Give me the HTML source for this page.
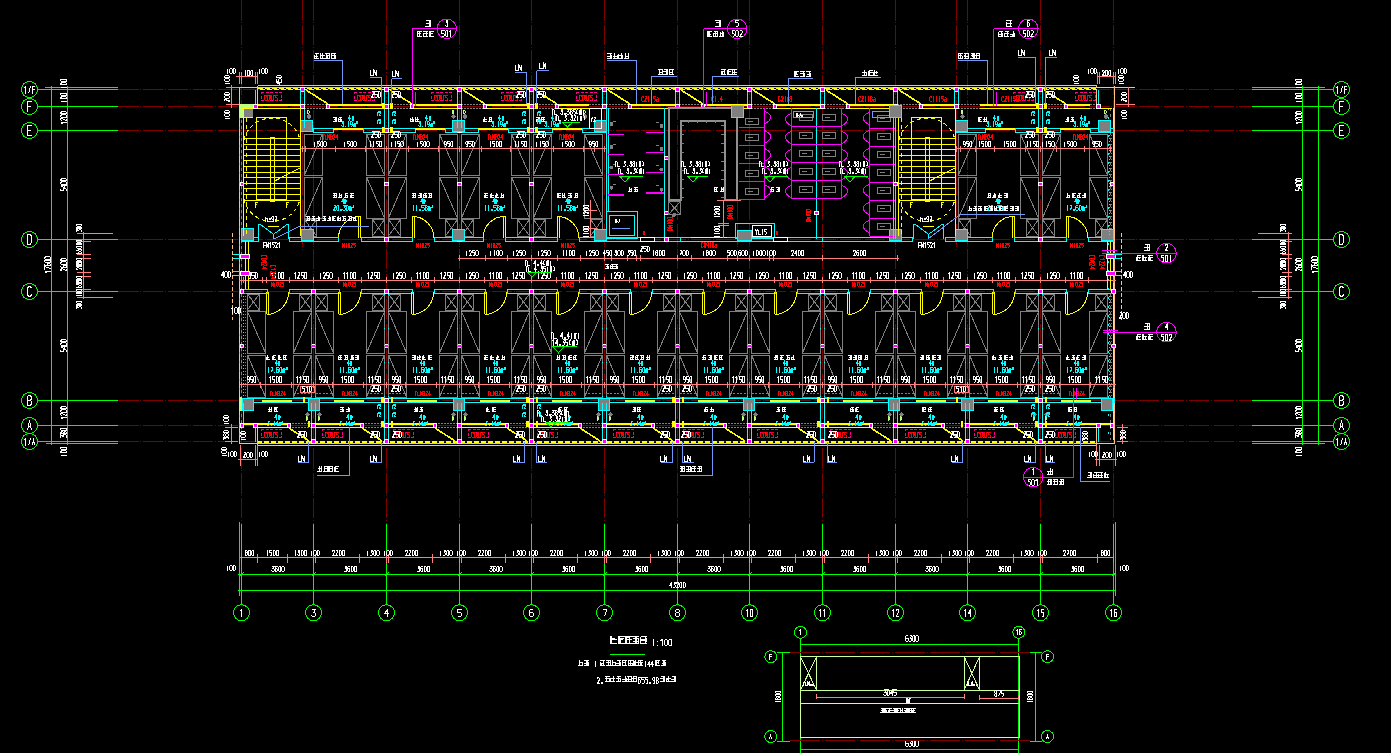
<!DOCTYPE html>
<html><head><meta charset="utf-8"><style>
html,body{margin:0;padding:0;background:#000;width:1391px;height:753px;overflow:hidden}
svg{display:block;font-family:"Liberation Sans",sans-serif}
</style></head><body>
<svg width="1391" height="753" viewBox="0 0 1391 753" shape-rendering="crispEdges" text-rendering="optimizeSpeed">
<rect x="0" y="0" width="1391" height="753" fill="#000"/>
<line x1="241.5" y1="0" x2="241.5" y2="524" stroke="#800000" stroke-dasharray="20.5,1.8,0.8,1.8"/>
<line x1="313.5" y1="0" x2="313.5" y2="524" stroke="#800000" stroke-dasharray="20.5,1.8,0.8,1.8"/>
<line x1="386.5" y1="0" x2="386.5" y2="524" stroke="#800000" stroke-dasharray="20.5,1.8,0.8,1.8"/>
<line x1="459.5" y1="0" x2="459.5" y2="524" stroke="#800000" stroke-dasharray="20.5,1.8,0.8,1.8"/>
<line x1="531.5" y1="0" x2="531.5" y2="524" stroke="#800000" stroke-dasharray="20.5,1.8,0.8,1.8"/>
<line x1="604.5" y1="0" x2="604.5" y2="524" stroke="#800000" stroke-dasharray="20.5,1.8,0.8,1.8"/>
<line x1="677.5" y1="0" x2="677.5" y2="524" stroke="#800000" stroke-dasharray="20.5,1.8,0.8,1.8"/>
<line x1="749.5" y1="0" x2="749.5" y2="524" stroke="#800000" stroke-dasharray="20.5,1.8,0.8,1.8"/>
<line x1="822.5" y1="0" x2="822.5" y2="524" stroke="#800000" stroke-dasharray="20.5,1.8,0.8,1.8"/>
<line x1="895.5" y1="0" x2="895.5" y2="524" stroke="#800000" stroke-dasharray="20.5,1.8,0.8,1.8"/>
<line x1="967.5" y1="0" x2="967.5" y2="524" stroke="#800000" stroke-dasharray="20.5,1.8,0.8,1.8"/>
<line x1="1040.5" y1="0" x2="1040.5" y2="524" stroke="#800000" stroke-dasharray="20.5,1.8,0.8,1.8"/>
<line x1="1113.5" y1="0" x2="1113.5" y2="524" stroke="#800000" stroke-dasharray="20.5,1.8,0.8,1.8"/>
<line x1="302.5" y1="0" x2="302.5" y2="250" stroke="#800000" stroke-dasharray="20.5,1.8,0.8,1.8"/>
<line x1="737.5" y1="0" x2="737.5" y2="250" stroke="#800000" stroke-dasharray="20.5,1.8,0.8,1.8"/>
<line x1="956.5" y1="0" x2="956.5" y2="250" stroke="#800000" stroke-dasharray="20.5,1.8,0.8,1.8"/>
<line x1="118" y1="89.5" x2="1252" y2="89.5" stroke="#800000" stroke-dasharray="20.5,1.8,0.8,1.8"/>
<line x1="118" y1="106.5" x2="1252" y2="106.5" stroke="#800000" stroke-dasharray="20.5,1.8,0.8,1.8"/>
<line x1="118" y1="130.5" x2="1252" y2="130.5" stroke="#800000" stroke-dasharray="20.5,1.8,0.8,1.8"/>
<line x1="118" y1="239.5" x2="1252" y2="239.5" stroke="#800000" stroke-dasharray="20.5,1.8,0.8,1.8"/>
<line x1="118" y1="291.5" x2="1252" y2="291.5" stroke="#800000" stroke-dasharray="20.5,1.8,0.8,1.8"/>
<line x1="118" y1="400.5" x2="1252" y2="400.5" stroke="#800000" stroke-dasharray="20.5,1.8,0.8,1.8"/>
<line x1="118" y1="425.5" x2="1252" y2="425.5" stroke="#800000" stroke-dasharray="20.5,1.8,0.8,1.8"/>
<line x1="118" y1="441.5" x2="1252" y2="441.5" stroke="#800000" stroke-dasharray="20.5,1.8,0.8,1.8"/>
<line x1="38" y1="89.5" x2="118" y2="89.5" stroke="#00ff00"/>
<line x1="1252" y1="89.5" x2="1333" y2="89.5" stroke="#00ff00"/>
<circle cx="29.5" cy="89.5" r="8" stroke="#00ff00" fill="none"/>
<circle cx="1341.5" cy="89.5" r="8" stroke="#00ff00" fill="none"/>
<line x1="38" y1="106.5" x2="118" y2="106.5" stroke="#00ff00"/>
<line x1="1252" y1="106.5" x2="1333" y2="106.5" stroke="#00ff00"/>
<circle cx="29.5" cy="106.5" r="8" stroke="#00ff00" fill="none"/>
<circle cx="1341.5" cy="106.5" r="8" stroke="#00ff00" fill="none"/>
<line x1="38" y1="130.5" x2="118" y2="130.5" stroke="#00ff00"/>
<line x1="1252" y1="130.5" x2="1333" y2="130.5" stroke="#00ff00"/>
<circle cx="29.5" cy="130.5" r="8" stroke="#00ff00" fill="none"/>
<circle cx="1341.5" cy="130.5" r="8" stroke="#00ff00" fill="none"/>
<line x1="38" y1="239.5" x2="118" y2="239.5" stroke="#00ff00"/>
<line x1="1252" y1="239.5" x2="1333" y2="239.5" stroke="#00ff00"/>
<circle cx="29.5" cy="239.5" r="8" stroke="#00ff00" fill="none"/>
<circle cx="1341.5" cy="239.5" r="8" stroke="#00ff00" fill="none"/>
<line x1="38" y1="291.5" x2="118" y2="291.5" stroke="#00ff00"/>
<line x1="1252" y1="291.5" x2="1333" y2="291.5" stroke="#00ff00"/>
<circle cx="29.5" cy="291.5" r="8" stroke="#00ff00" fill="none"/>
<circle cx="1341.5" cy="291.5" r="8" stroke="#00ff00" fill="none"/>
<line x1="38" y1="400.5" x2="118" y2="400.5" stroke="#00ff00"/>
<line x1="1252" y1="400.5" x2="1333" y2="400.5" stroke="#00ff00"/>
<circle cx="29.5" cy="400.5" r="8" stroke="#00ff00" fill="none"/>
<circle cx="1341.5" cy="400.5" r="8" stroke="#00ff00" fill="none"/>
<line x1="38" y1="425.5" x2="118" y2="425.5" stroke="#00ff00"/>
<line x1="1252" y1="425.5" x2="1333" y2="425.5" stroke="#00ff00"/>
<circle cx="29.5" cy="425.5" r="8" stroke="#00ff00" fill="none"/>
<circle cx="1341.5" cy="425.5" r="8" stroke="#00ff00" fill="none"/>
<line x1="38" y1="441.5" x2="118" y2="441.5" stroke="#00ff00"/>
<line x1="1252" y1="441.5" x2="1333" y2="441.5" stroke="#00ff00"/>
<circle cx="29.5" cy="441.5" r="8" stroke="#00ff00" fill="none"/>
<circle cx="1341.5" cy="441.5" r="8" stroke="#00ff00" fill="none"/>
<path d="M24.5 88.5L25.5 86.5L25.5 93.5 M28.5 93.5L30.5 86.5 M34.5 86.5L32.5 86.5L32.5 93.5M32.5 89.5L34.5 89.5 " stroke="#ffffff" fill="none"/>
<path d="M1336.5 88.5L1337.5 86.5L1337.5 93.5 M1340.5 93.5L1342.5 86.5 M1346.5 86.5L1344.5 86.5L1344.5 93.5M1344.5 89.5L1346.5 89.5 " stroke="#ffffff" fill="none"/>
<path d="M31.5 101.5L27.5 101.5L27.5 111.5M27.5 106.5L30.5 106.5 " stroke="#ffffff" fill="none"/>
<path d="M1343.5 101.5L1339.5 101.5L1339.5 111.5M1339.5 106.5L1342.5 106.5 " stroke="#ffffff" fill="none"/>
<path d="M31.5 125.5L27.5 125.5L27.5 135.5L31.5 135.5M27.5 130.5L30.5 130.5 " stroke="#ffffff" fill="none"/>
<path d="M1343.5 125.5L1339.5 125.5L1339.5 135.5L1343.5 135.5M1339.5 130.5L1342.5 130.5 " stroke="#ffffff" fill="none"/>
<path d="M27.5 234.5L30.5 234.5L31.5 236.5L31.5 241.5L30.5 244.5L27.5 244.5Z" stroke="#ffffff" fill="none"/>
<path d="M1339.5 234.5L1342.5 234.5L1343.5 236.5L1343.5 241.5L1342.5 244.5L1339.5 244.5Z" stroke="#ffffff" fill="none"/>
<path d="M31.5 288.5L30.5 286.5L28.5 286.5L27.5 288.5L27.5 294.5L28.5 296.5L30.5 296.5L31.5 294.5 " stroke="#ffffff" fill="none"/>
<path d="M1343.5 288.5L1342.5 286.5L1340.5 286.5L1339.5 288.5L1339.5 294.5L1340.5 296.5L1342.5 296.5L1343.5 294.5 " stroke="#ffffff" fill="none"/>
<path d="M27.5 395.5L30.5 395.5L31.5 397.5L31.5 398.5L30.5 400.5L27.5 400.5M30.5 400.5L31.5 401.5L31.5 403.5L30.5 405.5L27.5 405.5L27.5 395.5 " stroke="#ffffff" fill="none"/>
<path d="M1339.5 395.5L1342.5 395.5L1343.5 397.5L1343.5 398.5L1342.5 400.5L1339.5 400.5M1342.5 400.5L1343.5 401.5L1343.5 403.5L1342.5 405.5L1339.5 405.5L1339.5 395.5 " stroke="#ffffff" fill="none"/>
<path d="M27.5 430.5L29.5 420.5L31.5 430.5M28.5 426.5L30.5 426.5 " stroke="#ffffff" fill="none"/>
<path d="M1339.5 430.5L1341.5 420.5L1343.5 430.5M1340.5 426.5L1342.5 426.5 " stroke="#ffffff" fill="none"/>
<path d="M24.5 440.5L25.5 438.5L25.5 445.5 M28.5 445.5L30.5 438.5 M32.5 445.5L33.5 438.5L34.5 445.5M32.5 442.5L34.5 442.5 " stroke="#ffffff" fill="none"/>
<path d="M1336.5 440.5L1337.5 438.5L1337.5 445.5 M1340.5 445.5L1342.5 438.5 M1344.5 445.5L1345.5 438.5L1346.5 445.5M1344.5 442.5L1346.5 442.5 " stroke="#ffffff" fill="none"/>
<line x1="51.5" y1="86" x2="51.5" y2="445" stroke="#00ff00"/>
<line x1="67.5" y1="86" x2="67.5" y2="445" stroke="#00ff00"/>
<line x1="1302.5" y1="86" x2="1302.5" y2="445" stroke="#00ff00"/>
<line x1="1318.5" y1="86" x2="1318.5" y2="445" stroke="#00ff00"/>
<line x1="45" y1="87.5" x2="118" y2="87.5" stroke="#00ff00"/>
<line x1="1252" y1="87.5" x2="1325" y2="87.5" stroke="#00ff00"/>
<line x1="46" y1="443.5" x2="118" y2="443.5" stroke="#00ff00"/>
<line x1="1252" y1="443.5" x2="1325" y2="443.5" stroke="#00ff00"/>
<path d="M62.5 80.5L62.5 78.5L62.5 84.5 M65.5 78.5L66.5 78.5L67.5 79.5L67.5 83.5L66.5 84.5L65.5 84.5L65.5 83.5L65.5 79.5ZM69.5 78.5L70.5 78.5L70.5 79.5L70.5 83.5L70.5 84.5L69.5 84.5L68.5 83.5L68.5 79.5Z" stroke="#ffffff" fill="none" transform="rotate(-90 66.3 84)"/>
<path d="M62.5 94.5L62.5 92.5L62.5 98.5 M65.5 92.5L66.5 92.5L67.5 93.5L67.5 97.5L66.5 98.5L65.5 98.5L65.5 97.5L65.5 93.5ZM69.5 92.5L70.5 92.5L70.5 93.5L70.5 97.5L70.5 98.5L69.5 98.5L68.5 97.5L68.5 93.5Z" stroke="#ffffff" fill="none" transform="rotate(-90 66.3 98)"/>
<path d="M60.5 114.5L61.5 112.5L61.5 118.5 M63.5 113.5L64.5 112.5L65.5 112.5L65.5 113.5L65.5 114.5L63.5 118.5L65.5 118.5 M67.5 112.5L68.5 112.5L69.5 113.5L69.5 117.5L68.5 118.5L67.5 118.5L66.5 117.5L66.5 113.5ZM70.5 112.5L71.5 112.5L72.5 113.5L72.5 117.5L71.5 118.5L70.5 118.5L70.5 117.5L70.5 113.5Z" stroke="#ffffff" fill="none" transform="rotate(-90 66.3 118)"/>
<path d="M62.5 179.5L60.5 179.5L60.5 182.5L61.5 182.5L62.5 182.5L62.5 184.5L61.5 185.5L60.5 185.5 M65.5 185.5L65.5 179.5L63.5 183.5L65.5 183.5 M67.5 179.5L68.5 179.5L69.5 180.5L69.5 184.5L68.5 185.5L67.5 185.5L66.5 184.5L66.5 180.5ZM70.5 179.5L71.5 179.5L72.5 180.5L72.5 184.5L71.5 185.5L70.5 185.5L70.5 184.5L70.5 180.5Z" stroke="#ffffff" fill="none" transform="rotate(-90 66.3 185)"/>
<path d="M60.5 260.5L60.5 259.5L61.5 259.5L62.5 260.5L62.5 261.5L60.5 265.5L62.5 265.5 M65.5 259.5L64.5 259.5L63.5 260.5L63.5 264.5L64.5 265.5L65.5 265.5L65.5 264.5L65.5 262.5L65.5 262.5L63.5 262.5 M67.5 259.5L68.5 259.5L69.5 260.5L69.5 264.5L68.5 265.5L67.5 265.5L66.5 264.5L66.5 260.5ZM70.5 259.5L71.5 259.5L72.5 260.5L72.5 264.5L71.5 265.5L70.5 265.5L70.5 264.5L70.5 260.5Z" stroke="#ffffff" fill="none" transform="rotate(-90 66.3 265)"/>
<path d="M62.5 340.5L60.5 340.5L60.5 343.5L61.5 343.5L62.5 343.5L62.5 345.5L61.5 346.5L60.5 346.5 M65.5 346.5L65.5 340.5L63.5 344.5L65.5 344.5 M67.5 340.5L68.5 340.5L69.5 341.5L69.5 345.5L68.5 346.5L67.5 346.5L66.5 345.5L66.5 341.5ZM70.5 340.5L71.5 340.5L72.5 341.5L72.5 345.5L71.5 346.5L70.5 346.5L70.5 345.5L70.5 341.5Z" stroke="#ffffff" fill="none" transform="rotate(-90 66.3 346)"/>
<path d="M60.5 409.5L61.5 407.5L61.5 413.5 M63.5 408.5L64.5 407.5L65.5 407.5L65.5 408.5L65.5 409.5L63.5 413.5L65.5 413.5 M67.5 407.5L68.5 407.5L69.5 408.5L69.5 412.5L68.5 413.5L67.5 413.5L66.5 412.5L66.5 408.5ZM70.5 407.5L71.5 407.5L72.5 408.5L72.5 412.5L71.5 413.5L70.5 413.5L70.5 412.5L70.5 408.5Z" stroke="#ffffff" fill="none" transform="rotate(-90 66.3 413)"/>
<path d="M61.5 427.5L64.5 427.5L62.5 430.5L63.5 430.5L64.5 430.5L64.5 432.5L63.5 433.5L62.5 433.5L61.5 432.5 M65.5 427.5L66.5 427.5L67.5 428.5L67.5 429.5L66.5 430.5L65.5 430.5L65.5 429.5L65.5 428.5ZM65.5 430.5L65.5 431.5L65.5 432.5L65.5 433.5L66.5 433.5L67.5 432.5L67.5 431.5L66.5 430.5 M69.5 427.5L70.5 427.5L70.5 428.5L70.5 432.5L70.5 433.5L69.5 433.5L68.5 432.5L68.5 428.5Z" stroke="#ffffff" fill="none" transform="rotate(-90 66.3 433)"/>
<path d="M62.5 448.5L62.5 446.5L62.5 452.5 M65.5 446.5L66.5 446.5L67.5 447.5L67.5 451.5L66.5 452.5L65.5 452.5L65.5 451.5L65.5 447.5ZM69.5 446.5L70.5 446.5L70.5 447.5L70.5 451.5L70.5 452.5L69.5 452.5L68.5 451.5L68.5 447.5Z" stroke="#ffffff" fill="none" transform="rotate(-90 66.3 452)"/>
<path d="M1297.5 80.5L1297.5 78.5L1297.5 84.5 M1300.5 78.5L1301.5 78.5L1302.5 79.5L1302.5 83.5L1301.5 84.5L1300.5 84.5L1300.5 83.5L1300.5 79.5ZM1304.5 78.5L1305.5 78.5L1305.5 79.5L1305.5 83.5L1305.5 84.5L1304.5 84.5L1303.5 83.5L1303.5 79.5Z" stroke="#ffffff" fill="none" transform="rotate(-90 1301.3 84)"/>
<path d="M1297.5 94.5L1297.5 92.5L1297.5 98.5 M1300.5 92.5L1301.5 92.5L1302.5 93.5L1302.5 97.5L1301.5 98.5L1300.5 98.5L1300.5 97.5L1300.5 93.5ZM1304.5 92.5L1305.5 92.5L1305.5 93.5L1305.5 97.5L1305.5 98.5L1304.5 98.5L1303.5 97.5L1303.5 93.5Z" stroke="#ffffff" fill="none" transform="rotate(-90 1301.3 98)"/>
<path d="M1295.5 114.5L1296.5 112.5L1296.5 118.5 M1298.5 113.5L1299.5 112.5L1300.5 112.5L1300.5 113.5L1300.5 114.5L1298.5 118.5L1300.5 118.5 M1302.5 112.5L1303.5 112.5L1304.5 113.5L1304.5 117.5L1303.5 118.5L1302.5 118.5L1301.5 117.5L1301.5 113.5ZM1305.5 112.5L1306.5 112.5L1307.5 113.5L1307.5 117.5L1306.5 118.5L1305.5 118.5L1305.5 117.5L1305.5 113.5Z" stroke="#ffffff" fill="none" transform="rotate(-90 1301.3 118)"/>
<path d="M1297.5 179.5L1295.5 179.5L1295.5 182.5L1296.5 182.5L1297.5 182.5L1297.5 184.5L1296.5 185.5L1295.5 185.5 M1300.5 185.5L1300.5 179.5L1298.5 183.5L1300.5 183.5 M1302.5 179.5L1303.5 179.5L1304.5 180.5L1304.5 184.5L1303.5 185.5L1302.5 185.5L1301.5 184.5L1301.5 180.5ZM1305.5 179.5L1306.5 179.5L1307.5 180.5L1307.5 184.5L1306.5 185.5L1305.5 185.5L1305.5 184.5L1305.5 180.5Z" stroke="#ffffff" fill="none" transform="rotate(-90 1301.3 185)"/>
<path d="M1295.5 260.5L1295.5 259.5L1296.5 259.5L1297.5 260.5L1297.5 261.5L1295.5 265.5L1297.5 265.5 M1300.5 259.5L1299.5 259.5L1298.5 260.5L1298.5 264.5L1299.5 265.5L1300.5 265.5L1300.5 264.5L1300.5 262.5L1300.5 262.5L1298.5 262.5 M1302.5 259.5L1303.5 259.5L1304.5 260.5L1304.5 264.5L1303.5 265.5L1302.5 265.5L1301.5 264.5L1301.5 260.5ZM1305.5 259.5L1306.5 259.5L1307.5 260.5L1307.5 264.5L1306.5 265.5L1305.5 265.5L1305.5 264.5L1305.5 260.5Z" stroke="#ffffff" fill="none" transform="rotate(-90 1301.3 265)"/>
<path d="M1297.5 340.5L1295.5 340.5L1295.5 343.5L1296.5 343.5L1297.5 343.5L1297.5 345.5L1296.5 346.5L1295.5 346.5 M1300.5 346.5L1300.5 340.5L1298.5 344.5L1300.5 344.5 M1302.5 340.5L1303.5 340.5L1304.5 341.5L1304.5 345.5L1303.5 346.5L1302.5 346.5L1301.5 345.5L1301.5 341.5ZM1305.5 340.5L1306.5 340.5L1307.5 341.5L1307.5 345.5L1306.5 346.5L1305.5 346.5L1305.5 345.5L1305.5 341.5Z" stroke="#ffffff" fill="none" transform="rotate(-90 1301.3 346)"/>
<path d="M1295.5 409.5L1296.5 407.5L1296.5 413.5 M1298.5 408.5L1299.5 407.5L1300.5 407.5L1300.5 408.5L1300.5 409.5L1298.5 413.5L1300.5 413.5 M1302.5 407.5L1303.5 407.5L1304.5 408.5L1304.5 412.5L1303.5 413.5L1302.5 413.5L1301.5 412.5L1301.5 408.5ZM1305.5 407.5L1306.5 407.5L1307.5 408.5L1307.5 412.5L1306.5 413.5L1305.5 413.5L1305.5 412.5L1305.5 408.5Z" stroke="#ffffff" fill="none" transform="rotate(-90 1301.3 413)"/>
<path d="M1296.5 427.5L1299.5 427.5L1297.5 430.5L1298.5 430.5L1299.5 430.5L1299.5 432.5L1298.5 433.5L1297.5 433.5L1296.5 432.5 M1300.5 427.5L1301.5 427.5L1302.5 428.5L1302.5 429.5L1301.5 430.5L1300.5 430.5L1300.5 429.5L1300.5 428.5ZM1300.5 430.5L1300.5 431.5L1300.5 432.5L1300.5 433.5L1301.5 433.5L1302.5 432.5L1302.5 431.5L1301.5 430.5 M1304.5 427.5L1305.5 427.5L1305.5 428.5L1305.5 432.5L1305.5 433.5L1304.5 433.5L1303.5 432.5L1303.5 428.5Z" stroke="#ffffff" fill="none" transform="rotate(-90 1301.3 433)"/>
<path d="M1297.5 448.5L1297.5 446.5L1297.5 452.5 M1300.5 446.5L1301.5 446.5L1302.5 447.5L1302.5 451.5L1301.5 452.5L1300.5 452.5L1300.5 451.5L1300.5 447.5ZM1304.5 446.5L1305.5 446.5L1305.5 447.5L1305.5 451.5L1305.5 452.5L1304.5 452.5L1303.5 451.5L1303.5 447.5Z" stroke="#ffffff" fill="none" transform="rotate(-90 1301.3 452)"/>
<path d="M42.5 261.5L43.5 259.5L43.5 265.5 M45.5 259.5L48.5 259.5L48.5 260.5L46.5 265.5 M51.5 259.5L49.5 259.5L49.5 260.5L49.5 264.5L49.5 265.5L50.5 265.5L51.5 264.5L51.5 262.5L50.5 262.5L49.5 262.5 M53.5 259.5L54.5 259.5L54.5 260.5L54.5 264.5L54.5 265.5L53.5 265.5L52.5 264.5L52.5 260.5ZM56.5 259.5L57.5 259.5L58.5 260.5L58.5 264.5L57.5 265.5L56.5 265.5L55.5 264.5L55.5 260.5Z" stroke="#ffffff" fill="none" transform="rotate(-90 50.3 265)"/>
<path d="M1309.5 261.5L1310.5 259.5L1310.5 265.5 M1312.5 259.5L1315.5 259.5L1315.5 260.5L1313.5 265.5 M1318.5 259.5L1316.5 259.5L1316.5 260.5L1316.5 264.5L1316.5 265.5L1317.5 265.5L1318.5 264.5L1318.5 262.5L1317.5 262.5L1316.5 262.5 M1320.5 259.5L1321.5 259.5L1321.5 260.5L1321.5 264.5L1321.5 265.5L1320.5 265.5L1319.5 264.5L1319.5 260.5ZM1323.5 259.5L1324.5 259.5L1325.5 260.5L1325.5 264.5L1324.5 265.5L1323.5 265.5L1322.5 264.5L1322.5 260.5Z" stroke="#ffffff" fill="none" transform="rotate(-90 1317.3 265)"/>
<line x1="83.5" y1="232" x2="83.5" y2="299" stroke="#ff7f7f"/>
<line x1="77" y1="233.5" x2="113" y2="233.5" stroke="#ff7f7f"/>
<line x1="77" y1="241.5" x2="90.5" y2="241.5" stroke="#ff7f7f"/>
<line x1="77" y1="254.5" x2="90.5" y2="254.5" stroke="#ff7f7f"/>
<line x1="77" y1="258.5" x2="90.5" y2="258.5" stroke="#ff7f7f"/>
<line x1="77" y1="272.5" x2="90.5" y2="272.5" stroke="#ff7f7f"/>
<line x1="77" y1="276.5" x2="90.5" y2="276.5" stroke="#ff7f7f"/>
<line x1="77" y1="289.5" x2="90.5" y2="289.5" stroke="#ff7f7f"/>
<line x1="77" y1="297.5" x2="113" y2="297.5" stroke="#ff7f7f"/>
<line x1="1288.5" y1="232" x2="1288.5" y2="299" stroke="#ff7f7f"/>
<line x1="1292" y1="233.5" x2="1258" y2="233.5" stroke="#ff7f7f"/>
<line x1="1292" y1="241.5" x2="1281.5" y2="241.5" stroke="#ff7f7f"/>
<line x1="1292" y1="254.5" x2="1281.5" y2="254.5" stroke="#ff7f7f"/>
<line x1="1292" y1="258.5" x2="1281.5" y2="258.5" stroke="#ff7f7f"/>
<line x1="1292" y1="272.5" x2="1281.5" y2="272.5" stroke="#ff7f7f"/>
<line x1="1292" y1="276.5" x2="1281.5" y2="276.5" stroke="#ff7f7f"/>
<line x1="1292" y1="289.5" x2="1281.5" y2="289.5" stroke="#ff7f7f"/>
<line x1="1292" y1="297.5" x2="1258" y2="297.5" stroke="#ff7f7f"/>
<line x1="239.5" y1="87" x2="239.5" y2="444" stroke="#ffbf7f"/>
<line x1="239.5" y1="100" x2="239.5" y2="440" stroke="#00ffff" stroke-dasharray="2,7"/>
<line x1="241" y1="108" x2="241" y2="440" stroke="#808080" stroke-dasharray="3,3"/>
<line x1="1114.5" y1="86" x2="1114.5" y2="444" stroke="#ffbf7f"/>
<line x1="1113.5" y1="108" x2="1113.5" y2="440" stroke="#bfff7f"/>
<line x1="1110.5" y1="108" x2="1110.5" y2="440" stroke="#808080" stroke-dasharray="3,3"/>
<line x1="1108.5" y1="108" x2="1108.5" y2="440" stroke="#00ffff" stroke-dasharray="2,7"/>
<rect x="239" y="104" width="14" height="14" stroke="none" fill="#bfff7f"/>
<rect x="244" y="108" width="8.5" height="9" stroke="none" fill="#808080"/>
<rect x="239" y="397" width="3" height="14" stroke="none" fill="#bfff7f"/>
<line x1="257.5" y1="85.5" x2="1096.5" y2="85.5" stroke="#ffbf7f"/>
<line x1="257.5" y1="85.5" x2="257.5" y2="106" stroke="#ffbf7f"/>
<line x1="1096.5" y1="85.5" x2="1096.5" y2="106" stroke="#ffbf7f"/>
<line x1="239.5" y1="87.5" x2="257.5" y2="87.5" stroke="#ffbf7f"/>
<line x1="1096.5" y1="87.5" x2="1135" y2="87.5" stroke="#ffbf7f"/>
<line x1="257.5" y1="87.5" x2="1096.5" y2="87.5" stroke="#ffbf7f"/>
<line x1="257.5" y1="89" x2="1096.5" y2="89" stroke="#ffff00" stroke-width="2"/>
<line x1="257.5" y1="88.5" x2="1096.5" y2="88.5" stroke="#000" stroke-dasharray="2,5" stroke-dashoffset="1.5"/>
<line x1="257.5" y1="89.5" x2="1096.5" y2="89.5" stroke="#800000" stroke-dasharray="2,5" stroke-dashoffset="6.5"/>
<line x1="253" y1="104.9" x2="1101" y2="104.9" stroke="#ffff00" stroke-width="2"/>
<line x1="242" y1="108.5" x2="1112" y2="108.5" stroke="#ffff00"/>
<rect x="253" y="103.5" width="3" height="6" stroke="none" fill="#000"/>
<line x1="253" y1="104.5" x2="256" y2="104.5" stroke="#808080" stroke-dasharray="2,1"/>
<line x1="253" y1="108.5" x2="256" y2="108.5" stroke="#808080" stroke-dasharray="2,1"/>
<line x1="253" y1="106.5" x2="256" y2="106.5" stroke="#800000"/>
<rect x="304" y="103.5" width="22" height="6" stroke="none" fill="#000"/>
<line x1="304" y1="104.5" x2="326" y2="104.5" stroke="#808080" stroke-dasharray="2,1"/>
<line x1="304" y1="108.5" x2="326" y2="108.5" stroke="#808080" stroke-dasharray="2,1"/>
<line x1="304" y1="106.5" x2="326" y2="106.5" stroke="#800000"/>
<rect x="388" y="103.5" width="22" height="6" stroke="none" fill="#000"/>
<line x1="388" y1="104.5" x2="410" y2="104.5" stroke="#808080" stroke-dasharray="2,1"/>
<line x1="388" y1="108.5" x2="410" y2="108.5" stroke="#808080" stroke-dasharray="2,1"/>
<line x1="388" y1="106.5" x2="410" y2="106.5" stroke="#800000"/>
<rect x="461" y="103.5" width="22" height="6" stroke="none" fill="#000"/>
<line x1="461" y1="104.5" x2="483" y2="104.5" stroke="#808080" stroke-dasharray="2,1"/>
<line x1="461" y1="108.5" x2="483" y2="108.5" stroke="#808080" stroke-dasharray="2,1"/>
<line x1="461" y1="106.5" x2="483" y2="106.5" stroke="#800000"/>
<rect x="533" y="103.5" width="22" height="6" stroke="none" fill="#000"/>
<line x1="533" y1="104.5" x2="555" y2="104.5" stroke="#808080" stroke-dasharray="2,1"/>
<line x1="533" y1="108.5" x2="555" y2="108.5" stroke="#808080" stroke-dasharray="2,1"/>
<line x1="533" y1="106.5" x2="555" y2="106.5" stroke="#800000"/>
<rect x="589" y="103.5" width="22" height="6" stroke="none" fill="#000"/>
<line x1="589" y1="104.5" x2="611" y2="104.5" stroke="#808080" stroke-dasharray="2,1"/>
<line x1="589" y1="108.5" x2="611" y2="108.5" stroke="#808080" stroke-dasharray="2,1"/>
<line x1="589" y1="106.5" x2="611" y2="106.5" stroke="#800000"/>
<rect x="606" y="103.5" width="22" height="6" stroke="none" fill="#000"/>
<line x1="606" y1="104.5" x2="628" y2="104.5" stroke="#808080" stroke-dasharray="2,1"/>
<line x1="606" y1="108.5" x2="628" y2="108.5" stroke="#808080" stroke-dasharray="2,1"/>
<line x1="606" y1="106.5" x2="628" y2="106.5" stroke="#800000"/>
<rect x="679" y="103.5" width="22" height="6" stroke="none" fill="#000"/>
<line x1="679" y1="104.5" x2="701" y2="104.5" stroke="#808080" stroke-dasharray="2,1"/>
<line x1="679" y1="108.5" x2="701" y2="108.5" stroke="#808080" stroke-dasharray="2,1"/>
<line x1="679" y1="106.5" x2="701" y2="106.5" stroke="#800000"/>
<rect x="751" y="103.5" width="22" height="6" stroke="none" fill="#000"/>
<line x1="751" y1="104.5" x2="773" y2="104.5" stroke="#808080" stroke-dasharray="2,1"/>
<line x1="751" y1="108.5" x2="773" y2="108.5" stroke="#808080" stroke-dasharray="2,1"/>
<line x1="751" y1="106.5" x2="773" y2="106.5" stroke="#800000"/>
<rect x="824" y="103.5" width="22" height="6" stroke="none" fill="#000"/>
<line x1="824" y1="104.5" x2="846" y2="104.5" stroke="#808080" stroke-dasharray="2,1"/>
<line x1="824" y1="108.5" x2="846" y2="108.5" stroke="#808080" stroke-dasharray="2,1"/>
<line x1="824" y1="106.5" x2="846" y2="106.5" stroke="#800000"/>
<rect x="897" y="103.5" width="22" height="6" stroke="none" fill="#000"/>
<line x1="897" y1="104.5" x2="919" y2="104.5" stroke="#808080" stroke-dasharray="2,1"/>
<line x1="897" y1="108.5" x2="919" y2="108.5" stroke="#808080" stroke-dasharray="2,1"/>
<line x1="897" y1="106.5" x2="919" y2="106.5" stroke="#800000"/>
<rect x="958" y="103.5" width="22" height="6" stroke="none" fill="#000"/>
<line x1="958" y1="104.5" x2="980" y2="104.5" stroke="#808080" stroke-dasharray="2,1"/>
<line x1="958" y1="108.5" x2="980" y2="108.5" stroke="#808080" stroke-dasharray="2,1"/>
<line x1="958" y1="106.5" x2="980" y2="106.5" stroke="#800000"/>
<rect x="1042" y="103.5" width="22" height="6" stroke="none" fill="#000"/>
<line x1="1042" y1="104.5" x2="1064" y2="104.5" stroke="#808080" stroke-dasharray="2,1"/>
<line x1="1042" y1="108.5" x2="1064" y2="108.5" stroke="#808080" stroke-dasharray="2,1"/>
<line x1="1042" y1="106.5" x2="1064" y2="106.5" stroke="#800000"/>
<rect x="1090" y="103.5" width="11" height="6" stroke="none" fill="#000"/>
<line x1="1090" y1="104.5" x2="1101" y2="104.5" stroke="#808080" stroke-dasharray="2,1"/>
<line x1="1090" y1="108.5" x2="1101" y2="108.5" stroke="#808080" stroke-dasharray="2,1"/>
<line x1="1090" y1="106.5" x2="1101" y2="106.5" stroke="#800000"/>
<line x1="242" y1="424" x2="1112" y2="424" stroke="#ffff00" stroke-width="2"/>
<line x1="257.5" y1="427.5" x2="1096.5" y2="427.5" stroke="#ffff00"/>
<rect x="289" y="422.5" width="22" height="6" stroke="none" fill="#000"/>
<line x1="289" y1="423.5" x2="311" y2="423.5" stroke="#808080" stroke-dasharray="2,1"/>
<line x1="289" y1="427.5" x2="311" y2="427.5" stroke="#808080" stroke-dasharray="2,1"/>
<line x1="289" y1="425.5" x2="311" y2="425.5" stroke="#800000"/>
<rect x="362" y="422.5" width="22" height="6" stroke="none" fill="#000"/>
<line x1="362" y1="423.5" x2="384" y2="423.5" stroke="#808080" stroke-dasharray="2,1"/>
<line x1="362" y1="427.5" x2="384" y2="427.5" stroke="#808080" stroke-dasharray="2,1"/>
<line x1="362" y1="425.5" x2="384" y2="425.5" stroke="#800000"/>
<rect x="435" y="422.5" width="22" height="6" stroke="none" fill="#000"/>
<line x1="435" y1="423.5" x2="457" y2="423.5" stroke="#808080" stroke-dasharray="2,1"/>
<line x1="435" y1="427.5" x2="457" y2="427.5" stroke="#808080" stroke-dasharray="2,1"/>
<line x1="435" y1="425.5" x2="457" y2="425.5" stroke="#800000"/>
<rect x="507" y="422.5" width="22" height="6" stroke="none" fill="#000"/>
<line x1="507" y1="423.5" x2="529" y2="423.5" stroke="#808080" stroke-dasharray="2,1"/>
<line x1="507" y1="427.5" x2="529" y2="427.5" stroke="#808080" stroke-dasharray="2,1"/>
<line x1="507" y1="425.5" x2="529" y2="425.5" stroke="#800000"/>
<rect x="580" y="422.5" width="22" height="6" stroke="none" fill="#000"/>
<line x1="580" y1="423.5" x2="602" y2="423.5" stroke="#808080" stroke-dasharray="2,1"/>
<line x1="580" y1="427.5" x2="602" y2="427.5" stroke="#808080" stroke-dasharray="2,1"/>
<line x1="580" y1="425.5" x2="602" y2="425.5" stroke="#800000"/>
<rect x="653" y="422.5" width="22" height="6" stroke="none" fill="#000"/>
<line x1="653" y1="423.5" x2="675" y2="423.5" stroke="#808080" stroke-dasharray="2,1"/>
<line x1="653" y1="427.5" x2="675" y2="427.5" stroke="#808080" stroke-dasharray="2,1"/>
<line x1="653" y1="425.5" x2="675" y2="425.5" stroke="#800000"/>
<rect x="725" y="422.5" width="22" height="6" stroke="none" fill="#000"/>
<line x1="725" y1="423.5" x2="747" y2="423.5" stroke="#808080" stroke-dasharray="2,1"/>
<line x1="725" y1="427.5" x2="747" y2="427.5" stroke="#808080" stroke-dasharray="2,1"/>
<line x1="725" y1="425.5" x2="747" y2="425.5" stroke="#800000"/>
<rect x="798" y="422.5" width="22" height="6" stroke="none" fill="#000"/>
<line x1="798" y1="423.5" x2="820" y2="423.5" stroke="#808080" stroke-dasharray="2,1"/>
<line x1="798" y1="427.5" x2="820" y2="427.5" stroke="#808080" stroke-dasharray="2,1"/>
<line x1="798" y1="425.5" x2="820" y2="425.5" stroke="#800000"/>
<rect x="871" y="422.5" width="22" height="6" stroke="none" fill="#000"/>
<line x1="871" y1="423.5" x2="893" y2="423.5" stroke="#808080" stroke-dasharray="2,1"/>
<line x1="871" y1="427.5" x2="893" y2="427.5" stroke="#808080" stroke-dasharray="2,1"/>
<line x1="871" y1="425.5" x2="893" y2="425.5" stroke="#800000"/>
<rect x="943" y="422.5" width="22" height="6" stroke="none" fill="#000"/>
<line x1="943" y1="423.5" x2="965" y2="423.5" stroke="#808080" stroke-dasharray="2,1"/>
<line x1="943" y1="427.5" x2="965" y2="427.5" stroke="#808080" stroke-dasharray="2,1"/>
<line x1="943" y1="425.5" x2="965" y2="425.5" stroke="#800000"/>
<rect x="1016" y="422.5" width="22" height="6" stroke="none" fill="#000"/>
<line x1="1016" y1="423.5" x2="1038" y2="423.5" stroke="#808080" stroke-dasharray="2,1"/>
<line x1="1016" y1="427.5" x2="1038" y2="427.5" stroke="#808080" stroke-dasharray="2,1"/>
<line x1="1016" y1="425.5" x2="1038" y2="425.5" stroke="#800000"/>
<line x1="257.5" y1="442" x2="1096.5" y2="442" stroke="#ffff00" stroke-width="2"/>
<line x1="257.5" y1="443.5" x2="1096.5" y2="443.5" stroke="#ffbf7f"/>
<line x1="257.5" y1="441.5" x2="1096.5" y2="441.5" stroke="#800000" stroke-dasharray="2,5" stroke-dashoffset="2.5"/>
<line x1="257.5" y1="442.5" x2="1096.5" y2="442.5" stroke="#000" stroke-dasharray="2,5" stroke-dashoffset="2.5"/>
<line x1="257.5" y1="445.2" x2="1096.5" y2="445.2" stroke="#ffbf7f"/>
<line x1="239.5" y1="443.6" x2="257.5" y2="443.6" stroke="#ffbf7f"/>
<line x1="1096.5" y1="443.6" x2="1114.5" y2="443.6" stroke="#ffbf7f"/>
<line x1="257.5" y1="427" x2="257.5" y2="445" stroke="#ffbf7f"/>
<line x1="1096.5" y1="427" x2="1096.5" y2="445" stroke="#ffbf7f"/>
<line x1="255.5" y1="427" x2="255.5" y2="442" stroke="#00ffff"/>
<line x1="1098.5" y1="427" x2="1098.5" y2="442" stroke="#00ffff"/>
<line x1="255.5" y1="90" x2="255.5" y2="105" stroke="#00ffff"/>
<line x1="1098.5" y1="90" x2="1098.5" y2="105" stroke="#00ffff"/>
<line x1="311.5" y1="428" x2="311.5" y2="441" stroke="#00ffff"/>
<line x1="315.5" y1="428" x2="315.5" y2="441" stroke="#00ffff"/>
<rect x="311.9" y="423.9" width="3.2" height="3.2" stroke="#ffffff" fill="#ff00ff"/>
<rect x="311.9" y="439.9" width="3.2" height="3.2" stroke="#ffffff" fill="#ff00ff"/>
<line x1="384.5" y1="90" x2="384.5" y2="104" stroke="#00ffff"/>
<line x1="388.5" y1="90" x2="388.5" y2="104" stroke="#00ffff"/>
<rect x="384.9" y="87.9" width="3.2" height="3.2" stroke="#ffffff" fill="#ff00ff"/>
<rect x="384.9" y="104.9" width="3.2" height="3.2" stroke="#ffffff" fill="#ff00ff"/>
<line x1="384.5" y1="428" x2="384.5" y2="441" stroke="#00ffff"/>
<line x1="388.5" y1="428" x2="388.5" y2="441" stroke="#00ffff"/>
<rect x="384.9" y="423.9" width="3.2" height="3.2" stroke="#ffffff" fill="#ff00ff"/>
<rect x="384.9" y="439.9" width="3.2" height="3.2" stroke="#ffffff" fill="#ff00ff"/>
<line x1="457.5" y1="90" x2="457.5" y2="104" stroke="#00ffff"/>
<line x1="461.5" y1="90" x2="461.5" y2="104" stroke="#00ffff"/>
<rect x="457.9" y="87.9" width="3.2" height="3.2" stroke="#ffffff" fill="#ff00ff"/>
<rect x="457.9" y="104.9" width="3.2" height="3.2" stroke="#ffffff" fill="#ff00ff"/>
<line x1="457.5" y1="428" x2="457.5" y2="441" stroke="#00ffff"/>
<line x1="461.5" y1="428" x2="461.5" y2="441" stroke="#00ffff"/>
<rect x="457.9" y="423.9" width="3.2" height="3.2" stroke="#ffffff" fill="#ff00ff"/>
<rect x="457.9" y="439.9" width="3.2" height="3.2" stroke="#ffffff" fill="#ff00ff"/>
<line x1="529.5" y1="90" x2="529.5" y2="104" stroke="#00ffff"/>
<line x1="533.5" y1="90" x2="533.5" y2="104" stroke="#00ffff"/>
<rect x="529.9" y="87.9" width="3.2" height="3.2" stroke="#ffffff" fill="#ff00ff"/>
<rect x="529.9" y="104.9" width="3.2" height="3.2" stroke="#ffffff" fill="#ff00ff"/>
<line x1="529.5" y1="428" x2="529.5" y2="441" stroke="#00ffff"/>
<line x1="533.5" y1="428" x2="533.5" y2="441" stroke="#00ffff"/>
<rect x="529.9" y="423.9" width="3.2" height="3.2" stroke="#ffffff" fill="#ff00ff"/>
<rect x="529.9" y="439.9" width="3.2" height="3.2" stroke="#ffffff" fill="#ff00ff"/>
<line x1="602.5" y1="90" x2="602.5" y2="104" stroke="#00ffff"/>
<line x1="606.5" y1="90" x2="606.5" y2="104" stroke="#00ffff"/>
<rect x="602.9" y="87.9" width="3.2" height="3.2" stroke="#ffffff" fill="#ff00ff"/>
<rect x="602.9" y="104.9" width="3.2" height="3.2" stroke="#ffffff" fill="#ff00ff"/>
<line x1="602.5" y1="428" x2="602.5" y2="441" stroke="#00ffff"/>
<line x1="606.5" y1="428" x2="606.5" y2="441" stroke="#00ffff"/>
<rect x="602.9" y="423.9" width="3.2" height="3.2" stroke="#ffffff" fill="#ff00ff"/>
<rect x="602.9" y="439.9" width="3.2" height="3.2" stroke="#ffffff" fill="#ff00ff"/>
<line x1="675.5" y1="90" x2="675.5" y2="104" stroke="#00ffff"/>
<line x1="679.5" y1="90" x2="679.5" y2="104" stroke="#00ffff"/>
<rect x="675.9" y="87.9" width="3.2" height="3.2" stroke="#ffffff" fill="#ff00ff"/>
<rect x="675.9" y="104.9" width="3.2" height="3.2" stroke="#ffffff" fill="#ff00ff"/>
<line x1="675.5" y1="428" x2="675.5" y2="441" stroke="#00ffff"/>
<line x1="679.5" y1="428" x2="679.5" y2="441" stroke="#00ffff"/>
<rect x="675.9" y="423.9" width="3.2" height="3.2" stroke="#ffffff" fill="#ff00ff"/>
<rect x="675.9" y="439.9" width="3.2" height="3.2" stroke="#ffffff" fill="#ff00ff"/>
<line x1="747.5" y1="90" x2="747.5" y2="104" stroke="#00ffff"/>
<line x1="751.5" y1="90" x2="751.5" y2="104" stroke="#00ffff"/>
<rect x="747.9" y="87.9" width="3.2" height="3.2" stroke="#ffffff" fill="#ff00ff"/>
<rect x="747.9" y="104.9" width="3.2" height="3.2" stroke="#ffffff" fill="#ff00ff"/>
<line x1="747.5" y1="428" x2="747.5" y2="441" stroke="#00ffff"/>
<line x1="751.5" y1="428" x2="751.5" y2="441" stroke="#00ffff"/>
<rect x="747.9" y="423.9" width="3.2" height="3.2" stroke="#ffffff" fill="#ff00ff"/>
<rect x="747.9" y="439.9" width="3.2" height="3.2" stroke="#ffffff" fill="#ff00ff"/>
<line x1="820.5" y1="90" x2="820.5" y2="104" stroke="#00ffff"/>
<line x1="824.5" y1="90" x2="824.5" y2="104" stroke="#00ffff"/>
<rect x="820.9" y="87.9" width="3.2" height="3.2" stroke="#ffffff" fill="#ff00ff"/>
<rect x="820.9" y="104.9" width="3.2" height="3.2" stroke="#ffffff" fill="#ff00ff"/>
<line x1="820.5" y1="428" x2="820.5" y2="441" stroke="#00ffff"/>
<line x1="824.5" y1="428" x2="824.5" y2="441" stroke="#00ffff"/>
<rect x="820.9" y="423.9" width="3.2" height="3.2" stroke="#ffffff" fill="#ff00ff"/>
<rect x="820.9" y="439.9" width="3.2" height="3.2" stroke="#ffffff" fill="#ff00ff"/>
<line x1="893.5" y1="90" x2="893.5" y2="104" stroke="#00ffff"/>
<line x1="897.5" y1="90" x2="897.5" y2="104" stroke="#00ffff"/>
<rect x="893.9" y="87.9" width="3.2" height="3.2" stroke="#ffffff" fill="#ff00ff"/>
<rect x="893.9" y="104.9" width="3.2" height="3.2" stroke="#ffffff" fill="#ff00ff"/>
<line x1="893.5" y1="428" x2="893.5" y2="441" stroke="#00ffff"/>
<line x1="897.5" y1="428" x2="897.5" y2="441" stroke="#00ffff"/>
<rect x="893.9" y="423.9" width="3.2" height="3.2" stroke="#ffffff" fill="#ff00ff"/>
<rect x="893.9" y="439.9" width="3.2" height="3.2" stroke="#ffffff" fill="#ff00ff"/>
<line x1="965.5" y1="428" x2="965.5" y2="441" stroke="#00ffff"/>
<line x1="969.5" y1="428" x2="969.5" y2="441" stroke="#00ffff"/>
<rect x="965.9" y="423.9" width="3.2" height="3.2" stroke="#ffffff" fill="#ff00ff"/>
<rect x="965.9" y="439.9" width="3.2" height="3.2" stroke="#ffffff" fill="#ff00ff"/>
<line x1="1038.5" y1="90" x2="1038.5" y2="104" stroke="#00ffff"/>
<line x1="1042.5" y1="90" x2="1042.5" y2="104" stroke="#00ffff"/>
<rect x="1038.9" y="87.9" width="3.2" height="3.2" stroke="#ffffff" fill="#ff00ff"/>
<rect x="1038.9" y="104.9" width="3.2" height="3.2" stroke="#ffffff" fill="#ff00ff"/>
<line x1="1038.5" y1="428" x2="1038.5" y2="441" stroke="#00ffff"/>
<line x1="1042.5" y1="428" x2="1042.5" y2="441" stroke="#00ffff"/>
<rect x="1038.9" y="423.9" width="3.2" height="3.2" stroke="#ffffff" fill="#ff00ff"/>
<rect x="1038.9" y="439.9" width="3.2" height="3.2" stroke="#ffffff" fill="#ff00ff"/>
<rect x="300.9" y="87.9" width="3.2" height="3.2" stroke="#ffffff" fill="#ff00ff"/>
<rect x="300.9" y="104.9" width="3.2" height="3.2" stroke="#ffffff" fill="#ff00ff"/>
<rect x="954.9" y="87.9" width="3.2" height="3.2" stroke="#ffffff" fill="#ff00ff"/>
<rect x="954.9" y="104.9" width="3.2" height="3.2" stroke="#ffffff" fill="#ff00ff"/>
<line x1="300.5" y1="90" x2="300.5" y2="104" stroke="#00ffff"/>
<line x1="304.5" y1="90" x2="304.5" y2="104" stroke="#00ffff"/>
<line x1="954.5" y1="90" x2="954.5" y2="104" stroke="#00ffff"/>
<line x1="958.5" y1="90" x2="958.5" y2="104" stroke="#00ffff"/>
<rect x="240.4" y="182.4" width="3.2" height="3.2" stroke="#ffffff" fill="#ff00ff"/>
<rect x="1110.4" y="182.4" width="3.2" height="3.2" stroke="#ffffff" fill="#ff00ff"/>
<rect x="240.4" y="423.9" width="3.2" height="3.2" stroke="#ffffff" fill="#ff00ff"/>
<rect x="253.9" y="423.9" width="3.2" height="3.2" stroke="#ffffff" fill="#ff00ff"/>
<rect x="1110.4" y="423.9" width="3.2" height="3.2" stroke="#ffffff" fill="#ff00ff"/>
<rect x="1096.9" y="423.9" width="3.2" height="3.2" stroke="#ffffff" fill="#ff00ff"/>
<rect x="253.9" y="104.9" width="3.2" height="3.2" stroke="#ffffff" fill="#ff00ff"/>
<rect x="1096.9" y="104.9" width="3.2" height="3.2" stroke="#ffffff" fill="#ff00ff"/>
<line x1="306" y1="90" x2="328" y2="104" stroke="#ffff00" stroke-width="1.6"/>
<rect x="326.4" y="104.9" width="3.2" height="3.2" stroke="#ffffff" fill="#ff00ff"/>
<line x1="390" y1="90" x2="412" y2="104" stroke="#ffff00" stroke-width="1.6"/>
<rect x="410.4" y="104.9" width="3.2" height="3.2" stroke="#ffffff" fill="#ff00ff"/>
<line x1="463" y1="90" x2="485" y2="104" stroke="#ffff00" stroke-width="1.6"/>
<rect x="483.4" y="104.9" width="3.2" height="3.2" stroke="#ffffff" fill="#ff00ff"/>
<line x1="535" y1="90" x2="557" y2="104" stroke="#ffff00" stroke-width="1.6"/>
<rect x="555.4" y="104.9" width="3.2" height="3.2" stroke="#ffffff" fill="#ff00ff"/>
<line x1="608" y1="90" x2="630" y2="104" stroke="#ffff00" stroke-width="1.6"/>
<rect x="628.4" y="104.9" width="3.2" height="3.2" stroke="#ffffff" fill="#ff00ff"/>
<line x1="681" y1="90" x2="703" y2="104" stroke="#ffff00" stroke-width="1.6"/>
<rect x="701.4" y="104.9" width="3.2" height="3.2" stroke="#ffffff" fill="#ff00ff"/>
<line x1="753" y1="90" x2="775" y2="104" stroke="#ffff00" stroke-width="1.6"/>
<rect x="773.4" y="104.9" width="3.2" height="3.2" stroke="#ffffff" fill="#ff00ff"/>
<line x1="826" y1="90" x2="848" y2="104" stroke="#ffff00" stroke-width="1.6"/>
<rect x="846.4" y="104.9" width="3.2" height="3.2" stroke="#ffffff" fill="#ff00ff"/>
<line x1="899" y1="90" x2="921" y2="104" stroke="#ffff00" stroke-width="1.6"/>
<rect x="919.4" y="104.9" width="3.2" height="3.2" stroke="#ffffff" fill="#ff00ff"/>
<line x1="1044" y1="90" x2="1066" y2="104" stroke="#ffff00" stroke-width="1.6"/>
<rect x="1064.4" y="104.9" width="3.2" height="3.2" stroke="#ffffff" fill="#ff00ff"/>
<line x1="289" y1="428" x2="309" y2="441" stroke="#ffff00" stroke-width="1.6"/>
<rect x="287.4" y="423.9" width="3.2" height="3.2" stroke="#ffffff" fill="#ff00ff"/>
<line x1="362" y1="428" x2="382" y2="441" stroke="#ffff00" stroke-width="1.6"/>
<rect x="360.4" y="423.9" width="3.2" height="3.2" stroke="#ffffff" fill="#ff00ff"/>
<line x1="435" y1="428" x2="455" y2="441" stroke="#ffff00" stroke-width="1.6"/>
<rect x="433.4" y="423.9" width="3.2" height="3.2" stroke="#ffffff" fill="#ff00ff"/>
<line x1="507" y1="428" x2="527" y2="441" stroke="#ffff00" stroke-width="1.6"/>
<rect x="505.4" y="423.9" width="3.2" height="3.2" stroke="#ffffff" fill="#ff00ff"/>
<line x1="580" y1="428" x2="600" y2="441" stroke="#ffff00" stroke-width="1.6"/>
<rect x="578.4" y="423.9" width="3.2" height="3.2" stroke="#ffffff" fill="#ff00ff"/>
<line x1="653" y1="428" x2="673" y2="441" stroke="#ffff00" stroke-width="1.6"/>
<rect x="651.4" y="423.9" width="3.2" height="3.2" stroke="#ffffff" fill="#ff00ff"/>
<line x1="725" y1="428" x2="745" y2="441" stroke="#ffff00" stroke-width="1.6"/>
<rect x="723.4" y="423.9" width="3.2" height="3.2" stroke="#ffffff" fill="#ff00ff"/>
<line x1="798" y1="428" x2="818" y2="441" stroke="#ffff00" stroke-width="1.6"/>
<rect x="796.4" y="423.9" width="3.2" height="3.2" stroke="#ffffff" fill="#ff00ff"/>
<line x1="871" y1="428" x2="891" y2="441" stroke="#ffff00" stroke-width="1.6"/>
<rect x="869.4" y="423.9" width="3.2" height="3.2" stroke="#ffffff" fill="#ff00ff"/>
<line x1="943" y1="428" x2="963" y2="441" stroke="#ffff00" stroke-width="1.6"/>
<rect x="941.4" y="423.9" width="3.2" height="3.2" stroke="#ffffff" fill="#ff00ff"/>
<line x1="1016" y1="428" x2="1036" y2="441" stroke="#ffff00" stroke-width="1.6"/>
<rect x="1014.4" y="423.9" width="3.2" height="3.2" stroke="#ffffff" fill="#ff00ff"/>
<rect x="261" y="92" width="20" height="8" stroke="#ff0090" fill="none" stroke-dasharray="3,1.5"/>
<line x1="264" y1="95" x2="275" y2="95" stroke="#ff0090" stroke-dasharray="3,1.5"/>
<path d="M266.5 96.5L266.5 95.5L265.5 95.5L264.5 96.5L264.5 99.5L265.5 100.5L266.5 100.5L266.5 99.5 M267.5 95.5L268.5 95.5L269.5 96.5L269.5 99.5L268.5 100.5L267.5 100.5L267.5 99.5L267.5 96.5ZM271.5 98.5L270.5 98.5L270.5 97.5L270.5 96.5L270.5 95.5L271.5 95.5L271.5 96.5L271.5 99.5L271.5 100.5L270.5 100.5 M272.5 96.5L273.5 95.5L273.5 100.5 M277.5 95.5L275.5 95.5L275.5 97.5L276.5 97.5L277.5 98.5L277.5 99.5L276.5 100.5L275.5 100.5 " stroke="#ff0000" fill="none"/>
<rect x="354" y="92" width="20" height="8" stroke="#ff0090" fill="none" stroke-dasharray="3,1.5"/>
<line x1="357" y1="95" x2="368" y2="95" stroke="#ff0090" stroke-dasharray="3,1.5"/>
<path d="M359.5 96.5L359.5 95.5L358.5 95.5L357.5 96.5L357.5 99.5L358.5 100.5L359.5 100.5L359.5 99.5 M360.5 95.5L361.5 95.5L362.5 96.5L362.5 99.5L361.5 100.5L360.5 100.5L360.5 99.5L360.5 96.5ZM364.5 98.5L363.5 98.5L363.5 97.5L363.5 96.5L363.5 95.5L364.5 95.5L364.5 96.5L364.5 99.5L364.5 100.5L363.5 100.5 M365.5 96.5L366.5 95.5L366.5 100.5 M370.5 95.5L368.5 95.5L368.5 97.5L369.5 97.5L370.5 98.5L370.5 99.5L369.5 100.5L368.5 100.5 " stroke="#ff0000" fill="none"/>
<rect x="431" y="92" width="20" height="8" stroke="#ff0090" fill="none" stroke-dasharray="3,1.5"/>
<line x1="434" y1="95" x2="445" y2="95" stroke="#ff0090" stroke-dasharray="3,1.5"/>
<path d="M436.5 96.5L436.5 95.5L435.5 95.5L434.5 96.5L434.5 99.5L435.5 100.5L436.5 100.5L436.5 99.5 M437.5 95.5L438.5 95.5L439.5 96.5L439.5 99.5L438.5 100.5L437.5 100.5L437.5 99.5L437.5 96.5ZM441.5 98.5L440.5 98.5L440.5 97.5L440.5 96.5L440.5 95.5L441.5 95.5L441.5 96.5L441.5 99.5L441.5 100.5L440.5 100.5 M442.5 96.5L443.5 95.5L443.5 100.5 M447.5 95.5L445.5 95.5L445.5 97.5L446.5 97.5L447.5 98.5L447.5 99.5L446.5 100.5L445.5 100.5 " stroke="#ff0000" fill="none"/>
<rect x="501" y="92" width="20" height="8" stroke="#ff0090" fill="none" stroke-dasharray="3,1.5"/>
<line x1="504" y1="95" x2="515" y2="95" stroke="#ff0090" stroke-dasharray="3,1.5"/>
<path d="M506.5 96.5L506.5 95.5L505.5 95.5L504.5 96.5L504.5 99.5L505.5 100.5L506.5 100.5L506.5 99.5 M507.5 95.5L508.5 95.5L509.5 96.5L509.5 99.5L508.5 100.5L507.5 100.5L507.5 99.5L507.5 96.5ZM511.5 98.5L510.5 98.5L510.5 97.5L510.5 96.5L510.5 95.5L511.5 95.5L511.5 96.5L511.5 99.5L511.5 100.5L510.5 100.5 M512.5 96.5L513.5 95.5L513.5 100.5 M517.5 95.5L515.5 95.5L515.5 97.5L516.5 97.5L517.5 98.5L517.5 99.5L516.5 100.5L515.5 100.5 " stroke="#ff0000" fill="none"/>
<rect x="576" y="92" width="20" height="8" stroke="#ff0090" fill="none" stroke-dasharray="3,1.5"/>
<line x1="579" y1="95" x2="590" y2="95" stroke="#ff0090" stroke-dasharray="3,1.5"/>
<path d="M581.5 96.5L581.5 95.5L580.5 95.5L579.5 96.5L579.5 99.5L580.5 100.5L581.5 100.5L581.5 99.5 M582.5 95.5L583.5 95.5L584.5 96.5L584.5 99.5L583.5 100.5L582.5 100.5L582.5 99.5L582.5 96.5ZM586.5 98.5L585.5 98.5L585.5 97.5L585.5 96.5L585.5 95.5L586.5 95.5L586.5 96.5L586.5 99.5L586.5 100.5L585.5 100.5 M587.5 96.5L588.5 95.5L588.5 100.5 M592.5 95.5L590.5 95.5L590.5 97.5L591.5 97.5L592.5 98.5L592.5 99.5L591.5 100.5L590.5 100.5 " stroke="#ff0000" fill="none"/>
<rect x="1013" y="92" width="20" height="8" stroke="#ff0090" fill="none" stroke-dasharray="3,1.5"/>
<line x1="1016" y1="95" x2="1027" y2="95" stroke="#ff0090" stroke-dasharray="3,1.5"/>
<path d="M1018.5 96.5L1018.5 95.5L1017.5 95.5L1016.5 96.5L1016.5 99.5L1017.5 100.5L1018.5 100.5L1018.5 99.5 M1019.5 95.5L1020.5 95.5L1021.5 96.5L1021.5 99.5L1020.5 100.5L1019.5 100.5L1019.5 99.5L1019.5 96.5ZM1023.5 98.5L1022.5 98.5L1022.5 97.5L1022.5 96.5L1022.5 95.5L1023.5 95.5L1023.5 96.5L1023.5 99.5L1023.5 100.5L1022.5 100.5 M1024.5 96.5L1025.5 95.5L1025.5 100.5 M1029.5 95.5L1027.5 95.5L1027.5 97.5L1028.5 97.5L1029.5 98.5L1029.5 99.5L1028.5 100.5L1027.5 100.5 " stroke="#ff0000" fill="none"/>
<rect x="1075" y="92" width="20" height="8" stroke="#ff0090" fill="none" stroke-dasharray="3,1.5"/>
<line x1="1078" y1="95" x2="1089" y2="95" stroke="#ff0090" stroke-dasharray="3,1.5"/>
<path d="M1080.5 96.5L1080.5 95.5L1079.5 95.5L1078.5 96.5L1078.5 99.5L1079.5 100.5L1080.5 100.5L1080.5 99.5 M1081.5 95.5L1082.5 95.5L1083.5 96.5L1083.5 99.5L1082.5 100.5L1081.5 100.5L1081.5 99.5L1081.5 96.5ZM1085.5 98.5L1084.5 98.5L1084.5 97.5L1084.5 96.5L1084.5 95.5L1085.5 95.5L1085.5 96.5L1085.5 99.5L1085.5 100.5L1084.5 100.5 M1086.5 96.5L1087.5 95.5L1087.5 100.5 M1091.5 95.5L1089.5 95.5L1089.5 97.5L1090.5 97.5L1091.5 98.5L1091.5 99.5L1090.5 100.5L1089.5 100.5 " stroke="#ff0000" fill="none"/>
<path d="M643.5 97.5L643.5 96.5L642.5 96.5L641.5 97.5L641.5 100.5L642.5 101.5L643.5 101.5L643.5 100.5 M644.5 97.5L645.5 96.5L646.5 96.5L646.5 97.5L646.5 97.5L644.5 101.5L646.5 101.5 M647.5 97.5L648.5 96.5L648.5 101.5 M650.5 97.5L651.5 96.5L651.5 101.5 M655.5 96.5L653.5 96.5L653.5 98.5L654.5 98.5L655.5 99.5L655.5 100.5L654.5 101.5L653.5 101.5 M656.5 97.5L657.5 97.5L658.5 98.5L658.5 101.5M658.5 99.5L656.5 99.5L656.5 100.5L656.5 101.5L658.5 101.5 " stroke="#ff0000" fill="none"/>
<path d="M713.5 97.5L713.5 96.5L712.5 96.5L711.5 97.5L711.5 100.5L712.5 101.5L713.5 101.5L713.5 100.5 M714.5 97.5L715.5 96.5L715.5 101.5 M718.5 100.5L718.5 101.5 M721.5 101.5L721.5 96.5L720.5 99.5L722.5 99.5 " stroke="#ff0000" fill="none"/>
<path d="M780.5 97.5L779.5 96.5L778.5 96.5L778.5 97.5L778.5 100.5L778.5 101.5L779.5 101.5L780.5 100.5 M781.5 97.5L781.5 96.5L782.5 96.5L783.5 97.5L783.5 97.5L781.5 101.5L783.5 101.5 M784.5 97.5L785.5 96.5L785.5 101.5 M787.5 97.5L787.5 96.5L787.5 101.5 M790.5 96.5L791.5 96.5L791.5 97.5L791.5 97.5L791.5 98.5L790.5 98.5L789.5 97.5L789.5 97.5ZM790.5 98.5L789.5 99.5L789.5 100.5L790.5 101.5L791.5 101.5L791.5 100.5L791.5 99.5L791.5 98.5 " stroke="#ff0000" fill="none"/>
<path d="M860.5 97.5L860.5 96.5L859.5 96.5L858.5 97.5L858.5 100.5L859.5 101.5L860.5 101.5L860.5 100.5 M861.5 97.5L862.5 96.5L863.5 96.5L863.5 97.5L863.5 97.5L861.5 101.5L863.5 101.5 M864.5 97.5L865.5 96.5L865.5 101.5 M867.5 97.5L868.5 96.5L868.5 101.5 M870.5 96.5L871.5 96.5L872.5 97.5L872.5 97.5L871.5 98.5L870.5 98.5L870.5 97.5L870.5 97.5ZM870.5 98.5L870.5 99.5L870.5 100.5L870.5 101.5L871.5 101.5L872.5 100.5L872.5 99.5L871.5 98.5 M873.5 97.5L874.5 97.5L875.5 98.5L875.5 101.5M875.5 99.5L873.5 99.5L873.5 100.5L873.5 101.5L875.5 101.5 " stroke="#ff0000" fill="none"/>
<path d="M931.5 97.5L931.5 96.5L930.5 96.5L929.5 97.5L929.5 100.5L930.5 101.5L931.5 101.5L931.5 100.5 M932.5 97.5L933.5 96.5L933.5 101.5 M935.5 97.5L936.5 96.5L936.5 101.5 M938.5 97.5L939.5 96.5L939.5 101.5 M943.5 96.5L941.5 96.5L941.5 98.5L942.5 98.5L943.5 99.5L943.5 100.5L942.5 101.5L941.5 101.5 M944.5 97.5L945.5 97.5L946.5 98.5L946.5 101.5M946.5 99.5L944.5 99.5L944.5 100.5L944.5 101.5L946.5 101.5 " stroke="#ff0000" fill="none"/>
<path d="M1003.5 97.5L1003.5 96.5L1002.5 96.5L1001.5 97.5L1001.5 100.5L1002.5 101.5L1003.5 101.5L1003.5 100.5 M1004.5 97.5L1005.5 96.5L1006.5 96.5L1006.5 97.5L1006.5 97.5L1004.5 101.5L1006.5 101.5 M1007.5 97.5L1008.5 96.5L1008.5 101.5 M1010.5 97.5L1011.5 96.5L1011.5 101.5 M1015.5 96.5L1013.5 96.5L1013.5 98.5L1014.5 98.5L1015.5 99.5L1015.5 100.5L1014.5 101.5L1013.5 101.5 M1016.5 97.5L1017.5 97.5L1018.5 98.5L1018.5 101.5M1018.5 99.5L1016.5 99.5L1016.5 100.5L1016.5 101.5L1018.5 101.5 " stroke="#ff0000" fill="none"/>
<rect x="261" y="429" width="20" height="8" stroke="#ff0090" fill="none" stroke-dasharray="3,1.5"/>
<line x1="264" y1="432" x2="275" y2="432" stroke="#ff0090" stroke-dasharray="3,1.5"/>
<path d="M266.5 433.5L266.5 432.5L265.5 432.5L264.5 433.5L264.5 436.5L265.5 437.5L266.5 437.5L266.5 436.5 M267.5 432.5L268.5 432.5L269.5 433.5L269.5 436.5L268.5 437.5L267.5 437.5L267.5 436.5L267.5 433.5ZM271.5 435.5L270.5 435.5L270.5 434.5L270.5 433.5L270.5 432.5L271.5 432.5L271.5 433.5L271.5 436.5L271.5 437.5L270.5 437.5 M272.5 433.5L273.5 432.5L273.5 437.5 M277.5 432.5L275.5 432.5L275.5 434.5L276.5 434.5L277.5 435.5L277.5 436.5L276.5 437.5L275.5 437.5 " stroke="#ff0000" fill="none"/>
<rect x="322" y="429" width="20" height="8" stroke="#ff0090" fill="none" stroke-dasharray="3,1.5"/>
<line x1="325" y1="432" x2="336" y2="432" stroke="#ff0090" stroke-dasharray="3,1.5"/>
<path d="M327.5 433.5L327.5 432.5L326.5 432.5L325.5 433.5L325.5 436.5L326.5 437.5L327.5 437.5L327.5 436.5 M328.5 432.5L329.5 432.5L330.5 433.5L330.5 436.5L329.5 437.5L328.5 437.5L328.5 436.5L328.5 433.5ZM332.5 435.5L331.5 435.5L331.5 434.5L331.5 433.5L331.5 432.5L332.5 432.5L332.5 433.5L332.5 436.5L332.5 437.5L331.5 437.5 M333.5 433.5L334.5 432.5L334.5 437.5 M338.5 432.5L336.5 432.5L336.5 434.5L337.5 434.5L338.5 435.5L338.5 436.5L337.5 437.5L336.5 437.5 " stroke="#ff0000" fill="none"/>
<rect x="393" y="429" width="20" height="8" stroke="#ff0090" fill="none" stroke-dasharray="3,1.5"/>
<line x1="396" y1="432" x2="407" y2="432" stroke="#ff0090" stroke-dasharray="3,1.5"/>
<path d="M398.5 433.5L398.5 432.5L397.5 432.5L396.5 433.5L396.5 436.5L397.5 437.5L398.5 437.5L398.5 436.5 M399.5 432.5L400.5 432.5L401.5 433.5L401.5 436.5L400.5 437.5L399.5 437.5L399.5 436.5L399.5 433.5ZM403.5 435.5L402.5 435.5L402.5 434.5L402.5 433.5L402.5 432.5L403.5 432.5L403.5 433.5L403.5 436.5L403.5 437.5L402.5 437.5 M404.5 433.5L405.5 432.5L405.5 437.5 M409.5 432.5L407.5 432.5L407.5 434.5L408.5 434.5L409.5 435.5L409.5 436.5L408.5 437.5L407.5 437.5 " stroke="#ff0000" fill="none"/>
<rect x="468" y="429" width="20" height="8" stroke="#ff0090" fill="none" stroke-dasharray="3,1.5"/>
<line x1="471" y1="432" x2="482" y2="432" stroke="#ff0090" stroke-dasharray="3,1.5"/>
<path d="M473.5 433.5L473.5 432.5L472.5 432.5L471.5 433.5L471.5 436.5L472.5 437.5L473.5 437.5L473.5 436.5 M474.5 432.5L475.5 432.5L476.5 433.5L476.5 436.5L475.5 437.5L474.5 437.5L474.5 436.5L474.5 433.5ZM478.5 435.5L477.5 435.5L477.5 434.5L477.5 433.5L477.5 432.5L478.5 432.5L478.5 433.5L478.5 436.5L478.5 437.5L477.5 437.5 M479.5 433.5L480.5 432.5L480.5 437.5 M484.5 432.5L482.5 432.5L482.5 434.5L483.5 434.5L484.5 435.5L484.5 436.5L483.5 437.5L482.5 437.5 " stroke="#ff0000" fill="none"/>
<rect x="537" y="429" width="20" height="8" stroke="#ff0090" fill="none" stroke-dasharray="3,1.5"/>
<line x1="540" y1="432" x2="551" y2="432" stroke="#ff0090" stroke-dasharray="3,1.5"/>
<path d="M542.5 433.5L542.5 432.5L541.5 432.5L540.5 433.5L540.5 436.5L541.5 437.5L542.5 437.5L542.5 436.5 M543.5 432.5L544.5 432.5L545.5 433.5L545.5 436.5L544.5 437.5L543.5 437.5L543.5 436.5L543.5 433.5ZM547.5 435.5L546.5 435.5L546.5 434.5L546.5 433.5L546.5 432.5L547.5 432.5L547.5 433.5L547.5 436.5L547.5 437.5L546.5 437.5 M548.5 433.5L549.5 432.5L549.5 437.5 M553.5 432.5L551.5 432.5L551.5 434.5L552.5 434.5L553.5 435.5L553.5 436.5L552.5 437.5L551.5 437.5 " stroke="#ff0000" fill="none"/>
<rect x="613" y="429" width="20" height="8" stroke="#ff0090" fill="none" stroke-dasharray="3,1.5"/>
<line x1="616" y1="432" x2="627" y2="432" stroke="#ff0090" stroke-dasharray="3,1.5"/>
<path d="M618.5 433.5L618.5 432.5L617.5 432.5L616.5 433.5L616.5 436.5L617.5 437.5L618.5 437.5L618.5 436.5 M619.5 432.5L620.5 432.5L621.5 433.5L621.5 436.5L620.5 437.5L619.5 437.5L619.5 436.5L619.5 433.5ZM623.5 435.5L622.5 435.5L622.5 434.5L622.5 433.5L622.5 432.5L623.5 432.5L623.5 433.5L623.5 436.5L623.5 437.5L622.5 437.5 M624.5 433.5L625.5 432.5L625.5 437.5 M629.5 432.5L627.5 432.5L627.5 434.5L628.5 434.5L629.5 435.5L629.5 436.5L628.5 437.5L627.5 437.5 " stroke="#ff0000" fill="none"/>
<rect x="683" y="429" width="20" height="8" stroke="#ff0090" fill="none" stroke-dasharray="3,1.5"/>
<line x1="686" y1="432" x2="697" y2="432" stroke="#ff0090" stroke-dasharray="3,1.5"/>
<path d="M688.5 433.5L688.5 432.5L687.5 432.5L686.5 433.5L686.5 436.5L687.5 437.5L688.5 437.5L688.5 436.5 M689.5 432.5L690.5 432.5L691.5 433.5L691.5 436.5L690.5 437.5L689.5 437.5L689.5 436.5L689.5 433.5ZM693.5 435.5L692.5 435.5L692.5 434.5L692.5 433.5L692.5 432.5L693.5 432.5L693.5 433.5L693.5 436.5L693.5 437.5L692.5 437.5 M694.5 433.5L695.5 432.5L695.5 437.5 M699.5 432.5L697.5 432.5L697.5 434.5L698.5 434.5L699.5 435.5L699.5 436.5L698.5 437.5L697.5 437.5 " stroke="#ff0000" fill="none"/>
<rect x="757" y="429" width="20" height="8" stroke="#ff0090" fill="none" stroke-dasharray="3,1.5"/>
<line x1="760" y1="432" x2="771" y2="432" stroke="#ff0090" stroke-dasharray="3,1.5"/>
<path d="M762.5 433.5L762.5 432.5L761.5 432.5L760.5 433.5L760.5 436.5L761.5 437.5L762.5 437.5L762.5 436.5 M763.5 432.5L764.5 432.5L765.5 433.5L765.5 436.5L764.5 437.5L763.5 437.5L763.5 436.5L763.5 433.5ZM767.5 435.5L766.5 435.5L766.5 434.5L766.5 433.5L766.5 432.5L767.5 432.5L767.5 433.5L767.5 436.5L767.5 437.5L766.5 437.5 M768.5 433.5L769.5 432.5L769.5 437.5 M773.5 432.5L771.5 432.5L771.5 434.5L772.5 434.5L773.5 435.5L773.5 436.5L772.5 437.5L771.5 437.5 " stroke="#ff0000" fill="none"/>
<rect x="830" y="429" width="20" height="8" stroke="#ff0090" fill="none" stroke-dasharray="3,1.5"/>
<line x1="833" y1="432" x2="844" y2="432" stroke="#ff0090" stroke-dasharray="3,1.5"/>
<path d="M835.5 433.5L835.5 432.5L834.5 432.5L833.5 433.5L833.5 436.5L834.5 437.5L835.5 437.5L835.5 436.5 M836.5 432.5L837.5 432.5L838.5 433.5L838.5 436.5L837.5 437.5L836.5 437.5L836.5 436.5L836.5 433.5ZM840.5 435.5L839.5 435.5L839.5 434.5L839.5 433.5L839.5 432.5L840.5 432.5L840.5 433.5L840.5 436.5L840.5 437.5L839.5 437.5 M841.5 433.5L842.5 432.5L842.5 437.5 M846.5 432.5L844.5 432.5L844.5 434.5L845.5 434.5L846.5 435.5L846.5 436.5L845.5 437.5L844.5 437.5 " stroke="#ff0000" fill="none"/>
<rect x="905" y="429" width="20" height="8" stroke="#ff0090" fill="none" stroke-dasharray="3,1.5"/>
<line x1="908" y1="432" x2="919" y2="432" stroke="#ff0090" stroke-dasharray="3,1.5"/>
<path d="M910.5 433.5L910.5 432.5L909.5 432.5L908.5 433.5L908.5 436.5L909.5 437.5L910.5 437.5L910.5 436.5 M911.5 432.5L912.5 432.5L913.5 433.5L913.5 436.5L912.5 437.5L911.5 437.5L911.5 436.5L911.5 433.5ZM915.5 435.5L914.5 435.5L914.5 434.5L914.5 433.5L914.5 432.5L915.5 432.5L915.5 433.5L915.5 436.5L915.5 437.5L914.5 437.5 M916.5 433.5L917.5 432.5L917.5 437.5 M921.5 432.5L919.5 432.5L919.5 434.5L920.5 434.5L921.5 435.5L921.5 436.5L920.5 437.5L919.5 437.5 " stroke="#ff0000" fill="none"/>
<rect x="974" y="429" width="20" height="8" stroke="#ff0090" fill="none" stroke-dasharray="3,1.5"/>
<line x1="977" y1="432" x2="988" y2="432" stroke="#ff0090" stroke-dasharray="3,1.5"/>
<path d="M979.5 433.5L979.5 432.5L978.5 432.5L977.5 433.5L977.5 436.5L978.5 437.5L979.5 437.5L979.5 436.5 M980.5 432.5L981.5 432.5L982.5 433.5L982.5 436.5L981.5 437.5L980.5 437.5L980.5 436.5L980.5 433.5ZM984.5 435.5L983.5 435.5L983.5 434.5L983.5 433.5L983.5 432.5L984.5 432.5L984.5 433.5L984.5 436.5L984.5 437.5L983.5 437.5 M985.5 433.5L986.5 432.5L986.5 437.5 M990.5 432.5L988.5 432.5L988.5 434.5L989.5 434.5L990.5 435.5L990.5 436.5L989.5 437.5L988.5 437.5 " stroke="#ff0000" fill="none"/>
<rect x="1055" y="429" width="20" height="8" stroke="#ff0090" fill="none" stroke-dasharray="3,1.5"/>
<line x1="1058" y1="432" x2="1069" y2="432" stroke="#ff0090" stroke-dasharray="3,1.5"/>
<path d="M1060.5 433.5L1060.5 432.5L1059.5 432.5L1058.5 433.5L1058.5 436.5L1059.5 437.5L1060.5 437.5L1060.5 436.5 M1061.5 432.5L1062.5 432.5L1063.5 433.5L1063.5 436.5L1062.5 437.5L1061.5 437.5L1061.5 436.5L1061.5 433.5ZM1065.5 435.5L1064.5 435.5L1064.5 434.5L1064.5 433.5L1064.5 432.5L1065.5 432.5L1065.5 433.5L1065.5 436.5L1065.5 437.5L1064.5 437.5 M1066.5 433.5L1067.5 432.5L1067.5 437.5 M1071.5 432.5L1069.5 432.5L1069.5 434.5L1070.5 434.5L1071.5 435.5L1071.5 436.5L1070.5 437.5L1069.5 437.5 " stroke="#ff0000" fill="none"/>
<rect x="289.5" y="289.3" width="49.5" height="4.1" stroke="#00ffff" fill="none"/>
<path d="M266.5 292.4L266.5 314.4" stroke="#ffff00" fill="none"/>
<path d="M268.5 292.4L268.5 314.4" stroke="#ffff00" fill="none"/>
<path d="M266.5 314.4A22 22 0 0 0 288.5 292.4" stroke="#ffff00" fill="none"/>
<rect x="242" y="398.4" width="72" height="4.3" stroke="#00ffff" fill="none"/>
<line x1="261.5" y1="400.8" x2="291.5" y2="400.8" stroke="#ffff00" stroke-width="2.2"/>
<rect x="361.5" y="289.3" width="50.5" height="4.1" stroke="#00ffff" fill="none"/>
<path d="M338.5 292.4L338.5 314.4" stroke="#ffff00" fill="none"/>
<path d="M340.5 292.4L340.5 314.4" stroke="#ffff00" fill="none"/>
<path d="M338.5 314.4A22 22 0 0 0 360.5 292.4" stroke="#ffff00" fill="none"/>
<rect x="314" y="398.4" width="73" height="4.3" stroke="#00ffff" fill="none"/>
<line x1="333.5" y1="400.8" x2="363.5" y2="400.8" stroke="#ffff00" stroke-width="2.2"/>
<rect x="311.9" y="289.9" width="3.2" height="3.2" stroke="#ffffff" fill="#ff00ff"/>
<rect x="311.9" y="344.4" width="3.2" height="3.2" stroke="#ffffff" fill="#ff00ff"/>
<rect x="311.9" y="398.9" width="3.2" height="3.2" stroke="#ffffff" fill="#ff00ff"/>
<rect x="434.5" y="289.3" width="50.5" height="4.1" stroke="#00ffff" fill="none"/>
<path d="M411.5 292.4L411.5 314.4" stroke="#ffff00" fill="none"/>
<path d="M413.5 292.4L413.5 314.4" stroke="#ffff00" fill="none"/>
<path d="M411.5 314.4A22 22 0 0 0 433.5 292.4" stroke="#ffff00" fill="none"/>
<rect x="387" y="398.4" width="73" height="4.3" stroke="#00ffff" fill="none"/>
<line x1="406.5" y1="400.8" x2="436.5" y2="400.8" stroke="#ffff00" stroke-width="2.2"/>
<rect x="384.9" y="289.9" width="3.2" height="3.2" stroke="#ffffff" fill="#ff00ff"/>
<rect x="384.9" y="344.4" width="3.2" height="3.2" stroke="#ffffff" fill="#ff00ff"/>
<rect x="384.9" y="398.9" width="3.2" height="3.2" stroke="#ffffff" fill="#ff00ff"/>
<rect x="507.5" y="289.3" width="49.5" height="4.1" stroke="#00ffff" fill="none"/>
<path d="M484.5 292.4L484.5 314.4" stroke="#ffff00" fill="none"/>
<path d="M486.5 292.4L486.5 314.4" stroke="#ffff00" fill="none"/>
<path d="M484.5 314.4A22 22 0 0 0 506.5 292.4" stroke="#ffff00" fill="none"/>
<rect x="460" y="398.4" width="72" height="4.3" stroke="#00ffff" fill="none"/>
<line x1="479.5" y1="400.8" x2="509.5" y2="400.8" stroke="#ffff00" stroke-width="2.2"/>
<rect x="457.9" y="289.9" width="3.2" height="3.2" stroke="#ffffff" fill="#ff00ff"/>
<rect x="457.9" y="344.4" width="3.2" height="3.2" stroke="#ffffff" fill="#ff00ff"/>
<rect x="457.9" y="398.9" width="3.2" height="3.2" stroke="#ffffff" fill="#ff00ff"/>
<rect x="579.5" y="289.3" width="50.5" height="4.1" stroke="#00ffff" fill="none"/>
<path d="M556.5 292.4L556.5 314.4" stroke="#ffff00" fill="none"/>
<path d="M558.5 292.4L558.5 314.4" stroke="#ffff00" fill="none"/>
<path d="M556.5 314.4A22 22 0 0 0 578.5 292.4" stroke="#ffff00" fill="none"/>
<rect x="532" y="398.4" width="73" height="4.3" stroke="#00ffff" fill="none"/>
<line x1="551.5" y1="400.8" x2="581.5" y2="400.8" stroke="#ffff00" stroke-width="2.2"/>
<rect x="529.9" y="289.9" width="3.2" height="3.2" stroke="#ffffff" fill="#ff00ff"/>
<rect x="529.9" y="344.4" width="3.2" height="3.2" stroke="#ffffff" fill="#ff00ff"/>
<rect x="529.9" y="398.9" width="3.2" height="3.2" stroke="#ffffff" fill="#ff00ff"/>
<rect x="652.5" y="289.3" width="50.5" height="4.1" stroke="#00ffff" fill="none"/>
<path d="M629.5 292.4L629.5 314.4" stroke="#ffff00" fill="none"/>
<path d="M631.5 292.4L631.5 314.4" stroke="#ffff00" fill="none"/>
<path d="M629.5 314.4A22 22 0 0 0 651.5 292.4" stroke="#ffff00" fill="none"/>
<rect x="605" y="398.4" width="73" height="4.3" stroke="#00ffff" fill="none"/>
<line x1="624.5" y1="400.8" x2="654.5" y2="400.8" stroke="#ffff00" stroke-width="2.2"/>
<rect x="602.9" y="289.9" width="3.2" height="3.2" stroke="#ffffff" fill="#ff00ff"/>
<rect x="602.9" y="344.4" width="3.2" height="3.2" stroke="#ffffff" fill="#ff00ff"/>
<rect x="602.9" y="398.9" width="3.2" height="3.2" stroke="#ffffff" fill="#ff00ff"/>
<rect x="725.5" y="289.3" width="49.5" height="4.1" stroke="#00ffff" fill="none"/>
<path d="M702.5 292.4L702.5 314.4" stroke="#ffff00" fill="none"/>
<path d="M704.5 292.4L704.5 314.4" stroke="#ffff00" fill="none"/>
<path d="M702.5 314.4A22 22 0 0 0 724.5 292.4" stroke="#ffff00" fill="none"/>
<rect x="678" y="398.4" width="72" height="4.3" stroke="#00ffff" fill="none"/>
<line x1="697.5" y1="400.8" x2="727.5" y2="400.8" stroke="#ffff00" stroke-width="2.2"/>
<rect x="675.9" y="289.9" width="3.2" height="3.2" stroke="#ffffff" fill="#ff00ff"/>
<rect x="675.9" y="344.4" width="3.2" height="3.2" stroke="#ffffff" fill="#ff00ff"/>
<rect x="675.9" y="398.9" width="3.2" height="3.2" stroke="#ffffff" fill="#ff00ff"/>
<rect x="797.5" y="289.3" width="50.5" height="4.1" stroke="#00ffff" fill="none"/>
<path d="M774.5 292.4L774.5 314.4" stroke="#ffff00" fill="none"/>
<path d="M776.5 292.4L776.5 314.4" stroke="#ffff00" fill="none"/>
<path d="M774.5 314.4A22 22 0 0 0 796.5 292.4" stroke="#ffff00" fill="none"/>
<rect x="750" y="398.4" width="73" height="4.3" stroke="#00ffff" fill="none"/>
<line x1="769.5" y1="400.8" x2="799.5" y2="400.8" stroke="#ffff00" stroke-width="2.2"/>
<rect x="747.9" y="289.9" width="3.2" height="3.2" stroke="#ffffff" fill="#ff00ff"/>
<rect x="747.9" y="344.4" width="3.2" height="3.2" stroke="#ffffff" fill="#ff00ff"/>
<rect x="747.9" y="398.9" width="3.2" height="3.2" stroke="#ffffff" fill="#ff00ff"/>
<rect x="870.5" y="289.3" width="50.5" height="4.1" stroke="#00ffff" fill="none"/>
<path d="M847.5 292.4L847.5 314.4" stroke="#ffff00" fill="none"/>
<path d="M849.5 292.4L849.5 314.4" stroke="#ffff00" fill="none"/>
<path d="M847.5 314.4A22 22 0 0 0 869.5 292.4" stroke="#ffff00" fill="none"/>
<rect x="823" y="398.4" width="73" height="4.3" stroke="#00ffff" fill="none"/>
<line x1="842.5" y1="400.8" x2="872.5" y2="400.8" stroke="#ffff00" stroke-width="2.2"/>
<rect x="820.9" y="289.9" width="3.2" height="3.2" stroke="#ffffff" fill="#ff00ff"/>
<rect x="820.9" y="344.4" width="3.2" height="3.2" stroke="#ffffff" fill="#ff00ff"/>
<rect x="820.9" y="398.9" width="3.2" height="3.2" stroke="#ffffff" fill="#ff00ff"/>
<rect x="943.5" y="289.3" width="49.5" height="4.1" stroke="#00ffff" fill="none"/>
<path d="M920.5 292.4L920.5 314.4" stroke="#ffff00" fill="none"/>
<path d="M922.5 292.4L922.5 314.4" stroke="#ffff00" fill="none"/>
<path d="M920.5 314.4A22 22 0 0 0 942.5 292.4" stroke="#ffff00" fill="none"/>
<rect x="896" y="398.4" width="72" height="4.3" stroke="#00ffff" fill="none"/>
<line x1="915.5" y1="400.8" x2="945.5" y2="400.8" stroke="#ffff00" stroke-width="2.2"/>
<rect x="893.9" y="289.9" width="3.2" height="3.2" stroke="#ffffff" fill="#ff00ff"/>
<rect x="893.9" y="344.4" width="3.2" height="3.2" stroke="#ffffff" fill="#ff00ff"/>
<rect x="893.9" y="398.9" width="3.2" height="3.2" stroke="#ffffff" fill="#ff00ff"/>
<rect x="1015.5" y="289.3" width="50.5" height="4.1" stroke="#00ffff" fill="none"/>
<path d="M992.5 292.4L992.5 314.4" stroke="#ffff00" fill="none"/>
<path d="M994.5 292.4L994.5 314.4" stroke="#ffff00" fill="none"/>
<path d="M992.5 314.4A22 22 0 0 0 1014.5 292.4" stroke="#ffff00" fill="none"/>
<rect x="968" y="398.4" width="73" height="4.3" stroke="#00ffff" fill="none"/>
<line x1="987.5" y1="400.8" x2="1017.5" y2="400.8" stroke="#ffff00" stroke-width="2.2"/>
<rect x="965.9" y="289.9" width="3.2" height="3.2" stroke="#ffffff" fill="#ff00ff"/>
<rect x="965.9" y="344.4" width="3.2" height="3.2" stroke="#ffffff" fill="#ff00ff"/>
<rect x="965.9" y="398.9" width="3.2" height="3.2" stroke="#ffffff" fill="#ff00ff"/>
<rect x="1088.5" y="289.3" width="25.5" height="4.1" stroke="#00ffff" fill="none"/>
<path d="M1065.5 292.4L1065.5 314.4" stroke="#ffff00" fill="none"/>
<path d="M1067.5 292.4L1067.5 314.4" stroke="#ffff00" fill="none"/>
<path d="M1065.5 314.4A22 22 0 0 0 1087.5 292.4" stroke="#ffff00" fill="none"/>
<rect x="1041" y="398.4" width="73" height="4.3" stroke="#00ffff" fill="none"/>
<line x1="1060.5" y1="400.8" x2="1090.5" y2="400.8" stroke="#ffff00" stroke-width="2.2"/>
<rect x="1038.9" y="289.9" width="3.2" height="3.2" stroke="#ffffff" fill="#ff00ff"/>
<rect x="1038.9" y="344.4" width="3.2" height="3.2" stroke="#ffffff" fill="#ff00ff"/>
<rect x="1038.9" y="398.9" width="3.2" height="3.2" stroke="#ffffff" fill="#ff00ff"/>
<rect x="241.5" y="289.3" width="25.5" height="4.1" stroke="#00ffff" fill="none"/>
<rect x="1111.9" y="289.9" width="3.2" height="3.2" stroke="#ffffff" fill="#ff00ff"/>
<rect x="1111.9" y="344.4" width="3.2" height="3.2" stroke="#ffffff" fill="#ff00ff"/>
<rect x="240.4" y="289.9" width="3.2" height="3.2" stroke="#ffffff" fill="#ff00ff"/>
<rect x="240.4" y="344.4" width="3.2" height="3.2" stroke="#ffffff" fill="#ff00ff"/>
<rect x="299.5" y="294" width="12" height="16" stroke="#808080" fill="none"/>
<path d="M299.5 294L311.5 310M311.5 294L299.5 310" stroke="#808080" fill="none"/>
<rect x="293.5" y="311.5" width="18" height="41.5" stroke="#808080" fill="none"/>
<path d="M311.5 311.5L293.5 353" stroke="#808080" fill="none"/>
<rect x="293.5" y="355" width="18" height="42" stroke="#808080" fill="none"/>
<path d="M311.5 355L293.5 397" stroke="#808080" fill="none"/>
<line x1="293.5" y1="393" x2="311.5" y2="393" stroke="#808080" stroke-dasharray="2,1.5"/>
<rect x="315.5" y="294" width="12" height="16" stroke="#808080" fill="none"/>
<path d="M315.5 294L327.5 310M327.5 294L315.5 310" stroke="#808080" fill="none"/>
<rect x="315.5" y="311.5" width="18" height="41.5" stroke="#808080" fill="none"/>
<path d="M315.5 311.5L333.5 353" stroke="#808080" fill="none"/>
<rect x="315.5" y="355" width="18" height="42" stroke="#808080" fill="none"/>
<path d="M315.5 355L333.5 397" stroke="#808080" fill="none"/>
<line x1="315.5" y1="393" x2="333.5" y2="393" stroke="#808080" stroke-dasharray="2,1.5"/>
<line x1="311.5" y1="294" x2="311.5" y2="397" stroke="#00ffff" stroke-dasharray="1,16"/>
<line x1="315.5" y1="294" x2="315.5" y2="397" stroke="#00ffff" stroke-dasharray="1,16"/>
<rect x="372.5" y="294" width="12" height="16" stroke="#808080" fill="none"/>
<path d="M372.5 294L384.5 310M384.5 294L372.5 310" stroke="#808080" fill="none"/>
<rect x="366.5" y="311.5" width="18" height="41.5" stroke="#808080" fill="none"/>
<path d="M384.5 311.5L366.5 353" stroke="#808080" fill="none"/>
<rect x="366.5" y="355" width="18" height="42" stroke="#808080" fill="none"/>
<path d="M384.5 355L366.5 397" stroke="#808080" fill="none"/>
<line x1="366.5" y1="393" x2="384.5" y2="393" stroke="#808080" stroke-dasharray="2,1.5"/>
<rect x="388.5" y="294" width="12" height="16" stroke="#808080" fill="none"/>
<path d="M388.5 294L400.5 310M400.5 294L388.5 310" stroke="#808080" fill="none"/>
<rect x="388.5" y="311.5" width="18" height="41.5" stroke="#808080" fill="none"/>
<path d="M388.5 311.5L406.5 353" stroke="#808080" fill="none"/>
<rect x="388.5" y="355" width="18" height="42" stroke="#808080" fill="none"/>
<path d="M388.5 355L406.5 397" stroke="#808080" fill="none"/>
<line x1="388.5" y1="393" x2="406.5" y2="393" stroke="#808080" stroke-dasharray="2,1.5"/>
<line x1="384.5" y1="294" x2="384.5" y2="397" stroke="#00ffff" stroke-dasharray="1,16"/>
<line x1="388.5" y1="294" x2="388.5" y2="397" stroke="#00ffff" stroke-dasharray="1,16"/>
<rect x="445.5" y="294" width="12" height="16" stroke="#808080" fill="none"/>
<path d="M445.5 294L457.5 310M457.5 294L445.5 310" stroke="#808080" fill="none"/>
<rect x="439.5" y="311.5" width="18" height="41.5" stroke="#808080" fill="none"/>
<path d="M457.5 311.5L439.5 353" stroke="#808080" fill="none"/>
<rect x="439.5" y="355" width="18" height="42" stroke="#808080" fill="none"/>
<path d="M457.5 355L439.5 397" stroke="#808080" fill="none"/>
<line x1="439.5" y1="393" x2="457.5" y2="393" stroke="#808080" stroke-dasharray="2,1.5"/>
<rect x="461.5" y="294" width="12" height="16" stroke="#808080" fill="none"/>
<path d="M461.5 294L473.5 310M473.5 294L461.5 310" stroke="#808080" fill="none"/>
<rect x="461.5" y="311.5" width="18" height="41.5" stroke="#808080" fill="none"/>
<path d="M461.5 311.5L479.5 353" stroke="#808080" fill="none"/>
<rect x="461.5" y="355" width="18" height="42" stroke="#808080" fill="none"/>
<path d="M461.5 355L479.5 397" stroke="#808080" fill="none"/>
<line x1="461.5" y1="393" x2="479.5" y2="393" stroke="#808080" stroke-dasharray="2,1.5"/>
<line x1="457.5" y1="294" x2="457.5" y2="397" stroke="#00ffff" stroke-dasharray="1,16"/>
<line x1="461.5" y1="294" x2="461.5" y2="397" stroke="#00ffff" stroke-dasharray="1,16"/>
<rect x="517.5" y="294" width="12" height="16" stroke="#808080" fill="none"/>
<path d="M517.5 294L529.5 310M529.5 294L517.5 310" stroke="#808080" fill="none"/>
<rect x="511.5" y="311.5" width="18" height="41.5" stroke="#808080" fill="none"/>
<path d="M529.5 311.5L511.5 353" stroke="#808080" fill="none"/>
<rect x="511.5" y="355" width="18" height="42" stroke="#808080" fill="none"/>
<path d="M529.5 355L511.5 397" stroke="#808080" fill="none"/>
<line x1="511.5" y1="393" x2="529.5" y2="393" stroke="#808080" stroke-dasharray="2,1.5"/>
<rect x="533.5" y="294" width="12" height="16" stroke="#808080" fill="none"/>
<path d="M533.5 294L545.5 310M545.5 294L533.5 310" stroke="#808080" fill="none"/>
<rect x="533.5" y="311.5" width="18" height="41.5" stroke="#808080" fill="none"/>
<path d="M533.5 311.5L551.5 353" stroke="#808080" fill="none"/>
<rect x="533.5" y="355" width="18" height="42" stroke="#808080" fill="none"/>
<path d="M533.5 355L551.5 397" stroke="#808080" fill="none"/>
<line x1="533.5" y1="393" x2="551.5" y2="393" stroke="#808080" stroke-dasharray="2,1.5"/>
<line x1="529.5" y1="294" x2="529.5" y2="397" stroke="#00ffff" stroke-dasharray="1,16"/>
<line x1="533.5" y1="294" x2="533.5" y2="397" stroke="#00ffff" stroke-dasharray="1,16"/>
<rect x="590.5" y="294" width="12" height="16" stroke="#808080" fill="none"/>
<path d="M590.5 294L602.5 310M602.5 294L590.5 310" stroke="#808080" fill="none"/>
<rect x="584.5" y="311.5" width="18" height="41.5" stroke="#808080" fill="none"/>
<path d="M602.5 311.5L584.5 353" stroke="#808080" fill="none"/>
<rect x="584.5" y="355" width="18" height="42" stroke="#808080" fill="none"/>
<path d="M602.5 355L584.5 397" stroke="#808080" fill="none"/>
<line x1="584.5" y1="393" x2="602.5" y2="393" stroke="#808080" stroke-dasharray="2,1.5"/>
<rect x="606.5" y="294" width="12" height="16" stroke="#808080" fill="none"/>
<path d="M606.5 294L618.5 310M618.5 294L606.5 310" stroke="#808080" fill="none"/>
<rect x="606.5" y="311.5" width="18" height="41.5" stroke="#808080" fill="none"/>
<path d="M606.5 311.5L624.5 353" stroke="#808080" fill="none"/>
<rect x="606.5" y="355" width="18" height="42" stroke="#808080" fill="none"/>
<path d="M606.5 355L624.5 397" stroke="#808080" fill="none"/>
<line x1="606.5" y1="393" x2="624.5" y2="393" stroke="#808080" stroke-dasharray="2,1.5"/>
<line x1="602.5" y1="294" x2="602.5" y2="397" stroke="#00ffff" stroke-dasharray="1,16"/>
<line x1="606.5" y1="294" x2="606.5" y2="397" stroke="#00ffff" stroke-dasharray="1,16"/>
<rect x="663.5" y="294" width="12" height="16" stroke="#808080" fill="none"/>
<path d="M663.5 294L675.5 310M675.5 294L663.5 310" stroke="#808080" fill="none"/>
<rect x="657.5" y="311.5" width="18" height="41.5" stroke="#808080" fill="none"/>
<path d="M675.5 311.5L657.5 353" stroke="#808080" fill="none"/>
<rect x="657.5" y="355" width="18" height="42" stroke="#808080" fill="none"/>
<path d="M675.5 355L657.5 397" stroke="#808080" fill="none"/>
<line x1="657.5" y1="393" x2="675.5" y2="393" stroke="#808080" stroke-dasharray="2,1.5"/>
<rect x="679.5" y="294" width="12" height="16" stroke="#808080" fill="none"/>
<path d="M679.5 294L691.5 310M691.5 294L679.5 310" stroke="#808080" fill="none"/>
<rect x="679.5" y="311.5" width="18" height="41.5" stroke="#808080" fill="none"/>
<path d="M679.5 311.5L697.5 353" stroke="#808080" fill="none"/>
<rect x="679.5" y="355" width="18" height="42" stroke="#808080" fill="none"/>
<path d="M679.5 355L697.5 397" stroke="#808080" fill="none"/>
<line x1="679.5" y1="393" x2="697.5" y2="393" stroke="#808080" stroke-dasharray="2,1.5"/>
<line x1="675.5" y1="294" x2="675.5" y2="397" stroke="#00ffff" stroke-dasharray="1,16"/>
<line x1="679.5" y1="294" x2="679.5" y2="397" stroke="#00ffff" stroke-dasharray="1,16"/>
<rect x="735.5" y="294" width="12" height="16" stroke="#808080" fill="none"/>
<path d="M735.5 294L747.5 310M747.5 294L735.5 310" stroke="#808080" fill="none"/>
<rect x="729.5" y="311.5" width="18" height="41.5" stroke="#808080" fill="none"/>
<path d="M747.5 311.5L729.5 353" stroke="#808080" fill="none"/>
<rect x="729.5" y="355" width="18" height="42" stroke="#808080" fill="none"/>
<path d="M747.5 355L729.5 397" stroke="#808080" fill="none"/>
<line x1="729.5" y1="393" x2="747.5" y2="393" stroke="#808080" stroke-dasharray="2,1.5"/>
<rect x="751.5" y="294" width="12" height="16" stroke="#808080" fill="none"/>
<path d="M751.5 294L763.5 310M763.5 294L751.5 310" stroke="#808080" fill="none"/>
<rect x="751.5" y="311.5" width="18" height="41.5" stroke="#808080" fill="none"/>
<path d="M751.5 311.5L769.5 353" stroke="#808080" fill="none"/>
<rect x="751.5" y="355" width="18" height="42" stroke="#808080" fill="none"/>
<path d="M751.5 355L769.5 397" stroke="#808080" fill="none"/>
<line x1="751.5" y1="393" x2="769.5" y2="393" stroke="#808080" stroke-dasharray="2,1.5"/>
<line x1="747.5" y1="294" x2="747.5" y2="397" stroke="#00ffff" stroke-dasharray="1,16"/>
<line x1="751.5" y1="294" x2="751.5" y2="397" stroke="#00ffff" stroke-dasharray="1,16"/>
<rect x="808.5" y="294" width="12" height="16" stroke="#808080" fill="none"/>
<path d="M808.5 294L820.5 310M820.5 294L808.5 310" stroke="#808080" fill="none"/>
<rect x="802.5" y="311.5" width="18" height="41.5" stroke="#808080" fill="none"/>
<path d="M820.5 311.5L802.5 353" stroke="#808080" fill="none"/>
<rect x="802.5" y="355" width="18" height="42" stroke="#808080" fill="none"/>
<path d="M820.5 355L802.5 397" stroke="#808080" fill="none"/>
<line x1="802.5" y1="393" x2="820.5" y2="393" stroke="#808080" stroke-dasharray="2,1.5"/>
<rect x="824.5" y="294" width="12" height="16" stroke="#808080" fill="none"/>
<path d="M824.5 294L836.5 310M836.5 294L824.5 310" stroke="#808080" fill="none"/>
<rect x="824.5" y="311.5" width="18" height="41.5" stroke="#808080" fill="none"/>
<path d="M824.5 311.5L842.5 353" stroke="#808080" fill="none"/>
<rect x="824.5" y="355" width="18" height="42" stroke="#808080" fill="none"/>
<path d="M824.5 355L842.5 397" stroke="#808080" fill="none"/>
<line x1="824.5" y1="393" x2="842.5" y2="393" stroke="#808080" stroke-dasharray="2,1.5"/>
<line x1="820.5" y1="294" x2="820.5" y2="397" stroke="#00ffff" stroke-dasharray="1,16"/>
<line x1="824.5" y1="294" x2="824.5" y2="397" stroke="#00ffff" stroke-dasharray="1,16"/>
<rect x="881.5" y="294" width="12" height="16" stroke="#808080" fill="none"/>
<path d="M881.5 294L893.5 310M893.5 294L881.5 310" stroke="#808080" fill="none"/>
<rect x="875.5" y="311.5" width="18" height="41.5" stroke="#808080" fill="none"/>
<path d="M893.5 311.5L875.5 353" stroke="#808080" fill="none"/>
<rect x="875.5" y="355" width="18" height="42" stroke="#808080" fill="none"/>
<path d="M893.5 355L875.5 397" stroke="#808080" fill="none"/>
<line x1="875.5" y1="393" x2="893.5" y2="393" stroke="#808080" stroke-dasharray="2,1.5"/>
<rect x="897.5" y="294" width="12" height="16" stroke="#808080" fill="none"/>
<path d="M897.5 294L909.5 310M909.5 294L897.5 310" stroke="#808080" fill="none"/>
<rect x="897.5" y="311.5" width="18" height="41.5" stroke="#808080" fill="none"/>
<path d="M897.5 311.5L915.5 353" stroke="#808080" fill="none"/>
<rect x="897.5" y="355" width="18" height="42" stroke="#808080" fill="none"/>
<path d="M897.5 355L915.5 397" stroke="#808080" fill="none"/>
<line x1="897.5" y1="393" x2="915.5" y2="393" stroke="#808080" stroke-dasharray="2,1.5"/>
<line x1="893.5" y1="294" x2="893.5" y2="397" stroke="#00ffff" stroke-dasharray="1,16"/>
<line x1="897.5" y1="294" x2="897.5" y2="397" stroke="#00ffff" stroke-dasharray="1,16"/>
<rect x="953.5" y="294" width="12" height="16" stroke="#808080" fill="none"/>
<path d="M953.5 294L965.5 310M965.5 294L953.5 310" stroke="#808080" fill="none"/>
<rect x="947.5" y="311.5" width="18" height="41.5" stroke="#808080" fill="none"/>
<path d="M965.5 311.5L947.5 353" stroke="#808080" fill="none"/>
<rect x="947.5" y="355" width="18" height="42" stroke="#808080" fill="none"/>
<path d="M965.5 355L947.5 397" stroke="#808080" fill="none"/>
<line x1="947.5" y1="393" x2="965.5" y2="393" stroke="#808080" stroke-dasharray="2,1.5"/>
<rect x="969.5" y="294" width="12" height="16" stroke="#808080" fill="none"/>
<path d="M969.5 294L981.5 310M981.5 294L969.5 310" stroke="#808080" fill="none"/>
<rect x="969.5" y="311.5" width="18" height="41.5" stroke="#808080" fill="none"/>
<path d="M969.5 311.5L987.5 353" stroke="#808080" fill="none"/>
<rect x="969.5" y="355" width="18" height="42" stroke="#808080" fill="none"/>
<path d="M969.5 355L987.5 397" stroke="#808080" fill="none"/>
<line x1="969.5" y1="393" x2="987.5" y2="393" stroke="#808080" stroke-dasharray="2,1.5"/>
<line x1="965.5" y1="294" x2="965.5" y2="397" stroke="#00ffff" stroke-dasharray="1,16"/>
<line x1="969.5" y1="294" x2="969.5" y2="397" stroke="#00ffff" stroke-dasharray="1,16"/>
<rect x="1026.5" y="294" width="12" height="16" stroke="#808080" fill="none"/>
<path d="M1026.5 294L1038.5 310M1038.5 294L1026.5 310" stroke="#808080" fill="none"/>
<rect x="1020.5" y="311.5" width="18" height="41.5" stroke="#808080" fill="none"/>
<path d="M1038.5 311.5L1020.5 353" stroke="#808080" fill="none"/>
<rect x="1020.5" y="355" width="18" height="42" stroke="#808080" fill="none"/>
<path d="M1038.5 355L1020.5 397" stroke="#808080" fill="none"/>
<line x1="1020.5" y1="393" x2="1038.5" y2="393" stroke="#808080" stroke-dasharray="2,1.5"/>
<rect x="1042.5" y="294" width="12" height="16" stroke="#808080" fill="none"/>
<path d="M1042.5 294L1054.5 310M1054.5 294L1042.5 310" stroke="#808080" fill="none"/>
<rect x="1042.5" y="311.5" width="18" height="41.5" stroke="#808080" fill="none"/>
<path d="M1042.5 311.5L1060.5 353" stroke="#808080" fill="none"/>
<rect x="1042.5" y="355" width="18" height="42" stroke="#808080" fill="none"/>
<path d="M1042.5 355L1060.5 397" stroke="#808080" fill="none"/>
<line x1="1042.5" y1="393" x2="1060.5" y2="393" stroke="#808080" stroke-dasharray="2,1.5"/>
<line x1="1038.5" y1="294" x2="1038.5" y2="397" stroke="#00ffff" stroke-dasharray="1,16"/>
<line x1="1042.5" y1="294" x2="1042.5" y2="397" stroke="#00ffff" stroke-dasharray="1,16"/>
<rect x="247.5" y="294" width="12" height="16" stroke="#808080" fill="none"/>
<path d="M247.5 294L259.5 310M259.5 294L247.5 310" stroke="#808080" fill="none"/>
<rect x="247.5" y="311.5" width="18" height="41.5" stroke="#808080" fill="none"/>
<path d="M247.5 311.5L265.5 353" stroke="#808080" fill="none"/>
<rect x="247.5" y="355" width="18" height="42" stroke="#808080" fill="none"/>
<path d="M247.5 355L265.5 397" stroke="#808080" fill="none"/>
<rect x="1095.5" y="294" width="12" height="16" stroke="#808080" fill="none"/>
<path d="M1095.5 294L1107.5 310M1107.5 294L1095.5 310" stroke="#808080" fill="none"/>
<rect x="1089.5" y="311.5" width="18" height="41.5" stroke="#808080" fill="none"/>
<path d="M1107.5 311.5L1089.5 353" stroke="#808080" fill="none"/>
<rect x="1089.5" y="355" width="18" height="42" stroke="#808080" fill="none"/>
<path d="M1107.5 355L1089.5 397" stroke="#808080" fill="none"/>
<rect x="242" y="398.8" width="11.5" height="11.7" stroke="#00ffff" fill="#808080"/>
<rect x="308" y="398.8" width="11.5" height="11.7" stroke="#00ffff" fill="#808080"/>
<rect x="453" y="398.8" width="11.5" height="11.7" stroke="#00ffff" fill="#808080"/>
<rect x="598" y="398.8" width="11.5" height="11.7" stroke="#00ffff" fill="#808080"/>
<rect x="743" y="398.8" width="11.5" height="11.7" stroke="#00ffff" fill="#808080"/>
<rect x="888" y="398.8" width="11.5" height="11.7" stroke="#00ffff" fill="#808080"/>
<rect x="961.5" y="398.8" width="11.5" height="11.7" stroke="#00ffff" fill="#808080"/>
<rect x="1101" y="398.8" width="11" height="11.7" stroke="#00ffff" fill="#808080"/>
<line x1="243.5" y1="403" x2="243.5" y2="423" stroke="#00ffff"/>
<line x1="315.5" y1="403" x2="315.5" y2="423" stroke="#00ffff"/>
<line x1="311.5" y1="403" x2="311.5" y2="423" stroke="#00ffff"/>
<line x1="388.5" y1="403" x2="388.5" y2="423" stroke="#00ffff"/>
<line x1="384.5" y1="403" x2="384.5" y2="423" stroke="#00ffff"/>
<line x1="461.5" y1="403" x2="461.5" y2="423" stroke="#00ffff"/>
<line x1="457.5" y1="403" x2="457.5" y2="423" stroke="#00ffff"/>
<line x1="533.5" y1="403" x2="533.5" y2="423" stroke="#00ffff"/>
<line x1="529.5" y1="403" x2="529.5" y2="423" stroke="#00ffff"/>
<line x1="606.5" y1="403" x2="606.5" y2="423" stroke="#00ffff"/>
<line x1="602.5" y1="403" x2="602.5" y2="423" stroke="#00ffff"/>
<line x1="679.5" y1="403" x2="679.5" y2="423" stroke="#00ffff"/>
<line x1="675.5" y1="403" x2="675.5" y2="423" stroke="#00ffff"/>
<line x1="751.5" y1="403" x2="751.5" y2="423" stroke="#00ffff"/>
<line x1="747.5" y1="403" x2="747.5" y2="423" stroke="#00ffff"/>
<line x1="824.5" y1="403" x2="824.5" y2="423" stroke="#00ffff"/>
<line x1="820.5" y1="403" x2="820.5" y2="423" stroke="#00ffff"/>
<line x1="897.5" y1="403" x2="897.5" y2="423" stroke="#00ffff"/>
<line x1="893.5" y1="403" x2="893.5" y2="423" stroke="#00ffff"/>
<line x1="969.5" y1="403" x2="969.5" y2="423" stroke="#00ffff"/>
<line x1="965.5" y1="403" x2="965.5" y2="423" stroke="#00ffff"/>
<line x1="1042.5" y1="403" x2="1042.5" y2="423" stroke="#00ffff"/>
<line x1="1038.5" y1="403" x2="1038.5" y2="423" stroke="#00ffff"/>
<path d="M360.5 238.3L360.5 216.3" stroke="#ffff00" fill="none"/>
<path d="M358.5 238.3L358.5 216.3" stroke="#ffff00" fill="none"/>
<path d="M360.5 216.3A22 22 0 0 0 338.5 238.3" stroke="#ffff00" fill="none"/>
<path d="M412 238.3L412 216.3" stroke="#ffff00" fill="none"/>
<path d="M414 238.3L414 216.3" stroke="#ffff00" fill="none"/>
<path d="M412 216.3A22 22 0 0 1 434 238.3" stroke="#ffff00" fill="none"/>
<path d="M505 238.3L505 216.3" stroke="#ffff00" fill="none"/>
<path d="M503 238.3L503 216.3" stroke="#ffff00" fill="none"/>
<path d="M505 216.3A22 22 0 0 0 483 238.3" stroke="#ffff00" fill="none"/>
<path d="M557 238.3L557 216.3" stroke="#ffff00" fill="none"/>
<path d="M559 238.3L559 216.3" stroke="#ffff00" fill="none"/>
<path d="M557 216.3A22 22 0 0 1 579 238.3" stroke="#ffff00" fill="none"/>
<path d="M1014 238.3L1014 216.3" stroke="#ffff00" fill="none"/>
<path d="M1012 238.3L1012 216.3" stroke="#ffff00" fill="none"/>
<path d="M1014 216.3A22 22 0 0 0 992 238.3" stroke="#ffff00" fill="none"/>
<path d="M1066 238.3L1066 216.3" stroke="#ffff00" fill="none"/>
<path d="M1068 238.3L1068 216.3" stroke="#ffff00" fill="none"/>
<path d="M1066 216.3A22 22 0 0 1 1088 238.3" stroke="#ffff00" fill="none"/>
<rect x="241.5" y="237.3" width="17" height="4.1" stroke="#00ffff" fill="none"/>
<rect x="289.5" y="237.3" width="49" height="4.1" stroke="#00ffff" fill="none"/>
<rect x="361.5" y="237.3" width="50.5" height="4.1" stroke="#00ffff" fill="none"/>
<rect x="434.5" y="237.3" width="49" height="4.1" stroke="#00ffff" fill="none"/>
<rect x="505.5" y="237.3" width="52" height="4.1" stroke="#00ffff" fill="none"/>
<rect x="579.5" y="237.3" width="27" height="4.1" stroke="#00ffff" fill="none"/>
<rect x="606.5" y="237.3" width="74" height="4.1" stroke="#00ffff" fill="none"/>
<rect x="680.5" y="237.3" width="57" height="4.1" stroke="#00ffff" fill="none"/>
<rect x="737.5" y="237.3" width="85" height="4.1" stroke="#00ffff" fill="none"/>
<rect x="822.5" y="237.3" width="76" height="4.1" stroke="#00ffff" fill="none"/>
<rect x="898.5" y="237.3" width="14" height="4.1" stroke="#00ffff" fill="none"/>
<rect x="945.5" y="237.3" width="47" height="4.1" stroke="#00ffff" fill="none"/>
<rect x="1014.5" y="237.3" width="52" height="4.1" stroke="#00ffff" fill="none"/>
<rect x="1088.5" y="237.3" width="25" height="4.1" stroke="#00ffff" fill="none"/>
<rect x="313.5" y="128.3" width="20" height="4.2" stroke="#00ffff" fill="none"/>
<rect x="363.5" y="128.3" width="52" height="4.2" stroke="#00ffff" fill="none"/>
<rect x="445.5" y="128.3" width="33" height="4.2" stroke="#00ffff" fill="none"/>
<rect x="508.5" y="128.3" width="44" height="4.2" stroke="#00ffff" fill="none"/>
<rect x="582.5" y="128.3" width="24" height="4.2" stroke="#00ffff" fill="none"/>
<rect x="956.5" y="128.3" width="29" height="4.2" stroke="#00ffff" fill="none"/>
<rect x="1015.5" y="128.3" width="45" height="4.2" stroke="#00ffff" fill="none"/>
<rect x="1090.5" y="128.3" width="23" height="4.2" stroke="#00ffff" fill="none"/>
<line x1="333" y1="129" x2="363" y2="129" stroke="#ffff00" stroke-width="2"/>
<line x1="415" y1="129" x2="445" y2="129" stroke="#ffff00" stroke-width="2"/>
<line x1="478" y1="129" x2="508" y2="129" stroke="#ffff00" stroke-width="2"/>
<line x1="552" y1="129" x2="582" y2="129" stroke="#ffff00" stroke-width="2"/>
<line x1="985" y1="129" x2="1015" y2="129" stroke="#ffff00" stroke-width="2"/>
<line x1="1060" y1="129" x2="1090" y2="129" stroke="#ffff00" stroke-width="2"/>
<rect x="366.5" y="134" width="18" height="41" stroke="#808080" fill="none"/>
<path d="M366.5 134L384.5 175" stroke="#808080" fill="none"/>
<rect x="366.5" y="177" width="18" height="41" stroke="#808080" fill="none"/>
<path d="M366.5 177L384.5 218" stroke="#808080" fill="none"/>
<rect x="372.5" y="219.5" width="12" height="16.5" stroke="#808080" fill="none"/>
<path d="M372.5 219.5L384.5 236M384.5 219.5L372.5 236" stroke="#808080" fill="none"/>
<rect x="388.5" y="134" width="18" height="41" stroke="#808080" fill="none"/>
<path d="M406.5 134L388.5 175" stroke="#808080" fill="none"/>
<rect x="388.5" y="177" width="18" height="41" stroke="#808080" fill="none"/>
<path d="M406.5 177L388.5 218" stroke="#808080" fill="none"/>
<rect x="388.5" y="219.5" width="12" height="16.5" stroke="#808080" fill="none"/>
<path d="M388.5 219.5L400.5 236M400.5 219.5L388.5 236" stroke="#808080" fill="none"/>
<rect x="384.9" y="182.4" width="3.2" height="3.2" stroke="#ffffff" fill="#ff00ff"/>
<rect x="384.9" y="237.9" width="3.2" height="3.2" stroke="#ffffff" fill="#ff00ff"/>
<rect x="384.9" y="128.9" width="3.2" height="3.2" stroke="#ffffff" fill="#ff00ff"/>
<rect x="439.5" y="134" width="18" height="41" stroke="#808080" fill="none"/>
<path d="M439.5 134L457.5 175" stroke="#808080" fill="none"/>
<rect x="439.5" y="177" width="18" height="41" stroke="#808080" fill="none"/>
<path d="M439.5 177L457.5 218" stroke="#808080" fill="none"/>
<rect x="445.5" y="219.5" width="12" height="16.5" stroke="#808080" fill="none"/>
<path d="M445.5 219.5L457.5 236M457.5 219.5L445.5 236" stroke="#808080" fill="none"/>
<rect x="461.5" y="134" width="18" height="41" stroke="#808080" fill="none"/>
<path d="M479.5 134L461.5 175" stroke="#808080" fill="none"/>
<rect x="461.5" y="177" width="18" height="41" stroke="#808080" fill="none"/>
<path d="M479.5 177L461.5 218" stroke="#808080" fill="none"/>
<rect x="461.5" y="219.5" width="12" height="16.5" stroke="#808080" fill="none"/>
<path d="M461.5 219.5L473.5 236M473.5 219.5L461.5 236" stroke="#808080" fill="none"/>
<rect x="457.9" y="182.4" width="3.2" height="3.2" stroke="#ffffff" fill="#ff00ff"/>
<rect x="457.9" y="237.9" width="3.2" height="3.2" stroke="#ffffff" fill="#ff00ff"/>
<rect x="457.9" y="128.9" width="3.2" height="3.2" stroke="#ffffff" fill="#ff00ff"/>
<rect x="511.5" y="134" width="18" height="41" stroke="#808080" fill="none"/>
<path d="M511.5 134L529.5 175" stroke="#808080" fill="none"/>
<rect x="511.5" y="177" width="18" height="41" stroke="#808080" fill="none"/>
<path d="M511.5 177L529.5 218" stroke="#808080" fill="none"/>
<rect x="517.5" y="219.5" width="12" height="16.5" stroke="#808080" fill="none"/>
<path d="M517.5 219.5L529.5 236M529.5 219.5L517.5 236" stroke="#808080" fill="none"/>
<rect x="533.5" y="134" width="18" height="41" stroke="#808080" fill="none"/>
<path d="M551.5 134L533.5 175" stroke="#808080" fill="none"/>
<rect x="533.5" y="177" width="18" height="41" stroke="#808080" fill="none"/>
<path d="M551.5 177L533.5 218" stroke="#808080" fill="none"/>
<rect x="533.5" y="219.5" width="12" height="16.5" stroke="#808080" fill="none"/>
<path d="M533.5 219.5L545.5 236M545.5 219.5L533.5 236" stroke="#808080" fill="none"/>
<rect x="529.9" y="182.4" width="3.2" height="3.2" stroke="#ffffff" fill="#ff00ff"/>
<rect x="529.9" y="237.9" width="3.2" height="3.2" stroke="#ffffff" fill="#ff00ff"/>
<rect x="529.9" y="128.9" width="3.2" height="3.2" stroke="#ffffff" fill="#ff00ff"/>
<rect x="1020.5" y="134" width="18" height="41" stroke="#808080" fill="none"/>
<path d="M1020.5 134L1038.5 175" stroke="#808080" fill="none"/>
<rect x="1020.5" y="177" width="18" height="41" stroke="#808080" fill="none"/>
<path d="M1020.5 177L1038.5 218" stroke="#808080" fill="none"/>
<rect x="1026.5" y="219.5" width="12" height="16.5" stroke="#808080" fill="none"/>
<path d="M1026.5 219.5L1038.5 236M1038.5 219.5L1026.5 236" stroke="#808080" fill="none"/>
<rect x="1042.5" y="134" width="18" height="41" stroke="#808080" fill="none"/>
<path d="M1060.5 134L1042.5 175" stroke="#808080" fill="none"/>
<rect x="1042.5" y="177" width="18" height="41" stroke="#808080" fill="none"/>
<path d="M1060.5 177L1042.5 218" stroke="#808080" fill="none"/>
<rect x="1042.5" y="219.5" width="12" height="16.5" stroke="#808080" fill="none"/>
<path d="M1042.5 219.5L1054.5 236M1054.5 219.5L1042.5 236" stroke="#808080" fill="none"/>
<rect x="1038.9" y="182.4" width="3.2" height="3.2" stroke="#ffffff" fill="#ff00ff"/>
<rect x="1038.9" y="237.9" width="3.2" height="3.2" stroke="#ffffff" fill="#ff00ff"/>
<rect x="1038.9" y="128.9" width="3.2" height="3.2" stroke="#ffffff" fill="#ff00ff"/>
<rect x="304.5" y="134" width="18" height="41" stroke="#808080" fill="none"/>
<path d="M322.5 134L304.5 175" stroke="#808080" fill="none"/>
<rect x="304.5" y="177" width="18" height="41" stroke="#808080" fill="none"/>
<path d="M322.5 177L304.5 218" stroke="#808080" fill="none"/>
<rect x="304.5" y="219.5" width="12" height="16.5" stroke="#808080" fill="none"/>
<path d="M304.5 219.5L316.5 236M316.5 219.5L304.5 236" stroke="#808080" fill="none"/>
<rect x="584.5" y="134" width="18" height="41" stroke="#808080" fill="none"/>
<path d="M584.5 134L602.5 175" stroke="#808080" fill="none"/>
<rect x="584.5" y="177" width="18" height="41" stroke="#808080" fill="none"/>
<path d="M584.5 177L602.5 218" stroke="#808080" fill="none"/>
<rect x="590.5" y="219.5" width="12" height="16.5" stroke="#808080" fill="none"/>
<path d="M590.5 219.5L602.5 236M602.5 219.5L590.5 236" stroke="#808080" fill="none"/>
<rect x="958.5" y="134" width="18" height="41" stroke="#808080" fill="none"/>
<path d="M976.5 134L958.5 175" stroke="#808080" fill="none"/>
<rect x="958.5" y="177" width="18" height="41" stroke="#808080" fill="none"/>
<path d="M976.5 177L958.5 218" stroke="#808080" fill="none"/>
<rect x="958.5" y="219.5" width="12" height="16.5" stroke="#808080" fill="none"/>
<path d="M958.5 219.5L970.5 236M970.5 219.5L958.5 236" stroke="#808080" fill="none"/>
<rect x="1089.5" y="134" width="18" height="41" stroke="#808080" fill="none"/>
<path d="M1089.5 134L1107.5 175" stroke="#808080" fill="none"/>
<rect x="1089.5" y="177" width="18" height="41" stroke="#808080" fill="none"/>
<path d="M1089.5 177L1107.5 218" stroke="#808080" fill="none"/>
<rect x="1095.5" y="219.5" width="12" height="16.5" stroke="#808080" fill="none"/>
<path d="M1095.5 219.5L1107.5 236M1107.5 219.5L1095.5 236" stroke="#808080" fill="none"/>
<rect x="300" y="120" width="12" height="11.5" stroke="#00ffff" fill="#808080"/>
<rect x="452.5" y="120" width="12" height="11.5" stroke="#00ffff" fill="#808080"/>
<rect x="594" y="120" width="12" height="11.5" stroke="#00ffff" fill="#808080"/>
<rect x="955" y="120" width="12" height="11.5" stroke="#00ffff" fill="#808080"/>
<rect x="1098" y="120" width="12" height="11.5" stroke="#00ffff" fill="#808080"/>
<rect x="301" y="229" width="12" height="11.5" stroke="#00ffff" fill="#808080"/>
<rect x="452.5" y="229" width="12" height="11.5" stroke="#00ffff" fill="#808080"/>
<rect x="594" y="229" width="12" height="11.5" stroke="#00ffff" fill="#808080"/>
<rect x="889.5" y="229" width="12" height="11.5" stroke="#00ffff" fill="#808080"/>
<rect x="955" y="229" width="12" height="11.5" stroke="#00ffff" fill="#808080"/>
<rect x="1101" y="229" width="12" height="11.5" stroke="#00ffff" fill="#808080"/>
<rect x="241.5" y="228.5" width="12" height="11.5" stroke="#00ffff" fill="#808080"/>
<line x1="300.5" y1="109" x2="300.5" y2="128" stroke="#00ffff"/>
<line x1="304.5" y1="109" x2="304.5" y2="128" stroke="#00ffff"/>
<line x1="384.5" y1="109" x2="384.5" y2="128" stroke="#00ffff"/>
<line x1="388.5" y1="109" x2="388.5" y2="128" stroke="#00ffff"/>
<line x1="457.5" y1="109" x2="457.5" y2="128" stroke="#00ffff"/>
<line x1="461.5" y1="109" x2="461.5" y2="128" stroke="#00ffff"/>
<line x1="529.5" y1="109" x2="529.5" y2="128" stroke="#00ffff"/>
<line x1="533.5" y1="109" x2="533.5" y2="128" stroke="#00ffff"/>
<line x1="1038.5" y1="109" x2="1038.5" y2="128" stroke="#00ffff"/>
<line x1="1042.5" y1="109" x2="1042.5" y2="128" stroke="#00ffff"/>
<rect x="382" y="103" width="2.5" height="6" stroke="none" fill="#ffff00"/>
<rect x="390" y="103" width="2.5" height="6" stroke="none" fill="#ffff00"/>
<rect x="382" y="127" width="2.5" height="6" stroke="none" fill="#ffff00"/>
<rect x="390" y="127" width="2.5" height="6" stroke="none" fill="#ffff00"/>
<rect x="527" y="103" width="2.5" height="6" stroke="none" fill="#ffff00"/>
<rect x="535" y="103" width="2.5" height="6" stroke="none" fill="#ffff00"/>
<rect x="527" y="127" width="2.5" height="6" stroke="none" fill="#ffff00"/>
<rect x="535" y="127" width="2.5" height="6" stroke="none" fill="#ffff00"/>
<rect x="1036" y="103" width="2.5" height="6" stroke="none" fill="#ffff00"/>
<rect x="1044" y="103" width="2.5" height="6" stroke="none" fill="#ffff00"/>
<rect x="1036" y="127" width="2.5" height="6" stroke="none" fill="#ffff00"/>
<rect x="1044" y="127" width="2.5" height="6" stroke="none" fill="#ffff00"/>
<rect x="381" y="397" width="2.5" height="6" stroke="none" fill="#ffff00"/>
<rect x="390.5" y="397" width="2.5" height="6" stroke="none" fill="#ffff00"/>
<rect x="381" y="421" width="2.5" height="6" stroke="none" fill="#ffff00"/>
<rect x="390.5" y="421" width="2.5" height="6" stroke="none" fill="#ffff00"/>
<rect x="526" y="397" width="2.5" height="6" stroke="none" fill="#ffff00"/>
<rect x="535.5" y="397" width="2.5" height="6" stroke="none" fill="#ffff00"/>
<rect x="526" y="421" width="2.5" height="6" stroke="none" fill="#ffff00"/>
<rect x="535.5" y="421" width="2.5" height="6" stroke="none" fill="#ffff00"/>
<rect x="672" y="397" width="2.5" height="6" stroke="none" fill="#ffff00"/>
<rect x="681.5" y="397" width="2.5" height="6" stroke="none" fill="#ffff00"/>
<rect x="672" y="421" width="2.5" height="6" stroke="none" fill="#ffff00"/>
<rect x="681.5" y="421" width="2.5" height="6" stroke="none" fill="#ffff00"/>
<rect x="817" y="397" width="2.5" height="6" stroke="none" fill="#ffff00"/>
<rect x="826.5" y="397" width="2.5" height="6" stroke="none" fill="#ffff00"/>
<rect x="817" y="421" width="2.5" height="6" stroke="none" fill="#ffff00"/>
<rect x="826.5" y="421" width="2.5" height="6" stroke="none" fill="#ffff00"/>
<rect x="1035" y="397" width="2.5" height="6" stroke="none" fill="#ffff00"/>
<rect x="1044.5" y="397" width="2.5" height="6" stroke="none" fill="#ffff00"/>
<rect x="1035" y="421" width="2.5" height="6" stroke="none" fill="#ffff00"/>
<rect x="1044.5" y="421" width="2.5" height="6" stroke="none" fill="#ffff00"/>
<rect x="302.5" y="397" width="2.5" height="6" stroke="none" fill="#ffff00"/>
<rect x="307.5" y="421" width="2.5" height="6" stroke="none" fill="#ffff00"/>
<rect x="955.5" y="397" width="2.5" height="6" stroke="none" fill="#ffff00"/>
<rect x="960.5" y="421" width="2.5" height="6" stroke="none" fill="#ffff00"/>
<line x1="243.5" y1="108" x2="243.5" y2="236" stroke="#ffff00"/>
<line x1="246.5" y1="118" x2="246.5" y2="236" stroke="#ffff00" stroke-dasharray="4,3"/>
<line x1="300.5" y1="108" x2="300.5" y2="236" stroke="#ffff00"/>
<rect x="256.5" y="117.5" width="30" height="82" stroke="#ffff00" fill="none"/>
<line x1="244" y1="138.5" x2="300" y2="138.5" stroke="#ffff00"/>
<line x1="244" y1="144.1" x2="300" y2="144.1" stroke="#ffff00"/>
<line x1="244" y1="149.7" x2="300" y2="149.7" stroke="#ffff00"/>
<line x1="244" y1="155.3" x2="300" y2="155.3" stroke="#ffff00"/>
<line x1="244" y1="160.9" x2="300" y2="160.9" stroke="#ffff00"/>
<line x1="244" y1="166.5" x2="300" y2="166.5" stroke="#ffff00"/>
<line x1="244" y1="172.1" x2="300" y2="172.1" stroke="#ffff00"/>
<line x1="244" y1="177.7" x2="300" y2="177.7" stroke="#ffff00"/>
<line x1="244" y1="183.3" x2="300" y2="183.3" stroke="#ffff00"/>
<line x1="244" y1="188.9" x2="300" y2="188.9" stroke="#ffff00"/>
<line x1="244" y1="194.5" x2="300" y2="194.5" stroke="#ffff00"/>
<line x1="244" y1="200.1" x2="300" y2="200.1" stroke="#ffff00"/>
<rect x="270" y="137.5" width="4" height="64" stroke="#ffff00" fill="none"/>
<line x1="274.5" y1="181" x2="300" y2="168" stroke="#ffff00"/>
<path d="M244 140A28.5 27 0 0 1 300 140" stroke="#ffff00" fill="none" stroke-dasharray="4,3"/>
<path d="M244 199A28.5 27.5 0 0 0 300 199" stroke="#ffff00" fill="none" stroke-dasharray="4,3"/>
<path d="M258.5 239V224.5H260.5 L273 234 V239 M274 234 L287 224.5 H288.5 V239" stroke="#00ffff" fill="none"/>
<line x1="267.5" y1="226.5" x2="278.5" y2="226.5" stroke="#ffff00"/>
<path d="M265.5 216.5L265.5 221.5M265.5 218.5L267.5 218.5L267.5 219.5L267.5 221.5 M268.5 218.5L270.5 218.5M268.5 219.5L270.5 219.5 M273.5 219.5L272.5 219.5L271.5 218.5L271.5 217.5L272.5 216.5L273.5 216.5L273.5 217.5L273.5 220.5L273.5 221.5L271.5 221.5 M274.5 216.5L276.5 216.5L276.5 217.5L275.5 221.5 " stroke="#ffffff" fill="none"/>
<path d="M257.5 202.5L255.5 202.5L255.5 207.5M255.5 204.5L256.5 204.5 " stroke="#ffff00" fill="none"/>
<path d="M288.5 202.5L286.5 202.5L286.5 207.5M286.5 204.5L287.5 204.5 " stroke="#ffff00" fill="none"/>
<line x1="898.5" y1="108" x2="898.5" y2="236" stroke="#ffff00"/>
<line x1="901.5" y1="118" x2="901.5" y2="236" stroke="#ffff00" stroke-dasharray="4,3"/>
<line x1="955.5" y1="108" x2="955.5" y2="236" stroke="#ffff00"/>
<rect x="911.5" y="117.5" width="30" height="82" stroke="#ffff00" fill="none"/>
<line x1="899" y1="138.5" x2="955" y2="138.5" stroke="#ffff00"/>
<line x1="899" y1="144.1" x2="955" y2="144.1" stroke="#ffff00"/>
<line x1="899" y1="149.7" x2="955" y2="149.7" stroke="#ffff00"/>
<line x1="899" y1="155.3" x2="955" y2="155.3" stroke="#ffff00"/>
<line x1="899" y1="160.9" x2="955" y2="160.9" stroke="#ffff00"/>
<line x1="899" y1="166.5" x2="955" y2="166.5" stroke="#ffff00"/>
<line x1="899" y1="172.1" x2="955" y2="172.1" stroke="#ffff00"/>
<line x1="899" y1="177.7" x2="955" y2="177.7" stroke="#ffff00"/>
<line x1="899" y1="183.3" x2="955" y2="183.3" stroke="#ffff00"/>
<line x1="899" y1="188.9" x2="955" y2="188.9" stroke="#ffff00"/>
<line x1="899" y1="194.5" x2="955" y2="194.5" stroke="#ffff00"/>
<line x1="899" y1="200.1" x2="955" y2="200.1" stroke="#ffff00"/>
<rect x="925" y="137.5" width="4" height="64" stroke="#ffff00" fill="none"/>
<line x1="929.5" y1="181" x2="955" y2="168" stroke="#ffff00"/>
<path d="M899 140A28.5 27 0 0 1 955 140" stroke="#ffff00" fill="none" stroke-dasharray="4,3"/>
<path d="M899 199A28.5 27.5 0 0 0 955 199" stroke="#ffff00" fill="none" stroke-dasharray="4,3"/>
<path d="M913.5 239V224.5H915.5 L928 234 V239 M929 234 L942 224.5 H943.5 V239" stroke="#00ffff" fill="none"/>
<line x1="922.5" y1="226.5" x2="933.5" y2="226.5" stroke="#ffff00"/>
<path d="M920.5 216.5L920.5 221.5M920.5 218.5L922.5 218.5L922.5 219.5L922.5 221.5 M923.5 218.5L925.5 218.5M923.5 219.5L925.5 219.5 M928.5 219.5L927.5 219.5L926.5 218.5L926.5 217.5L927.5 216.5L928.5 216.5L928.5 217.5L928.5 220.5L928.5 221.5L926.5 221.5 M929.5 216.5L931.5 216.5L931.5 217.5L930.5 221.5 " stroke="#ffffff" fill="none"/>
<path d="M912.5 202.5L910.5 202.5L910.5 207.5M910.5 204.5L911.5 204.5 " stroke="#ffff00" fill="none"/>
<path d="M943.5 202.5L941.5 202.5L941.5 207.5M941.5 204.5L942.5 204.5 " stroke="#ffff00" fill="none"/>
<line x1="300.5" y1="148.9" x2="606.5" y2="148.9" stroke="#ff7f7f"/>
<line x1="302.5" y1="145.9" x2="302.5" y2="151.9" stroke="#ff7f7f"/>
<line x1="305.5" y1="145.9" x2="305.5" y2="151.9" stroke="#ff7f7f"/>
<line x1="335" y1="145.9" x2="335" y2="151.9" stroke="#ff7f7f"/>
<line x1="365" y1="145.9" x2="365" y2="151.9" stroke="#ff7f7f"/>
<line x1="386.5" y1="145.9" x2="386.5" y2="151.9" stroke="#ff7f7f"/>
<line x1="408" y1="145.9" x2="408" y2="151.9" stroke="#ff7f7f"/>
<line x1="438" y1="145.9" x2="438" y2="151.9" stroke="#ff7f7f"/>
<line x1="459.5" y1="145.9" x2="459.5" y2="151.9" stroke="#ff7f7f"/>
<line x1="481" y1="145.9" x2="481" y2="151.9" stroke="#ff7f7f"/>
<line x1="510" y1="145.9" x2="510" y2="151.9" stroke="#ff7f7f"/>
<line x1="531.5" y1="145.9" x2="531.5" y2="151.9" stroke="#ff7f7f"/>
<line x1="553" y1="145.9" x2="553" y2="151.9" stroke="#ff7f7f"/>
<line x1="583" y1="145.9" x2="583" y2="151.9" stroke="#ff7f7f"/>
<line x1="594" y1="145.9" x2="594" y2="151.9" stroke="#ff7f7f"/>
<line x1="604.5" y1="145.9" x2="604.5" y2="151.9" stroke="#ff7f7f"/>
<path d="M314.5 142.5L314.5 141.5L314.5 146.5 M319.5 141.5L317.5 141.5L317.5 143.5L318.5 143.5L319.5 144.5L319.5 145.5L318.5 146.5L317.5 146.5 M321.5 141.5L322.5 141.5L322.5 142.5L322.5 145.5L322.5 146.5L321.5 146.5L320.5 145.5L320.5 142.5ZM324.5 141.5L325.5 141.5L326.5 142.5L326.5 145.5L325.5 146.5L324.5 146.5L323.5 145.5L323.5 142.5Z" stroke="#ffffff" fill="none"/>
<path d="M344.5 142.5L344.5 141.5L344.5 146.5 M349.5 141.5L347.5 141.5L347.5 143.5L348.5 143.5L349.5 144.5L349.5 145.5L348.5 146.5L347.5 146.5 M351.5 141.5L352.5 141.5L352.5 142.5L352.5 145.5L352.5 146.5L351.5 146.5L350.5 145.5L350.5 142.5ZM354.5 141.5L355.5 141.5L356.5 142.5L356.5 145.5L355.5 146.5L354.5 146.5L353.5 145.5L353.5 142.5Z" stroke="#ffffff" fill="none"/>
<path d="M369.5 142.5L370.5 141.5L370.5 146.5 M372.5 142.5L373.5 141.5L373.5 146.5 M378.5 141.5L376.5 141.5L376.5 143.5L377.5 143.5L378.5 144.5L378.5 145.5L377.5 146.5L376.5 146.5 M379.5 141.5L381.5 141.5L381.5 142.5L381.5 145.5L381.5 146.5L379.5 146.5L379.5 145.5L379.5 142.5Z" stroke="#ffffff" fill="none"/>
<path d="M391.5 142.5L391.5 141.5L391.5 146.5 M394.5 142.5L395.5 141.5L395.5 146.5 M399.5 141.5L397.5 141.5L397.5 143.5L399.5 143.5L399.5 144.5L399.5 145.5L399.5 146.5L397.5 146.5 M401.5 141.5L402.5 141.5L403.5 142.5L403.5 145.5L402.5 146.5L401.5 146.5L400.5 145.5L400.5 142.5Z" stroke="#ffffff" fill="none"/>
<path d="M417.5 142.5L417.5 141.5L417.5 146.5 M422.5 141.5L420.5 141.5L420.5 143.5L421.5 143.5L422.5 144.5L422.5 145.5L421.5 146.5L420.5 146.5 M424.5 141.5L425.5 141.5L425.5 142.5L425.5 145.5L425.5 146.5L424.5 146.5L423.5 145.5L423.5 142.5ZM427.5 141.5L428.5 141.5L429.5 142.5L429.5 145.5L428.5 146.5L427.5 146.5L426.5 145.5L426.5 142.5Z" stroke="#ffffff" fill="none"/>
<path d="M446.5 144.5L444.5 144.5L444.5 143.5L444.5 142.5L444.5 141.5L445.5 141.5L446.5 142.5L446.5 145.5L445.5 146.5L444.5 146.5 M449.5 141.5L447.5 141.5L447.5 143.5L449.5 143.5L449.5 144.5L449.5 145.5L449.5 146.5L447.5 146.5 M451.5 141.5L452.5 141.5L452.5 142.5L452.5 145.5L452.5 146.5L451.5 146.5L450.5 145.5L450.5 142.5Z" stroke="#ffffff" fill="none"/>
<path d="M467.5 144.5L466.5 144.5L465.5 143.5L465.5 142.5L466.5 141.5L467.5 141.5L467.5 142.5L467.5 145.5L467.5 146.5L465.5 146.5 M471.5 141.5L468.5 141.5L468.5 143.5L470.5 143.5L471.5 144.5L471.5 145.5L470.5 146.5L468.5 146.5 M472.5 141.5L473.5 141.5L474.5 142.5L474.5 145.5L473.5 146.5L472.5 146.5L472.5 145.5L472.5 142.5Z" stroke="#ffffff" fill="none"/>
<path d="M489.5 142.5L490.5 141.5L490.5 146.5 M494.5 141.5L492.5 141.5L492.5 143.5L494.5 143.5L494.5 144.5L494.5 145.5L494.5 146.5L492.5 146.5 M496.5 141.5L497.5 141.5L498.5 142.5L498.5 145.5L497.5 146.5L496.5 146.5L496.5 145.5L496.5 142.5ZM499.5 141.5L501.5 141.5L501.5 142.5L501.5 145.5L501.5 146.5L499.5 146.5L499.5 145.5L499.5 142.5Z" stroke="#ffffff" fill="none"/>
<path d="M514.5 142.5L515.5 141.5L515.5 146.5 M517.5 142.5L518.5 141.5L518.5 146.5 M523.5 141.5L521.5 141.5L521.5 143.5L522.5 143.5L523.5 144.5L523.5 145.5L522.5 146.5L521.5 146.5 M524.5 141.5L526.5 141.5L526.5 142.5L526.5 145.5L526.5 146.5L524.5 146.5L524.5 145.5L524.5 142.5Z" stroke="#ffffff" fill="none"/>
<path d="M536.5 142.5L536.5 141.5L536.5 146.5 M539.5 142.5L540.5 141.5L540.5 146.5 M544.5 141.5L542.5 141.5L542.5 143.5L544.5 143.5L544.5 144.5L544.5 145.5L544.5 146.5L542.5 146.5 M546.5 141.5L547.5 141.5L548.5 142.5L548.5 145.5L547.5 146.5L546.5 146.5L545.5 145.5L545.5 142.5Z" stroke="#ffffff" fill="none"/>
<path d="M562.5 142.5L562.5 141.5L562.5 146.5 M567.5 141.5L565.5 141.5L565.5 143.5L566.5 143.5L567.5 144.5L567.5 145.5L566.5 146.5L565.5 146.5 M569.5 141.5L570.5 141.5L570.5 142.5L570.5 145.5L570.5 146.5L569.5 146.5L568.5 145.5L568.5 142.5ZM572.5 141.5L573.5 141.5L574.5 142.5L574.5 145.5L573.5 146.5L572.5 146.5L571.5 145.5L571.5 142.5Z" stroke="#ffffff" fill="none"/>
<path d="M591.5 144.5L589.5 144.5L589.5 143.5L589.5 142.5L589.5 141.5L590.5 141.5L591.5 142.5L591.5 145.5L590.5 146.5L589.5 146.5 M594.5 141.5L592.5 141.5L592.5 143.5L594.5 143.5L594.5 144.5L594.5 145.5L594.5 146.5L592.5 146.5 M596.5 141.5L597.5 141.5L597.5 142.5L597.5 145.5L597.5 146.5L596.5 146.5L595.5 145.5L595.5 142.5Z" stroke="#ffffff" fill="none"/>
<line x1="954.5" y1="148.9" x2="1112" y2="148.9" stroke="#ff7f7f"/>
<line x1="956.5" y1="145.9" x2="956.5" y2="151.9" stroke="#ff7f7f"/>
<line x1="960" y1="145.9" x2="960" y2="151.9" stroke="#ff7f7f"/>
<line x1="975" y1="145.9" x2="975" y2="151.9" stroke="#ff7f7f"/>
<line x1="994" y1="145.9" x2="994" y2="151.9" stroke="#ff7f7f"/>
<line x1="1025" y1="145.9" x2="1025" y2="151.9" stroke="#ff7f7f"/>
<line x1="1040.5" y1="145.9" x2="1040.5" y2="151.9" stroke="#ff7f7f"/>
<line x1="1056" y1="145.9" x2="1056" y2="151.9" stroke="#ff7f7f"/>
<line x1="1084" y1="145.9" x2="1084" y2="151.9" stroke="#ff7f7f"/>
<line x1="1110" y1="145.9" x2="1110" y2="151.9" stroke="#ff7f7f"/>
<path d="M965.5 144.5L963.5 144.5L963.5 143.5L963.5 142.5L963.5 141.5L964.5 141.5L965.5 142.5L965.5 145.5L964.5 146.5L963.5 146.5 M968.5 141.5L966.5 141.5L966.5 143.5L968.5 143.5L968.5 144.5L968.5 145.5L968.5 146.5L966.5 146.5 M970.5 141.5L971.5 141.5L971.5 142.5L971.5 145.5L971.5 146.5L970.5 146.5L969.5 145.5L969.5 142.5Z" stroke="#ffffff" fill="none"/>
<path d="M978.5 142.5L979.5 141.5L979.5 146.5 M983.5 141.5L981.5 141.5L981.5 143.5L983.5 143.5L983.5 144.5L983.5 145.5L983.5 146.5L981.5 146.5 M985.5 141.5L986.5 141.5L987.5 142.5L987.5 145.5L986.5 146.5L985.5 146.5L985.5 145.5L985.5 142.5ZM988.5 141.5L990.5 141.5L990.5 142.5L990.5 145.5L990.5 146.5L988.5 146.5L988.5 145.5L988.5 142.5Z" stroke="#ffffff" fill="none"/>
<path d="M1003.5 142.5L1004.5 141.5L1004.5 146.5 M1008.5 141.5L1006.5 141.5L1006.5 143.5L1008.5 143.5L1008.5 144.5L1008.5 145.5L1008.5 146.5L1006.5 146.5 M1010.5 141.5L1011.5 141.5L1012.5 142.5L1012.5 145.5L1011.5 146.5L1010.5 146.5L1010.5 145.5L1010.5 142.5ZM1013.5 141.5L1015.5 141.5L1015.5 142.5L1015.5 145.5L1015.5 146.5L1013.5 146.5L1013.5 145.5L1013.5 142.5Z" stroke="#ffffff" fill="none"/>
<path d="M1026.5 142.5L1027.5 141.5L1027.5 146.5 M1029.5 142.5L1030.5 141.5L1030.5 146.5 M1035.5 141.5L1033.5 141.5L1033.5 143.5L1034.5 143.5L1035.5 144.5L1035.5 145.5L1034.5 146.5L1033.5 146.5 M1036.5 141.5L1038.5 141.5L1038.5 142.5L1038.5 145.5L1038.5 146.5L1036.5 146.5L1036.5 145.5L1036.5 142.5Z" stroke="#ffffff" fill="none"/>
<path d="M1042.5 142.5L1042.5 141.5L1042.5 146.5 M1045.5 142.5L1046.5 141.5L1046.5 146.5 M1050.5 141.5L1048.5 141.5L1048.5 143.5L1050.5 143.5L1050.5 144.5L1050.5 145.5L1050.5 146.5L1048.5 146.5 M1052.5 141.5L1053.5 141.5L1054.5 142.5L1054.5 145.5L1053.5 146.5L1052.5 146.5L1051.5 145.5L1051.5 142.5Z" stroke="#ffffff" fill="none"/>
<path d="M1064.5 142.5L1064.5 141.5L1064.5 146.5 M1069.5 141.5L1067.5 141.5L1067.5 143.5L1068.5 143.5L1069.5 144.5L1069.5 145.5L1068.5 146.5L1067.5 146.5 M1071.5 141.5L1072.5 141.5L1072.5 142.5L1072.5 145.5L1072.5 146.5L1071.5 146.5L1070.5 145.5L1070.5 142.5ZM1074.5 141.5L1075.5 141.5L1076.5 142.5L1076.5 145.5L1075.5 146.5L1074.5 146.5L1073.5 145.5L1073.5 142.5Z" stroke="#ffffff" fill="none"/>
<path d="M1094.5 144.5L1093.5 144.5L1092.5 143.5L1092.5 142.5L1093.5 141.5L1094.5 141.5L1094.5 142.5L1094.5 145.5L1094.5 146.5L1092.5 146.5 M1098.5 141.5L1095.5 141.5L1095.5 143.5L1097.5 143.5L1098.5 144.5L1098.5 145.5L1097.5 146.5L1095.5 146.5 M1099.5 141.5L1100.5 141.5L1101.5 142.5L1101.5 145.5L1100.5 146.5L1099.5 146.5L1099.5 145.5L1099.5 142.5Z" stroke="#ffffff" fill="none"/>
<path d="M322.5 134.5L324.5 134.5M323.5 134.5L323.5 139.5 M325.5 134.5L325.5 139.5L326.5 139.5 M327.5 139.5L327.5 134.5L328.5 136.5L329.5 134.5L329.5 139.5 M330.5 134.5L331.5 134.5L332.5 135.5L332.5 136.5L331.5 136.5L330.5 136.5L330.5 136.5L330.5 135.5ZM330.5 136.5L330.5 137.5L330.5 138.5L330.5 139.5L331.5 139.5L332.5 138.5L332.5 137.5L331.5 136.5 M333.5 135.5L333.5 134.5L334.5 134.5L334.5 135.5L334.5 136.5L333.5 139.5L334.5 139.5 M337.5 139.5L337.5 134.5L335.5 137.5L337.5 137.5 " stroke="#ff0000" fill="none"/>
<path d="M412.5 134.5L414.5 134.5M413.5 134.5L413.5 139.5 M415.5 134.5L415.5 139.5L416.5 139.5 M417.5 139.5L417.5 134.5L418.5 136.5L419.5 134.5L419.5 139.5 M420.5 134.5L421.5 134.5L422.5 135.5L422.5 136.5L421.5 136.5L420.5 136.5L420.5 136.5L420.5 135.5ZM420.5 136.5L420.5 137.5L420.5 138.5L420.5 139.5L421.5 139.5L422.5 138.5L422.5 137.5L421.5 136.5 M423.5 135.5L423.5 134.5L424.5 134.5L424.5 135.5L424.5 136.5L423.5 139.5L424.5 139.5 M427.5 139.5L427.5 134.5L425.5 137.5L427.5 137.5 " stroke="#ff0000" fill="none"/>
<path d="M487.5 134.5L489.5 134.5M488.5 134.5L488.5 139.5 M490.5 134.5L490.5 139.5L491.5 139.5 M492.5 139.5L492.5 134.5L493.5 136.5L494.5 134.5L494.5 139.5 M495.5 134.5L496.5 134.5L497.5 135.5L497.5 136.5L496.5 136.5L495.5 136.5L495.5 136.5L495.5 135.5ZM495.5 136.5L495.5 137.5L495.5 138.5L495.5 139.5L496.5 139.5L497.5 138.5L497.5 137.5L496.5 136.5 M498.5 135.5L498.5 134.5L499.5 134.5L499.5 135.5L499.5 136.5L498.5 139.5L499.5 139.5 M502.5 139.5L502.5 134.5L500.5 137.5L502.5 137.5 " stroke="#ff0000" fill="none"/>
<path d="M558.5 134.5L560.5 134.5M559.5 134.5L559.5 139.5 M561.5 134.5L561.5 139.5L562.5 139.5 M563.5 139.5L563.5 134.5L564.5 136.5L565.5 134.5L565.5 139.5 M566.5 134.5L567.5 134.5L568.5 135.5L568.5 136.5L567.5 136.5L566.5 136.5L566.5 136.5L566.5 135.5ZM566.5 136.5L566.5 137.5L566.5 138.5L566.5 139.5L567.5 139.5L568.5 138.5L568.5 137.5L567.5 136.5 M569.5 135.5L569.5 134.5L570.5 134.5L570.5 135.5L570.5 136.5L569.5 139.5L570.5 139.5 M573.5 139.5L573.5 134.5L571.5 137.5L573.5 137.5 " stroke="#ff0000" fill="none"/>
<path d="M977.5 134.5L979.5 134.5M978.5 134.5L978.5 139.5 M980.5 134.5L980.5 139.5L981.5 139.5 M982.5 139.5L982.5 134.5L983.5 136.5L984.5 134.5L984.5 139.5 M985.5 134.5L986.5 134.5L987.5 135.5L987.5 136.5L986.5 136.5L985.5 136.5L985.5 136.5L985.5 135.5ZM985.5 136.5L985.5 137.5L985.5 138.5L985.5 139.5L986.5 139.5L987.5 138.5L987.5 137.5L986.5 136.5 M988.5 135.5L988.5 134.5L989.5 134.5L989.5 135.5L989.5 136.5L988.5 139.5L989.5 139.5 M992.5 139.5L992.5 134.5L990.5 137.5L992.5 137.5 " stroke="#ff0000" fill="none"/>
<path d="M1072.5 134.5L1074.5 134.5M1073.5 134.5L1073.5 139.5 M1075.5 134.5L1075.5 139.5L1076.5 139.5 M1077.5 139.5L1077.5 134.5L1078.5 136.5L1079.5 134.5L1079.5 139.5 M1080.5 134.5L1081.5 134.5L1082.5 135.5L1082.5 136.5L1081.5 136.5L1080.5 136.5L1080.5 136.5L1080.5 135.5ZM1080.5 136.5L1080.5 137.5L1080.5 138.5L1080.5 139.5L1081.5 139.5L1082.5 138.5L1082.5 137.5L1081.5 136.5 M1083.5 135.5L1083.5 134.5L1084.5 134.5L1084.5 135.5L1084.5 136.5L1083.5 139.5L1084.5 139.5 M1087.5 139.5L1087.5 134.5L1085.5 137.5L1087.5 137.5 " stroke="#ff0000" fill="none"/>
<line x1="239.5" y1="280.4" x2="1115.5" y2="280.4" stroke="#ff7f7f"/>
<line x1="241.5" y1="277.4" x2="241.5" y2="283.4" stroke="#ff7f7f"/>
<line x1="243.5" y1="277.4" x2="243.5" y2="283.4" stroke="#ff7f7f"/>
<line x1="262.5" y1="277.4" x2="262.5" y2="283.4" stroke="#ff7f7f"/>
<line x1="266.5" y1="277.4" x2="266.5" y2="283.4" stroke="#ff7f7f"/>
<line x1="289" y1="277.4" x2="289" y2="283.4" stroke="#ff7f7f"/>
<line x1="313.5" y1="277.4" x2="313.5" y2="283.4" stroke="#ff7f7f"/>
<line x1="338.5" y1="277.4" x2="338.5" y2="283.4" stroke="#ff7f7f"/>
<line x1="361" y1="277.4" x2="361" y2="283.4" stroke="#ff7f7f"/>
<line x1="386.5" y1="277.4" x2="386.5" y2="283.4" stroke="#ff7f7f"/>
<line x1="411.5" y1="277.4" x2="411.5" y2="283.4" stroke="#ff7f7f"/>
<line x1="434" y1="277.4" x2="434" y2="283.4" stroke="#ff7f7f"/>
<line x1="459.5" y1="277.4" x2="459.5" y2="283.4" stroke="#ff7f7f"/>
<line x1="484.5" y1="277.4" x2="484.5" y2="283.4" stroke="#ff7f7f"/>
<line x1="507" y1="277.4" x2="507" y2="283.4" stroke="#ff7f7f"/>
<line x1="531.5" y1="277.4" x2="531.5" y2="283.4" stroke="#ff7f7f"/>
<line x1="556.5" y1="277.4" x2="556.5" y2="283.4" stroke="#ff7f7f"/>
<line x1="579" y1="277.4" x2="579" y2="283.4" stroke="#ff7f7f"/>
<line x1="604.5" y1="277.4" x2="604.5" y2="283.4" stroke="#ff7f7f"/>
<line x1="629.5" y1="277.4" x2="629.5" y2="283.4" stroke="#ff7f7f"/>
<line x1="652" y1="277.4" x2="652" y2="283.4" stroke="#ff7f7f"/>
<line x1="677.5" y1="277.4" x2="677.5" y2="283.4" stroke="#ff7f7f"/>
<line x1="702.5" y1="277.4" x2="702.5" y2="283.4" stroke="#ff7f7f"/>
<line x1="725" y1="277.4" x2="725" y2="283.4" stroke="#ff7f7f"/>
<line x1="749.5" y1="277.4" x2="749.5" y2="283.4" stroke="#ff7f7f"/>
<line x1="774.5" y1="277.4" x2="774.5" y2="283.4" stroke="#ff7f7f"/>
<line x1="797" y1="277.4" x2="797" y2="283.4" stroke="#ff7f7f"/>
<line x1="822.5" y1="277.4" x2="822.5" y2="283.4" stroke="#ff7f7f"/>
<line x1="847.5" y1="277.4" x2="847.5" y2="283.4" stroke="#ff7f7f"/>
<line x1="870" y1="277.4" x2="870" y2="283.4" stroke="#ff7f7f"/>
<line x1="895.5" y1="277.4" x2="895.5" y2="283.4" stroke="#ff7f7f"/>
<line x1="920.5" y1="277.4" x2="920.5" y2="283.4" stroke="#ff7f7f"/>
<line x1="943" y1="277.4" x2="943" y2="283.4" stroke="#ff7f7f"/>
<line x1="967.5" y1="277.4" x2="967.5" y2="283.4" stroke="#ff7f7f"/>
<line x1="992.5" y1="277.4" x2="992.5" y2="283.4" stroke="#ff7f7f"/>
<line x1="1015" y1="277.4" x2="1015" y2="283.4" stroke="#ff7f7f"/>
<line x1="1040.5" y1="277.4" x2="1040.5" y2="283.4" stroke="#ff7f7f"/>
<line x1="1065.5" y1="277.4" x2="1065.5" y2="283.4" stroke="#ff7f7f"/>
<line x1="1088" y1="277.4" x2="1088" y2="283.4" stroke="#ff7f7f"/>
<line x1="1113.5" y1="277.4" x2="1113.5" y2="283.4" stroke="#ff7f7f"/>
<path d="M271.5 274.5L272.5 272.5L272.5 278.5 M274.5 274.5L275.5 272.5L275.5 278.5 M278.5 272.5L279.5 272.5L280.5 273.5L280.5 277.5L279.5 278.5L278.5 278.5L278.5 277.5L278.5 273.5ZM281.5 272.5L283.5 272.5L283.5 273.5L283.5 277.5L283.5 278.5L281.5 278.5L281.5 277.5L281.5 273.5Z" stroke="#ffffff" fill="none"/>
<path d="M271.5 286.5L271.5 282.5L272.5 284.5L273.5 282.5L273.5 286.5 M274.5 283.5L274.5 282.5L274.5 286.5 M277.5 282.5L277.5 282.5L278.5 282.5L278.5 285.5L277.5 286.5L277.5 286.5L276.5 285.5L276.5 282.5ZM279.5 282.5L279.5 282.5L280.5 282.5L281.5 282.5L281.5 283.5L279.5 286.5L281.5 286.5 M283.5 282.5L281.5 282.5L281.5 283.5L283.5 283.5L283.5 284.5L283.5 285.5L283.5 286.5L281.5 286.5 " stroke="#ff0000" fill="none"/>
<path d="M343.5 274.5L344.5 272.5L344.5 278.5 M346.5 274.5L347.5 272.5L347.5 278.5 M350.5 272.5L351.5 272.5L352.5 273.5L352.5 277.5L351.5 278.5L350.5 278.5L350.5 277.5L350.5 273.5ZM353.5 272.5L355.5 272.5L355.5 273.5L355.5 277.5L355.5 278.5L353.5 278.5L353.5 277.5L353.5 273.5Z" stroke="#ffffff" fill="none"/>
<path d="M343.5 286.5L343.5 282.5L344.5 284.5L345.5 282.5L345.5 286.5 M346.5 283.5L346.5 282.5L346.5 286.5 M349.5 282.5L349.5 282.5L350.5 282.5L350.5 285.5L349.5 286.5L349.5 286.5L348.5 285.5L348.5 282.5ZM351.5 282.5L351.5 282.5L352.5 282.5L353.5 282.5L353.5 283.5L351.5 286.5L353.5 286.5 M355.5 282.5L353.5 282.5L353.5 283.5L355.5 283.5L355.5 284.5L355.5 285.5L355.5 286.5L353.5 286.5 " stroke="#ff0000" fill="none"/>
<path d="M294.5 274.5L295.5 272.5L295.5 278.5 M297.5 273.5L298.5 272.5L299.5 272.5L299.5 273.5L299.5 274.5L297.5 278.5L299.5 278.5 M303.5 272.5L301.5 272.5L301.5 275.5L302.5 275.5L303.5 275.5L303.5 277.5L302.5 278.5L301.5 278.5 M304.5 272.5L306.5 272.5L306.5 273.5L306.5 277.5L306.5 278.5L304.5 278.5L304.5 277.5L304.5 273.5Z" stroke="#ffffff" fill="none"/>
<path d="M320.5 274.5L320.5 272.5L320.5 278.5 M323.5 273.5L323.5 272.5L324.5 272.5L325.5 273.5L325.5 274.5L323.5 278.5L325.5 278.5 M328.5 272.5L326.5 272.5L326.5 275.5L328.5 275.5L328.5 275.5L328.5 277.5L328.5 278.5L326.5 278.5 M330.5 272.5L331.5 272.5L332.5 273.5L332.5 277.5L331.5 278.5L330.5 278.5L329.5 277.5L329.5 273.5Z" stroke="#ffffff" fill="none"/>
<path d="M416.5 274.5L417.5 272.5L417.5 278.5 M419.5 274.5L420.5 272.5L420.5 278.5 M423.5 272.5L424.5 272.5L425.5 273.5L425.5 277.5L424.5 278.5L423.5 278.5L423.5 277.5L423.5 273.5ZM426.5 272.5L428.5 272.5L428.5 273.5L428.5 277.5L428.5 278.5L426.5 278.5L426.5 277.5L426.5 273.5Z" stroke="#ffffff" fill="none"/>
<path d="M416.5 286.5L416.5 282.5L417.5 284.5L418.5 282.5L418.5 286.5 M419.5 283.5L419.5 282.5L419.5 286.5 M422.5 282.5L422.5 282.5L423.5 282.5L423.5 285.5L422.5 286.5L422.5 286.5L421.5 285.5L421.5 282.5ZM424.5 282.5L424.5 282.5L425.5 282.5L426.5 282.5L426.5 283.5L424.5 286.5L426.5 286.5 M428.5 282.5L426.5 282.5L426.5 283.5L428.5 283.5L428.5 284.5L428.5 285.5L428.5 286.5L426.5 286.5 " stroke="#ff0000" fill="none"/>
<path d="M367.5 274.5L368.5 272.5L368.5 278.5 M370.5 273.5L371.5 272.5L372.5 272.5L372.5 273.5L372.5 274.5L370.5 278.5L372.5 278.5 M376.5 272.5L374.5 272.5L374.5 275.5L375.5 275.5L376.5 275.5L376.5 277.5L375.5 278.5L374.5 278.5 M377.5 272.5L379.5 272.5L379.5 273.5L379.5 277.5L379.5 278.5L377.5 278.5L377.5 277.5L377.5 273.5Z" stroke="#ffffff" fill="none"/>
<path d="M393.5 274.5L393.5 272.5L393.5 278.5 M396.5 273.5L396.5 272.5L397.5 272.5L398.5 273.5L398.5 274.5L396.5 278.5L398.5 278.5 M401.5 272.5L399.5 272.5L399.5 275.5L401.5 275.5L401.5 275.5L401.5 277.5L401.5 278.5L399.5 278.5 M403.5 272.5L404.5 272.5L405.5 273.5L405.5 277.5L404.5 278.5L403.5 278.5L402.5 277.5L402.5 273.5Z" stroke="#ffffff" fill="none"/>
<path d="M489.5 274.5L490.5 272.5L490.5 278.5 M492.5 274.5L493.5 272.5L493.5 278.5 M496.5 272.5L497.5 272.5L498.5 273.5L498.5 277.5L497.5 278.5L496.5 278.5L496.5 277.5L496.5 273.5ZM499.5 272.5L501.5 272.5L501.5 273.5L501.5 277.5L501.5 278.5L499.5 278.5L499.5 277.5L499.5 273.5Z" stroke="#ffffff" fill="none"/>
<path d="M489.5 286.5L489.5 282.5L490.5 284.5L491.5 282.5L491.5 286.5 M492.5 283.5L492.5 282.5L492.5 286.5 M495.5 282.5L495.5 282.5L496.5 282.5L496.5 285.5L495.5 286.5L495.5 286.5L494.5 285.5L494.5 282.5ZM497.5 282.5L497.5 282.5L498.5 282.5L499.5 282.5L499.5 283.5L497.5 286.5L499.5 286.5 M501.5 282.5L499.5 282.5L499.5 283.5L501.5 283.5L501.5 284.5L501.5 285.5L501.5 286.5L499.5 286.5 " stroke="#ff0000" fill="none"/>
<path d="M440.5 274.5L441.5 272.5L441.5 278.5 M443.5 273.5L444.5 272.5L445.5 272.5L445.5 273.5L445.5 274.5L443.5 278.5L445.5 278.5 M449.5 272.5L447.5 272.5L447.5 275.5L448.5 275.5L449.5 275.5L449.5 277.5L448.5 278.5L447.5 278.5 M450.5 272.5L452.5 272.5L452.5 273.5L452.5 277.5L452.5 278.5L450.5 278.5L450.5 277.5L450.5 273.5Z" stroke="#ffffff" fill="none"/>
<path d="M466.5 274.5L466.5 272.5L466.5 278.5 M469.5 273.5L469.5 272.5L470.5 272.5L471.5 273.5L471.5 274.5L469.5 278.5L471.5 278.5 M474.5 272.5L472.5 272.5L472.5 275.5L474.5 275.5L474.5 275.5L474.5 277.5L474.5 278.5L472.5 278.5 M476.5 272.5L477.5 272.5L478.5 273.5L478.5 277.5L477.5 278.5L476.5 278.5L475.5 277.5L475.5 273.5Z" stroke="#ffffff" fill="none"/>
<path d="M561.5 274.5L562.5 272.5L562.5 278.5 M564.5 274.5L565.5 272.5L565.5 278.5 M568.5 272.5L569.5 272.5L570.5 273.5L570.5 277.5L569.5 278.5L568.5 278.5L568.5 277.5L568.5 273.5ZM571.5 272.5L573.5 272.5L573.5 273.5L573.5 277.5L573.5 278.5L571.5 278.5L571.5 277.5L571.5 273.5Z" stroke="#ffffff" fill="none"/>
<path d="M561.5 286.5L561.5 282.5L562.5 284.5L563.5 282.5L563.5 286.5 M564.5 283.5L564.5 282.5L564.5 286.5 M567.5 282.5L567.5 282.5L568.5 282.5L568.5 285.5L567.5 286.5L567.5 286.5L566.5 285.5L566.5 282.5ZM569.5 282.5L569.5 282.5L570.5 282.5L571.5 282.5L571.5 283.5L569.5 286.5L571.5 286.5 M573.5 282.5L571.5 282.5L571.5 283.5L573.5 283.5L573.5 284.5L573.5 285.5L573.5 286.5L571.5 286.5 " stroke="#ff0000" fill="none"/>
<path d="M512.5 274.5L513.5 272.5L513.5 278.5 M515.5 273.5L516.5 272.5L517.5 272.5L517.5 273.5L517.5 274.5L515.5 278.5L517.5 278.5 M521.5 272.5L519.5 272.5L519.5 275.5L520.5 275.5L521.5 275.5L521.5 277.5L520.5 278.5L519.5 278.5 M522.5 272.5L524.5 272.5L524.5 273.5L524.5 277.5L524.5 278.5L522.5 278.5L522.5 277.5L522.5 273.5Z" stroke="#ffffff" fill="none"/>
<path d="M538.5 274.5L538.5 272.5L538.5 278.5 M541.5 273.5L541.5 272.5L542.5 272.5L543.5 273.5L543.5 274.5L541.5 278.5L543.5 278.5 M546.5 272.5L544.5 272.5L544.5 275.5L546.5 275.5L546.5 275.5L546.5 277.5L546.5 278.5L544.5 278.5 M548.5 272.5L549.5 272.5L550.5 273.5L550.5 277.5L549.5 278.5L548.5 278.5L547.5 277.5L547.5 273.5Z" stroke="#ffffff" fill="none"/>
<path d="M634.5 274.5L635.5 272.5L635.5 278.5 M637.5 274.5L638.5 272.5L638.5 278.5 M641.5 272.5L642.5 272.5L643.5 273.5L643.5 277.5L642.5 278.5L641.5 278.5L641.5 277.5L641.5 273.5ZM644.5 272.5L646.5 272.5L646.5 273.5L646.5 277.5L646.5 278.5L644.5 278.5L644.5 277.5L644.5 273.5Z" stroke="#ffffff" fill="none"/>
<path d="M634.5 286.5L634.5 282.5L635.5 284.5L636.5 282.5L636.5 286.5 M637.5 283.5L637.5 282.5L637.5 286.5 M640.5 282.5L640.5 282.5L641.5 282.5L641.5 285.5L640.5 286.5L640.5 286.5L639.5 285.5L639.5 282.5ZM642.5 282.5L642.5 282.5L643.5 282.5L644.5 282.5L644.5 283.5L642.5 286.5L644.5 286.5 M646.5 282.5L644.5 282.5L644.5 283.5L646.5 283.5L646.5 284.5L646.5 285.5L646.5 286.5L644.5 286.5 " stroke="#ff0000" fill="none"/>
<path d="M585.5 274.5L586.5 272.5L586.5 278.5 M588.5 273.5L589.5 272.5L590.5 272.5L590.5 273.5L590.5 274.5L588.5 278.5L590.5 278.5 M594.5 272.5L592.5 272.5L592.5 275.5L593.5 275.5L594.5 275.5L594.5 277.5L593.5 278.5L592.5 278.5 M595.5 272.5L597.5 272.5L597.5 273.5L597.5 277.5L597.5 278.5L595.5 278.5L595.5 277.5L595.5 273.5Z" stroke="#ffffff" fill="none"/>
<path d="M611.5 274.5L611.5 272.5L611.5 278.5 M614.5 273.5L614.5 272.5L615.5 272.5L616.5 273.5L616.5 274.5L614.5 278.5L616.5 278.5 M619.5 272.5L617.5 272.5L617.5 275.5L619.5 275.5L619.5 275.5L619.5 277.5L619.5 278.5L617.5 278.5 M621.5 272.5L622.5 272.5L623.5 273.5L623.5 277.5L622.5 278.5L621.5 278.5L620.5 277.5L620.5 273.5Z" stroke="#ffffff" fill="none"/>
<path d="M707.5 274.5L708.5 272.5L708.5 278.5 M710.5 274.5L711.5 272.5L711.5 278.5 M714.5 272.5L715.5 272.5L716.5 273.5L716.5 277.5L715.5 278.5L714.5 278.5L714.5 277.5L714.5 273.5ZM717.5 272.5L719.5 272.5L719.5 273.5L719.5 277.5L719.5 278.5L717.5 278.5L717.5 277.5L717.5 273.5Z" stroke="#ffffff" fill="none"/>
<path d="M707.5 286.5L707.5 282.5L708.5 284.5L709.5 282.5L709.5 286.5 M710.5 283.5L710.5 282.5L710.5 286.5 M713.5 282.5L713.5 282.5L714.5 282.5L714.5 285.5L713.5 286.5L713.5 286.5L712.5 285.5L712.5 282.5ZM715.5 282.5L715.5 282.5L716.5 282.5L717.5 282.5L717.5 283.5L715.5 286.5L717.5 286.5 M719.5 282.5L717.5 282.5L717.5 283.5L719.5 283.5L719.5 284.5L719.5 285.5L719.5 286.5L717.5 286.5 " stroke="#ff0000" fill="none"/>
<path d="M658.5 274.5L659.5 272.5L659.5 278.5 M661.5 273.5L662.5 272.5L663.5 272.5L663.5 273.5L663.5 274.5L661.5 278.5L663.5 278.5 M667.5 272.5L665.5 272.5L665.5 275.5L666.5 275.5L667.5 275.5L667.5 277.5L666.5 278.5L665.5 278.5 M668.5 272.5L670.5 272.5L670.5 273.5L670.5 277.5L670.5 278.5L668.5 278.5L668.5 277.5L668.5 273.5Z" stroke="#ffffff" fill="none"/>
<path d="M684.5 274.5L684.5 272.5L684.5 278.5 M687.5 273.5L687.5 272.5L688.5 272.5L689.5 273.5L689.5 274.5L687.5 278.5L689.5 278.5 M692.5 272.5L690.5 272.5L690.5 275.5L692.5 275.5L692.5 275.5L692.5 277.5L692.5 278.5L690.5 278.5 M694.5 272.5L695.5 272.5L696.5 273.5L696.5 277.5L695.5 278.5L694.5 278.5L693.5 277.5L693.5 273.5Z" stroke="#ffffff" fill="none"/>
<path d="M779.5 274.5L780.5 272.5L780.5 278.5 M782.5 274.5L783.5 272.5L783.5 278.5 M786.5 272.5L787.5 272.5L788.5 273.5L788.5 277.5L787.5 278.5L786.5 278.5L786.5 277.5L786.5 273.5ZM789.5 272.5L791.5 272.5L791.5 273.5L791.5 277.5L791.5 278.5L789.5 278.5L789.5 277.5L789.5 273.5Z" stroke="#ffffff" fill="none"/>
<path d="M779.5 286.5L779.5 282.5L780.5 284.5L781.5 282.5L781.5 286.5 M782.5 283.5L782.5 282.5L782.5 286.5 M785.5 282.5L785.5 282.5L786.5 282.5L786.5 285.5L785.5 286.5L785.5 286.5L784.5 285.5L784.5 282.5ZM787.5 282.5L787.5 282.5L788.5 282.5L789.5 282.5L789.5 283.5L787.5 286.5L789.5 286.5 M791.5 282.5L789.5 282.5L789.5 283.5L791.5 283.5L791.5 284.5L791.5 285.5L791.5 286.5L789.5 286.5 " stroke="#ff0000" fill="none"/>
<path d="M730.5 274.5L731.5 272.5L731.5 278.5 M733.5 273.5L734.5 272.5L735.5 272.5L735.5 273.5L735.5 274.5L733.5 278.5L735.5 278.5 M739.5 272.5L737.5 272.5L737.5 275.5L738.5 275.5L739.5 275.5L739.5 277.5L738.5 278.5L737.5 278.5 M740.5 272.5L742.5 272.5L742.5 273.5L742.5 277.5L742.5 278.5L740.5 278.5L740.5 277.5L740.5 273.5Z" stroke="#ffffff" fill="none"/>
<path d="M756.5 274.5L756.5 272.5L756.5 278.5 M759.5 273.5L759.5 272.5L760.5 272.5L761.5 273.5L761.5 274.5L759.5 278.5L761.5 278.5 M764.5 272.5L762.5 272.5L762.5 275.5L764.5 275.5L764.5 275.5L764.5 277.5L764.5 278.5L762.5 278.5 M766.5 272.5L767.5 272.5L768.5 273.5L768.5 277.5L767.5 278.5L766.5 278.5L765.5 277.5L765.5 273.5Z" stroke="#ffffff" fill="none"/>
<path d="M852.5 274.5L853.5 272.5L853.5 278.5 M855.5 274.5L856.5 272.5L856.5 278.5 M859.5 272.5L860.5 272.5L861.5 273.5L861.5 277.5L860.5 278.5L859.5 278.5L859.5 277.5L859.5 273.5ZM862.5 272.5L864.5 272.5L864.5 273.5L864.5 277.5L864.5 278.5L862.5 278.5L862.5 277.5L862.5 273.5Z" stroke="#ffffff" fill="none"/>
<path d="M852.5 286.5L852.5 282.5L853.5 284.5L854.5 282.5L854.5 286.5 M855.5 283.5L855.5 282.5L855.5 286.5 M858.5 282.5L858.5 282.5L859.5 282.5L859.5 285.5L858.5 286.5L858.5 286.5L857.5 285.5L857.5 282.5ZM860.5 282.5L860.5 282.5L861.5 282.5L862.5 282.5L862.5 283.5L860.5 286.5L862.5 286.5 M864.5 282.5L862.5 282.5L862.5 283.5L864.5 283.5L864.5 284.5L864.5 285.5L864.5 286.5L862.5 286.5 " stroke="#ff0000" fill="none"/>
<path d="M803.5 274.5L804.5 272.5L804.5 278.5 M806.5 273.5L807.5 272.5L808.5 272.5L808.5 273.5L808.5 274.5L806.5 278.5L808.5 278.5 M812.5 272.5L810.5 272.5L810.5 275.5L811.5 275.5L812.5 275.5L812.5 277.5L811.5 278.5L810.5 278.5 M813.5 272.5L815.5 272.5L815.5 273.5L815.5 277.5L815.5 278.5L813.5 278.5L813.5 277.5L813.5 273.5Z" stroke="#ffffff" fill="none"/>
<path d="M829.5 274.5L829.5 272.5L829.5 278.5 M832.5 273.5L832.5 272.5L833.5 272.5L834.5 273.5L834.5 274.5L832.5 278.5L834.5 278.5 M837.5 272.5L835.5 272.5L835.5 275.5L837.5 275.5L837.5 275.5L837.5 277.5L837.5 278.5L835.5 278.5 M839.5 272.5L840.5 272.5L841.5 273.5L841.5 277.5L840.5 278.5L839.5 278.5L838.5 277.5L838.5 273.5Z" stroke="#ffffff" fill="none"/>
<path d="M925.5 274.5L926.5 272.5L926.5 278.5 M928.5 274.5L929.5 272.5L929.5 278.5 M932.5 272.5L933.5 272.5L934.5 273.5L934.5 277.5L933.5 278.5L932.5 278.5L932.5 277.5L932.5 273.5ZM935.5 272.5L937.5 272.5L937.5 273.5L937.5 277.5L937.5 278.5L935.5 278.5L935.5 277.5L935.5 273.5Z" stroke="#ffffff" fill="none"/>
<path d="M925.5 286.5L925.5 282.5L926.5 284.5L927.5 282.5L927.5 286.5 M928.5 283.5L928.5 282.5L928.5 286.5 M931.5 282.5L931.5 282.5L932.5 282.5L932.5 285.5L931.5 286.5L931.5 286.5L930.5 285.5L930.5 282.5ZM933.5 282.5L933.5 282.5L934.5 282.5L935.5 282.5L935.5 283.5L933.5 286.5L935.5 286.5 M937.5 282.5L935.5 282.5L935.5 283.5L937.5 283.5L937.5 284.5L937.5 285.5L937.5 286.5L935.5 286.5 " stroke="#ff0000" fill="none"/>
<path d="M876.5 274.5L877.5 272.5L877.5 278.5 M879.5 273.5L880.5 272.5L881.5 272.5L881.5 273.5L881.5 274.5L879.5 278.5L881.5 278.5 M885.5 272.5L883.5 272.5L883.5 275.5L884.5 275.5L885.5 275.5L885.5 277.5L884.5 278.5L883.5 278.5 M886.5 272.5L888.5 272.5L888.5 273.5L888.5 277.5L888.5 278.5L886.5 278.5L886.5 277.5L886.5 273.5Z" stroke="#ffffff" fill="none"/>
<path d="M902.5 274.5L902.5 272.5L902.5 278.5 M905.5 273.5L905.5 272.5L906.5 272.5L907.5 273.5L907.5 274.5L905.5 278.5L907.5 278.5 M910.5 272.5L908.5 272.5L908.5 275.5L910.5 275.5L910.5 275.5L910.5 277.5L910.5 278.5L908.5 278.5 M912.5 272.5L913.5 272.5L914.5 273.5L914.5 277.5L913.5 278.5L912.5 278.5L911.5 277.5L911.5 273.5Z" stroke="#ffffff" fill="none"/>
<path d="M997.5 274.5L998.5 272.5L998.5 278.5 M1000.5 274.5L1001.5 272.5L1001.5 278.5 M1004.5 272.5L1005.5 272.5L1006.5 273.5L1006.5 277.5L1005.5 278.5L1004.5 278.5L1004.5 277.5L1004.5 273.5ZM1007.5 272.5L1009.5 272.5L1009.5 273.5L1009.5 277.5L1009.5 278.5L1007.5 278.5L1007.5 277.5L1007.5 273.5Z" stroke="#ffffff" fill="none"/>
<path d="M997.5 286.5L997.5 282.5L998.5 284.5L999.5 282.5L999.5 286.5 M1000.5 283.5L1000.5 282.5L1000.5 286.5 M1003.5 282.5L1003.5 282.5L1004.5 282.5L1004.5 285.5L1003.5 286.5L1003.5 286.5L1002.5 285.5L1002.5 282.5ZM1005.5 282.5L1005.5 282.5L1006.5 282.5L1007.5 282.5L1007.5 283.5L1005.5 286.5L1007.5 286.5 M1009.5 282.5L1007.5 282.5L1007.5 283.5L1009.5 283.5L1009.5 284.5L1009.5 285.5L1009.5 286.5L1007.5 286.5 " stroke="#ff0000" fill="none"/>
<path d="M948.5 274.5L949.5 272.5L949.5 278.5 M951.5 273.5L952.5 272.5L953.5 272.5L953.5 273.5L953.5 274.5L951.5 278.5L953.5 278.5 M957.5 272.5L955.5 272.5L955.5 275.5L956.5 275.5L957.5 275.5L957.5 277.5L956.5 278.5L955.5 278.5 M958.5 272.5L960.5 272.5L960.5 273.5L960.5 277.5L960.5 278.5L958.5 278.5L958.5 277.5L958.5 273.5Z" stroke="#ffffff" fill="none"/>
<path d="M974.5 274.5L974.5 272.5L974.5 278.5 M977.5 273.5L977.5 272.5L978.5 272.5L979.5 273.5L979.5 274.5L977.5 278.5L979.5 278.5 M982.5 272.5L980.5 272.5L980.5 275.5L982.5 275.5L982.5 275.5L982.5 277.5L982.5 278.5L980.5 278.5 M984.5 272.5L985.5 272.5L986.5 273.5L986.5 277.5L985.5 278.5L984.5 278.5L983.5 277.5L983.5 273.5Z" stroke="#ffffff" fill="none"/>
<path d="M1070.5 274.5L1071.5 272.5L1071.5 278.5 M1073.5 274.5L1074.5 272.5L1074.5 278.5 M1077.5 272.5L1078.5 272.5L1079.5 273.5L1079.5 277.5L1078.5 278.5L1077.5 278.5L1077.5 277.5L1077.5 273.5ZM1080.5 272.5L1082.5 272.5L1082.5 273.5L1082.5 277.5L1082.5 278.5L1080.5 278.5L1080.5 277.5L1080.5 273.5Z" stroke="#ffffff" fill="none"/>
<path d="M1070.5 286.5L1070.5 282.5L1071.5 284.5L1072.5 282.5L1072.5 286.5 M1073.5 283.5L1073.5 282.5L1073.5 286.5 M1076.5 282.5L1076.5 282.5L1077.5 282.5L1077.5 285.5L1076.5 286.5L1076.5 286.5L1075.5 285.5L1075.5 282.5ZM1078.5 282.5L1078.5 282.5L1079.5 282.5L1080.5 282.5L1080.5 283.5L1078.5 286.5L1080.5 286.5 M1082.5 282.5L1080.5 282.5L1080.5 283.5L1082.5 283.5L1082.5 284.5L1082.5 285.5L1082.5 286.5L1080.5 286.5 " stroke="#ff0000" fill="none"/>
<path d="M1021.5 274.5L1022.5 272.5L1022.5 278.5 M1024.5 273.5L1025.5 272.5L1026.5 272.5L1026.5 273.5L1026.5 274.5L1024.5 278.5L1026.5 278.5 M1030.5 272.5L1028.5 272.5L1028.5 275.5L1029.5 275.5L1030.5 275.5L1030.5 277.5L1029.5 278.5L1028.5 278.5 M1031.5 272.5L1033.5 272.5L1033.5 273.5L1033.5 277.5L1033.5 278.5L1031.5 278.5L1031.5 277.5L1031.5 273.5Z" stroke="#ffffff" fill="none"/>
<path d="M1047.5 274.5L1047.5 272.5L1047.5 278.5 M1050.5 273.5L1050.5 272.5L1051.5 272.5L1052.5 273.5L1052.5 274.5L1050.5 278.5L1052.5 278.5 M1055.5 272.5L1053.5 272.5L1053.5 275.5L1055.5 275.5L1055.5 275.5L1055.5 277.5L1055.5 278.5L1053.5 278.5 M1057.5 272.5L1058.5 272.5L1059.5 273.5L1059.5 277.5L1058.5 278.5L1057.5 278.5L1056.5 277.5L1056.5 273.5Z" stroke="#ffffff" fill="none"/>
<path d="M250.5 275.5L249.5 275.5L248.5 275.5L248.5 273.5L249.5 272.5L250.5 272.5L250.5 273.5L250.5 277.5L250.5 278.5L248.5 278.5 M254.5 272.5L251.5 272.5L251.5 275.5L253.5 275.5L254.5 275.5L254.5 277.5L253.5 278.5L251.5 278.5 M255.5 272.5L256.5 272.5L257.5 273.5L257.5 277.5L256.5 278.5L255.5 278.5L255.5 277.5L255.5 273.5Z" stroke="#ffffff" fill="none"/>
<line x1="457.5" y1="258" x2="899" y2="258" stroke="#ff7f7f"/>
<line x1="459.5" y1="255" x2="459.5" y2="261" stroke="#ff7f7f"/>
<line x1="485" y1="255" x2="485" y2="261" stroke="#ff7f7f"/>
<line x1="507" y1="255" x2="507" y2="261" stroke="#ff7f7f"/>
<line x1="531.5" y1="255" x2="531.5" y2="261" stroke="#ff7f7f"/>
<line x1="557" y1="255" x2="557" y2="261" stroke="#ff7f7f"/>
<line x1="580" y1="255" x2="580" y2="261" stroke="#ff7f7f"/>
<line x1="604.5" y1="255" x2="604.5" y2="261" stroke="#ff7f7f"/>
<line x1="611" y1="255" x2="611" y2="261" stroke="#ff7f7f"/>
<line x1="627" y1="255" x2="627" y2="261" stroke="#ff7f7f"/>
<line x1="636" y1="255" x2="636" y2="261" stroke="#ff7f7f"/>
<line x1="640" y1="255" x2="640" y2="261" stroke="#ff7f7f"/>
<line x1="677" y1="255" x2="677" y2="261" stroke="#ff7f7f"/>
<line x1="691" y1="255" x2="691" y2="261" stroke="#ff7f7f"/>
<line x1="727" y1="255" x2="727" y2="261" stroke="#ff7f7f"/>
<line x1="737" y1="255" x2="737" y2="261" stroke="#ff7f7f"/>
<line x1="749.5" y1="255" x2="749.5" y2="261" stroke="#ff7f7f"/>
<line x1="769" y1="255" x2="769" y2="261" stroke="#ff7f7f"/>
<line x1="773" y1="255" x2="773" y2="261" stroke="#ff7f7f"/>
<line x1="822.5" y1="255" x2="822.5" y2="261" stroke="#ff7f7f"/>
<line x1="897" y1="255" x2="897" y2="261" stroke="#ff7f7f"/>
<path d="M466.5 251.5L466.5 250.5L466.5 255.5 M469.5 251.5L469.5 250.5L470.5 250.5L471.5 251.5L471.5 252.5L469.5 255.5L471.5 255.5 M474.5 250.5L472.5 250.5L472.5 252.5L474.5 252.5L474.5 253.5L474.5 254.5L474.5 255.5L472.5 255.5 M476.5 250.5L477.5 250.5L478.5 251.5L478.5 254.5L477.5 255.5L476.5 255.5L475.5 254.5L475.5 251.5Z" stroke="#ffffff" fill="none"/>
<path d="M490.5 251.5L490.5 250.5L490.5 255.5 M493.5 251.5L494.5 250.5L494.5 255.5 M497.5 250.5L498.5 250.5L498.5 251.5L498.5 254.5L498.5 255.5L497.5 255.5L496.5 254.5L496.5 251.5ZM500.5 250.5L501.5 250.5L502.5 251.5L502.5 254.5L501.5 255.5L500.5 255.5L499.5 254.5L499.5 251.5Z" stroke="#ffffff" fill="none"/>
<path d="M513.5 251.5L513.5 250.5L513.5 255.5 M516.5 251.5L516.5 250.5L517.5 250.5L518.5 251.5L518.5 252.5L516.5 255.5L518.5 255.5 M521.5 250.5L519.5 250.5L519.5 252.5L521.5 252.5L521.5 253.5L521.5 254.5L521.5 255.5L519.5 255.5 M523.5 250.5L524.5 250.5L525.5 251.5L525.5 254.5L524.5 255.5L523.5 255.5L522.5 254.5L522.5 251.5Z" stroke="#ffffff" fill="none"/>
<path d="M538.5 251.5L538.5 250.5L538.5 255.5 M541.5 251.5L541.5 250.5L542.5 250.5L543.5 251.5L543.5 252.5L541.5 255.5L543.5 255.5 M546.5 250.5L544.5 250.5L544.5 252.5L546.5 252.5L546.5 253.5L546.5 254.5L546.5 255.5L544.5 255.5 M548.5 250.5L549.5 250.5L550.5 251.5L550.5 254.5L549.5 255.5L548.5 255.5L547.5 254.5L547.5 251.5Z" stroke="#ffffff" fill="none"/>
<path d="M562.5 251.5L563.5 250.5L563.5 255.5 M565.5 251.5L566.5 250.5L566.5 255.5 M569.5 250.5L570.5 250.5L571.5 251.5L571.5 254.5L570.5 255.5L569.5 255.5L569.5 254.5L569.5 251.5ZM572.5 250.5L574.5 250.5L574.5 251.5L574.5 254.5L574.5 255.5L572.5 255.5L572.5 254.5L572.5 251.5Z" stroke="#ffffff" fill="none"/>
<path d="M586.5 251.5L586.5 250.5L586.5 255.5 M589.5 251.5L589.5 250.5L590.5 250.5L591.5 251.5L591.5 252.5L589.5 255.5L591.5 255.5 M594.5 250.5L592.5 250.5L592.5 252.5L594.5 252.5L594.5 253.5L594.5 254.5L594.5 255.5L592.5 255.5 M596.5 250.5L597.5 250.5L598.5 251.5L598.5 254.5L597.5 255.5L596.5 255.5L595.5 254.5L595.5 251.5Z" stroke="#ffffff" fill="none"/>
<path d="M604.5 255.5L604.5 250.5L603.5 253.5L605.5 253.5 M608.5 250.5L606.5 250.5L606.5 252.5L608.5 252.5L608.5 253.5L608.5 254.5L608.5 255.5L606.5 255.5 M610.5 250.5L611.5 250.5L611.5 251.5L611.5 254.5L611.5 255.5L610.5 255.5L609.5 254.5L609.5 251.5Z" stroke="#ffffff" fill="none"/>
<path d="M614.5 250.5L616.5 250.5L615.5 252.5L616.5 252.5L616.5 253.5L616.5 254.5L616.5 255.5L615.5 255.5L614.5 254.5 M618.5 250.5L619.5 250.5L620.5 251.5L620.5 254.5L619.5 255.5L618.5 255.5L617.5 254.5L617.5 251.5ZM621.5 250.5L622.5 250.5L623.5 251.5L623.5 254.5L622.5 255.5L621.5 255.5L621.5 254.5L621.5 251.5Z" stroke="#ffffff" fill="none"/>
<path d="M627.5 250.5L629.5 250.5L628.5 252.5L628.5 252.5L629.5 253.5L629.5 254.5L628.5 255.5L627.5 255.5L627.5 254.5 M632.5 250.5L630.5 250.5L630.5 252.5L632.5 252.5L632.5 253.5L632.5 254.5L632.5 255.5L630.5 255.5 M634.5 250.5L635.5 250.5L635.5 251.5L635.5 254.5L635.5 255.5L634.5 255.5L633.5 254.5L633.5 251.5Z" stroke="#ffffff" fill="none"/>
<path d="M652.5 251.5L653.5 250.5L653.5 255.5 M656.5 250.5L657.5 250.5L657.5 251.5L657.5 252.5L657.5 252.5L656.5 252.5L655.5 252.5L655.5 251.5ZM656.5 252.5L655.5 253.5L655.5 254.5L656.5 255.5L657.5 255.5L657.5 254.5L657.5 253.5L657.5 252.5 M659.5 250.5L660.5 250.5L661.5 251.5L661.5 254.5L660.5 255.5L659.5 255.5L659.5 254.5L659.5 251.5ZM662.5 250.5L664.5 250.5L664.5 251.5L664.5 254.5L664.5 255.5L662.5 255.5L662.5 254.5L662.5 251.5Z" stroke="#ffffff" fill="none"/>
<path d="M679.5 250.5L681.5 250.5L681.5 251.5L680.5 255.5 M683.5 250.5L684.5 250.5L685.5 251.5L685.5 254.5L684.5 255.5L683.5 255.5L682.5 254.5L682.5 251.5ZM686.5 250.5L687.5 250.5L688.5 251.5L688.5 254.5L687.5 255.5L686.5 255.5L686.5 254.5L686.5 251.5Z" stroke="#ffffff" fill="none"/>
<path d="M703.5 251.5L703.5 250.5L703.5 255.5 M706.5 250.5L707.5 250.5L708.5 251.5L708.5 252.5L707.5 252.5L706.5 252.5L706.5 252.5L706.5 251.5ZM706.5 252.5L706.5 253.5L706.5 254.5L706.5 255.5L707.5 255.5L708.5 254.5L708.5 253.5L707.5 252.5 M710.5 250.5L711.5 250.5L711.5 251.5L711.5 254.5L711.5 255.5L710.5 255.5L709.5 254.5L709.5 251.5ZM713.5 250.5L714.5 250.5L715.5 251.5L715.5 254.5L714.5 255.5L713.5 255.5L712.5 254.5L712.5 251.5Z" stroke="#ffffff" fill="none"/>
<path d="M729.5 250.5L727.5 250.5L727.5 252.5L729.5 252.5L729.5 253.5L729.5 254.5L729.5 255.5L727.5 255.5 M731.5 250.5L732.5 250.5L733.5 251.5L733.5 254.5L732.5 255.5L731.5 255.5L730.5 254.5L730.5 251.5ZM734.5 250.5L735.5 250.5L736.5 251.5L736.5 254.5L735.5 255.5L734.5 255.5L734.5 254.5L734.5 251.5Z" stroke="#ffffff" fill="none"/>
<path d="M740.5 250.5L739.5 250.5L738.5 251.5L738.5 254.5L739.5 255.5L740.5 255.5L740.5 254.5L740.5 253.5L740.5 252.5L738.5 252.5 M742.5 250.5L743.5 250.5L744.5 251.5L744.5 254.5L743.5 255.5L742.5 255.5L741.5 254.5L741.5 251.5ZM745.5 250.5L746.5 250.5L747.5 251.5L747.5 254.5L746.5 255.5L745.5 255.5L745.5 254.5L745.5 251.5Z" stroke="#ffffff" fill="none"/>
<path d="M753.5 251.5L753.5 250.5L753.5 255.5 M756.5 250.5L757.5 250.5L758.5 251.5L758.5 254.5L757.5 255.5L756.5 255.5L756.5 254.5L756.5 251.5ZM760.5 250.5L761.5 250.5L761.5 251.5L761.5 254.5L761.5 255.5L760.5 255.5L759.5 254.5L759.5 251.5ZM763.5 250.5L764.5 250.5L765.5 251.5L765.5 254.5L764.5 255.5L763.5 255.5L762.5 254.5L762.5 251.5Z" stroke="#ffffff" fill="none"/>
<path d="M766.5 251.5L767.5 250.5L767.5 255.5 M770.5 250.5L771.5 250.5L772.5 251.5L772.5 254.5L771.5 255.5L770.5 255.5L769.5 254.5L769.5 251.5ZM773.5 250.5L774.5 250.5L775.5 251.5L775.5 254.5L774.5 255.5L773.5 255.5L773.5 254.5L773.5 251.5Z" stroke="#ffffff" fill="none"/>
<path d="M791.5 251.5L791.5 250.5L793.5 250.5L793.5 251.5L793.5 252.5L791.5 255.5L793.5 255.5 M796.5 255.5L796.5 250.5L794.5 253.5L796.5 253.5 M798.5 250.5L799.5 250.5L800.5 251.5L800.5 254.5L799.5 255.5L798.5 255.5L798.5 254.5L798.5 251.5ZM801.5 250.5L803.5 250.5L803.5 251.5L803.5 254.5L803.5 255.5L801.5 255.5L801.5 254.5L801.5 251.5Z" stroke="#ffffff" fill="none"/>
<path d="M853.5 251.5L853.5 250.5L855.5 250.5L855.5 251.5L855.5 252.5L853.5 255.5L855.5 255.5 M858.5 250.5L857.5 250.5L856.5 251.5L856.5 254.5L857.5 255.5L858.5 255.5L858.5 254.5L858.5 253.5L858.5 252.5L856.5 252.5 M860.5 250.5L861.5 250.5L862.5 251.5L862.5 254.5L861.5 255.5L860.5 255.5L860.5 254.5L860.5 251.5ZM863.5 250.5L865.5 250.5L865.5 251.5L865.5 254.5L865.5 255.5L863.5 255.5L863.5 254.5L863.5 251.5Z" stroke="#ffffff" fill="none"/>
<path d="M640.5 247.5L641.5 246.5L642.5 246.5L642.5 247.5L642.5 247.5L640.5 251.5L642.5 251.5 M646.5 246.5L643.5 246.5L643.5 248.5L645.5 248.5L646.5 249.5L646.5 250.5L645.5 251.5L643.5 251.5 M647.5 246.5L648.5 246.5L649.5 247.5L649.5 250.5L648.5 251.5L647.5 251.5L647.5 250.5L647.5 247.5Z" stroke="#ffffff" fill="none"/>
<path d="M524.5 260.5L526.5 260.5M525.5 260.5L525.5 265.5 M527.5 260.5L527.5 265.5L529.5 265.5 M535.5 265.5L535.5 260.5L533.5 263.5L535.5 263.5 M537.5 264.5L538.5 264.5L538.5 265.5L537.5 265.5ZM541.5 265.5L541.5 260.5L540.5 263.5L542.5 263.5 M544.5 260.5L543.5 261.5L543.5 263.5L544.5 265.5 M546.5 260.5L548.5 260.5M546.5 260.5L546.5 265.5M548.5 260.5L548.5 265.5M546.5 262.5L548.5 262.5M547.5 260.5L547.5 265.5M546.5 265.5L548.5 265.5 M550.5 260.5L550.5 261.5L550.5 263.5L550.5 265.5 " stroke="#ffffff" fill="none"/>
<path d="M525.5 266.5L527.5 266.5M526.5 266.5L526.5 271.5 M528.5 266.5L528.5 271.5L530.5 271.5 M535.5 271.5L535.5 266.5L534.5 269.5L536.5 269.5 M538.5 270.5L538.5 270.5L538.5 271.5L538.5 271.5ZM540.5 266.5L542.5 266.5L541.5 268.5L542.5 268.5L542.5 269.5L542.5 270.5L542.5 271.5L541.5 271.5L540.5 270.5 M545.5 266.5L543.5 266.5L543.5 268.5L545.5 268.5L545.5 269.5L545.5 270.5L545.5 271.5L543.5 271.5 M547.5 266.5L547.5 267.5L547.5 269.5L547.5 271.5 M549.5 266.5L551.5 266.5M550.5 266.5L550.5 271.5M551.5 266.5L551.5 271.5M550.5 268.5L551.5 268.5M550.5 266.5L550.5 271.5M550.5 271.5L551.5 271.5 M553.5 266.5L554.5 267.5L554.5 269.5L553.5 271.5 " stroke="#ffffff" fill="none"/>
<polygon points="527,272 537,272 532,277" stroke="#00ff00" fill="none"/>
<line x1="527" y1="272" x2="552" y2="272" stroke="#00ff00"/>
<path d="M605 264h4v1h-4zM605 268h4v1h-4zM606 266h3v1h-3zM607 264h1v5h-1zM608 266h1v3h-1zM611 264h3v1h-3zM610 268h4v1h-4zM610 266h4v1h-4zM612 264h1v5h-1zM610 265h1v4h-1zM612 265h1v4h-1zM614 264h4v1h-4zM614 268h4v1h-4zM614 266h4v1h-4zM616 264h1v5h-1zM617 266h1v3h-1zM614 267h1v0h-1z" fill="#ffffff"/>
<path d="M342.5 247.5L342.5 243.5L343.5 245.5L344.5 243.5L344.5 247.5 M345.5 244.5L346.5 243.5L346.5 247.5 M348.5 243.5L349.5 243.5L349.5 243.5L349.5 246.5L349.5 247.5L348.5 247.5L348.5 246.5L348.5 243.5ZM350.5 243.5L351.5 243.5L352.5 243.5L352.5 243.5L352.5 244.5L350.5 247.5L352.5 247.5 M355.5 243.5L353.5 243.5L353.5 244.5L354.5 244.5L355.5 245.5L355.5 246.5L354.5 247.5L353.5 247.5 " stroke="#ff0000" fill="none"/>
<path d="M416.5 247.5L416.5 243.5L417.5 245.5L418.5 243.5L418.5 247.5 M419.5 244.5L420.5 243.5L420.5 247.5 M422.5 243.5L423.5 243.5L423.5 243.5L423.5 246.5L423.5 247.5L422.5 247.5L422.5 246.5L422.5 243.5ZM424.5 243.5L425.5 243.5L426.5 243.5L426.5 243.5L426.5 244.5L424.5 247.5L426.5 247.5 M429.5 243.5L427.5 243.5L427.5 244.5L428.5 244.5L429.5 245.5L429.5 246.5L428.5 247.5L427.5 247.5 " stroke="#ff0000" fill="none"/>
<path d="M487.5 247.5L487.5 243.5L488.5 245.5L489.5 243.5L489.5 247.5 M490.5 244.5L491.5 243.5L491.5 247.5 M493.5 243.5L494.5 243.5L494.5 243.5L494.5 246.5L494.5 247.5L493.5 247.5L493.5 246.5L493.5 243.5ZM495.5 243.5L496.5 243.5L497.5 243.5L497.5 243.5L497.5 244.5L495.5 247.5L497.5 247.5 M500.5 243.5L498.5 243.5L498.5 244.5L499.5 244.5L500.5 245.5L500.5 246.5L499.5 247.5L498.5 247.5 " stroke="#ff0000" fill="none"/>
<path d="M561.5 247.5L561.5 243.5L562.5 245.5L563.5 243.5L563.5 247.5 M564.5 244.5L565.5 243.5L565.5 247.5 M567.5 243.5L568.5 243.5L568.5 243.5L568.5 246.5L568.5 247.5L567.5 247.5L567.5 246.5L567.5 243.5ZM569.5 243.5L570.5 243.5L571.5 243.5L571.5 243.5L571.5 244.5L569.5 247.5L571.5 247.5 M574.5 243.5L572.5 243.5L572.5 244.5L573.5 244.5L574.5 245.5L574.5 246.5L573.5 247.5L572.5 247.5 " stroke="#ff0000" fill="none"/>
<path d="M996.5 247.5L996.5 243.5L997.5 245.5L998.5 243.5L998.5 247.5 M999.5 244.5L1000.5 243.5L1000.5 247.5 M1002.5 243.5L1003.5 243.5L1003.5 243.5L1003.5 246.5L1003.5 247.5L1002.5 247.5L1002.5 246.5L1002.5 243.5ZM1004.5 243.5L1005.5 243.5L1006.5 243.5L1006.5 243.5L1006.5 244.5L1004.5 247.5L1006.5 247.5 M1009.5 243.5L1007.5 243.5L1007.5 244.5L1008.5 244.5L1009.5 245.5L1009.5 246.5L1008.5 247.5L1007.5 247.5 " stroke="#ff0000" fill="none"/>
<path d="M1070.5 247.5L1070.5 243.5L1071.5 245.5L1072.5 243.5L1072.5 247.5 M1073.5 244.5L1074.5 243.5L1074.5 247.5 M1076.5 243.5L1077.5 243.5L1077.5 243.5L1077.5 246.5L1077.5 247.5L1076.5 247.5L1076.5 246.5L1076.5 243.5ZM1078.5 243.5L1079.5 243.5L1080.5 243.5L1080.5 243.5L1080.5 244.5L1078.5 247.5L1080.5 247.5 M1083.5 243.5L1081.5 243.5L1081.5 244.5L1082.5 244.5L1083.5 245.5L1083.5 246.5L1082.5 247.5L1081.5 247.5 " stroke="#ff0000" fill="none"/>
<path d="M265.5 242.5L263.5 242.5L263.5 247.5M263.5 245.5L265.5 245.5 M266.5 247.5L266.5 242.5L267.5 245.5L268.5 242.5L268.5 247.5 M269.5 244.5L270.5 242.5L270.5 247.5 M274.5 242.5L272.5 242.5L272.5 244.5L273.5 244.5L274.5 245.5L274.5 246.5L273.5 247.5L272.5 247.5 M275.5 243.5L275.5 242.5L276.5 242.5L277.5 243.5L277.5 244.5L275.5 247.5L277.5 247.5 M278.5 244.5L279.5 242.5L279.5 247.5 " stroke="#ffffff" fill="none"/>
<path d="M920.5 242.5L918.5 242.5L918.5 247.5M918.5 245.5L920.5 245.5 M921.5 247.5L921.5 242.5L922.5 245.5L923.5 242.5L923.5 247.5 M924.5 244.5L925.5 242.5L925.5 247.5 M929.5 242.5L927.5 242.5L927.5 244.5L928.5 244.5L929.5 245.5L929.5 246.5L928.5 247.5L927.5 247.5 M930.5 243.5L930.5 242.5L931.5 242.5L932.5 243.5L932.5 244.5L930.5 247.5L932.5 247.5 M933.5 244.5L934.5 242.5L934.5 247.5 " stroke="#ffffff" fill="none"/>
<line x1="239.5" y1="384.5" x2="1115.5" y2="384.5" stroke="#ff7f7f"/>
<line x1="241.5" y1="381.5" x2="241.5" y2="387.5" stroke="#ff7f7f"/>
<line x1="260.5" y1="381.5" x2="260.5" y2="387.5" stroke="#ff7f7f"/>
<line x1="291" y1="381.5" x2="291" y2="387.5" stroke="#ff7f7f"/>
<line x1="313.5" y1="381.5" x2="313.5" y2="387.5" stroke="#ff7f7f"/>
<line x1="332.5" y1="381.5" x2="332.5" y2="387.5" stroke="#ff7f7f"/>
<line x1="363" y1="381.5" x2="363" y2="387.5" stroke="#ff7f7f"/>
<line x1="386.5" y1="381.5" x2="386.5" y2="387.5" stroke="#ff7f7f"/>
<line x1="405.5" y1="381.5" x2="405.5" y2="387.5" stroke="#ff7f7f"/>
<line x1="436" y1="381.5" x2="436" y2="387.5" stroke="#ff7f7f"/>
<line x1="459.5" y1="381.5" x2="459.5" y2="387.5" stroke="#ff7f7f"/>
<line x1="478.5" y1="381.5" x2="478.5" y2="387.5" stroke="#ff7f7f"/>
<line x1="509" y1="381.5" x2="509" y2="387.5" stroke="#ff7f7f"/>
<line x1="531.5" y1="381.5" x2="531.5" y2="387.5" stroke="#ff7f7f"/>
<line x1="550.5" y1="381.5" x2="550.5" y2="387.5" stroke="#ff7f7f"/>
<line x1="581" y1="381.5" x2="581" y2="387.5" stroke="#ff7f7f"/>
<line x1="604.5" y1="381.5" x2="604.5" y2="387.5" stroke="#ff7f7f"/>
<line x1="623.5" y1="381.5" x2="623.5" y2="387.5" stroke="#ff7f7f"/>
<line x1="654" y1="381.5" x2="654" y2="387.5" stroke="#ff7f7f"/>
<line x1="677.5" y1="381.5" x2="677.5" y2="387.5" stroke="#ff7f7f"/>
<line x1="696.5" y1="381.5" x2="696.5" y2="387.5" stroke="#ff7f7f"/>
<line x1="727" y1="381.5" x2="727" y2="387.5" stroke="#ff7f7f"/>
<line x1="749.5" y1="381.5" x2="749.5" y2="387.5" stroke="#ff7f7f"/>
<line x1="768.5" y1="381.5" x2="768.5" y2="387.5" stroke="#ff7f7f"/>
<line x1="799" y1="381.5" x2="799" y2="387.5" stroke="#ff7f7f"/>
<line x1="822.5" y1="381.5" x2="822.5" y2="387.5" stroke="#ff7f7f"/>
<line x1="841.5" y1="381.5" x2="841.5" y2="387.5" stroke="#ff7f7f"/>
<line x1="872" y1="381.5" x2="872" y2="387.5" stroke="#ff7f7f"/>
<line x1="895.5" y1="381.5" x2="895.5" y2="387.5" stroke="#ff7f7f"/>
<line x1="914.5" y1="381.5" x2="914.5" y2="387.5" stroke="#ff7f7f"/>
<line x1="945" y1="381.5" x2="945" y2="387.5" stroke="#ff7f7f"/>
<line x1="967.5" y1="381.5" x2="967.5" y2="387.5" stroke="#ff7f7f"/>
<line x1="986.5" y1="381.5" x2="986.5" y2="387.5" stroke="#ff7f7f"/>
<line x1="1017" y1="381.5" x2="1017" y2="387.5" stroke="#ff7f7f"/>
<line x1="1040.5" y1="381.5" x2="1040.5" y2="387.5" stroke="#ff7f7f"/>
<line x1="1059.5" y1="381.5" x2="1059.5" y2="387.5" stroke="#ff7f7f"/>
<line x1="1090" y1="381.5" x2="1090" y2="387.5" stroke="#ff7f7f"/>
<line x1="1113.5" y1="381.5" x2="1113.5" y2="387.5" stroke="#ff7f7f"/>
<path d="M249.5 379.5L247.5 379.5L247.5 379.5L247.5 377.5L247.5 376.5L248.5 376.5L249.5 377.5L249.5 381.5L248.5 382.5L247.5 382.5 M252.5 376.5L250.5 376.5L250.5 379.5L252.5 379.5L252.5 379.5L252.5 381.5L252.5 382.5L250.5 382.5 M254.5 376.5L255.5 376.5L255.5 377.5L255.5 381.5L255.5 382.5L254.5 382.5L253.5 381.5L253.5 377.5Z" stroke="#ffffff" fill="none"/>
<path d="M269.5 378.5L270.5 376.5L270.5 382.5 M274.5 376.5L272.5 376.5L272.5 379.5L274.5 379.5L274.5 379.5L274.5 381.5L274.5 382.5L272.5 382.5 M276.5 376.5L277.5 376.5L278.5 377.5L278.5 381.5L277.5 382.5L276.5 382.5L276.5 381.5L276.5 377.5ZM279.5 376.5L281.5 376.5L281.5 377.5L281.5 381.5L281.5 382.5L279.5 382.5L279.5 381.5L279.5 377.5Z" stroke="#ffffff" fill="none"/>
<path d="M296.5 378.5L297.5 376.5L297.5 382.5 M299.5 378.5L300.5 376.5L300.5 382.5 M305.5 376.5L303.5 376.5L303.5 379.5L304.5 379.5L305.5 379.5L305.5 381.5L304.5 382.5L303.5 382.5 M306.5 376.5L308.5 376.5L308.5 377.5L308.5 381.5L308.5 382.5L306.5 382.5L306.5 381.5L306.5 377.5Z" stroke="#ffffff" fill="none"/>
<path d="M269.5 391.5L271.5 391.5M270.5 391.5L270.5 395.5 M272.5 391.5L272.5 395.5L274.5 395.5 M275.5 395.5L275.5 391.5L276.5 393.5L277.5 391.5L277.5 395.5 M278.5 391.5L279.5 391.5L279.5 391.5L279.5 392.5L279.5 393.5L278.5 393.5L277.5 392.5L277.5 391.5ZM278.5 393.5L277.5 394.5L277.5 394.5L278.5 395.5L279.5 395.5L279.5 394.5L279.5 394.5L279.5 393.5 M280.5 391.5L281.5 391.5L281.5 391.5L282.5 391.5L282.5 392.5L280.5 395.5L282.5 395.5 M284.5 395.5L284.5 391.5L283.5 394.5L285.5 394.5 " stroke="#ff0000" fill="none"/>
<path d="M321.5 379.5L319.5 379.5L319.5 379.5L319.5 377.5L319.5 376.5L320.5 376.5L321.5 377.5L321.5 381.5L320.5 382.5L319.5 382.5 M324.5 376.5L322.5 376.5L322.5 379.5L324.5 379.5L324.5 379.5L324.5 381.5L324.5 382.5L322.5 382.5 M326.5 376.5L327.5 376.5L327.5 377.5L327.5 381.5L327.5 382.5L326.5 382.5L325.5 381.5L325.5 377.5Z" stroke="#ffffff" fill="none"/>
<path d="M341.5 378.5L342.5 376.5L342.5 382.5 M346.5 376.5L344.5 376.5L344.5 379.5L346.5 379.5L346.5 379.5L346.5 381.5L346.5 382.5L344.5 382.5 M348.5 376.5L349.5 376.5L350.5 377.5L350.5 381.5L349.5 382.5L348.5 382.5L348.5 381.5L348.5 377.5ZM351.5 376.5L353.5 376.5L353.5 377.5L353.5 381.5L353.5 382.5L351.5 382.5L351.5 381.5L351.5 377.5Z" stroke="#ffffff" fill="none"/>
<path d="M368.5 378.5L369.5 376.5L369.5 382.5 M371.5 378.5L372.5 376.5L372.5 382.5 M377.5 376.5L375.5 376.5L375.5 379.5L376.5 379.5L377.5 379.5L377.5 381.5L376.5 382.5L375.5 382.5 M378.5 376.5L380.5 376.5L380.5 377.5L380.5 381.5L380.5 382.5L378.5 382.5L378.5 381.5L378.5 377.5Z" stroke="#ffffff" fill="none"/>
<path d="M341.5 391.5L343.5 391.5M342.5 391.5L342.5 395.5 M344.5 391.5L344.5 395.5L346.5 395.5 M347.5 395.5L347.5 391.5L348.5 393.5L349.5 391.5L349.5 395.5 M350.5 391.5L351.5 391.5L351.5 391.5L351.5 392.5L351.5 393.5L350.5 393.5L349.5 392.5L349.5 391.5ZM350.5 393.5L349.5 394.5L349.5 394.5L350.5 395.5L351.5 395.5L351.5 394.5L351.5 394.5L351.5 393.5 M352.5 391.5L353.5 391.5L353.5 391.5L354.5 391.5L354.5 392.5L352.5 395.5L354.5 395.5 M356.5 395.5L356.5 391.5L355.5 394.5L357.5 394.5 " stroke="#ff0000" fill="none"/>
<path d="M394.5 379.5L392.5 379.5L392.5 379.5L392.5 377.5L392.5 376.5L393.5 376.5L394.5 377.5L394.5 381.5L393.5 382.5L392.5 382.5 M397.5 376.5L395.5 376.5L395.5 379.5L397.5 379.5L397.5 379.5L397.5 381.5L397.5 382.5L395.5 382.5 M399.5 376.5L400.5 376.5L400.5 377.5L400.5 381.5L400.5 382.5L399.5 382.5L398.5 381.5L398.5 377.5Z" stroke="#ffffff" fill="none"/>
<path d="M414.5 378.5L415.5 376.5L415.5 382.5 M419.5 376.5L417.5 376.5L417.5 379.5L419.5 379.5L419.5 379.5L419.5 381.5L419.5 382.5L417.5 382.5 M421.5 376.5L422.5 376.5L423.5 377.5L423.5 381.5L422.5 382.5L421.5 382.5L421.5 381.5L421.5 377.5ZM424.5 376.5L426.5 376.5L426.5 377.5L426.5 381.5L426.5 382.5L424.5 382.5L424.5 381.5L424.5 377.5Z" stroke="#ffffff" fill="none"/>
<path d="M441.5 378.5L442.5 376.5L442.5 382.5 M444.5 378.5L445.5 376.5L445.5 382.5 M450.5 376.5L448.5 376.5L448.5 379.5L449.5 379.5L450.5 379.5L450.5 381.5L449.5 382.5L448.5 382.5 M451.5 376.5L453.5 376.5L453.5 377.5L453.5 381.5L453.5 382.5L451.5 382.5L451.5 381.5L451.5 377.5Z" stroke="#ffffff" fill="none"/>
<path d="M414.5 391.5L416.5 391.5M415.5 391.5L415.5 395.5 M417.5 391.5L417.5 395.5L419.5 395.5 M420.5 395.5L420.5 391.5L421.5 393.5L422.5 391.5L422.5 395.5 M423.5 391.5L424.5 391.5L424.5 391.5L424.5 392.5L424.5 393.5L423.5 393.5L422.5 392.5L422.5 391.5ZM423.5 393.5L422.5 394.5L422.5 394.5L423.5 395.5L424.5 395.5L424.5 394.5L424.5 394.5L424.5 393.5 M425.5 391.5L426.5 391.5L426.5 391.5L427.5 391.5L427.5 392.5L425.5 395.5L427.5 395.5 M429.5 395.5L429.5 391.5L428.5 394.5L430.5 394.5 " stroke="#ff0000" fill="none"/>
<path d="M467.5 379.5L465.5 379.5L465.5 379.5L465.5 377.5L465.5 376.5L466.5 376.5L467.5 377.5L467.5 381.5L466.5 382.5L465.5 382.5 M470.5 376.5L468.5 376.5L468.5 379.5L470.5 379.5L470.5 379.5L470.5 381.5L470.5 382.5L468.5 382.5 M472.5 376.5L473.5 376.5L473.5 377.5L473.5 381.5L473.5 382.5L472.5 382.5L471.5 381.5L471.5 377.5Z" stroke="#ffffff" fill="none"/>
<path d="M487.5 378.5L488.5 376.5L488.5 382.5 M492.5 376.5L490.5 376.5L490.5 379.5L492.5 379.5L492.5 379.5L492.5 381.5L492.5 382.5L490.5 382.5 M494.5 376.5L495.5 376.5L496.5 377.5L496.5 381.5L495.5 382.5L494.5 382.5L494.5 381.5L494.5 377.5ZM497.5 376.5L499.5 376.5L499.5 377.5L499.5 381.5L499.5 382.5L497.5 382.5L497.5 381.5L497.5 377.5Z" stroke="#ffffff" fill="none"/>
<path d="M514.5 378.5L515.5 376.5L515.5 382.5 M517.5 378.5L518.5 376.5L518.5 382.5 M523.5 376.5L521.5 376.5L521.5 379.5L522.5 379.5L523.5 379.5L523.5 381.5L522.5 382.5L521.5 382.5 M524.5 376.5L526.5 376.5L526.5 377.5L526.5 381.5L526.5 382.5L524.5 382.5L524.5 381.5L524.5 377.5Z" stroke="#ffffff" fill="none"/>
<path d="M487.5 391.5L489.5 391.5M488.5 391.5L488.5 395.5 M490.5 391.5L490.5 395.5L492.5 395.5 M493.5 395.5L493.5 391.5L494.5 393.5L495.5 391.5L495.5 395.5 M496.5 391.5L497.5 391.5L497.5 391.5L497.5 392.5L497.5 393.5L496.5 393.5L495.5 392.5L495.5 391.5ZM496.5 393.5L495.5 394.5L495.5 394.5L496.5 395.5L497.5 395.5L497.5 394.5L497.5 394.5L497.5 393.5 M498.5 391.5L499.5 391.5L499.5 391.5L500.5 391.5L500.5 392.5L498.5 395.5L500.5 395.5 M502.5 395.5L502.5 391.5L501.5 394.5L503.5 394.5 " stroke="#ff0000" fill="none"/>
<path d="M539.5 379.5L537.5 379.5L537.5 379.5L537.5 377.5L537.5 376.5L538.5 376.5L539.5 377.5L539.5 381.5L538.5 382.5L537.5 382.5 M542.5 376.5L540.5 376.5L540.5 379.5L542.5 379.5L542.5 379.5L542.5 381.5L542.5 382.5L540.5 382.5 M544.5 376.5L545.5 376.5L545.5 377.5L545.5 381.5L545.5 382.5L544.5 382.5L543.5 381.5L543.5 377.5Z" stroke="#ffffff" fill="none"/>
<path d="M559.5 378.5L560.5 376.5L560.5 382.5 M564.5 376.5L562.5 376.5L562.5 379.5L564.5 379.5L564.5 379.5L564.5 381.5L564.5 382.5L562.5 382.5 M566.5 376.5L567.5 376.5L568.5 377.5L568.5 381.5L567.5 382.5L566.5 382.5L566.5 381.5L566.5 377.5ZM569.5 376.5L571.5 376.5L571.5 377.5L571.5 381.5L571.5 382.5L569.5 382.5L569.5 381.5L569.5 377.5Z" stroke="#ffffff" fill="none"/>
<path d="M586.5 378.5L587.5 376.5L587.5 382.5 M589.5 378.5L590.5 376.5L590.5 382.5 M595.5 376.5L593.5 376.5L593.5 379.5L594.5 379.5L595.5 379.5L595.5 381.5L594.5 382.5L593.5 382.5 M596.5 376.5L598.5 376.5L598.5 377.5L598.5 381.5L598.5 382.5L596.5 382.5L596.5 381.5L596.5 377.5Z" stroke="#ffffff" fill="none"/>
<path d="M559.5 391.5L561.5 391.5M560.5 391.5L560.5 395.5 M562.5 391.5L562.5 395.5L564.5 395.5 M565.5 395.5L565.5 391.5L566.5 393.5L567.5 391.5L567.5 395.5 M568.5 391.5L569.5 391.5L569.5 391.5L569.5 392.5L569.5 393.5L568.5 393.5L567.5 392.5L567.5 391.5ZM568.5 393.5L567.5 394.5L567.5 394.5L568.5 395.5L569.5 395.5L569.5 394.5L569.5 394.5L569.5 393.5 M570.5 391.5L571.5 391.5L571.5 391.5L572.5 391.5L572.5 392.5L570.5 395.5L572.5 395.5 M574.5 395.5L574.5 391.5L573.5 394.5L575.5 394.5 " stroke="#ff0000" fill="none"/>
<path d="M612.5 379.5L610.5 379.5L610.5 379.5L610.5 377.5L610.5 376.5L611.5 376.5L612.5 377.5L612.5 381.5L611.5 382.5L610.5 382.5 M615.5 376.5L613.5 376.5L613.5 379.5L615.5 379.5L615.5 379.5L615.5 381.5L615.5 382.5L613.5 382.5 M617.5 376.5L618.5 376.5L618.5 377.5L618.5 381.5L618.5 382.5L617.5 382.5L616.5 381.5L616.5 377.5Z" stroke="#ffffff" fill="none"/>
<path d="M632.5 378.5L633.5 376.5L633.5 382.5 M637.5 376.5L635.5 376.5L635.5 379.5L637.5 379.5L637.5 379.5L637.5 381.5L637.5 382.5L635.5 382.5 M639.5 376.5L640.5 376.5L641.5 377.5L641.5 381.5L640.5 382.5L639.5 382.5L639.5 381.5L639.5 377.5ZM642.5 376.5L644.5 376.5L644.5 377.5L644.5 381.5L644.5 382.5L642.5 382.5L642.5 381.5L642.5 377.5Z" stroke="#ffffff" fill="none"/>
<path d="M659.5 378.5L660.5 376.5L660.5 382.5 M662.5 378.5L663.5 376.5L663.5 382.5 M668.5 376.5L666.5 376.5L666.5 379.5L667.5 379.5L668.5 379.5L668.5 381.5L667.5 382.5L666.5 382.5 M669.5 376.5L671.5 376.5L671.5 377.5L671.5 381.5L671.5 382.5L669.5 382.5L669.5 381.5L669.5 377.5Z" stroke="#ffffff" fill="none"/>
<path d="M632.5 391.5L634.5 391.5M633.5 391.5L633.5 395.5 M635.5 391.5L635.5 395.5L637.5 395.5 M638.5 395.5L638.5 391.5L639.5 393.5L640.5 391.5L640.5 395.5 M641.5 391.5L642.5 391.5L642.5 391.5L642.5 392.5L642.5 393.5L641.5 393.5L640.5 392.5L640.5 391.5ZM641.5 393.5L640.5 394.5L640.5 394.5L641.5 395.5L642.5 395.5L642.5 394.5L642.5 394.5L642.5 393.5 M643.5 391.5L644.5 391.5L644.5 391.5L645.5 391.5L645.5 392.5L643.5 395.5L645.5 395.5 M647.5 395.5L647.5 391.5L646.5 394.5L648.5 394.5 " stroke="#ff0000" fill="none"/>
<path d="M685.5 379.5L683.5 379.5L683.5 379.5L683.5 377.5L683.5 376.5L684.5 376.5L685.5 377.5L685.5 381.5L684.5 382.5L683.5 382.5 M688.5 376.5L686.5 376.5L686.5 379.5L688.5 379.5L688.5 379.5L688.5 381.5L688.5 382.5L686.5 382.5 M690.5 376.5L691.5 376.5L691.5 377.5L691.5 381.5L691.5 382.5L690.5 382.5L689.5 381.5L689.5 377.5Z" stroke="#ffffff" fill="none"/>
<path d="M705.5 378.5L706.5 376.5L706.5 382.5 M710.5 376.5L708.5 376.5L708.5 379.5L710.5 379.5L710.5 379.5L710.5 381.5L710.5 382.5L708.5 382.5 M712.5 376.5L713.5 376.5L714.5 377.5L714.5 381.5L713.5 382.5L712.5 382.5L712.5 381.5L712.5 377.5ZM715.5 376.5L717.5 376.5L717.5 377.5L717.5 381.5L717.5 382.5L715.5 382.5L715.5 381.5L715.5 377.5Z" stroke="#ffffff" fill="none"/>
<path d="M732.5 378.5L733.5 376.5L733.5 382.5 M735.5 378.5L736.5 376.5L736.5 382.5 M741.5 376.5L739.5 376.5L739.5 379.5L740.5 379.5L741.5 379.5L741.5 381.5L740.5 382.5L739.5 382.5 M742.5 376.5L744.5 376.5L744.5 377.5L744.5 381.5L744.5 382.5L742.5 382.5L742.5 381.5L742.5 377.5Z" stroke="#ffffff" fill="none"/>
<path d="M705.5 391.5L707.5 391.5M706.5 391.5L706.5 395.5 M708.5 391.5L708.5 395.5L710.5 395.5 M711.5 395.5L711.5 391.5L712.5 393.5L713.5 391.5L713.5 395.5 M714.5 391.5L715.5 391.5L715.5 391.5L715.5 392.5L715.5 393.5L714.5 393.5L713.5 392.5L713.5 391.5ZM714.5 393.5L713.5 394.5L713.5 394.5L714.5 395.5L715.5 395.5L715.5 394.5L715.5 394.5L715.5 393.5 M716.5 391.5L717.5 391.5L717.5 391.5L718.5 391.5L718.5 392.5L716.5 395.5L718.5 395.5 M720.5 395.5L720.5 391.5L719.5 394.5L721.5 394.5 " stroke="#ff0000" fill="none"/>
<path d="M757.5 379.5L755.5 379.5L755.5 379.5L755.5 377.5L755.5 376.5L756.5 376.5L757.5 377.5L757.5 381.5L756.5 382.5L755.5 382.5 M760.5 376.5L758.5 376.5L758.5 379.5L760.5 379.5L760.5 379.5L760.5 381.5L760.5 382.5L758.5 382.5 M762.5 376.5L763.5 376.5L763.5 377.5L763.5 381.5L763.5 382.5L762.5 382.5L761.5 381.5L761.5 377.5Z" stroke="#ffffff" fill="none"/>
<path d="M777.5 378.5L778.5 376.5L778.5 382.5 M782.5 376.5L780.5 376.5L780.5 379.5L782.5 379.5L782.5 379.5L782.5 381.5L782.5 382.5L780.5 382.5 M784.5 376.5L785.5 376.5L786.5 377.5L786.5 381.5L785.5 382.5L784.5 382.5L784.5 381.5L784.5 377.5ZM787.5 376.5L789.5 376.5L789.5 377.5L789.5 381.5L789.5 382.5L787.5 382.5L787.5 381.5L787.5 377.5Z" stroke="#ffffff" fill="none"/>
<path d="M804.5 378.5L805.5 376.5L805.5 382.5 M807.5 378.5L808.5 376.5L808.5 382.5 M813.5 376.5L811.5 376.5L811.5 379.5L812.5 379.5L813.5 379.5L813.5 381.5L812.5 382.5L811.5 382.5 M814.5 376.5L816.5 376.5L816.5 377.5L816.5 381.5L816.5 382.5L814.5 382.5L814.5 381.5L814.5 377.5Z" stroke="#ffffff" fill="none"/>
<path d="M777.5 391.5L779.5 391.5M778.5 391.5L778.5 395.5 M780.5 391.5L780.5 395.5L782.5 395.5 M783.5 395.5L783.5 391.5L784.5 393.5L785.5 391.5L785.5 395.5 M786.5 391.5L787.5 391.5L787.5 391.5L787.5 392.5L787.5 393.5L786.5 393.5L785.5 392.5L785.5 391.5ZM786.5 393.5L785.5 394.5L785.5 394.5L786.5 395.5L787.5 395.5L787.5 394.5L787.5 394.5L787.5 393.5 M788.5 391.5L789.5 391.5L789.5 391.5L790.5 391.5L790.5 392.5L788.5 395.5L790.5 395.5 M792.5 395.5L792.5 391.5L791.5 394.5L793.5 394.5 " stroke="#ff0000" fill="none"/>
<path d="M830.5 379.5L828.5 379.5L828.5 379.5L828.5 377.5L828.5 376.5L829.5 376.5L830.5 377.5L830.5 381.5L829.5 382.5L828.5 382.5 M833.5 376.5L831.5 376.5L831.5 379.5L833.5 379.5L833.5 379.5L833.5 381.5L833.5 382.5L831.5 382.5 M835.5 376.5L836.5 376.5L836.5 377.5L836.5 381.5L836.5 382.5L835.5 382.5L834.5 381.5L834.5 377.5Z" stroke="#ffffff" fill="none"/>
<path d="M850.5 378.5L851.5 376.5L851.5 382.5 M855.5 376.5L853.5 376.5L853.5 379.5L855.5 379.5L855.5 379.5L855.5 381.5L855.5 382.5L853.5 382.5 M857.5 376.5L858.5 376.5L859.5 377.5L859.5 381.5L858.5 382.5L857.5 382.5L857.5 381.5L857.5 377.5ZM860.5 376.5L862.5 376.5L862.5 377.5L862.5 381.5L862.5 382.5L860.5 382.5L860.5 381.5L860.5 377.5Z" stroke="#ffffff" fill="none"/>
<path d="M877.5 378.5L878.5 376.5L878.5 382.5 M880.5 378.5L881.5 376.5L881.5 382.5 M886.5 376.5L884.5 376.5L884.5 379.5L885.5 379.5L886.5 379.5L886.5 381.5L885.5 382.5L884.5 382.5 M887.5 376.5L889.5 376.5L889.5 377.5L889.5 381.5L889.5 382.5L887.5 382.5L887.5 381.5L887.5 377.5Z" stroke="#ffffff" fill="none"/>
<path d="M850.5 391.5L852.5 391.5M851.5 391.5L851.5 395.5 M853.5 391.5L853.5 395.5L855.5 395.5 M856.5 395.5L856.5 391.5L857.5 393.5L858.5 391.5L858.5 395.5 M859.5 391.5L860.5 391.5L860.5 391.5L860.5 392.5L860.5 393.5L859.5 393.5L858.5 392.5L858.5 391.5ZM859.5 393.5L858.5 394.5L858.5 394.5L859.5 395.5L860.5 395.5L860.5 394.5L860.5 394.5L860.5 393.5 M861.5 391.5L862.5 391.5L862.5 391.5L863.5 391.5L863.5 392.5L861.5 395.5L863.5 395.5 M865.5 395.5L865.5 391.5L864.5 394.5L866.5 394.5 " stroke="#ff0000" fill="none"/>
<path d="M903.5 379.5L901.5 379.5L901.5 379.5L901.5 377.5L901.5 376.5L902.5 376.5L903.5 377.5L903.5 381.5L902.5 382.5L901.5 382.5 M906.5 376.5L904.5 376.5L904.5 379.5L906.5 379.5L906.5 379.5L906.5 381.5L906.5 382.5L904.5 382.5 M908.5 376.5L909.5 376.5L909.5 377.5L909.5 381.5L909.5 382.5L908.5 382.5L907.5 381.5L907.5 377.5Z" stroke="#ffffff" fill="none"/>
<path d="M923.5 378.5L924.5 376.5L924.5 382.5 M928.5 376.5L926.5 376.5L926.5 379.5L928.5 379.5L928.5 379.5L928.5 381.5L928.5 382.5L926.5 382.5 M930.5 376.5L931.5 376.5L932.5 377.5L932.5 381.5L931.5 382.5L930.5 382.5L930.5 381.5L930.5 377.5ZM933.5 376.5L935.5 376.5L935.5 377.5L935.5 381.5L935.5 382.5L933.5 382.5L933.5 381.5L933.5 377.5Z" stroke="#ffffff" fill="none"/>
<path d="M950.5 378.5L951.5 376.5L951.5 382.5 M953.5 378.5L954.5 376.5L954.5 382.5 M959.5 376.5L957.5 376.5L957.5 379.5L958.5 379.5L959.5 379.5L959.5 381.5L958.5 382.5L957.5 382.5 M960.5 376.5L962.5 376.5L962.5 377.5L962.5 381.5L962.5 382.5L960.5 382.5L960.5 381.5L960.5 377.5Z" stroke="#ffffff" fill="none"/>
<path d="M923.5 391.5L925.5 391.5M924.5 391.5L924.5 395.5 M926.5 391.5L926.5 395.5L928.5 395.5 M929.5 395.5L929.5 391.5L930.5 393.5L931.5 391.5L931.5 395.5 M932.5 391.5L933.5 391.5L933.5 391.5L933.5 392.5L933.5 393.5L932.5 393.5L931.5 392.5L931.5 391.5ZM932.5 393.5L931.5 394.5L931.5 394.5L932.5 395.5L933.5 395.5L933.5 394.5L933.5 394.5L933.5 393.5 M934.5 391.5L935.5 391.5L935.5 391.5L936.5 391.5L936.5 392.5L934.5 395.5L936.5 395.5 M938.5 395.5L938.5 391.5L937.5 394.5L939.5 394.5 " stroke="#ff0000" fill="none"/>
<path d="M975.5 379.5L973.5 379.5L973.5 379.5L973.5 377.5L973.5 376.5L974.5 376.5L975.5 377.5L975.5 381.5L974.5 382.5L973.5 382.5 M978.5 376.5L976.5 376.5L976.5 379.5L978.5 379.5L978.5 379.5L978.5 381.5L978.5 382.5L976.5 382.5 M980.5 376.5L981.5 376.5L981.5 377.5L981.5 381.5L981.5 382.5L980.5 382.5L979.5 381.5L979.5 377.5Z" stroke="#ffffff" fill="none"/>
<path d="M995.5 378.5L996.5 376.5L996.5 382.5 M1000.5 376.5L998.5 376.5L998.5 379.5L1000.5 379.5L1000.5 379.5L1000.5 381.5L1000.5 382.5L998.5 382.5 M1002.5 376.5L1003.5 376.5L1004.5 377.5L1004.5 381.5L1003.5 382.5L1002.5 382.5L1002.5 381.5L1002.5 377.5ZM1005.5 376.5L1007.5 376.5L1007.5 377.5L1007.5 381.5L1007.5 382.5L1005.5 382.5L1005.5 381.5L1005.5 377.5Z" stroke="#ffffff" fill="none"/>
<path d="M1022.5 378.5L1023.5 376.5L1023.5 382.5 M1025.5 378.5L1026.5 376.5L1026.5 382.5 M1031.5 376.5L1029.5 376.5L1029.5 379.5L1030.5 379.5L1031.5 379.5L1031.5 381.5L1030.5 382.5L1029.5 382.5 M1032.5 376.5L1034.5 376.5L1034.5 377.5L1034.5 381.5L1034.5 382.5L1032.5 382.5L1032.5 381.5L1032.5 377.5Z" stroke="#ffffff" fill="none"/>
<path d="M995.5 391.5L997.5 391.5M996.5 391.5L996.5 395.5 M998.5 391.5L998.5 395.5L1000.5 395.5 M1001.5 395.5L1001.5 391.5L1002.5 393.5L1003.5 391.5L1003.5 395.5 M1004.5 391.5L1005.5 391.5L1005.5 391.5L1005.5 392.5L1005.5 393.5L1004.5 393.5L1003.5 392.5L1003.5 391.5ZM1004.5 393.5L1003.5 394.5L1003.5 394.5L1004.5 395.5L1005.5 395.5L1005.5 394.5L1005.5 394.5L1005.5 393.5 M1006.5 391.5L1007.5 391.5L1007.5 391.5L1008.5 391.5L1008.5 392.5L1006.5 395.5L1008.5 395.5 M1010.5 395.5L1010.5 391.5L1009.5 394.5L1011.5 394.5 " stroke="#ff0000" fill="none"/>
<path d="M1048.5 379.5L1046.5 379.5L1046.5 379.5L1046.5 377.5L1046.5 376.5L1047.5 376.5L1048.5 377.5L1048.5 381.5L1047.5 382.5L1046.5 382.5 M1051.5 376.5L1049.5 376.5L1049.5 379.5L1051.5 379.5L1051.5 379.5L1051.5 381.5L1051.5 382.5L1049.5 382.5 M1053.5 376.5L1054.5 376.5L1054.5 377.5L1054.5 381.5L1054.5 382.5L1053.5 382.5L1052.5 381.5L1052.5 377.5Z" stroke="#ffffff" fill="none"/>
<path d="M1068.5 378.5L1069.5 376.5L1069.5 382.5 M1073.5 376.5L1071.5 376.5L1071.5 379.5L1073.5 379.5L1073.5 379.5L1073.5 381.5L1073.5 382.5L1071.5 382.5 M1075.5 376.5L1076.5 376.5L1077.5 377.5L1077.5 381.5L1076.5 382.5L1075.5 382.5L1075.5 381.5L1075.5 377.5ZM1078.5 376.5L1080.5 376.5L1080.5 377.5L1080.5 381.5L1080.5 382.5L1078.5 382.5L1078.5 381.5L1078.5 377.5Z" stroke="#ffffff" fill="none"/>
<path d="M1095.5 378.5L1096.5 376.5L1096.5 382.5 M1098.5 378.5L1099.5 376.5L1099.5 382.5 M1104.5 376.5L1102.5 376.5L1102.5 379.5L1103.5 379.5L1104.5 379.5L1104.5 381.5L1103.5 382.5L1102.5 382.5 M1105.5 376.5L1107.5 376.5L1107.5 377.5L1107.5 381.5L1107.5 382.5L1105.5 382.5L1105.5 381.5L1105.5 377.5Z" stroke="#ffffff" fill="none"/>
<path d="M1068.5 391.5L1070.5 391.5M1069.5 391.5L1069.5 395.5 M1071.5 391.5L1071.5 395.5L1073.5 395.5 M1074.5 395.5L1074.5 391.5L1075.5 393.5L1076.5 391.5L1076.5 395.5 M1077.5 391.5L1078.5 391.5L1078.5 391.5L1078.5 392.5L1078.5 393.5L1077.5 393.5L1076.5 392.5L1076.5 391.5ZM1077.5 393.5L1076.5 394.5L1076.5 394.5L1077.5 395.5L1078.5 395.5L1078.5 394.5L1078.5 394.5L1078.5 393.5 M1079.5 391.5L1080.5 391.5L1080.5 391.5L1081.5 391.5L1081.5 392.5L1079.5 395.5L1081.5 395.5 M1083.5 395.5L1083.5 391.5L1082.5 394.5L1084.5 394.5 " stroke="#ff0000" fill="none"/>
<path d="M333 193h4v1h-4zM333 197h4v1h-4zM333 195h4v1h-4zM334 193h1v5h-1zM336 193h1v5h-1zM334 194h1v3h-1zM338 197h4v1h-4zM339 195h3v1h-3zM339 193h1v5h-1zM341 194h1v4h-1zM345 193h3v1h-3zM344 197h4v1h-4zM345 195h2v1h-2zM345 193h1v5h-1zM347 195h1v3h-1zM350 193h4v1h-4zM350 197h4v1h-4zM350 195h4v1h-4zM351 193h1v5h-1zM350 195h1v3h-1z" fill="#ffffff"/>
<path d="M343.5 203.5L343.5 198.5L341.5 201.5L343.5 201.5 M344.5 198.5L344.5 203.5M345.5 198.5L345.5 203.5M344.5 200.5L346.5 200.5M344.5 201.5L346.5 201.5 " stroke="#00ffff" fill="none"/>
<path d="M333.5 206.5L334.5 205.5L335.5 205.5L335.5 206.5L335.5 206.5L333.5 210.5L335.5 210.5 M337.5 205.5L338.5 205.5L338.5 206.5L338.5 209.5L338.5 210.5L337.5 210.5L336.5 209.5L336.5 206.5ZM340.5 209.5L341.5 209.5L341.5 210.5L340.5 210.5ZM342.5 205.5L345.5 205.5L344.5 207.5L344.5 207.5L345.5 208.5L345.5 209.5L344.5 210.5L343.5 210.5L342.5 209.5 M346.5 205.5L347.5 205.5L348.5 206.5L348.5 209.5L347.5 210.5L346.5 210.5L346.5 209.5L346.5 206.5ZM349.5 210.5L349.5 206.5M349.5 207.5L349.5 206.5L350.5 207.5L350.5 210.5M350.5 207.5L350.5 206.5L351.5 207.5L351.5 210.5 M352.5 205.5L352.5 205.5L353.5 205.5L353.5 205.5L353.5 206.5L352.5 207.5L353.5 207.5 " stroke="#00ffff" fill="none"/>
<path d="M412 193h4v1h-4zM412 197h4v1h-4zM412 195h4v1h-4zM413 193h1v5h-1zM415 194h1v4h-1zM413 196h1v1h-1zM419 193h3v1h-3zM418 197h4v1h-4zM418 195h4v1h-4zM420 193h1v5h-1zM421 194h1v4h-1zM420 194h1v2h-1zM424 193h3v1h-3zM423 197h4v1h-4zM424 195h2v1h-2zM425 193h1v5h-1zM423 194h1v4h-1zM426 195h1v3h-1zM428 193h4v1h-4zM428 197h4v1h-4zM429 195h2v1h-2zM429 193h1v5h-1zM431 194h1v4h-1zM429 194h1v2h-1z" fill="#ffffff"/>
<path d="M422.5 203.5L422.5 198.5L420.5 201.5L422.5 201.5 M423.5 198.5L423.5 203.5M424.5 198.5L424.5 203.5M423.5 200.5L425.5 200.5M423.5 201.5L425.5 201.5 " stroke="#00ffff" fill="none"/>
<path d="M412.5 206.5L413.5 205.5L413.5 210.5 M415.5 206.5L416.5 205.5L416.5 210.5 M419.5 209.5L420.5 209.5L420.5 210.5L419.5 210.5ZM424.5 205.5L421.5 205.5L421.5 207.5L423.5 207.5L424.5 208.5L424.5 209.5L423.5 210.5L421.5 210.5 M425.5 205.5L426.5 205.5L427.5 206.5L427.5 206.5L426.5 207.5L425.5 207.5L425.5 206.5L425.5 206.5ZM425.5 207.5L425.5 208.5L425.5 209.5L425.5 210.5L426.5 210.5L427.5 209.5L427.5 208.5L426.5 207.5 M428.5 210.5L428.5 206.5M428.5 207.5L428.5 206.5L429.5 207.5L429.5 210.5M429.5 207.5L429.5 206.5L430.5 207.5L430.5 210.5 M431.5 205.5L431.5 205.5L432.5 205.5L432.5 205.5L432.5 206.5L431.5 207.5L432.5 207.5 " stroke="#00ffff" fill="none"/>
<path d="M484 193h4v1h-4zM484 197h4v1h-4zM485 195h3v1h-3zM485 193h1v5h-1zM484 195h1v3h-1zM490 197h4v1h-4zM490 195h4v1h-4zM491 193h1v5h-1zM490 194h1v4h-1zM495 197h4v1h-4zM495 195h3v1h-3zM496 193h1v5h-1zM495 195h1v3h-1zM497 194h1v2h-1zM500 197h4v1h-4zM501 195h2v1h-2zM501 193h1v5h-1zM503 194h1v4h-1z" fill="#ffffff"/>
<path d="M494.5 203.5L494.5 198.5L492.5 201.5L494.5 201.5 M495.5 198.5L495.5 203.5M496.5 198.5L496.5 203.5M495.5 200.5L497.5 200.5M495.5 201.5L497.5 201.5 " stroke="#00ffff" fill="none"/>
<path d="M484.5 206.5L485.5 205.5L485.5 210.5 M487.5 206.5L488.5 205.5L488.5 210.5 M491.5 209.5L492.5 209.5L492.5 210.5L491.5 210.5ZM496.5 205.5L493.5 205.5L493.5 207.5L495.5 207.5L496.5 208.5L496.5 209.5L495.5 210.5L493.5 210.5 M497.5 205.5L498.5 205.5L499.5 206.5L499.5 206.5L498.5 207.5L497.5 207.5L497.5 206.5L497.5 206.5ZM497.5 207.5L497.5 208.5L497.5 209.5L497.5 210.5L498.5 210.5L499.5 209.5L499.5 208.5L498.5 207.5 M500.5 210.5L500.5 206.5M500.5 207.5L500.5 206.5L501.5 207.5L501.5 210.5M501.5 207.5L501.5 206.5L502.5 207.5L502.5 210.5 M503.5 205.5L503.5 205.5L504.5 205.5L504.5 205.5L504.5 206.5L503.5 207.5L504.5 207.5 " stroke="#00ffff" fill="none"/>
<path d="M557 193h4v1h-4zM557 197h4v1h-4zM558 195h3v1h-3zM558 193h1v5h-1zM557 193h1v5h-1zM558 195h1v3h-1zM562 197h4v1h-4zM562 195h3v1h-3zM564 193h1v5h-1zM562 193h1v5h-1zM568 193h4v1h-4zM568 197h4v1h-4zM568 195h3v1h-3zM570 193h1v5h-1zM571 195h1v3h-1zM568 195h1v1h-1zM575 193h3v1h-3zM574 197h4v1h-4zM575 195h2v1h-2zM575 193h1v5h-1zM577 193h1v5h-1zM575 194h1v2h-1z" fill="#ffffff"/>
<path d="M567.5 203.5L567.5 198.5L565.5 201.5L567.5 201.5 M568.5 198.5L568.5 203.5M569.5 198.5L569.5 203.5M568.5 200.5L570.5 200.5M568.5 201.5L570.5 201.5 " stroke="#00ffff" fill="none"/>
<path d="M557.5 206.5L558.5 205.5L558.5 210.5 M560.5 206.5L561.5 205.5L561.5 210.5 M564.5 209.5L565.5 209.5L565.5 210.5L564.5 210.5ZM569.5 205.5L566.5 205.5L566.5 207.5L568.5 207.5L569.5 208.5L569.5 209.5L568.5 210.5L566.5 210.5 M570.5 205.5L571.5 205.5L572.5 206.5L572.5 206.5L571.5 207.5L570.5 207.5L570.5 206.5L570.5 206.5ZM570.5 207.5L570.5 208.5L570.5 209.5L570.5 210.5L571.5 210.5L572.5 209.5L572.5 208.5L571.5 207.5 M573.5 210.5L573.5 206.5M573.5 207.5L573.5 206.5L574.5 207.5L574.5 210.5M574.5 207.5L574.5 206.5L575.5 207.5L575.5 210.5 M576.5 205.5L576.5 205.5L577.5 205.5L577.5 205.5L577.5 206.5L576.5 207.5L577.5 207.5 " stroke="#00ffff" fill="none"/>
<path d="M988 193h3v1h-3zM987 197h4v1h-4zM988 195h2v1h-2zM988 193h1v5h-1zM990 194h1v4h-1zM992 197h4v1h-4zM993 195h3v1h-3zM994 193h1v5h-1zM995 194h1v4h-1zM993 195h1v3h-1zM998 197h4v1h-4zM998 195h4v1h-4zM999 193h1v5h-1zM998 195h1v3h-1zM1004 193h4v1h-4zM1004 197h4v1h-4zM1004 195h3v1h-3zM1006 193h1v5h-1zM1007 193h1v5h-1z" fill="#ffffff"/>
<path d="M997.5 203.5L997.5 198.5L995.5 201.5L997.5 201.5 M998.5 198.5L998.5 203.5M999.5 198.5L999.5 203.5M998.5 200.5L1000.5 200.5M998.5 201.5L1000.5 201.5 " stroke="#00ffff" fill="none"/>
<path d="M987.5 206.5L988.5 205.5L989.5 205.5L989.5 206.5L989.5 206.5L987.5 210.5L989.5 210.5 M991.5 205.5L992.5 205.5L992.5 206.5L992.5 209.5L992.5 210.5L991.5 210.5L990.5 209.5L990.5 206.5ZM994.5 209.5L995.5 209.5L995.5 210.5L994.5 210.5ZM996.5 205.5L999.5 205.5L997.5 207.5L998.5 207.5L999.5 208.5L999.5 209.5L998.5 210.5L997.5 210.5L996.5 209.5 M1000.5 205.5L1001.5 205.5L1002.5 206.5L1002.5 209.5L1001.5 210.5L1000.5 210.5L1000.5 209.5L1000.5 206.5ZM1003.5 210.5L1003.5 206.5M1003.5 207.5L1003.5 206.5L1004.5 207.5L1004.5 210.5M1004.5 207.5L1004.5 206.5L1005.5 207.5L1005.5 210.5 M1006.5 205.5L1006.5 205.5L1007.5 205.5L1007.5 205.5L1007.5 206.5L1006.5 207.5L1007.5 207.5 " stroke="#00ffff" fill="none"/>
<path d="M1066 197h4v1h-4zM1067 195h3v1h-3zM1067 193h1v5h-1zM1069 195h1v3h-1zM1067 195h1v3h-1zM1072 193h4v1h-4zM1072 197h4v1h-4zM1072 195h3v1h-3zM1073 193h1v5h-1zM1072 194h1v4h-1zM1073 194h1v2h-1zM1078 193h3v1h-3zM1077 197h4v1h-4zM1077 195h3v1h-3zM1079 193h1v5h-1zM1077 195h1v3h-1zM1082 197h4v1h-4zM1082 195h3v1h-3zM1084 193h1v5h-1zM1085 193h1v5h-1zM1085 195h1v3h-1z" fill="#ffffff"/>
<path d="M1076.5 203.5L1076.5 198.5L1074.5 201.5L1076.5 201.5 M1077.5 198.5L1077.5 203.5M1078.5 198.5L1078.5 203.5M1077.5 200.5L1079.5 200.5M1077.5 201.5L1079.5 201.5 " stroke="#00ffff" fill="none"/>
<path d="M1066.5 206.5L1067.5 205.5L1067.5 210.5 M1069.5 205.5L1071.5 205.5L1071.5 206.5L1070.5 210.5 M1073.5 209.5L1074.5 209.5L1074.5 210.5L1073.5 210.5ZM1077.5 205.5L1076.5 205.5L1075.5 206.5L1075.5 209.5L1076.5 210.5L1077.5 210.5L1078.5 209.5L1078.5 208.5L1077.5 207.5L1075.5 207.5 M1079.5 205.5L1080.5 205.5L1081.5 206.5L1081.5 209.5L1080.5 210.5L1079.5 210.5L1079.5 209.5L1079.5 206.5ZM1082.5 210.5L1082.5 206.5M1082.5 207.5L1082.5 206.5L1083.5 207.5L1083.5 210.5M1083.5 207.5L1083.5 206.5L1084.5 207.5L1084.5 210.5 M1085.5 205.5L1085.5 205.5L1086.5 205.5L1086.5 205.5L1086.5 206.5L1085.5 207.5L1086.5 207.5 " stroke="#00ffff" fill="none"/>
<path d="M266 359h4v1h-4zM266 357h3v1h-3zM267 355h1v5h-1zM266 357h1v3h-1zM273 355h3v1h-3zM272 359h4v1h-4zM273 357h2v1h-2zM273 355h1v5h-1zM272 356h1v4h-1zM278 359h4v1h-4zM279 357h2v1h-2zM279 355h1v5h-1zM278 355h1v5h-1zM283 355h4v1h-4zM283 359h4v1h-4zM284 357h2v1h-2zM285 355h1v5h-1zM283 356h1v4h-1zM285 357h1v1h-1z" fill="#ffffff"/>
<path d="M276.5 365.5L276.5 360.5L275.5 363.5L277.5 363.5 M278.5 360.5L278.5 365.5M279.5 360.5L279.5 365.5M277.5 362.5L279.5 362.5M277.5 363.5L279.5 363.5 " stroke="#00ffff" fill="none"/>
<path d="M267.5 368.5L268.5 367.5L268.5 372.5 M270.5 367.5L272.5 367.5L272.5 368.5L271.5 372.5 M274.5 371.5L274.5 371.5L274.5 372.5L274.5 372.5ZM278.5 367.5L276.5 367.5L276.5 368.5L276.5 371.5L276.5 372.5L278.5 372.5L278.5 371.5L278.5 370.5L278.5 369.5L276.5 369.5 M280.5 367.5L281.5 367.5L281.5 368.5L281.5 371.5L281.5 372.5L280.5 372.5L279.5 371.5L279.5 368.5ZM282.5 372.5L282.5 368.5M282.5 369.5L283.5 368.5L283.5 369.5L283.5 372.5M283.5 369.5L284.5 368.5L284.5 369.5L284.5 372.5 M285.5 367.5L286.5 367.5L286.5 367.5L287.5 367.5L287.5 368.5L285.5 369.5L287.5 369.5 " stroke="#00ffff" fill="none"/>
<path d="M339 355h3v1h-3zM338 359h4v1h-4zM338 357h4v1h-4zM340 355h1v5h-1zM338 356h1v4h-1zM339 357h1v1h-1zM344 355h4v1h-4zM344 359h4v1h-4zM345 357h2v1h-2zM345 355h1v5h-1zM347 355h1v5h-1zM345 357h1v3h-1zM351 355h3v1h-3zM350 359h4v1h-4zM351 357h3v1h-3zM351 355h1v5h-1zM353 357h1v3h-1zM352 356h1v3h-1zM355 355h4v1h-4zM355 359h4v1h-4zM355 357h4v1h-4zM357 355h1v5h-1zM358 355h1v5h-1zM357 356h1v2h-1z" fill="#ffffff"/>
<path d="M348.5 365.5L348.5 360.5L347.5 363.5L349.5 363.5 M350.5 360.5L350.5 365.5M351.5 360.5L351.5 365.5M349.5 362.5L351.5 362.5M349.5 363.5L351.5 363.5 " stroke="#00ffff" fill="none"/>
<path d="M339.5 368.5L340.5 367.5L340.5 372.5 M342.5 368.5L343.5 367.5L343.5 372.5 M346.5 371.5L346.5 371.5L346.5 372.5L346.5 372.5ZM350.5 367.5L348.5 367.5L348.5 368.5L348.5 371.5L348.5 372.5L350.5 372.5L350.5 371.5L350.5 370.5L350.5 369.5L348.5 369.5 M352.5 367.5L353.5 367.5L353.5 368.5L353.5 371.5L353.5 372.5L352.5 372.5L351.5 371.5L351.5 368.5ZM354.5 372.5L354.5 368.5M354.5 369.5L355.5 368.5L355.5 369.5L355.5 372.5M355.5 369.5L356.5 368.5L356.5 369.5L356.5 372.5 M357.5 367.5L358.5 367.5L358.5 367.5L359.5 367.5L359.5 368.5L357.5 369.5L359.5 369.5 " stroke="#00ffff" fill="none"/>
<path d="M412 355h4v1h-4zM412 359h4v1h-4zM412 357h3v1h-3zM414 355h1v5h-1zM415 355h1v5h-1zM417 359h4v1h-4zM418 357h3v1h-3zM419 355h1v5h-1zM417 356h1v4h-1zM420 356h1v2h-1zM422 359h4v1h-4zM423 357h2v1h-2zM423 355h1v5h-1zM422 356h1v4h-1zM429 355h3v1h-3zM428 359h4v1h-4zM428 357h4v1h-4zM429 355h1v5h-1zM428 355h1v5h-1z" fill="#ffffff"/>
<path d="M421.5 365.5L421.5 360.5L420.5 363.5L422.5 363.5 M423.5 360.5L423.5 365.5M424.5 360.5L424.5 365.5M422.5 362.5L424.5 362.5M422.5 363.5L424.5 363.5 " stroke="#00ffff" fill="none"/>
<path d="M412.5 368.5L413.5 367.5L413.5 372.5 M415.5 368.5L416.5 367.5L416.5 372.5 M419.5 371.5L419.5 371.5L419.5 372.5L419.5 372.5ZM423.5 367.5L421.5 367.5L421.5 368.5L421.5 371.5L421.5 372.5L423.5 372.5L423.5 371.5L423.5 370.5L423.5 369.5L421.5 369.5 M425.5 367.5L426.5 367.5L426.5 368.5L426.5 371.5L426.5 372.5L425.5 372.5L424.5 371.5L424.5 368.5ZM427.5 372.5L427.5 368.5M427.5 369.5L428.5 368.5L428.5 369.5L428.5 372.5M428.5 369.5L429.5 368.5L429.5 369.5L429.5 372.5 M430.5 367.5L431.5 367.5L431.5 367.5L432.5 367.5L432.5 368.5L430.5 369.5L432.5 369.5 " stroke="#00ffff" fill="none"/>
<path d="M484 355h4v1h-4zM484 359h4v1h-4zM485 357h3v1h-3zM485 355h1v5h-1zM484 357h1v3h-1zM490 359h4v1h-4zM490 357h4v1h-4zM491 355h1v5h-1zM490 356h1v4h-1zM496 359h4v1h-4zM496 357h3v1h-3zM497 355h1v5h-1zM496 357h1v3h-1zM498 356h1v2h-1zM501 359h4v1h-4zM502 357h2v1h-2zM502 355h1v5h-1zM504 356h1v4h-1z" fill="#ffffff"/>
<path d="M494.5 365.5L494.5 360.5L493.5 363.5L495.5 363.5 M496.5 360.5L496.5 365.5M497.5 360.5L497.5 365.5M495.5 362.5L497.5 362.5M495.5 363.5L497.5 363.5 " stroke="#00ffff" fill="none"/>
<path d="M485.5 368.5L486.5 367.5L486.5 372.5 M488.5 368.5L489.5 367.5L489.5 372.5 M492.5 371.5L492.5 371.5L492.5 372.5L492.5 372.5ZM496.5 367.5L494.5 367.5L494.5 368.5L494.5 371.5L494.5 372.5L496.5 372.5L496.5 371.5L496.5 370.5L496.5 369.5L494.5 369.5 M498.5 367.5L499.5 367.5L499.5 368.5L499.5 371.5L499.5 372.5L498.5 372.5L497.5 371.5L497.5 368.5ZM500.5 372.5L500.5 368.5M500.5 369.5L501.5 368.5L501.5 369.5L501.5 372.5M501.5 369.5L502.5 368.5L502.5 369.5L502.5 372.5 M503.5 367.5L504.5 367.5L504.5 367.5L505.5 367.5L505.5 368.5L503.5 369.5L505.5 369.5 " stroke="#00ffff" fill="none"/>
<path d="M556 359h4v1h-4zM557 357h2v1h-2zM557 355h1v5h-1zM559 355h1v5h-1zM562 355h4v1h-4zM562 359h4v1h-4zM563 357h2v1h-2zM563 355h1v5h-1zM565 355h1v5h-1zM569 355h3v1h-3zM568 359h4v1h-4zM569 357h3v1h-3zM569 355h1v5h-1zM568 356h1v4h-1zM569 357h1v1h-1zM574 355h3v1h-3zM573 359h4v1h-4zM574 357h2v1h-2zM575 355h1v5h-1zM573 357h1v3h-1zM573 356h1v4h-1z" fill="#ffffff"/>
<path d="M566.5 365.5L566.5 360.5L565.5 363.5L567.5 363.5 M568.5 360.5L568.5 365.5M569.5 360.5L569.5 365.5M567.5 362.5L569.5 362.5M567.5 363.5L569.5 363.5 " stroke="#00ffff" fill="none"/>
<path d="M557.5 368.5L558.5 367.5L558.5 372.5 M560.5 368.5L561.5 367.5L561.5 372.5 M564.5 371.5L564.5 371.5L564.5 372.5L564.5 372.5ZM568.5 367.5L566.5 367.5L566.5 368.5L566.5 371.5L566.5 372.5L568.5 372.5L568.5 371.5L568.5 370.5L568.5 369.5L566.5 369.5 M570.5 367.5L571.5 367.5L571.5 368.5L571.5 371.5L571.5 372.5L570.5 372.5L569.5 371.5L569.5 368.5ZM572.5 372.5L572.5 368.5M572.5 369.5L573.5 368.5L573.5 369.5L573.5 372.5M573.5 369.5L574.5 368.5L574.5 369.5L574.5 372.5 M575.5 367.5L576.5 367.5L576.5 367.5L577.5 367.5L577.5 368.5L575.5 369.5L577.5 369.5 " stroke="#00ffff" fill="none"/>
<path d="M630 355h4v1h-4zM630 359h4v1h-4zM631 357h3v1h-3zM632 355h1v5h-1zM630 357h1v3h-1zM633 356h1v2h-1zM636 355h3v1h-3zM635 359h4v1h-4zM635 357h3v1h-3zM637 355h1v5h-1zM635 356h1v4h-1zM636 357h1v1h-1zM640 355h4v1h-4zM640 359h4v1h-4zM641 357h3v1h-3zM641 355h1v5h-1zM643 356h1v4h-1zM646 359h4v1h-4zM646 357h3v1h-3zM647 355h1v5h-1zM649 355h1v5h-1zM647 357h1v3h-1z" fill="#ffffff"/>
<path d="M639.5 365.5L639.5 360.5L638.5 363.5L640.5 363.5 M641.5 360.5L641.5 365.5M642.5 360.5L642.5 365.5M640.5 362.5L642.5 362.5M640.5 363.5L642.5 363.5 " stroke="#00ffff" fill="none"/>
<path d="M630.5 368.5L631.5 367.5L631.5 372.5 M633.5 368.5L634.5 367.5L634.5 372.5 M637.5 371.5L637.5 371.5L637.5 372.5L637.5 372.5ZM641.5 367.5L639.5 367.5L639.5 368.5L639.5 371.5L639.5 372.5L641.5 372.5L641.5 371.5L641.5 370.5L641.5 369.5L639.5 369.5 M643.5 367.5L644.5 367.5L644.5 368.5L644.5 371.5L644.5 372.5L643.5 372.5L642.5 371.5L642.5 368.5ZM645.5 372.5L645.5 368.5M645.5 369.5L646.5 368.5L646.5 369.5L646.5 372.5M646.5 369.5L647.5 368.5L647.5 369.5L647.5 372.5 M648.5 367.5L649.5 367.5L649.5 367.5L650.5 367.5L650.5 368.5L648.5 369.5L650.5 369.5 " stroke="#00ffff" fill="none"/>
<path d="M703 355h3v1h-3zM702 359h4v1h-4zM702 357h4v1h-4zM703 355h1v5h-1zM705 357h1v3h-1zM704 358h1v0h-1zM708 355h4v1h-4zM708 359h4v1h-4zM709 357h3v1h-3zM710 355h1v5h-1zM711 355h1v5h-1zM709 358h1v0h-1zM714 355h4v1h-4zM714 359h4v1h-4zM715 357h2v1h-2zM715 355h1v5h-1zM714 356h1v4h-1zM719 355h4v1h-4zM719 359h4v1h-4zM720 357h2v1h-2zM721 355h1v5h-1zM719 355h1v5h-1zM720 358h1v0h-1z" fill="#ffffff"/>
<path d="M712.5 365.5L712.5 360.5L711.5 363.5L713.5 363.5 M714.5 360.5L714.5 365.5M715.5 360.5L715.5 365.5M713.5 362.5L715.5 362.5M713.5 363.5L715.5 363.5 " stroke="#00ffff" fill="none"/>
<path d="M703.5 368.5L704.5 367.5L704.5 372.5 M706.5 368.5L707.5 367.5L707.5 372.5 M710.5 371.5L710.5 371.5L710.5 372.5L710.5 372.5ZM714.5 367.5L712.5 367.5L712.5 368.5L712.5 371.5L712.5 372.5L714.5 372.5L714.5 371.5L714.5 370.5L714.5 369.5L712.5 369.5 M716.5 367.5L717.5 367.5L717.5 368.5L717.5 371.5L717.5 372.5L716.5 372.5L715.5 371.5L715.5 368.5ZM718.5 372.5L718.5 368.5M718.5 369.5L719.5 368.5L719.5 369.5L719.5 372.5M719.5 369.5L720.5 368.5L720.5 369.5L720.5 372.5 M721.5 367.5L722.5 367.5L722.5 367.5L723.5 367.5L723.5 368.5L721.5 369.5L723.5 369.5 " stroke="#00ffff" fill="none"/>
<path d="M775 355h3v1h-3zM774 359h4v1h-4zM774 357h3v1h-3zM775 355h1v5h-1zM777 356h1v4h-1zM776 356h1v2h-1zM780 355h4v1h-4zM780 359h4v1h-4zM781 357h2v1h-2zM781 355h1v5h-1zM780 357h1v3h-1zM783 358h1v0h-1zM786 355h4v1h-4zM786 359h4v1h-4zM787 357h2v1h-2zM787 355h1v5h-1zM789 357h1v3h-1zM791 359h4v1h-4zM792 357h2v1h-2zM793 355h1v5h-1zM791 357h1v3h-1z" fill="#ffffff"/>
<path d="M784.5 365.5L784.5 360.5L783.5 363.5L785.5 363.5 M786.5 360.5L786.5 365.5M787.5 360.5L787.5 365.5M785.5 362.5L787.5 362.5M785.5 363.5L787.5 363.5 " stroke="#00ffff" fill="none"/>
<path d="M775.5 368.5L776.5 367.5L776.5 372.5 M778.5 368.5L779.5 367.5L779.5 372.5 M782.5 371.5L782.5 371.5L782.5 372.5L782.5 372.5ZM786.5 367.5L784.5 367.5L784.5 368.5L784.5 371.5L784.5 372.5L786.5 372.5L786.5 371.5L786.5 370.5L786.5 369.5L784.5 369.5 M788.5 367.5L789.5 367.5L789.5 368.5L789.5 371.5L789.5 372.5L788.5 372.5L787.5 371.5L787.5 368.5ZM790.5 372.5L790.5 368.5M790.5 369.5L791.5 368.5L791.5 369.5L791.5 372.5M791.5 369.5L792.5 368.5L792.5 369.5L792.5 372.5 M793.5 367.5L794.5 367.5L794.5 367.5L795.5 367.5L795.5 368.5L793.5 369.5L795.5 369.5 " stroke="#00ffff" fill="none"/>
<path d="M848 355h4v1h-4zM848 359h4v1h-4zM849 357h3v1h-3zM850 355h1v5h-1zM851 355h1v5h-1zM850 356h1v3h-1zM854 355h3v1h-3zM853 359h4v1h-4zM853 357h3v1h-3zM855 355h1v5h-1zM856 356h1v4h-1zM858 355h4v1h-4zM858 359h4v1h-4zM859 357h2v1h-2zM860 355h1v5h-1zM858 355h1v5h-1zM861 356h1v3h-1zM865 355h3v1h-3zM864 359h4v1h-4zM865 357h3v1h-3zM865 355h1v5h-1zM867 355h1v5h-1zM867 357h1v3h-1z" fill="#ffffff"/>
<path d="M857.5 365.5L857.5 360.5L856.5 363.5L858.5 363.5 M859.5 360.5L859.5 365.5M860.5 360.5L860.5 365.5M858.5 362.5L860.5 362.5M858.5 363.5L860.5 363.5 " stroke="#00ffff" fill="none"/>
<path d="M848.5 368.5L849.5 367.5L849.5 372.5 M851.5 368.5L852.5 367.5L852.5 372.5 M855.5 371.5L855.5 371.5L855.5 372.5L855.5 372.5ZM859.5 367.5L857.5 367.5L857.5 368.5L857.5 371.5L857.5 372.5L859.5 372.5L859.5 371.5L859.5 370.5L859.5 369.5L857.5 369.5 M861.5 367.5L862.5 367.5L862.5 368.5L862.5 371.5L862.5 372.5L861.5 372.5L860.5 371.5L860.5 368.5ZM863.5 372.5L863.5 368.5M863.5 369.5L864.5 368.5L864.5 369.5L864.5 372.5M864.5 369.5L865.5 368.5L865.5 369.5L865.5 372.5 M866.5 367.5L867.5 367.5L867.5 367.5L868.5 367.5L868.5 368.5L866.5 369.5L868.5 369.5 " stroke="#00ffff" fill="none"/>
<path d="M921 355h3v1h-3zM920 359h4v1h-4zM920 357h4v1h-4zM922 355h1v5h-1zM923 356h1v4h-1zM921 357h1v3h-1zM926 355h4v1h-4zM926 359h4v1h-4zM927 357h2v1h-2zM928 355h1v5h-1zM926 356h1v4h-1zM929 357h1v3h-1zM932 355h4v1h-4zM932 359h4v1h-4zM932 357h4v1h-4zM933 355h1v5h-1zM932 356h1v4h-1zM937 355h4v1h-4zM937 359h4v1h-4zM938 357h2v1h-2zM939 355h1v5h-1zM940 356h1v4h-1z" fill="#ffffff"/>
<path d="M930.5 365.5L930.5 360.5L929.5 363.5L931.5 363.5 M932.5 360.5L932.5 365.5M933.5 360.5L933.5 365.5M931.5 362.5L933.5 362.5M931.5 363.5L933.5 363.5 " stroke="#00ffff" fill="none"/>
<path d="M921.5 368.5L922.5 367.5L922.5 372.5 M924.5 368.5L925.5 367.5L925.5 372.5 M928.5 371.5L928.5 371.5L928.5 372.5L928.5 372.5ZM932.5 367.5L930.5 367.5L930.5 368.5L930.5 371.5L930.5 372.5L932.5 372.5L932.5 371.5L932.5 370.5L932.5 369.5L930.5 369.5 M934.5 367.5L935.5 367.5L935.5 368.5L935.5 371.5L935.5 372.5L934.5 372.5L933.5 371.5L933.5 368.5ZM936.5 372.5L936.5 368.5M936.5 369.5L937.5 368.5L937.5 369.5L937.5 372.5M937.5 369.5L938.5 368.5L938.5 369.5L938.5 372.5 M939.5 367.5L940.5 367.5L940.5 367.5L941.5 367.5L941.5 368.5L939.5 369.5L941.5 369.5 " stroke="#00ffff" fill="none"/>
<path d="M992 359h4v1h-4zM993 357h3v1h-3zM993 355h1v5h-1zM992 356h1v4h-1zM995 357h1v2h-1zM999 355h3v1h-3zM998 359h4v1h-4zM999 357h2v1h-2zM1000 355h1v5h-1zM1001 357h1v3h-1zM1004 355h4v1h-4zM1004 359h4v1h-4zM1004 357h4v1h-4zM1005 355h1v5h-1zM1004 355h1v5h-1zM1005 356h1v3h-1zM1009 359h4v1h-4zM1009 357h3v1h-3zM1011 355h1v5h-1zM1012 356h1v4h-1zM1011 357h1v2h-1z" fill="#ffffff"/>
<path d="M1002.5 365.5L1002.5 360.5L1001.5 363.5L1003.5 363.5 M1004.5 360.5L1004.5 365.5M1005.5 360.5L1005.5 365.5M1003.5 362.5L1005.5 362.5M1003.5 363.5L1005.5 363.5 " stroke="#00ffff" fill="none"/>
<path d="M993.5 368.5L994.5 367.5L994.5 372.5 M996.5 368.5L997.5 367.5L997.5 372.5 M1000.5 371.5L1000.5 371.5L1000.5 372.5L1000.5 372.5ZM1004.5 367.5L1002.5 367.5L1002.5 368.5L1002.5 371.5L1002.5 372.5L1004.5 372.5L1004.5 371.5L1004.5 370.5L1004.5 369.5L1002.5 369.5 M1006.5 367.5L1007.5 367.5L1007.5 368.5L1007.5 371.5L1007.5 372.5L1006.5 372.5L1005.5 371.5L1005.5 368.5ZM1008.5 372.5L1008.5 368.5M1008.5 369.5L1009.5 368.5L1009.5 369.5L1009.5 372.5M1009.5 369.5L1010.5 368.5L1010.5 369.5L1010.5 372.5 M1011.5 367.5L1012.5 367.5L1012.5 367.5L1013.5 367.5L1013.5 368.5L1011.5 369.5L1013.5 369.5 " stroke="#00ffff" fill="none"/>
<path d="M1066 359h4v1h-4zM1066 357h3v1h-3zM1067 355h1v5h-1zM1066 357h1v3h-1zM1067 357h1v2h-1zM1072 355h3v1h-3zM1071 359h4v1h-4zM1072 357h3v1h-3zM1073 355h1v5h-1zM1074 357h1v3h-1zM1077 355h3v1h-3zM1076 359h4v1h-4zM1076 357h3v1h-3zM1077 355h1v5h-1zM1076 357h1v3h-1zM1083 355h3v1h-3zM1082 359h4v1h-4zM1082 357h3v1h-3zM1084 355h1v5h-1zM1085 356h1v4h-1zM1085 358h1v2h-1z" fill="#ffffff"/>
<path d="M1075.5 365.5L1075.5 360.5L1074.5 363.5L1076.5 363.5 M1077.5 360.5L1077.5 365.5M1078.5 360.5L1078.5 365.5M1076.5 362.5L1078.5 362.5M1076.5 363.5L1078.5 363.5 " stroke="#00ffff" fill="none"/>
<path d="M1066.5 368.5L1067.5 367.5L1067.5 372.5 M1069.5 367.5L1071.5 367.5L1071.5 368.5L1070.5 372.5 M1073.5 371.5L1073.5 371.5L1073.5 372.5L1073.5 372.5ZM1077.5 367.5L1075.5 367.5L1075.5 368.5L1075.5 371.5L1075.5 372.5L1077.5 372.5L1077.5 371.5L1077.5 370.5L1077.5 369.5L1075.5 369.5 M1079.5 367.5L1080.5 367.5L1080.5 368.5L1080.5 371.5L1080.5 372.5L1079.5 372.5L1078.5 371.5L1078.5 368.5ZM1081.5 372.5L1081.5 368.5M1081.5 369.5L1082.5 368.5L1082.5 369.5L1082.5 372.5M1082.5 369.5L1083.5 368.5L1083.5 369.5L1083.5 372.5 M1084.5 367.5L1085.5 367.5L1085.5 367.5L1086.5 367.5L1086.5 368.5L1084.5 369.5L1086.5 369.5 " stroke="#00ffff" fill="none"/>
<path d="M333 117h4v1h-4zM333 121h4v1h-4zM334 119h3v1h-3zM335 117h1v5h-1zM336 118h1v4h-1zM339 117h3v1h-3zM338 121h4v1h-4zM338 119h3v1h-3zM340 117h1v5h-1zM338 118h1v4h-1zM341 119h1v3h-1z" fill="#ffffff"/>
<path d="M349.5 120.5L349.5 115.5L348.5 118.5L350.5 118.5 M352.5 115.5L352.5 120.5M353.5 115.5L353.5 120.5M351.5 116.5L353.5 116.5M351.5 118.5L353.5 118.5 " stroke="#00ffff" fill="none"/>
<path d="M341.5 121.5L343.5 121.5L342.5 123.5L343.5 123.5L343.5 124.5L343.5 125.5L343.5 126.5L342.5 126.5L341.5 125.5 M345.5 125.5L345.5 125.5L345.5 126.5L345.5 126.5ZM347.5 122.5L348.5 121.5L348.5 126.5 M352.5 124.5L350.5 124.5L350.5 123.5L350.5 122.5L350.5 121.5L351.5 121.5L352.5 122.5L352.5 125.5L351.5 126.5L350.5 126.5 M353.5 126.5L353.5 123.5M353.5 123.5L353.5 123.5L354.5 123.5L354.5 126.5M354.5 123.5L354.5 123.5L355.5 123.5L355.5 126.5 M356.5 122.5L356.5 121.5L357.5 121.5L357.5 122.5L357.5 122.5L356.5 123.5L357.5 123.5 " stroke="#00ffff" fill="none"/>
<path d="M410 121h4v1h-4zM410 119h4v1h-4zM412 117h1v5h-1zM410 118h1v4h-1zM413 119h1v3h-1zM415 121h4v1h-4zM416 119h3v1h-3zM417 117h1v5h-1zM415 117h1v5h-1z" fill="#ffffff"/>
<path d="M426.5 120.5L426.5 115.5L425.5 118.5L427.5 118.5 M429.5 115.5L429.5 120.5M430.5 115.5L430.5 120.5M428.5 116.5L430.5 116.5M428.5 118.5L430.5 118.5 " stroke="#00ffff" fill="none"/>
<path d="M418.5 121.5L420.5 121.5L419.5 123.5L420.5 123.5L420.5 124.5L420.5 125.5L420.5 126.5L419.5 126.5L418.5 125.5 M422.5 125.5L422.5 125.5L422.5 126.5L422.5 126.5ZM424.5 122.5L425.5 121.5L425.5 126.5 M429.5 124.5L427.5 124.5L427.5 123.5L427.5 122.5L427.5 121.5L428.5 121.5L429.5 122.5L429.5 125.5L428.5 126.5L427.5 126.5 M430.5 126.5L430.5 123.5M430.5 123.5L430.5 123.5L431.5 123.5L431.5 126.5M431.5 123.5L431.5 123.5L432.5 123.5L432.5 126.5 M433.5 122.5L433.5 121.5L434.5 121.5L434.5 122.5L434.5 122.5L433.5 123.5L434.5 123.5 " stroke="#00ffff" fill="none"/>
<path d="M483 121h4v1h-4zM484 119h3v1h-3zM484 117h1v5h-1zM483 119h1v3h-1zM489 117h3v1h-3zM488 121h4v1h-4zM489 119h2v1h-2zM489 117h1v5h-1zM491 118h1v4h-1z" fill="#ffffff"/>
<path d="M499.5 120.5L499.5 115.5L498.5 118.5L500.5 118.5 M502.5 115.5L502.5 120.5M503.5 115.5L503.5 120.5M501.5 116.5L503.5 116.5M501.5 118.5L503.5 118.5 " stroke="#00ffff" fill="none"/>
<path d="M491.5 121.5L493.5 121.5L492.5 123.5L493.5 123.5L493.5 124.5L493.5 125.5L493.5 126.5L492.5 126.5L491.5 125.5 M495.5 125.5L495.5 125.5L495.5 126.5L495.5 126.5ZM497.5 122.5L498.5 121.5L498.5 126.5 M502.5 124.5L500.5 124.5L500.5 123.5L500.5 122.5L500.5 121.5L501.5 121.5L502.5 122.5L502.5 125.5L501.5 126.5L500.5 126.5 M503.5 126.5L503.5 123.5M503.5 123.5L503.5 123.5L504.5 123.5L504.5 126.5M504.5 123.5L504.5 123.5L505.5 123.5L505.5 126.5 M506.5 122.5L506.5 121.5L507.5 121.5L507.5 122.5L507.5 122.5L506.5 123.5L507.5 123.5 " stroke="#00ffff" fill="none"/>
<path d="M536 117h4v1h-4zM536 121h4v1h-4zM537 119h3v1h-3zM538 117h1v5h-1zM539 118h1v4h-1zM536 119h1v3h-1zM541 117h4v1h-4zM541 121h4v1h-4zM542 119h3v1h-3zM543 117h1v5h-1zM541 117h1v5h-1z" fill="#ffffff"/>
<path d="M552.5 120.5L552.5 115.5L551.5 118.5L553.5 118.5 M555.5 115.5L555.5 120.5M556.5 115.5L556.5 120.5M554.5 116.5L556.5 116.5M554.5 118.5L556.5 118.5 " stroke="#00ffff" fill="none"/>
<path d="M544.5 121.5L546.5 121.5L545.5 123.5L546.5 123.5L546.5 124.5L546.5 125.5L546.5 126.5L545.5 126.5L544.5 125.5 M548.5 125.5L548.5 125.5L548.5 126.5L548.5 126.5ZM550.5 122.5L551.5 121.5L551.5 126.5 M555.5 124.5L553.5 124.5L553.5 123.5L553.5 122.5L553.5 121.5L554.5 121.5L555.5 122.5L555.5 125.5L554.5 126.5L553.5 126.5 M556.5 126.5L556.5 123.5M556.5 123.5L556.5 123.5L557.5 123.5L557.5 126.5M557.5 123.5L557.5 123.5L558.5 123.5L558.5 126.5 M559.5 122.5L559.5 121.5L560.5 121.5L560.5 122.5L560.5 122.5L559.5 123.5L560.5 123.5 " stroke="#00ffff" fill="none"/>
<path d="M978 117h4v1h-4zM978 121h4v1h-4zM978 119h3v1h-3zM979 117h1v5h-1zM978 119h1v3h-1zM978 118h1v3h-1zM983 121h4v1h-4zM983 119h3v1h-3zM984 117h1v5h-1zM986 117h1v5h-1z" fill="#ffffff"/>
<path d="M994.5 120.5L994.5 115.5L993.5 118.5L995.5 118.5 M997.5 115.5L997.5 120.5M998.5 115.5L998.5 120.5M996.5 116.5L998.5 116.5M996.5 118.5L998.5 118.5 " stroke="#00ffff" fill="none"/>
<path d="M986.5 121.5L988.5 121.5L987.5 123.5L988.5 123.5L988.5 124.5L988.5 125.5L988.5 126.5L987.5 126.5L986.5 125.5 M990.5 125.5L990.5 125.5L990.5 126.5L990.5 126.5ZM992.5 122.5L993.5 121.5L993.5 126.5 M997.5 124.5L995.5 124.5L995.5 123.5L995.5 122.5L995.5 121.5L996.5 121.5L997.5 122.5L997.5 125.5L996.5 126.5L995.5 126.5 M998.5 126.5L998.5 123.5M998.5 123.5L998.5 123.5L999.5 123.5L999.5 126.5M999.5 123.5L999.5 123.5L1000.5 123.5L1000.5 126.5 M1001.5 122.5L1001.5 121.5L1002.5 121.5L1002.5 122.5L1002.5 122.5L1001.5 123.5L1002.5 123.5 " stroke="#00ffff" fill="none"/>
<path d="M1065 121h4v1h-4zM1066 119h3v1h-3zM1067 117h1v5h-1zM1068 117h1v5h-1zM1071 117h3v1h-3zM1070 121h4v1h-4zM1071 119h2v1h-2zM1072 117h1v5h-1zM1073 119h1v3h-1z" fill="#ffffff"/>
<path d="M1081.5 120.5L1081.5 115.5L1080.5 118.5L1082.5 118.5 M1084.5 115.5L1084.5 120.5M1085.5 115.5L1085.5 120.5M1083.5 116.5L1085.5 116.5M1083.5 118.5L1085.5 118.5 " stroke="#00ffff" fill="none"/>
<path d="M1073.5 121.5L1075.5 121.5L1074.5 123.5L1075.5 123.5L1075.5 124.5L1075.5 125.5L1075.5 126.5L1074.5 126.5L1073.5 125.5 M1077.5 125.5L1077.5 125.5L1077.5 126.5L1077.5 126.5ZM1079.5 122.5L1080.5 121.5L1080.5 126.5 M1084.5 124.5L1082.5 124.5L1082.5 123.5L1082.5 122.5L1082.5 121.5L1083.5 121.5L1084.5 122.5L1084.5 125.5L1083.5 126.5L1082.5 126.5 M1085.5 126.5L1085.5 123.5M1085.5 123.5L1085.5 123.5L1086.5 123.5L1086.5 126.5M1086.5 123.5L1086.5 123.5L1087.5 123.5L1087.5 126.5 M1088.5 122.5L1088.5 121.5L1089.5 121.5L1089.5 122.5L1089.5 122.5L1088.5 123.5L1089.5 123.5 " stroke="#00ffff" fill="none"/>
<circle cx="307.5" cy="414.5" r="1.8" stroke="#808080" fill="#808080"/>
<path d="M306.5 416.5L306.5 416.5L307.5 417.5L307.5 419.5L306.5 420.5L306.5 420.5Z" stroke="#bfff7f" fill="none"/>
<circle cx="319.5" cy="414.5" r="1.8" stroke="#808080" fill="#808080"/>
<path d="M318.5 416.5L318.5 416.5L319.5 417.5L319.5 419.5L318.5 420.5L318.5 420.5Z" stroke="#bfff7f" fill="none"/>
<circle cx="453.5" cy="414.5" r="1.8" stroke="#808080" fill="#808080"/>
<path d="M452.5 416.5L452.5 416.5L453.5 417.5L453.5 419.5L452.5 420.5L452.5 420.5Z" stroke="#bfff7f" fill="none"/>
<circle cx="465.5" cy="414.5" r="1.8" stroke="#808080" fill="#808080"/>
<path d="M464.5 416.5L464.5 416.5L465.5 417.5L465.5 419.5L464.5 420.5L464.5 420.5Z" stroke="#bfff7f" fill="none"/>
<circle cx="598.5" cy="414.5" r="1.8" stroke="#808080" fill="#808080"/>
<path d="M597.5 416.5L597.5 416.5L598.5 417.5L598.5 419.5L597.5 420.5L597.5 420.5Z" stroke="#bfff7f" fill="none"/>
<circle cx="610.5" cy="414.5" r="1.8" stroke="#808080" fill="#808080"/>
<path d="M609.5 416.5L609.5 416.5L610.5 417.5L610.5 419.5L609.5 420.5L609.5 420.5Z" stroke="#bfff7f" fill="none"/>
<circle cx="743.5" cy="414.5" r="1.8" stroke="#808080" fill="#808080"/>
<path d="M742.5 416.5L742.5 416.5L743.5 417.5L743.5 419.5L742.5 420.5L742.5 420.5Z" stroke="#bfff7f" fill="none"/>
<circle cx="755.5" cy="414.5" r="1.8" stroke="#808080" fill="#808080"/>
<path d="M754.5 416.5L754.5 416.5L755.5 417.5L755.5 419.5L754.5 420.5L754.5 420.5Z" stroke="#bfff7f" fill="none"/>
<circle cx="889.5" cy="414.5" r="1.8" stroke="#808080" fill="#808080"/>
<path d="M888.5 416.5L888.5 416.5L889.5 417.5L889.5 419.5L888.5 420.5L888.5 420.5Z" stroke="#bfff7f" fill="none"/>
<circle cx="901.5" cy="414.5" r="1.8" stroke="#808080" fill="#808080"/>
<path d="M900.5 416.5L900.5 416.5L901.5 417.5L901.5 419.5L900.5 420.5L900.5 420.5Z" stroke="#bfff7f" fill="none"/>
<circle cx="1034.5" cy="414.5" r="1.8" stroke="#808080" fill="#808080"/>
<path d="M1033.5 416.5L1033.5 416.5L1034.5 417.5L1034.5 419.5L1033.5 420.5L1033.5 420.5Z" stroke="#bfff7f" fill="none"/>
<circle cx="1046.5" cy="414.5" r="1.8" stroke="#808080" fill="#808080"/>
<path d="M1045.5 416.5L1045.5 416.5L1046.5 417.5L1046.5 419.5L1045.5 420.5L1045.5 420.5Z" stroke="#bfff7f" fill="none"/>
<path d="M268 411h4v1h-4zM268 409h3v1h-3zM269 407h1v5h-1zM271 407h1v5h-1zM275 407h3v1h-3zM274 411h4v1h-4zM274 409h3v1h-3zM276 407h1v5h-1zM274 407h1v5h-1zM275 408h1v2h-1z" fill="#ffffff"/>
<path d="M276.5 419.5L276.5 414.5L274.5 417.5L276.5 417.5 M278.5 414.5L278.5 419.5M279.5 414.5L279.5 419.5M278.5 416.5L280.5 416.5M278.5 417.5L280.5 417.5 " stroke="#00ffff" fill="none"/>
<path d="M267.5 421.5L269.5 421.5L268.5 422.5L268.5 422.5L269.5 423.5L269.5 424.5L268.5 425.5L267.5 425.5L267.5 424.5 M271.5 424.5L271.5 424.5L271.5 425.5L271.5 425.5ZM273.5 422.5L274.5 421.5L274.5 425.5 M277.5 425.5L277.5 421.5L275.5 424.5L277.5 424.5 M278.5 425.5L278.5 422.5M278.5 423.5L279.5 422.5L279.5 423.5L279.5 425.5M279.5 423.5L280.5 422.5L280.5 423.5L280.5 425.5 M281.5 421.5L282.5 421.5L282.5 421.5L282.5 421.5L282.5 421.5L281.5 423.5L282.5 423.5 " stroke="#00ffff" fill="none"/>
<path d="M340 407h4v1h-4zM340 411h4v1h-4zM340 409h3v1h-3zM342 407h1v5h-1zM343 409h1v3h-1zM342 408h1v3h-1zM346 411h4v1h-4zM346 409h3v1h-3zM348 407h1v5h-1zM349 408h1v4h-1zM349 409h1v1h-1z" fill="#ffffff"/>
<path d="M348.5 419.5L348.5 414.5L346.5 417.5L348.5 417.5 M350.5 414.5L350.5 419.5M351.5 414.5L351.5 419.5M350.5 416.5L352.5 416.5M350.5 417.5L352.5 417.5 " stroke="#00ffff" fill="none"/>
<path d="M339.5 421.5L341.5 421.5L340.5 422.5L340.5 422.5L341.5 423.5L341.5 424.5L340.5 425.5L339.5 425.5L339.5 424.5 M343.5 424.5L343.5 424.5L343.5 425.5L343.5 425.5ZM345.5 422.5L346.5 421.5L346.5 425.5 M349.5 425.5L349.5 421.5L347.5 424.5L349.5 424.5 M350.5 425.5L350.5 422.5M350.5 423.5L351.5 422.5L351.5 423.5L351.5 425.5M351.5 423.5L352.5 422.5L352.5 423.5L352.5 425.5 M353.5 421.5L354.5 421.5L354.5 421.5L354.5 421.5L354.5 421.5L353.5 423.5L354.5 423.5 " stroke="#00ffff" fill="none"/>
<path d="M414 411h4v1h-4zM414 409h3v1h-3zM415 407h1v5h-1zM417 407h1v5h-1zM416 408h1v3h-1zM420 407h3v1h-3zM419 411h4v1h-4zM420 409h2v1h-2zM421 407h1v5h-1zM422 409h1v3h-1zM419 410h1v0h-1z" fill="#ffffff"/>
<path d="M421.5 419.5L421.5 414.5L419.5 417.5L421.5 417.5 M423.5 414.5L423.5 419.5M424.5 414.5L424.5 419.5M423.5 416.5L425.5 416.5M423.5 417.5L425.5 417.5 " stroke="#00ffff" fill="none"/>
<path d="M412.5 421.5L414.5 421.5L413.5 422.5L413.5 422.5L414.5 423.5L414.5 424.5L413.5 425.5L412.5 425.5L412.5 424.5 M416.5 424.5L416.5 424.5L416.5 425.5L416.5 425.5ZM418.5 422.5L419.5 421.5L419.5 425.5 M422.5 425.5L422.5 421.5L420.5 424.5L422.5 424.5 M423.5 425.5L423.5 422.5M423.5 423.5L424.5 422.5L424.5 423.5L424.5 425.5M424.5 423.5L425.5 422.5L425.5 423.5L425.5 425.5 M426.5 421.5L427.5 421.5L427.5 421.5L427.5 421.5L427.5 421.5L426.5 423.5L427.5 423.5 " stroke="#00ffff" fill="none"/>
<path d="M486 411h4v1h-4zM486 409h3v1h-3zM487 407h1v5h-1zM486 408h1v4h-1zM489 410h1v0h-1zM493 407h3v1h-3zM492 411h4v1h-4zM492 409h4v1h-4zM493 407h1v5h-1zM492 407h1v5h-1z" fill="#ffffff"/>
<path d="M494.5 419.5L494.5 414.5L492.5 417.5L494.5 417.5 M496.5 414.5L496.5 419.5M497.5 414.5L497.5 419.5M496.5 416.5L498.5 416.5M496.5 417.5L498.5 417.5 " stroke="#00ffff" fill="none"/>
<path d="M485.5 421.5L487.5 421.5L486.5 422.5L486.5 422.5L487.5 423.5L487.5 424.5L486.5 425.5L485.5 425.5L485.5 424.5 M489.5 424.5L489.5 424.5L489.5 425.5L489.5 425.5ZM491.5 422.5L492.5 421.5L492.5 425.5 M495.5 425.5L495.5 421.5L493.5 424.5L495.5 424.5 M496.5 425.5L496.5 422.5M496.5 423.5L497.5 422.5L497.5 423.5L497.5 425.5M497.5 423.5L498.5 422.5L498.5 423.5L498.5 425.5 M499.5 421.5L500.5 421.5L500.5 421.5L500.5 421.5L500.5 421.5L499.5 423.5L500.5 423.5 " stroke="#00ffff" fill="none"/>
<path d="M559 407h3v1h-3zM558 411h4v1h-4zM558 409h3v1h-3zM559 407h1v5h-1zM558 408h1v4h-1zM559 409h1v3h-1zM564 407h4v1h-4zM564 411h4v1h-4zM564 409h3v1h-3zM566 407h1v5h-1zM564 408h1v4h-1zM566 408h1v2h-1z" fill="#ffffff"/>
<path d="M566.5 419.5L566.5 414.5L564.5 417.5L566.5 417.5 M568.5 414.5L568.5 419.5M569.5 414.5L569.5 419.5M568.5 416.5L570.5 416.5M568.5 417.5L570.5 417.5 " stroke="#00ffff" fill="none"/>
<path d="M557.5 421.5L559.5 421.5L558.5 422.5L558.5 422.5L559.5 423.5L559.5 424.5L558.5 425.5L557.5 425.5L557.5 424.5 M561.5 424.5L561.5 424.5L561.5 425.5L561.5 425.5ZM563.5 422.5L564.5 421.5L564.5 425.5 M567.5 425.5L567.5 421.5L565.5 424.5L567.5 424.5 M568.5 425.5L568.5 422.5M568.5 423.5L569.5 422.5L569.5 423.5L569.5 425.5M569.5 423.5L570.5 422.5L570.5 423.5L570.5 425.5 M571.5 421.5L572.5 421.5L572.5 421.5L572.5 421.5L572.5 421.5L571.5 423.5L572.5 423.5 " stroke="#00ffff" fill="none"/>
<path d="M633 407h3v1h-3zM632 411h4v1h-4zM633 409h3v1h-3zM634 407h1v5h-1zM635 407h1v5h-1zM632 410h1v0h-1zM638 407h3v1h-3zM637 411h4v1h-4zM637 409h4v1h-4zM639 407h1v5h-1zM637 407h1v5h-1zM637 410h1v0h-1z" fill="#ffffff"/>
<path d="M639.5 419.5L639.5 414.5L637.5 417.5L639.5 417.5 M641.5 414.5L641.5 419.5M642.5 414.5L642.5 419.5M641.5 416.5L643.5 416.5M641.5 417.5L643.5 417.5 " stroke="#00ffff" fill="none"/>
<path d="M630.5 421.5L632.5 421.5L631.5 422.5L631.5 422.5L632.5 423.5L632.5 424.5L631.5 425.5L630.5 425.5L630.5 424.5 M634.5 424.5L634.5 424.5L634.5 425.5L634.5 425.5ZM636.5 422.5L637.5 421.5L637.5 425.5 M640.5 425.5L640.5 421.5L638.5 424.5L640.5 424.5 M641.5 425.5L641.5 422.5M641.5 423.5L642.5 422.5L642.5 423.5L642.5 425.5M642.5 423.5L643.5 422.5L643.5 423.5L643.5 425.5 M644.5 421.5L645.5 421.5L645.5 421.5L645.5 421.5L645.5 421.5L644.5 423.5L645.5 423.5 " stroke="#00ffff" fill="none"/>
<path d="M705 407h3v1h-3zM704 411h4v1h-4zM704 409h3v1h-3zM705 407h1v5h-1zM707 409h1v3h-1zM704 410h1v2h-1zM710 411h4v1h-4zM710 409h3v1h-3zM711 407h1v5h-1zM713 409h1v3h-1zM713 409h1v1h-1z" fill="#ffffff"/>
<path d="M712.5 419.5L712.5 414.5L710.5 417.5L712.5 417.5 M714.5 414.5L714.5 419.5M715.5 414.5L715.5 419.5M714.5 416.5L716.5 416.5M714.5 417.5L716.5 417.5 " stroke="#00ffff" fill="none"/>
<path d="M703.5 421.5L705.5 421.5L704.5 422.5L704.5 422.5L705.5 423.5L705.5 424.5L704.5 425.5L703.5 425.5L703.5 424.5 M707.5 424.5L707.5 424.5L707.5 425.5L707.5 425.5ZM709.5 422.5L710.5 421.5L710.5 425.5 M713.5 425.5L713.5 421.5L711.5 424.5L713.5 424.5 M714.5 425.5L714.5 422.5M714.5 423.5L715.5 422.5L715.5 423.5L715.5 425.5M715.5 423.5L716.5 422.5L716.5 423.5L716.5 425.5 M717.5 421.5L718.5 421.5L718.5 421.5L718.5 421.5L718.5 421.5L717.5 423.5L718.5 423.5 " stroke="#00ffff" fill="none"/>
<path d="M777 407h3v1h-3zM776 411h4v1h-4zM777 409h2v1h-2zM778 407h1v5h-1zM779 409h1v3h-1zM782 407h4v1h-4zM782 411h4v1h-4zM783 409h3v1h-3zM784 407h1v5h-1zM782 408h1v4h-1zM784 408h1v3h-1z" fill="#ffffff"/>
<path d="M784.5 419.5L784.5 414.5L782.5 417.5L784.5 417.5 M786.5 414.5L786.5 419.5M787.5 414.5L787.5 419.5M786.5 416.5L788.5 416.5M786.5 417.5L788.5 417.5 " stroke="#00ffff" fill="none"/>
<path d="M775.5 421.5L777.5 421.5L776.5 422.5L776.5 422.5L777.5 423.5L777.5 424.5L776.5 425.5L775.5 425.5L775.5 424.5 M779.5 424.5L779.5 424.5L779.5 425.5L779.5 425.5ZM781.5 422.5L782.5 421.5L782.5 425.5 M785.5 425.5L785.5 421.5L783.5 424.5L785.5 424.5 M786.5 425.5L786.5 422.5M786.5 423.5L787.5 422.5L787.5 423.5L787.5 425.5M787.5 423.5L788.5 422.5L788.5 423.5L788.5 425.5 M789.5 421.5L790.5 421.5L790.5 421.5L790.5 421.5L790.5 421.5L789.5 423.5L790.5 423.5 " stroke="#00ffff" fill="none"/>
<path d="M851 407h3v1h-3zM850 411h4v1h-4zM851 409h2v1h-2zM852 407h1v5h-1zM853 409h1v3h-1zM850 408h1v3h-1zM856 407h3v1h-3zM855 411h4v1h-4zM856 409h2v1h-2zM856 407h1v5h-1zM855 408h1v4h-1zM856 408h1v2h-1z" fill="#ffffff"/>
<path d="M857.5 419.5L857.5 414.5L855.5 417.5L857.5 417.5 M859.5 414.5L859.5 419.5M860.5 414.5L860.5 419.5M859.5 416.5L861.5 416.5M859.5 417.5L861.5 417.5 " stroke="#00ffff" fill="none"/>
<path d="M848.5 421.5L850.5 421.5L849.5 422.5L849.5 422.5L850.5 423.5L850.5 424.5L849.5 425.5L848.5 425.5L848.5 424.5 M852.5 424.5L852.5 424.5L852.5 425.5L852.5 425.5ZM854.5 422.5L855.5 421.5L855.5 425.5 M858.5 425.5L858.5 421.5L856.5 424.5L858.5 424.5 M859.5 425.5L859.5 422.5M859.5 423.5L860.5 422.5L860.5 423.5L860.5 425.5M860.5 423.5L861.5 422.5L861.5 423.5L861.5 425.5 M862.5 421.5L863.5 421.5L863.5 421.5L863.5 421.5L863.5 421.5L862.5 423.5L863.5 423.5 " stroke="#00ffff" fill="none"/>
<path d="M923 407h3v1h-3zM922 411h4v1h-4zM922 409h3v1h-3zM923 407h1v5h-1zM922 407h1v5h-1zM925 408h1v2h-1zM929 407h3v1h-3zM928 411h4v1h-4zM929 409h3v1h-3zM930 407h1v5h-1zM928 408h1v4h-1z" fill="#ffffff"/>
<path d="M930.5 419.5L930.5 414.5L928.5 417.5L930.5 417.5 M932.5 414.5L932.5 419.5M933.5 414.5L933.5 419.5M932.5 416.5L934.5 416.5M932.5 417.5L934.5 417.5 " stroke="#00ffff" fill="none"/>
<path d="M921.5 421.5L923.5 421.5L922.5 422.5L922.5 422.5L923.5 423.5L923.5 424.5L922.5 425.5L921.5 425.5L921.5 424.5 M925.5 424.5L925.5 424.5L925.5 425.5L925.5 425.5ZM927.5 422.5L928.5 421.5L928.5 425.5 M931.5 425.5L931.5 421.5L929.5 424.5L931.5 424.5 M932.5 425.5L932.5 422.5M932.5 423.5L933.5 422.5L933.5 423.5L933.5 425.5M933.5 423.5L934.5 422.5L934.5 423.5L934.5 425.5 M935.5 421.5L936.5 421.5L936.5 421.5L936.5 421.5L936.5 421.5L935.5 423.5L936.5 423.5 " stroke="#00ffff" fill="none"/>
<path d="M994 407h4v1h-4zM994 411h4v1h-4zM994 409h4v1h-4zM995 407h1v5h-1zM994 409h1v3h-1zM996 410h1v1h-1zM1000 407h4v1h-4zM1000 411h4v1h-4zM1000 409h3v1h-3zM1002 407h1v5h-1zM1000 408h1v4h-1zM1003 410h1v1h-1z" fill="#ffffff"/>
<path d="M1002.5 419.5L1002.5 414.5L1000.5 417.5L1002.5 417.5 M1004.5 414.5L1004.5 419.5M1005.5 414.5L1005.5 419.5M1004.5 416.5L1006.5 416.5M1004.5 417.5L1006.5 417.5 " stroke="#00ffff" fill="none"/>
<path d="M993.5 421.5L995.5 421.5L994.5 422.5L994.5 422.5L995.5 423.5L995.5 424.5L994.5 425.5L993.5 425.5L993.5 424.5 M997.5 424.5L997.5 424.5L997.5 425.5L997.5 425.5ZM999.5 422.5L1000.5 421.5L1000.5 425.5 M1003.5 425.5L1003.5 421.5L1001.5 424.5L1003.5 424.5 M1004.5 425.5L1004.5 422.5M1004.5 423.5L1005.5 422.5L1005.5 423.5L1005.5 425.5M1005.5 423.5L1006.5 422.5L1006.5 423.5L1006.5 425.5 M1007.5 421.5L1008.5 421.5L1008.5 421.5L1008.5 421.5L1008.5 421.5L1007.5 423.5L1008.5 423.5 " stroke="#00ffff" fill="none"/>
<path d="M1069 407h3v1h-3zM1068 411h4v1h-4zM1068 409h3v1h-3zM1069 407h1v5h-1zM1068 407h1v5h-1zM1071 409h1v2h-1zM1074 407h3v1h-3zM1073 411h4v1h-4zM1073 409h3v1h-3zM1074 407h1v5h-1zM1073 407h1v5h-1zM1076 408h1v3h-1z" fill="#ffffff"/>
<path d="M1075.5 419.5L1075.5 414.5L1073.5 417.5L1075.5 417.5 M1077.5 414.5L1077.5 419.5M1078.5 414.5L1078.5 419.5M1077.5 416.5L1079.5 416.5M1077.5 417.5L1079.5 417.5 " stroke="#00ffff" fill="none"/>
<path d="M1066.5 421.5L1068.5 421.5L1067.5 422.5L1067.5 422.5L1068.5 423.5L1068.5 424.5L1067.5 425.5L1066.5 425.5L1066.5 424.5 M1070.5 424.5L1070.5 424.5L1070.5 425.5L1070.5 425.5ZM1072.5 422.5L1073.5 421.5L1073.5 425.5 M1076.5 425.5L1076.5 421.5L1074.5 424.5L1076.5 424.5 M1077.5 425.5L1077.5 422.5M1077.5 423.5L1078.5 422.5L1078.5 423.5L1078.5 425.5M1078.5 423.5L1079.5 422.5L1079.5 423.5L1079.5 425.5 M1080.5 421.5L1081.5 421.5L1081.5 421.5L1081.5 421.5L1081.5 421.5L1080.5 423.5L1081.5 423.5 " stroke="#00ffff" fill="none"/>
<circle cx="309" cy="116.5" r="1.8" stroke="#808080" fill="#808080"/>
<path d="M307.5 110.5L308.5 110.5L309.5 111.5L309.5 112.5L308.5 113.5L307.5 113.5L307.5 112.5L307.5 111.5Z" stroke="#bfff7f" fill="none"/>
<circle cx="453.5" cy="116.5" r="1.8" stroke="#808080" fill="#808080"/>
<path d="M452.5 110.5L453.5 110.5L453.5 111.5L453.5 112.5L453.5 113.5L452.5 113.5L452.5 112.5L452.5 111.5Z" stroke="#bfff7f" fill="none"/>
<circle cx="465" cy="116.5" r="1.8" stroke="#808080" fill="#808080"/>
<path d="M463.5 110.5L464.5 110.5L465.5 111.5L465.5 112.5L464.5 113.5L463.5 113.5L463.5 112.5L463.5 111.5Z" stroke="#bfff7f" fill="none"/>
<circle cx="585" cy="116.5" r="1.8" stroke="#808080" fill="#808080"/>
<path d="M583.5 110.5L584.5 110.5L585.5 111.5L585.5 112.5L584.5 113.5L583.5 113.5L583.5 112.5L583.5 111.5Z" stroke="#bfff7f" fill="none"/>
<circle cx="962.5" cy="116.5" r="1.8" stroke="#808080" fill="#808080"/>
<path d="M961.5 110.5L962.5 110.5L962.5 111.5L962.5 112.5L962.5 113.5L961.5 113.5L961.5 112.5L961.5 111.5Z" stroke="#bfff7f" fill="none"/>
<circle cx="1106" cy="116.5" r="1.8" stroke="#808080" fill="#808080"/>
<path d="M1104.5 110.5L1105.5 110.5L1106.5 111.5L1106.5 112.5L1105.5 113.5L1104.5 113.5L1104.5 112.5L1104.5 111.5Z" stroke="#bfff7f" fill="none"/>
<path d="M377.5 111.5L377.5 113.5L378.5 111.5M377.5 113.5L377.5 115.5 M379.5 112.5L379.5 111.5L380.5 111.5L380.5 112.5L380.5 112.5L379.5 115.5L380.5 115.5 " stroke="#00ffff" fill="none"/>
<path d="M392.5 111.5L392.5 113.5L393.5 111.5M392.5 113.5L392.5 115.5 M394.5 112.5L394.5 111.5L395.5 111.5L395.5 112.5L395.5 112.5L394.5 115.5L395.5 115.5 " stroke="#00ffff" fill="none"/>
<path d="M377.5 119.5L377.5 121.5L378.5 119.5M377.5 121.5L377.5 123.5 M379.5 120.5L379.5 119.5L380.5 119.5L380.5 120.5L380.5 121.5L379.5 123.5L380.5 123.5 " stroke="#00ffff" fill="none"/>
<path d="M392.5 119.5L392.5 121.5L393.5 119.5M392.5 121.5L392.5 123.5 M394.5 120.5L394.5 119.5L395.5 119.5L395.5 120.5L395.5 121.5L394.5 123.5L395.5 123.5 " stroke="#00ffff" fill="none"/>
<path d="M377.5 404.5L377.5 406.5L378.5 404.5M377.5 406.5L377.5 408.5 M379.5 405.5L379.5 404.5L380.5 404.5L380.5 405.5L380.5 405.5L379.5 408.5L380.5 408.5 " stroke="#00ffff" fill="none"/>
<path d="M392.5 404.5L392.5 406.5L393.5 404.5M392.5 406.5L392.5 408.5 M394.5 405.5L394.5 404.5L395.5 404.5L395.5 405.5L395.5 405.5L394.5 408.5L395.5 408.5 " stroke="#00ffff" fill="none"/>
<path d="M377.5 412.5L377.5 414.5L378.5 412.5M377.5 414.5L377.5 416.5 M379.5 413.5L379.5 412.5L380.5 412.5L380.5 413.5L380.5 413.5L379.5 416.5L380.5 416.5 " stroke="#00ffff" fill="none"/>
<path d="M392.5 412.5L392.5 414.5L393.5 412.5M392.5 414.5L392.5 416.5 M394.5 413.5L394.5 412.5L395.5 412.5L395.5 413.5L395.5 413.5L394.5 416.5L395.5 416.5 " stroke="#00ffff" fill="none"/>
<path d="M522.5 111.5L522.5 113.5L523.5 111.5M522.5 113.5L522.5 115.5 M524.5 112.5L524.5 111.5L525.5 111.5L525.5 112.5L525.5 112.5L524.5 115.5L525.5 115.5 " stroke="#00ffff" fill="none"/>
<path d="M537.5 111.5L537.5 113.5L538.5 111.5M537.5 113.5L537.5 115.5 M539.5 112.5L539.5 111.5L540.5 111.5L540.5 112.5L540.5 112.5L539.5 115.5L540.5 115.5 " stroke="#00ffff" fill="none"/>
<path d="M522.5 119.5L522.5 121.5L523.5 119.5M522.5 121.5L522.5 123.5 M524.5 120.5L524.5 119.5L525.5 119.5L525.5 120.5L525.5 121.5L524.5 123.5L525.5 123.5 " stroke="#00ffff" fill="none"/>
<path d="M537.5 119.5L537.5 121.5L538.5 119.5M537.5 121.5L537.5 123.5 M539.5 120.5L539.5 119.5L540.5 119.5L540.5 120.5L540.5 121.5L539.5 123.5L540.5 123.5 " stroke="#00ffff" fill="none"/>
<path d="M522.5 404.5L522.5 406.5L523.5 404.5M522.5 406.5L522.5 408.5 M524.5 405.5L524.5 404.5L525.5 404.5L525.5 405.5L525.5 405.5L524.5 408.5L525.5 408.5 " stroke="#00ffff" fill="none"/>
<path d="M537.5 404.5L537.5 406.5L538.5 404.5M537.5 406.5L537.5 408.5 M539.5 405.5L539.5 404.5L540.5 404.5L540.5 405.5L540.5 405.5L539.5 408.5L540.5 408.5 " stroke="#00ffff" fill="none"/>
<path d="M522.5 412.5L522.5 414.5L523.5 412.5M522.5 414.5L522.5 416.5 M524.5 413.5L524.5 412.5L525.5 412.5L525.5 413.5L525.5 413.5L524.5 416.5L525.5 416.5 " stroke="#00ffff" fill="none"/>
<path d="M537.5 412.5L537.5 414.5L538.5 412.5M537.5 414.5L537.5 416.5 M539.5 413.5L539.5 412.5L540.5 412.5L540.5 413.5L540.5 413.5L539.5 416.5L540.5 416.5 " stroke="#00ffff" fill="none"/>
<path d="M1031.5 111.5L1031.5 113.5L1032.5 111.5M1031.5 113.5L1031.5 115.5 M1033.5 112.5L1033.5 111.5L1034.5 111.5L1034.5 112.5L1034.5 112.5L1033.5 115.5L1034.5 115.5 " stroke="#00ffff" fill="none"/>
<path d="M1046.5 111.5L1046.5 113.5L1047.5 111.5M1046.5 113.5L1046.5 115.5 M1048.5 112.5L1048.5 111.5L1049.5 111.5L1049.5 112.5L1049.5 112.5L1048.5 115.5L1049.5 115.5 " stroke="#00ffff" fill="none"/>
<path d="M1031.5 119.5L1031.5 121.5L1032.5 119.5M1031.5 121.5L1031.5 123.5 M1033.5 120.5L1033.5 119.5L1034.5 119.5L1034.5 120.5L1034.5 121.5L1033.5 123.5L1034.5 123.5 " stroke="#00ffff" fill="none"/>
<path d="M1046.5 119.5L1046.5 121.5L1047.5 119.5M1046.5 121.5L1046.5 123.5 M1048.5 120.5L1048.5 119.5L1049.5 119.5L1049.5 120.5L1049.5 121.5L1048.5 123.5L1049.5 123.5 " stroke="#00ffff" fill="none"/>
<path d="M1031.5 404.5L1031.5 406.5L1032.5 404.5M1031.5 406.5L1031.5 408.5 M1033.5 405.5L1033.5 404.5L1034.5 404.5L1034.5 405.5L1034.5 405.5L1033.5 408.5L1034.5 408.5 " stroke="#00ffff" fill="none"/>
<path d="M1046.5 404.5L1046.5 406.5L1047.5 404.5M1046.5 406.5L1046.5 408.5 M1048.5 405.5L1048.5 404.5L1049.5 404.5L1049.5 405.5L1049.5 405.5L1048.5 408.5L1049.5 408.5 " stroke="#00ffff" fill="none"/>
<path d="M1031.5 412.5L1031.5 414.5L1032.5 412.5M1031.5 414.5L1031.5 416.5 M1033.5 413.5L1033.5 412.5L1034.5 412.5L1034.5 413.5L1034.5 413.5L1033.5 416.5L1034.5 416.5 " stroke="#00ffff" fill="none"/>
<path d="M1046.5 412.5L1046.5 414.5L1047.5 412.5M1046.5 414.5L1046.5 416.5 M1048.5 413.5L1048.5 412.5L1049.5 412.5L1049.5 413.5L1049.5 413.5L1048.5 416.5L1049.5 416.5 " stroke="#00ffff" fill="none"/>
<path d="M371.5 92.5L372.5 91.5L373.5 91.5L373.5 92.5L373.5 93.5L371.5 97.5L373.5 97.5 M377.5 91.5L374.5 91.5L374.5 94.5L376.5 94.5L377.5 94.5L377.5 96.5L376.5 97.5L374.5 97.5 M378.5 91.5L379.5 91.5L380.5 92.5L380.5 96.5L379.5 97.5L378.5 97.5L378.5 96.5L378.5 92.5Z" stroke="#ffffff" fill="none"/>
<path d="M391.5 92.5L392.5 91.5L393.5 91.5L393.5 92.5L393.5 93.5L391.5 97.5L393.5 97.5 M397.5 91.5L394.5 91.5L394.5 94.5L396.5 94.5L397.5 94.5L397.5 96.5L396.5 97.5L394.5 97.5 M398.5 91.5L399.5 91.5L400.5 92.5L400.5 96.5L399.5 97.5L398.5 97.5L398.5 96.5L398.5 92.5Z" stroke="#ffffff" fill="none"/>
<path d="M371.5 132.5L372.5 131.5L373.5 131.5L373.5 132.5L373.5 133.5L371.5 137.5L373.5 137.5 M377.5 131.5L374.5 131.5L374.5 134.5L376.5 134.5L377.5 134.5L377.5 136.5L376.5 137.5L374.5 137.5 M378.5 131.5L379.5 131.5L380.5 132.5L380.5 136.5L379.5 137.5L378.5 137.5L378.5 136.5L378.5 132.5Z" stroke="#ffffff" fill="none"/>
<path d="M391.5 132.5L392.5 131.5L393.5 131.5L393.5 132.5L393.5 133.5L391.5 137.5L393.5 137.5 M397.5 131.5L394.5 131.5L394.5 134.5L396.5 134.5L397.5 134.5L397.5 136.5L396.5 137.5L394.5 137.5 M398.5 131.5L399.5 131.5L400.5 132.5L400.5 136.5L399.5 137.5L398.5 137.5L398.5 136.5L398.5 132.5Z" stroke="#ffffff" fill="none"/>
<path d="M516.5 92.5L517.5 91.5L518.5 91.5L518.5 92.5L518.5 93.5L516.5 97.5L518.5 97.5 M522.5 91.5L519.5 91.5L519.5 94.5L521.5 94.5L522.5 94.5L522.5 96.5L521.5 97.5L519.5 97.5 M523.5 91.5L524.5 91.5L525.5 92.5L525.5 96.5L524.5 97.5L523.5 97.5L523.5 96.5L523.5 92.5Z" stroke="#ffffff" fill="none"/>
<path d="M536.5 92.5L537.5 91.5L538.5 91.5L538.5 92.5L538.5 93.5L536.5 97.5L538.5 97.5 M542.5 91.5L539.5 91.5L539.5 94.5L541.5 94.5L542.5 94.5L542.5 96.5L541.5 97.5L539.5 97.5 M543.5 91.5L544.5 91.5L545.5 92.5L545.5 96.5L544.5 97.5L543.5 97.5L543.5 96.5L543.5 92.5Z" stroke="#ffffff" fill="none"/>
<path d="M516.5 132.5L517.5 131.5L518.5 131.5L518.5 132.5L518.5 133.5L516.5 137.5L518.5 137.5 M522.5 131.5L519.5 131.5L519.5 134.5L521.5 134.5L522.5 134.5L522.5 136.5L521.5 137.5L519.5 137.5 M523.5 131.5L524.5 131.5L525.5 132.5L525.5 136.5L524.5 137.5L523.5 137.5L523.5 136.5L523.5 132.5Z" stroke="#ffffff" fill="none"/>
<path d="M536.5 132.5L537.5 131.5L538.5 131.5L538.5 132.5L538.5 133.5L536.5 137.5L538.5 137.5 M542.5 131.5L539.5 131.5L539.5 134.5L541.5 134.5L542.5 134.5L542.5 136.5L541.5 137.5L539.5 137.5 M543.5 131.5L544.5 131.5L545.5 132.5L545.5 136.5L544.5 137.5L543.5 137.5L543.5 136.5L543.5 132.5Z" stroke="#ffffff" fill="none"/>
<path d="M1025.5 92.5L1026.5 91.5L1027.5 91.5L1027.5 92.5L1027.5 93.5L1025.5 97.5L1027.5 97.5 M1031.5 91.5L1028.5 91.5L1028.5 94.5L1030.5 94.5L1031.5 94.5L1031.5 96.5L1030.5 97.5L1028.5 97.5 M1032.5 91.5L1033.5 91.5L1034.5 92.5L1034.5 96.5L1033.5 97.5L1032.5 97.5L1032.5 96.5L1032.5 92.5Z" stroke="#ffffff" fill="none"/>
<path d="M1045.5 92.5L1046.5 91.5L1047.5 91.5L1047.5 92.5L1047.5 93.5L1045.5 97.5L1047.5 97.5 M1051.5 91.5L1048.5 91.5L1048.5 94.5L1050.5 94.5L1051.5 94.5L1051.5 96.5L1050.5 97.5L1048.5 97.5 M1052.5 91.5L1053.5 91.5L1054.5 92.5L1054.5 96.5L1053.5 97.5L1052.5 97.5L1052.5 96.5L1052.5 92.5Z" stroke="#ffffff" fill="none"/>
<path d="M1025.5 132.5L1026.5 131.5L1027.5 131.5L1027.5 132.5L1027.5 133.5L1025.5 137.5L1027.5 137.5 M1031.5 131.5L1028.5 131.5L1028.5 134.5L1030.5 134.5L1031.5 134.5L1031.5 136.5L1030.5 137.5L1028.5 137.5 M1032.5 131.5L1033.5 131.5L1034.5 132.5L1034.5 136.5L1033.5 137.5L1032.5 137.5L1032.5 136.5L1032.5 132.5Z" stroke="#ffffff" fill="none"/>
<path d="M1045.5 132.5L1046.5 131.5L1047.5 131.5L1047.5 132.5L1047.5 133.5L1045.5 137.5L1047.5 137.5 M1051.5 131.5L1048.5 131.5L1048.5 134.5L1050.5 134.5L1051.5 134.5L1051.5 136.5L1050.5 137.5L1048.5 137.5 M1052.5 131.5L1053.5 131.5L1054.5 132.5L1054.5 136.5L1053.5 137.5L1052.5 137.5L1052.5 136.5L1052.5 132.5Z" stroke="#ffffff" fill="none"/>
<path d="M297.5 432.5L298.5 431.5L299.5 431.5L299.5 432.5L299.5 433.5L297.5 437.5L299.5 437.5 M303.5 431.5L300.5 431.5L300.5 434.5L302.5 434.5L303.5 434.5L303.5 436.5L302.5 437.5L300.5 437.5 M304.5 431.5L305.5 431.5L306.5 432.5L306.5 436.5L305.5 437.5L304.5 437.5L304.5 436.5L304.5 432.5Z" stroke="#ffffff" fill="none"/>
<path d="M370.5 432.5L371.5 431.5L372.5 431.5L372.5 432.5L372.5 433.5L370.5 437.5L372.5 437.5 M376.5 431.5L373.5 431.5L373.5 434.5L375.5 434.5L376.5 434.5L376.5 436.5L375.5 437.5L373.5 437.5 M377.5 431.5L378.5 431.5L379.5 432.5L379.5 436.5L378.5 437.5L377.5 437.5L377.5 436.5L377.5 432.5Z" stroke="#ffffff" fill="none"/>
<path d="M392.5 432.5L393.5 431.5L394.5 431.5L394.5 432.5L394.5 433.5L392.5 437.5L394.5 437.5 M398.5 431.5L395.5 431.5L395.5 434.5L397.5 434.5L398.5 434.5L398.5 436.5L397.5 437.5L395.5 437.5 M399.5 431.5L400.5 431.5L401.5 432.5L401.5 436.5L400.5 437.5L399.5 437.5L399.5 436.5L399.5 432.5Z" stroke="#ffffff" fill="none"/>
<path d="M515.5 432.5L516.5 431.5L517.5 431.5L517.5 432.5L517.5 433.5L515.5 437.5L517.5 437.5 M521.5 431.5L518.5 431.5L518.5 434.5L520.5 434.5L521.5 434.5L521.5 436.5L520.5 437.5L518.5 437.5 M522.5 431.5L523.5 431.5L524.5 432.5L524.5 436.5L523.5 437.5L522.5 437.5L522.5 436.5L522.5 432.5Z" stroke="#ffffff" fill="none"/>
<path d="M537.5 432.5L538.5 431.5L539.5 431.5L539.5 432.5L539.5 433.5L537.5 437.5L539.5 437.5 M543.5 431.5L540.5 431.5L540.5 434.5L542.5 434.5L543.5 434.5L543.5 436.5L542.5 437.5L540.5 437.5 M544.5 431.5L545.5 431.5L546.5 432.5L546.5 436.5L545.5 437.5L544.5 437.5L544.5 436.5L544.5 432.5Z" stroke="#ffffff" fill="none"/>
<path d="M660.5 432.5L661.5 431.5L662.5 431.5L662.5 432.5L662.5 433.5L660.5 437.5L662.5 437.5 M666.5 431.5L663.5 431.5L663.5 434.5L665.5 434.5L666.5 434.5L666.5 436.5L665.5 437.5L663.5 437.5 M667.5 431.5L668.5 431.5L669.5 432.5L669.5 436.5L668.5 437.5L667.5 437.5L667.5 436.5L667.5 432.5Z" stroke="#ffffff" fill="none"/>
<path d="M681.5 432.5L682.5 431.5L683.5 431.5L683.5 432.5L683.5 433.5L681.5 437.5L683.5 437.5 M687.5 431.5L684.5 431.5L684.5 434.5L686.5 434.5L687.5 434.5L687.5 436.5L686.5 437.5L684.5 437.5 M688.5 431.5L689.5 431.5L690.5 432.5L690.5 436.5L689.5 437.5L688.5 437.5L688.5 436.5L688.5 432.5Z" stroke="#ffffff" fill="none"/>
<path d="M806.5 432.5L807.5 431.5L808.5 431.5L808.5 432.5L808.5 433.5L806.5 437.5L808.5 437.5 M812.5 431.5L809.5 431.5L809.5 434.5L811.5 434.5L812.5 434.5L812.5 436.5L811.5 437.5L809.5 437.5 M813.5 431.5L814.5 431.5L815.5 432.5L815.5 436.5L814.5 437.5L813.5 437.5L813.5 436.5L813.5 432.5Z" stroke="#ffffff" fill="none"/>
<path d="M828.5 432.5L829.5 431.5L830.5 431.5L830.5 432.5L830.5 433.5L828.5 437.5L830.5 437.5 M834.5 431.5L831.5 431.5L831.5 434.5L833.5 434.5L834.5 434.5L834.5 436.5L833.5 437.5L831.5 437.5 M835.5 431.5L836.5 431.5L837.5 432.5L837.5 436.5L836.5 437.5L835.5 437.5L835.5 436.5L835.5 432.5Z" stroke="#ffffff" fill="none"/>
<path d="M950.5 432.5L951.5 431.5L952.5 431.5L952.5 432.5L952.5 433.5L950.5 437.5L952.5 437.5 M956.5 431.5L953.5 431.5L953.5 434.5L955.5 434.5L956.5 434.5L956.5 436.5L955.5 437.5L953.5 437.5 M957.5 431.5L958.5 431.5L959.5 432.5L959.5 436.5L958.5 437.5L957.5 437.5L957.5 436.5L957.5 432.5Z" stroke="#ffffff" fill="none"/>
<path d="M1023.5 432.5L1024.5 431.5L1025.5 431.5L1025.5 432.5L1025.5 433.5L1023.5 437.5L1025.5 437.5 M1029.5 431.5L1026.5 431.5L1026.5 434.5L1028.5 434.5L1029.5 434.5L1029.5 436.5L1028.5 437.5L1026.5 437.5 M1030.5 431.5L1031.5 431.5L1032.5 432.5L1032.5 436.5L1031.5 437.5L1030.5 437.5L1030.5 436.5L1030.5 432.5Z" stroke="#ffffff" fill="none"/>
<path d="M1045.5 432.5L1046.5 431.5L1047.5 431.5L1047.5 432.5L1047.5 433.5L1045.5 437.5L1047.5 437.5 M1051.5 431.5L1048.5 431.5L1048.5 434.5L1050.5 434.5L1051.5 434.5L1051.5 436.5L1050.5 437.5L1048.5 437.5 M1052.5 431.5L1053.5 431.5L1054.5 432.5L1054.5 436.5L1053.5 437.5L1052.5 437.5L1052.5 436.5L1052.5 432.5Z" stroke="#ffffff" fill="none"/>
<path d="M371.5 386.5L372.5 385.5L373.5 385.5L373.5 386.5L373.5 387.5L371.5 391.5L373.5 391.5 M377.5 385.5L374.5 385.5L374.5 388.5L376.5 388.5L377.5 388.5L377.5 390.5L376.5 391.5L374.5 391.5 M378.5 385.5L379.5 385.5L380.5 386.5L380.5 390.5L379.5 391.5L378.5 391.5L378.5 390.5L378.5 386.5Z" stroke="#ffffff" fill="none"/>
<path d="M391.5 386.5L392.5 385.5L393.5 385.5L393.5 386.5L393.5 387.5L391.5 391.5L393.5 391.5 M397.5 385.5L394.5 385.5L394.5 388.5L396.5 388.5L397.5 388.5L397.5 390.5L396.5 391.5L394.5 391.5 M398.5 385.5L399.5 385.5L400.5 386.5L400.5 390.5L399.5 391.5L398.5 391.5L398.5 390.5L398.5 386.5Z" stroke="#ffffff" fill="none"/>
<path d="M516.5 386.5L517.5 385.5L518.5 385.5L518.5 386.5L518.5 387.5L516.5 391.5L518.5 391.5 M522.5 385.5L519.5 385.5L519.5 388.5L521.5 388.5L522.5 388.5L522.5 390.5L521.5 391.5L519.5 391.5 M523.5 385.5L524.5 385.5L525.5 386.5L525.5 390.5L524.5 391.5L523.5 391.5L523.5 390.5L523.5 386.5Z" stroke="#ffffff" fill="none"/>
<path d="M536.5 386.5L537.5 385.5L538.5 385.5L538.5 386.5L538.5 387.5L536.5 391.5L538.5 391.5 M542.5 385.5L539.5 385.5L539.5 388.5L541.5 388.5L542.5 388.5L542.5 390.5L541.5 391.5L539.5 391.5 M543.5 385.5L544.5 385.5L545.5 386.5L545.5 390.5L544.5 391.5L543.5 391.5L543.5 390.5L543.5 386.5Z" stroke="#ffffff" fill="none"/>
<path d="M662.5 386.5L663.5 385.5L664.5 385.5L664.5 386.5L664.5 387.5L662.5 391.5L664.5 391.5 M668.5 385.5L665.5 385.5L665.5 388.5L667.5 388.5L668.5 388.5L668.5 390.5L667.5 391.5L665.5 391.5 M669.5 385.5L670.5 385.5L671.5 386.5L671.5 390.5L670.5 391.5L669.5 391.5L669.5 390.5L669.5 386.5Z" stroke="#ffffff" fill="none"/>
<path d="M682.5 386.5L683.5 385.5L684.5 385.5L684.5 386.5L684.5 387.5L682.5 391.5L684.5 391.5 M688.5 385.5L685.5 385.5L685.5 388.5L687.5 388.5L688.5 388.5L688.5 390.5L687.5 391.5L685.5 391.5 M689.5 385.5L690.5 385.5L691.5 386.5L691.5 390.5L690.5 391.5L689.5 391.5L689.5 390.5L689.5 386.5Z" stroke="#ffffff" fill="none"/>
<path d="M807.5 386.5L808.5 385.5L809.5 385.5L809.5 386.5L809.5 387.5L807.5 391.5L809.5 391.5 M813.5 385.5L810.5 385.5L810.5 388.5L812.5 388.5L813.5 388.5L813.5 390.5L812.5 391.5L810.5 391.5 M814.5 385.5L815.5 385.5L816.5 386.5L816.5 390.5L815.5 391.5L814.5 391.5L814.5 390.5L814.5 386.5Z" stroke="#ffffff" fill="none"/>
<path d="M827.5 386.5L828.5 385.5L829.5 385.5L829.5 386.5L829.5 387.5L827.5 391.5L829.5 391.5 M833.5 385.5L830.5 385.5L830.5 388.5L832.5 388.5L833.5 388.5L833.5 390.5L832.5 391.5L830.5 391.5 M834.5 385.5L835.5 385.5L836.5 386.5L836.5 390.5L835.5 391.5L834.5 391.5L834.5 390.5L834.5 386.5Z" stroke="#ffffff" fill="none"/>
<path d="M1025.5 386.5L1026.5 385.5L1027.5 385.5L1027.5 386.5L1027.5 387.5L1025.5 391.5L1027.5 391.5 M1031.5 385.5L1028.5 385.5L1028.5 388.5L1030.5 388.5L1031.5 388.5L1031.5 390.5L1030.5 391.5L1028.5 391.5 M1032.5 385.5L1033.5 385.5L1034.5 386.5L1034.5 390.5L1033.5 391.5L1032.5 391.5L1032.5 390.5L1032.5 386.5Z" stroke="#ffffff" fill="none"/>
<path d="M1045.5 386.5L1046.5 385.5L1047.5 385.5L1047.5 386.5L1047.5 387.5L1045.5 391.5L1047.5 391.5 M1051.5 385.5L1048.5 385.5L1048.5 388.5L1050.5 388.5L1051.5 388.5L1051.5 390.5L1050.5 391.5L1048.5 391.5 M1052.5 385.5L1053.5 385.5L1054.5 386.5L1054.5 390.5L1053.5 391.5L1052.5 391.5L1052.5 390.5L1052.5 386.5Z" stroke="#ffffff" fill="none"/>
<line x1="243.5" y1="293" x2="243.5" y2="398" stroke="#00ffff" stroke-dasharray="1,2"/>
<line x1="245.5" y1="293" x2="245.5" y2="398" stroke="#808080" stroke-dasharray="1,2"/>
<line x1="1109.5" y1="132" x2="1109.5" y2="237" stroke="#00ffff" stroke-dasharray="1,2"/>
<line x1="1109.5" y1="293" x2="1109.5" y2="398" stroke="#00ffff" stroke-dasharray="1,2"/>
<line x1="1111.5" y1="132" x2="1111.5" y2="237" stroke="#808080" stroke-dasharray="1,2"/>
<line x1="1111.5" y1="293" x2="1111.5" y2="398" stroke="#808080" stroke-dasharray="1,2"/>
<line x1="245.5" y1="241" x2="245.5" y2="289" stroke="#ffff00" stroke-width="1.5"/>
<line x1="248.5" y1="241" x2="248.5" y2="289" stroke="#ffff00"/>
<rect x="240" y="254.5" width="9" height="4" stroke="#ffffff" fill="#ff00ff"/>
<rect x="240" y="271.5" width="9" height="4" stroke="#ffffff" fill="#ff00ff"/>
<line x1="232.5" y1="254.5" x2="240" y2="254.5" stroke="#00ffff"/>
<line x1="232.5" y1="258.5" x2="240" y2="258.5" stroke="#00ffff"/>
<line x1="232.5" y1="271.5" x2="240" y2="271.5" stroke="#00ffff"/>
<line x1="232.5" y1="275.5" x2="240" y2="275.5" stroke="#00ffff"/>
<line x1="232.5" y1="233" x2="232.5" y2="320" stroke="#ffbf7f" stroke-dasharray="4,2"/>
<line x1="1107.5" y1="241" x2="1107.5" y2="289" stroke="#ffff00" stroke-width="1.5"/>
<line x1="1110.5" y1="241" x2="1110.5" y2="289" stroke="#ffff00"/>
<rect x="1106" y="254.5" width="9" height="4" stroke="#ffffff" fill="#ff00ff"/>
<rect x="1106" y="271.5" width="9" height="4" stroke="#ffffff" fill="#ff00ff"/>
<line x1="1121.5" y1="254.5" x2="1114" y2="254.5" stroke="#00ffff"/>
<line x1="1121.5" y1="258.5" x2="1114" y2="258.5" stroke="#00ffff"/>
<line x1="1121.5" y1="271.5" x2="1114" y2="271.5" stroke="#00ffff"/>
<line x1="1121.5" y1="275.5" x2="1114" y2="275.5" stroke="#00ffff"/>
<line x1="1121.5" y1="233" x2="1121.5" y2="320" stroke="#ffbf7f" stroke-dasharray="4,2"/>
<path d="M223.5 277.5L223.5 271.5L221.5 275.5L223.5 275.5 M225.5 271.5L226.5 271.5L227.5 272.5L227.5 276.5L226.5 277.5L225.5 277.5L224.5 276.5L224.5 272.5ZM228.5 271.5L229.5 271.5L230.5 272.5L230.5 276.5L229.5 277.5L228.5 277.5L228.5 276.5L228.5 272.5Z" stroke="#ffffff" fill="none"/>
<path d="M231.5 309.5L232.5 307.5L232.5 313.5 M235.5 307.5L236.5 307.5L237.5 308.5L237.5 312.5L236.5 313.5L235.5 313.5L234.5 312.5L234.5 308.5ZM238.5 307.5L239.5 307.5L240.5 308.5L240.5 312.5L239.5 313.5L238.5 313.5L238.5 312.5L238.5 308.5Z" stroke="#ffffff" fill="none"/>
<path d="M1125.5 277.5L1125.5 271.5L1123.5 275.5L1125.5 275.5 M1127.5 271.5L1128.5 271.5L1129.5 272.5L1129.5 276.5L1128.5 277.5L1127.5 277.5L1126.5 276.5L1126.5 272.5ZM1130.5 271.5L1131.5 271.5L1132.5 272.5L1132.5 276.5L1131.5 277.5L1130.5 277.5L1130.5 276.5L1130.5 272.5Z" stroke="#ffffff" fill="none"/>
<path d="M1119.5 313.5L1120.5 312.5L1121.5 312.5L1121.5 313.5L1121.5 314.5L1119.5 318.5L1121.5 318.5 M1123.5 312.5L1124.5 312.5L1125.5 313.5L1125.5 317.5L1124.5 318.5L1123.5 318.5L1122.5 317.5L1122.5 313.5ZM1126.5 312.5L1127.5 312.5L1128.5 313.5L1128.5 317.5L1127.5 318.5L1126.5 318.5L1126.5 317.5L1126.5 313.5Z" stroke="#ffffff" fill="none"/>
<path d="M257.5 258.5L256.5 257.5L255.5 257.5L255.5 258.5L255.5 261.5L255.5 262.5L256.5 262.5L257.5 261.5 M258.5 257.5L259.5 257.5L260.5 258.5L260.5 261.5L259.5 262.5L258.5 262.5L258.5 261.5L258.5 258.5ZM262.5 260.5L261.5 260.5L261.5 259.5L261.5 258.5L261.5 257.5L262.5 257.5L262.5 258.5L262.5 261.5L262.5 262.5L261.5 262.5 M263.5 258.5L264.5 257.5L265.5 257.5L265.5 258.5L265.5 259.5L263.5 262.5L265.5 262.5 M268.5 262.5L268.5 257.5L266.5 260.5L268.5 260.5 " stroke="#ff0000" fill="none" transform="rotate(90 262 262)"/>
<path d="M266.5 268.5L265.5 267.5L264.5 267.5L264.5 268.5L264.5 271.5L264.5 272.5L265.5 272.5L266.5 271.5 M267.5 268.5L268.5 267.5L268.5 272.5 M270.5 268.5L270.5 267.5L271.5 267.5L271.5 268.5L271.5 269.5L270.5 272.5L271.5 272.5 M272.5 268.5L273.5 267.5L274.5 267.5L274.5 268.5L274.5 269.5L272.5 272.5L274.5 272.5 M277.5 272.5L277.5 267.5L275.5 270.5L277.5 270.5 " stroke="#ff0000" fill="none" transform="rotate(90 271 272)"/>
<path d="M1085.5 258.5L1084.5 257.5L1083.5 257.5L1083.5 258.5L1083.5 261.5L1083.5 262.5L1084.5 262.5L1085.5 261.5 M1086.5 257.5L1087.5 257.5L1088.5 258.5L1088.5 261.5L1087.5 262.5L1086.5 262.5L1086.5 261.5L1086.5 258.5ZM1090.5 260.5L1089.5 260.5L1089.5 259.5L1089.5 258.5L1089.5 257.5L1090.5 257.5L1090.5 258.5L1090.5 261.5L1090.5 262.5L1089.5 262.5 M1091.5 258.5L1092.5 257.5L1093.5 257.5L1093.5 258.5L1093.5 259.5L1091.5 262.5L1093.5 262.5 M1096.5 262.5L1096.5 257.5L1094.5 260.5L1096.5 260.5 " stroke="#ff0000" fill="none" transform="rotate(90 1090 262)"/>
<path d="M1095.5 258.5L1094.5 257.5L1093.5 257.5L1093.5 258.5L1093.5 261.5L1093.5 262.5L1094.5 262.5L1095.5 261.5 M1096.5 258.5L1097.5 257.5L1097.5 262.5 M1099.5 258.5L1099.5 257.5L1100.5 257.5L1100.5 258.5L1100.5 259.5L1099.5 262.5L1100.5 262.5 M1101.5 258.5L1102.5 257.5L1103.5 257.5L1103.5 258.5L1103.5 259.5L1101.5 262.5L1103.5 262.5 M1106.5 262.5L1106.5 257.5L1104.5 260.5L1106.5 260.5 " stroke="#ff0000" fill="none" transform="rotate(90 1100 262)"/>
<path d="M77.5 223.5L79.5 223.5L78.5 225.5L78.5 225.5L79.5 226.5L79.5 227.5L78.5 228.5L77.5 228.5L77.5 227.5 M80.5 223.5L81.5 223.5L81.5 224.5L81.5 227.5L81.5 228.5L80.5 228.5L80.5 227.5L80.5 224.5ZM83.5 223.5L84.5 223.5L84.5 224.5L84.5 227.5L84.5 228.5L83.5 228.5L82.5 227.5L82.5 224.5Z" stroke="#ffffff" fill="none" transform="rotate(-90 81 228)"/>
<path d="M77.5 240.5L78.5 239.5L78.5 244.5 M80.5 239.5L81.5 239.5L81.5 240.5L81.5 243.5L81.5 244.5L80.5 244.5L80.5 243.5L80.5 240.5ZM83.5 239.5L84.5 239.5L84.5 240.5L84.5 243.5L84.5 244.5L83.5 244.5L82.5 243.5L82.5 240.5Z" stroke="#ffffff" fill="none" transform="rotate(-90 81 244)"/>
<path d="M78.5 245.5L77.5 245.5L77.5 246.5L77.5 249.5L77.5 250.5L78.5 250.5L79.5 249.5L79.5 248.5L78.5 247.5L77.5 247.5 M81.5 245.5L80.5 245.5L80.5 247.5L81.5 247.5L81.5 248.5L81.5 249.5L81.5 250.5L80.5 250.5 M83.5 245.5L84.5 245.5L84.5 246.5L84.5 249.5L84.5 250.5L83.5 250.5L82.5 249.5L82.5 246.5Z" stroke="#ffffff" fill="none" transform="rotate(-90 81 250)"/>
<path d="M77.5 258.5L77.5 257.5L78.5 257.5L79.5 258.5L79.5 259.5L77.5 262.5L79.5 262.5 M80.5 257.5L81.5 257.5L81.5 258.5L81.5 261.5L81.5 262.5L80.5 262.5L80.5 261.5L80.5 258.5ZM83.5 257.5L84.5 257.5L84.5 258.5L84.5 261.5L84.5 262.5L83.5 262.5L82.5 261.5L82.5 258.5Z" stroke="#ffffff" fill="none" transform="rotate(-90 81 262)"/>
<path d="M77.5 262.5L77.5 261.5L78.5 261.5L79.5 262.5L79.5 263.5L77.5 266.5L79.5 266.5 M80.5 261.5L81.5 261.5L81.5 262.5L81.5 265.5L81.5 266.5L80.5 266.5L80.5 265.5L80.5 262.5ZM83.5 261.5L84.5 261.5L84.5 262.5L84.5 265.5L84.5 266.5L83.5 266.5L82.5 265.5L82.5 262.5Z" stroke="#ffffff" fill="none" transform="rotate(-90 81 266)"/>
<path d="M77.5 276.5L77.5 275.5L78.5 275.5L79.5 276.5L79.5 277.5L77.5 280.5L79.5 280.5 M80.5 275.5L81.5 275.5L81.5 276.5L81.5 279.5L81.5 280.5L80.5 280.5L80.5 279.5L80.5 276.5ZM83.5 275.5L84.5 275.5L84.5 276.5L84.5 279.5L84.5 280.5L83.5 280.5L82.5 279.5L82.5 276.5Z" stroke="#ffffff" fill="none" transform="rotate(-90 81 280)"/>
<path d="M78.5 279.5L77.5 279.5L77.5 280.5L77.5 283.5L77.5 284.5L78.5 284.5L79.5 283.5L79.5 282.5L78.5 281.5L77.5 281.5 M81.5 279.5L80.5 279.5L80.5 281.5L81.5 281.5L81.5 282.5L81.5 283.5L81.5 284.5L80.5 284.5 M83.5 279.5L84.5 279.5L84.5 280.5L84.5 283.5L84.5 284.5L83.5 284.5L82.5 283.5L82.5 280.5Z" stroke="#ffffff" fill="none" transform="rotate(-90 81 284)"/>
<path d="M77.5 289.5L78.5 288.5L78.5 293.5 M80.5 288.5L81.5 288.5L81.5 289.5L81.5 292.5L81.5 293.5L80.5 293.5L80.5 292.5L80.5 289.5ZM83.5 288.5L84.5 288.5L84.5 289.5L84.5 292.5L84.5 293.5L83.5 293.5L82.5 292.5L82.5 289.5Z" stroke="#ffffff" fill="none" transform="rotate(-90 81 293)"/>
<path d="M77.5 300.5L79.5 300.5L78.5 302.5L78.5 302.5L79.5 303.5L79.5 304.5L78.5 305.5L77.5 305.5L77.5 304.5 M80.5 300.5L81.5 300.5L81.5 301.5L81.5 304.5L81.5 305.5L80.5 305.5L80.5 304.5L80.5 301.5ZM83.5 300.5L84.5 300.5L84.5 301.5L84.5 304.5L84.5 305.5L83.5 305.5L82.5 304.5L82.5 301.5Z" stroke="#ffffff" fill="none" transform="rotate(-90 81 305)"/>
<path d="M1281.5 223.5L1283.5 223.5L1282.5 225.5L1282.5 225.5L1283.5 226.5L1283.5 227.5L1282.5 228.5L1281.5 228.5L1281.5 227.5 M1284.5 223.5L1285.5 223.5L1285.5 224.5L1285.5 227.5L1285.5 228.5L1284.5 228.5L1284.5 227.5L1284.5 224.5ZM1287.5 223.5L1288.5 223.5L1288.5 224.5L1288.5 227.5L1288.5 228.5L1287.5 228.5L1286.5 227.5L1286.5 224.5Z" stroke="#ffffff" fill="none" transform="rotate(-90 1285 228)"/>
<path d="M1281.5 240.5L1282.5 239.5L1282.5 244.5 M1284.5 239.5L1285.5 239.5L1285.5 240.5L1285.5 243.5L1285.5 244.5L1284.5 244.5L1284.5 243.5L1284.5 240.5ZM1287.5 239.5L1288.5 239.5L1288.5 240.5L1288.5 243.5L1288.5 244.5L1287.5 244.5L1286.5 243.5L1286.5 240.5Z" stroke="#ffffff" fill="none" transform="rotate(-90 1285 244)"/>
<path d="M1282.5 245.5L1281.5 245.5L1281.5 246.5L1281.5 249.5L1281.5 250.5L1282.5 250.5L1283.5 249.5L1283.5 248.5L1282.5 247.5L1281.5 247.5 M1285.5 245.5L1284.5 245.5L1284.5 247.5L1285.5 247.5L1285.5 248.5L1285.5 249.5L1285.5 250.5L1284.5 250.5 M1287.5 245.5L1288.5 245.5L1288.5 246.5L1288.5 249.5L1288.5 250.5L1287.5 250.5L1286.5 249.5L1286.5 246.5Z" stroke="#ffffff" fill="none" transform="rotate(-90 1285 250)"/>
<path d="M1281.5 258.5L1281.5 257.5L1282.5 257.5L1283.5 258.5L1283.5 259.5L1281.5 262.5L1283.5 262.5 M1284.5 257.5L1285.5 257.5L1285.5 258.5L1285.5 261.5L1285.5 262.5L1284.5 262.5L1284.5 261.5L1284.5 258.5ZM1287.5 257.5L1288.5 257.5L1288.5 258.5L1288.5 261.5L1288.5 262.5L1287.5 262.5L1286.5 261.5L1286.5 258.5Z" stroke="#ffffff" fill="none" transform="rotate(-90 1285 262)"/>
<path d="M1281.5 262.5L1281.5 261.5L1282.5 261.5L1283.5 262.5L1283.5 263.5L1281.5 266.5L1283.5 266.5 M1284.5 261.5L1285.5 261.5L1285.5 262.5L1285.5 265.5L1285.5 266.5L1284.5 266.5L1284.5 265.5L1284.5 262.5ZM1287.5 261.5L1288.5 261.5L1288.5 262.5L1288.5 265.5L1288.5 266.5L1287.5 266.5L1286.5 265.5L1286.5 262.5Z" stroke="#ffffff" fill="none" transform="rotate(-90 1285 266)"/>
<path d="M1281.5 276.5L1281.5 275.5L1282.5 275.5L1283.5 276.5L1283.5 277.5L1281.5 280.5L1283.5 280.5 M1284.5 275.5L1285.5 275.5L1285.5 276.5L1285.5 279.5L1285.5 280.5L1284.5 280.5L1284.5 279.5L1284.5 276.5ZM1287.5 275.5L1288.5 275.5L1288.5 276.5L1288.5 279.5L1288.5 280.5L1287.5 280.5L1286.5 279.5L1286.5 276.5Z" stroke="#ffffff" fill="none" transform="rotate(-90 1285 280)"/>
<path d="M1282.5 279.5L1281.5 279.5L1281.5 280.5L1281.5 283.5L1281.5 284.5L1282.5 284.5L1283.5 283.5L1283.5 282.5L1282.5 281.5L1281.5 281.5 M1285.5 279.5L1284.5 279.5L1284.5 281.5L1285.5 281.5L1285.5 282.5L1285.5 283.5L1285.5 284.5L1284.5 284.5 M1287.5 279.5L1288.5 279.5L1288.5 280.5L1288.5 283.5L1288.5 284.5L1287.5 284.5L1286.5 283.5L1286.5 280.5Z" stroke="#ffffff" fill="none" transform="rotate(-90 1285 284)"/>
<path d="M1281.5 289.5L1282.5 288.5L1282.5 293.5 M1284.5 288.5L1285.5 288.5L1285.5 289.5L1285.5 292.5L1285.5 293.5L1284.5 293.5L1284.5 292.5L1284.5 289.5ZM1287.5 288.5L1288.5 288.5L1288.5 289.5L1288.5 292.5L1288.5 293.5L1287.5 293.5L1286.5 292.5L1286.5 289.5Z" stroke="#ffffff" fill="none" transform="rotate(-90 1285 293)"/>
<path d="M1281.5 300.5L1283.5 300.5L1282.5 302.5L1282.5 302.5L1283.5 303.5L1283.5 304.5L1282.5 305.5L1281.5 305.5L1281.5 304.5 M1284.5 300.5L1285.5 300.5L1285.5 301.5L1285.5 304.5L1285.5 305.5L1284.5 305.5L1284.5 304.5L1284.5 301.5ZM1287.5 300.5L1288.5 300.5L1288.5 301.5L1288.5 304.5L1288.5 305.5L1287.5 305.5L1286.5 304.5L1286.5 301.5Z" stroke="#ffffff" fill="none" transform="rotate(-90 1285 305)"/>
<line x1="226" y1="87.5" x2="239" y2="87.5" stroke="#ff7f7f"/>
<line x1="226" y1="104.5" x2="239" y2="104.5" stroke="#ff7f7f"/>
<line x1="231.5" y1="85" x2="231.5" y2="108" stroke="#ff7f7f"/>
<path d="M225.5 76.5L225.5 75.5L225.5 80.5 M228.5 75.5L229.5 75.5L230.5 76.5L230.5 79.5L229.5 80.5L228.5 80.5L227.5 79.5L227.5 76.5ZM231.5 75.5L232.5 75.5L233.5 76.5L233.5 79.5L232.5 80.5L231.5 80.5L231.5 79.5L231.5 76.5Z" stroke="#ffffff" fill="none" transform="rotate(-90 229 80)"/>
<path d="M224.5 93.5L225.5 92.5L226.5 92.5L226.5 93.5L226.5 93.5L224.5 97.5L226.5 97.5 M228.5 92.5L229.5 92.5L230.5 93.5L230.5 96.5L229.5 97.5L228.5 97.5L227.5 96.5L227.5 93.5ZM231.5 92.5L232.5 92.5L233.5 93.5L233.5 96.5L232.5 97.5L231.5 97.5L231.5 96.5L231.5 93.5Z" stroke="#ffffff" fill="none" transform="rotate(-90 229 97)"/>
<path d="M225.5 111.5L225.5 110.5L225.5 115.5 M228.5 110.5L229.5 110.5L230.5 111.5L230.5 114.5L229.5 115.5L228.5 115.5L227.5 114.5L227.5 111.5ZM231.5 110.5L232.5 110.5L233.5 111.5L233.5 114.5L232.5 115.5L231.5 115.5L231.5 114.5L231.5 111.5Z" stroke="#ffffff" fill="none" transform="rotate(-90 229 115)"/>
<line x1="236" y1="76.5" x2="258" y2="76.5" stroke="#ff7f7f"/>
<line x1="239.5" y1="72" x2="239.5" y2="84" stroke="#ff7f7f"/>
<line x1="241.5" y1="72" x2="241.5" y2="84" stroke="#ff7f7f"/>
<line x1="255.5" y1="72" x2="255.5" y2="84" stroke="#ff7f7f"/>
<line x1="257.5" y1="72" x2="257.5" y2="84" stroke="#ff7f7f"/>
<path d="M227.5 69.5L227.5 68.5L227.5 73.5 M230.5 68.5L231.5 68.5L232.5 69.5L232.5 72.5L231.5 73.5L230.5 73.5L229.5 72.5L229.5 69.5ZM233.5 68.5L234.5 68.5L235.5 69.5L235.5 72.5L234.5 73.5L233.5 73.5L233.5 72.5L233.5 69.5Z" stroke="#ffffff" fill="none"/>
<path d="M244.5 71.5L245.5 70.5L245.5 75.5 M247.5 70.5L249.5 70.5L249.5 71.5L249.5 74.5L249.5 75.5L247.5 75.5L247.5 74.5L247.5 71.5ZM251.5 70.5L252.5 70.5L252.5 71.5L252.5 74.5L252.5 75.5L251.5 75.5L250.5 74.5L250.5 71.5Z" stroke="#ffffff" fill="none"/>
<path d="M259.5 69.5L259.5 68.5L259.5 73.5 M262.5 68.5L263.5 68.5L264.5 69.5L264.5 72.5L263.5 73.5L262.5 73.5L261.5 72.5L261.5 69.5ZM265.5 68.5L266.5 68.5L267.5 69.5L267.5 72.5L266.5 73.5L265.5 73.5L265.5 72.5L265.5 69.5Z" stroke="#ffffff" fill="none"/>
<path d="M278.5 80.5L278.5 75.5L276.5 78.5L278.5 78.5 M282.5 75.5L279.5 75.5L279.5 77.5L281.5 77.5L282.5 78.5L282.5 79.5L281.5 80.5L279.5 80.5 M283.5 75.5L284.5 75.5L285.5 76.5L285.5 79.5L284.5 80.5L283.5 80.5L283.5 79.5L283.5 76.5Z" stroke="#ffffff" fill="none" transform="rotate(-90 281 80)"/>
<line x1="1116" y1="104.5" x2="1135" y2="104.5" stroke="#ff7f7f"/>
<line x1="1128.5" y1="87" x2="1128.5" y2="107" stroke="#ff7f7f"/>
<path d="M1121.5 93.5L1122.5 92.5L1123.5 92.5L1123.5 93.5L1123.5 93.5L1121.5 97.5L1123.5 97.5 M1125.5 92.5L1126.5 92.5L1127.5 93.5L1127.5 96.5L1126.5 97.5L1125.5 97.5L1124.5 96.5L1124.5 93.5ZM1128.5 92.5L1129.5 92.5L1130.5 93.5L1130.5 96.5L1129.5 97.5L1128.5 97.5L1128.5 96.5L1128.5 93.5Z" stroke="#ffffff" fill="none" transform="rotate(-90 1126 97)"/>
<path d="M1119.5 76.5L1119.5 75.5L1119.5 80.5 M1122.5 75.5L1123.5 75.5L1124.5 76.5L1124.5 79.5L1123.5 80.5L1122.5 80.5L1121.5 79.5L1121.5 76.5ZM1125.5 75.5L1126.5 75.5L1127.5 76.5L1127.5 79.5L1126.5 80.5L1125.5 80.5L1125.5 79.5L1125.5 76.5Z" stroke="#ffffff" fill="none" transform="rotate(-90 1123 80)"/>
<path d="M1122.5 111.5L1122.5 110.5L1122.5 115.5 M1125.5 110.5L1126.5 110.5L1127.5 111.5L1127.5 114.5L1126.5 115.5L1125.5 115.5L1124.5 114.5L1124.5 111.5ZM1128.5 110.5L1129.5 110.5L1130.5 111.5L1130.5 114.5L1129.5 115.5L1128.5 115.5L1128.5 114.5L1128.5 111.5Z" stroke="#ffffff" fill="none" transform="rotate(-90 1126 115)"/>
<line x1="1097" y1="76.5" x2="1116" y2="76.5" stroke="#ff7f7f"/>
<line x1="1097.5" y1="72" x2="1097.5" y2="84" stroke="#ff7f7f"/>
<line x1="1099.5" y1="72" x2="1099.5" y2="84" stroke="#ff7f7f"/>
<line x1="1113.5" y1="72" x2="1113.5" y2="84" stroke="#ff7f7f"/>
<line x1="1115.5" y1="72" x2="1115.5" y2="84" stroke="#ff7f7f"/>
<path d="M1088.5 69.5L1088.5 68.5L1088.5 73.5 M1091.5 68.5L1092.5 68.5L1093.5 69.5L1093.5 72.5L1092.5 73.5L1091.5 73.5L1090.5 72.5L1090.5 69.5ZM1094.5 68.5L1095.5 68.5L1096.5 69.5L1096.5 72.5L1095.5 73.5L1094.5 73.5L1094.5 72.5L1094.5 69.5Z" stroke="#ffffff" fill="none"/>
<path d="M1102.5 71.5L1102.5 70.5L1103.5 70.5L1104.5 71.5L1104.5 71.5L1102.5 75.5L1104.5 75.5 M1105.5 70.5L1107.5 70.5L1107.5 71.5L1107.5 74.5L1107.5 75.5L1105.5 75.5L1105.5 74.5L1105.5 71.5ZM1109.5 70.5L1110.5 70.5L1110.5 71.5L1110.5 74.5L1110.5 75.5L1109.5 75.5L1108.5 74.5L1108.5 71.5Z" stroke="#ffffff" fill="none"/>
<path d="M1118.5 69.5L1118.5 68.5L1118.5 73.5 M1121.5 68.5L1122.5 68.5L1123.5 69.5L1123.5 72.5L1122.5 73.5L1121.5 73.5L1120.5 72.5L1120.5 69.5ZM1124.5 68.5L1125.5 68.5L1126.5 69.5L1126.5 72.5L1125.5 73.5L1124.5 73.5L1124.5 72.5L1124.5 69.5Z" stroke="#ffffff" fill="none"/>
<path d="M1074.5 76.5L1074.5 75.5L1074.5 80.5 M1077.5 75.5L1078.5 75.5L1079.5 76.5L1079.5 79.5L1078.5 80.5L1077.5 80.5L1076.5 79.5L1076.5 76.5ZM1080.5 75.5L1081.5 75.5L1082.5 76.5L1082.5 79.5L1081.5 80.5L1080.5 80.5L1080.5 79.5L1080.5 76.5Z" stroke="#ffffff" fill="none" transform="rotate(-90 1078 80)"/>
<line x1="231.5" y1="424" x2="231.5" y2="444" stroke="#ff7f7f"/>
<line x1="225" y1="427.5" x2="238" y2="427.5" stroke="#ff7f7f"/>
<line x1="225" y1="441.5" x2="238" y2="441.5" stroke="#ff7f7f"/>
<path d="M224.5 416.5L224.5 415.5L224.5 420.5 M227.5 415.5L228.5 415.5L229.5 416.5L229.5 419.5L228.5 420.5L227.5 420.5L226.5 419.5L226.5 416.5ZM230.5 415.5L231.5 415.5L232.5 416.5L232.5 419.5L231.5 420.5L230.5 420.5L230.5 419.5L230.5 416.5Z" stroke="#ffffff" fill="none" transform="rotate(-90 228 420)"/>
<path d="M223.5 430.5L225.5 430.5L224.5 432.5L225.5 432.5L225.5 433.5L225.5 434.5L225.5 435.5L224.5 435.5L223.5 434.5 M227.5 430.5L228.5 430.5L229.5 431.5L229.5 431.5L228.5 432.5L227.5 432.5L226.5 431.5L226.5 431.5ZM227.5 432.5L226.5 433.5L226.5 434.5L227.5 435.5L228.5 435.5L229.5 434.5L229.5 433.5L228.5 432.5 M230.5 430.5L231.5 430.5L232.5 431.5L232.5 434.5L231.5 435.5L230.5 435.5L230.5 434.5L230.5 431.5Z" stroke="#ffffff" fill="none" transform="rotate(-90 228 435)"/>
<path d="M222.5 448.5L222.5 447.5L222.5 452.5 M225.5 447.5L226.5 447.5L227.5 448.5L227.5 451.5L226.5 452.5L225.5 452.5L224.5 451.5L224.5 448.5ZM228.5 447.5L229.5 447.5L230.5 448.5L230.5 451.5L229.5 452.5L228.5 452.5L228.5 451.5L228.5 448.5Z" stroke="#ffffff" fill="none" transform="rotate(-90 226 452)"/>
<line x1="240.5" y1="445" x2="240.5" y2="466" stroke="#ff7f7f"/>
<line x1="255.5" y1="445" x2="255.5" y2="466" stroke="#ff7f7f"/>
<line x1="257.5" y1="445" x2="257.5" y2="466" stroke="#ff7f7f"/>
<line x1="238" y1="459.5" x2="258" y2="459.5" stroke="#ff7f7f"/>
<path d="M228.5 452.5L228.5 451.5L228.5 456.5 M231.5 451.5L232.5 451.5L233.5 452.5L233.5 455.5L232.5 456.5L231.5 456.5L230.5 455.5L230.5 452.5ZM234.5 451.5L235.5 451.5L236.5 452.5L236.5 455.5L235.5 456.5L234.5 456.5L234.5 455.5L234.5 452.5Z" stroke="#ffffff" fill="none"/>
<path d="M243.5 453.5L244.5 452.5L245.5 452.5L245.5 453.5L245.5 453.5L243.5 457.5L245.5 457.5 M247.5 452.5L248.5 452.5L249.5 453.5L249.5 456.5L248.5 457.5L247.5 457.5L246.5 456.5L246.5 453.5ZM250.5 452.5L251.5 452.5L252.5 453.5L252.5 456.5L251.5 457.5L250.5 457.5L250.5 456.5L250.5 453.5Z" stroke="#ffffff" fill="none"/>
<path d="M259.5 452.5L259.5 451.5L259.5 456.5 M262.5 451.5L263.5 451.5L264.5 452.5L264.5 455.5L263.5 456.5L262.5 456.5L261.5 455.5L261.5 452.5ZM265.5 451.5L266.5 451.5L267.5 452.5L267.5 455.5L266.5 456.5L265.5 456.5L265.5 455.5L265.5 452.5Z" stroke="#ffffff" fill="none"/>
<path d="M241.5 432.5L241.5 431.5L241.5 436.5 M244.5 431.5L245.5 431.5L246.5 432.5L246.5 435.5L245.5 436.5L244.5 436.5L243.5 435.5L243.5 432.5ZM247.5 431.5L248.5 431.5L249.5 432.5L249.5 435.5L248.5 436.5L247.5 436.5L247.5 435.5L247.5 432.5Z" stroke="#ffffff" fill="none" transform="rotate(-90 245 436)"/>
<line x1="1096.8" y1="445" x2="1096.8" y2="466" stroke="#ff7f7f"/>
<line x1="1099.2" y1="445" x2="1099.2" y2="466" stroke="#ff7f7f"/>
<line x1="1115" y1="445" x2="1115" y2="466" stroke="#ff7f7f"/>
<line x1="1095" y1="459" x2="1117" y2="459" stroke="#ff7f7f"/>
<path d="M1089.5 452.5L1089.5 451.5L1089.5 456.5 M1092.5 451.5L1093.5 451.5L1094.5 452.5L1094.5 455.5L1093.5 456.5L1092.5 456.5L1091.5 455.5L1091.5 452.5ZM1095.5 451.5L1096.5 451.5L1097.5 452.5L1097.5 455.5L1096.5 456.5L1095.5 456.5L1095.5 455.5L1095.5 452.5Z" stroke="#ffffff" fill="none"/>
<path d="M1102.5 453.5L1103.5 452.5L1104.5 452.5L1104.5 453.5L1104.5 453.5L1102.5 457.5L1104.5 457.5 M1106.5 452.5L1107.5 452.5L1108.5 453.5L1108.5 456.5L1107.5 457.5L1106.5 457.5L1105.5 456.5L1105.5 453.5ZM1109.5 452.5L1110.5 452.5L1111.5 453.5L1111.5 456.5L1110.5 457.5L1109.5 457.5L1109.5 456.5L1109.5 453.5Z" stroke="#ffffff" fill="none"/>
<path d="M1117.5 452.5L1117.5 451.5L1117.5 456.5 M1120.5 451.5L1121.5 451.5L1122.5 452.5L1122.5 455.5L1121.5 456.5L1120.5 456.5L1119.5 455.5L1119.5 452.5ZM1123.5 451.5L1124.5 451.5L1125.5 452.5L1125.5 455.5L1124.5 456.5L1123.5 456.5L1123.5 455.5L1123.5 452.5Z" stroke="#ffffff" fill="none"/>
<line x1="1122.5" y1="424" x2="1122.5" y2="444" stroke="#ff7f7f"/>
<line x1="1117" y1="427.5" x2="1128" y2="427.5" stroke="#ff7f7f"/>
<line x1="1117" y1="441.5" x2="1128" y2="441.5" stroke="#ff7f7f"/>
<path d="M1120.5 430.5L1122.5 430.5L1121.5 432.5L1122.5 432.5L1122.5 433.5L1122.5 434.5L1122.5 435.5L1121.5 435.5L1120.5 434.5 M1124.5 430.5L1125.5 430.5L1126.5 431.5L1126.5 431.5L1125.5 432.5L1124.5 432.5L1123.5 431.5L1123.5 431.5ZM1124.5 432.5L1123.5 433.5L1123.5 434.5L1124.5 435.5L1125.5 435.5L1126.5 434.5L1126.5 433.5L1125.5 432.5 M1127.5 430.5L1128.5 430.5L1129.5 431.5L1129.5 434.5L1128.5 435.5L1127.5 435.5L1127.5 434.5L1127.5 431.5Z" stroke="#ffffff" fill="none" transform="rotate(-90 1125 435)"/>
<path d="M1082.5 431.5L1084.5 431.5L1083.5 433.5L1084.5 433.5L1084.5 434.5L1084.5 435.5L1084.5 436.5L1083.5 436.5L1082.5 435.5 M1086.5 431.5L1087.5 431.5L1088.5 432.5L1088.5 432.5L1087.5 433.5L1086.5 433.5L1085.5 432.5L1085.5 432.5ZM1086.5 433.5L1085.5 434.5L1085.5 435.5L1086.5 436.5L1087.5 436.5L1088.5 435.5L1088.5 434.5L1087.5 433.5 M1089.5 431.5L1090.5 431.5L1091.5 432.5L1091.5 435.5L1090.5 436.5L1089.5 436.5L1089.5 435.5L1089.5 432.5Z" stroke="#ffffff" fill="none" transform="rotate(-90 1087 436)"/>
<path d="M306 216h4v1h-4zM306 220h4v1h-4zM307 218h2v1h-2zM307 216h1v5h-1zM309 217h1v4h-1zM312 216h3v1h-3zM311 220h4v1h-4zM312 218h2v1h-2zM313 216h1v5h-1zM314 218h1v3h-1zM314 218h1v2h-1zM316 220h4v1h-4zM316 218h3v1h-3zM318 216h1v5h-1zM319 217h1v4h-1zM319 217h1v4h-1zM323 216h3v1h-3zM322 220h4v1h-4zM323 218h3v1h-3zM324 216h1v5h-1zM325 218h1v3h-1zM327 220h4v1h-4zM328 218h2v1h-2zM329 216h1v5h-1zM330 217h1v4h-1zM332 216h4v1h-4zM332 220h4v1h-4zM333 218h2v1h-2zM333 216h1v5h-1zM332 217h1v4h-1zM337 220h4v1h-4zM338 218h3v1h-3zM338 216h1v5h-1zM337 217h1v4h-1zM340 217h1v4h-1zM342 216h4v1h-4zM342 220h4v1h-4zM343 218h3v1h-3zM343 216h1v5h-1zM345 218h1v3h-1zM348 216h4v1h-4zM348 220h4v1h-4zM349 218h3v1h-3zM349 216h1v5h-1zM351 216h1v5h-1zM349 217h1v4h-1zM353 220h4v1h-4zM353 218h3v1h-3zM355 216h1v5h-1zM353 218h1v3h-1zM353 217h1v2h-1z" fill="#ffffff"/>
<path d="M274 239L299 226.6H369" stroke="#7098f8" fill="none"/>
<path d="M968 210h4v1h-4zM969 208h2v1h-2zM969 206h1v5h-1zM971 208h1v3h-1zM974 206h3v1h-3zM973 210h4v1h-4zM973 208h4v1h-4zM975 206h1v5h-1zM976 208h1v3h-1zM978 206h4v1h-4zM978 210h4v1h-4zM978 208h3v1h-3zM980 206h1v5h-1zM981 208h1v3h-1zM978 209h1v2h-1zM985 206h3v1h-3zM984 210h4v1h-4zM985 208h3v1h-3zM985 206h1v5h-1zM984 206h1v5h-1zM989 206h4v1h-4zM989 210h4v1h-4zM990 208h3v1h-3zM991 206h1v5h-1zM992 208h1v3h-1zM994 210h4v1h-4zM995 208h2v1h-2zM996 206h1v5h-1zM994 206h1v5h-1zM1000 206h3v1h-3zM999 210h4v1h-4zM1000 208h2v1h-2zM1000 206h1v5h-1zM999 206h1v5h-1zM999 207h1v2h-1zM1004 206h4v1h-4zM1004 210h4v1h-4zM1004 208h4v1h-4zM1005 206h1v5h-1zM1004 206h1v5h-1zM1010 206h4v1h-4zM1010 210h4v1h-4zM1010 208h3v1h-3zM1012 206h1v5h-1zM1013 206h1v5h-1zM1012 209h1v2h-1zM1015 206h4v1h-4zM1015 210h4v1h-4zM1015 208h3v1h-3zM1017 206h1v5h-1zM1018 206h1v5h-1z" fill="#ffffff"/>
<path d="M928 239L960 214.5H1025" stroke="#7098f8" fill="none"/>
<path d="M551.5 109.5L553.5 109.5M552.5 109.5L552.5 114.5 M554.5 109.5L554.5 114.5L556.5 114.5 M560.5 109.5L562.5 109.5L561.5 111.5L562.5 111.5L562.5 112.5L562.5 113.5L562.5 114.5L561.5 114.5L560.5 113.5 M564.5 113.5L565.5 113.5L565.5 114.5L564.5 114.5ZM566.5 109.5L569.5 109.5L567.5 111.5L568.5 111.5L569.5 112.5L569.5 113.5L568.5 114.5L567.5 114.5L566.5 113.5 M570.5 109.5L571.5 109.5L572.5 110.5L572.5 110.5L571.5 111.5L570.5 111.5L570.5 110.5L570.5 110.5ZM570.5 111.5L570.5 112.5L570.5 113.5L570.5 114.5L571.5 114.5L572.5 113.5L572.5 112.5L571.5 111.5 M575.5 109.5L573.5 109.5L573.5 111.5L574.5 111.5L575.5 112.5L575.5 113.5L574.5 114.5L573.5 114.5 M577.5 109.5L576.5 110.5L576.5 112.5L577.5 114.5 M579.5 109.5L581.5 109.5M579.5 109.5L579.5 114.5M581.5 109.5L581.5 114.5M579.5 111.5L581.5 111.5M580.5 109.5L580.5 114.5M579.5 114.5L581.5 114.5 M583.5 109.5L583.5 110.5L583.5 112.5L583.5 114.5 " stroke="#ffffff" fill="none"/>
<path d="M555.5 115.5L557.5 115.5M556.5 115.5L556.5 120.5 M558.5 115.5L558.5 120.5L560.5 120.5 M564.5 115.5L566.5 115.5L565.5 117.5L565.5 117.5L566.5 118.5L566.5 119.5L565.5 120.5L564.5 120.5L564.5 119.5 M568.5 119.5L568.5 119.5L568.5 120.5L568.5 120.5ZM570.5 115.5L572.5 115.5L571.5 117.5L572.5 117.5L572.5 118.5L572.5 119.5L572.5 120.5L571.5 120.5L570.5 119.5 M573.5 116.5L574.5 115.5L575.5 115.5L575.5 116.5L575.5 117.5L573.5 120.5L575.5 120.5 M577.5 115.5L577.5 116.5L577.5 119.5L577.5 120.5 M579.5 116.5L581.5 116.5M580.5 116.5L580.5 120.5M581.5 116.5L581.5 120.5M580.5 118.5L581.5 118.5M580.5 115.5L580.5 120.5M580.5 120.5L581.5 120.5 M583.5 115.5L584.5 116.5L584.5 119.5L583.5 120.5 " stroke="#ffffff" fill="none"/>
<polygon points="562,122 573,122 567.5,127" stroke="#00ff00" fill="none"/>
<line x1="562" y1="122" x2="580" y2="122" stroke="#00ff00"/>
<line x1="590.5" y1="200" x2="590.5" y2="238" stroke="#ff7f7f"/>
<line x1="583" y1="210.5" x2="597" y2="210.5" stroke="#ff7f7f"/>
<line x1="583" y1="228.5" x2="597" y2="228.5" stroke="#ff7f7f"/>
<path d="M582.5 207.5L583.5 206.5L583.5 211.5 M585.5 207.5L585.5 206.5L586.5 206.5L587.5 207.5L587.5 207.5L585.5 211.5L587.5 211.5 M589.5 206.5L590.5 206.5L590.5 207.5L590.5 210.5L590.5 211.5L589.5 211.5L588.5 210.5L588.5 207.5ZM592.5 206.5L593.5 206.5L593.5 207.5L593.5 210.5L593.5 211.5L592.5 211.5L591.5 210.5L591.5 207.5Z" stroke="#ffffff" fill="none" transform="rotate(-90 588 211)"/>
<path d="M582.5 228.5L583.5 227.5L583.5 232.5 M585.5 228.5L586.5 227.5L586.5 232.5 M589.5 227.5L590.5 227.5L590.5 228.5L590.5 231.5L590.5 232.5L589.5 232.5L588.5 231.5L588.5 228.5ZM592.5 227.5L593.5 227.5L593.5 228.5L593.5 231.5L593.5 232.5L592.5 232.5L591.5 231.5L591.5 228.5Z" stroke="#ffffff" fill="none" transform="rotate(-90 588 232)"/>
<path d="M536.5 410.5L538.5 410.5M537.5 410.5L537.5 415.5 M539.5 410.5L539.5 415.5L541.5 415.5 M545.5 410.5L547.5 410.5L546.5 412.5L547.5 412.5L547.5 413.5L547.5 414.5L547.5 415.5L546.5 415.5L545.5 414.5 M549.5 414.5L550.5 414.5L550.5 415.5L549.5 415.5ZM551.5 410.5L554.5 410.5L552.5 412.5L553.5 412.5L554.5 413.5L554.5 414.5L553.5 415.5L552.5 415.5L551.5 414.5 M555.5 410.5L556.5 410.5L557.5 411.5L557.5 411.5L556.5 412.5L555.5 412.5L555.5 411.5L555.5 411.5ZM555.5 412.5L555.5 413.5L555.5 414.5L555.5 415.5L556.5 415.5L557.5 414.5L557.5 413.5L556.5 412.5 M560.5 410.5L558.5 410.5L558.5 412.5L559.5 412.5L560.5 413.5L560.5 414.5L559.5 415.5L558.5 415.5 M562.5 410.5L561.5 411.5L561.5 413.5L562.5 415.5 M564.5 410.5L566.5 410.5M564.5 410.5L564.5 415.5M566.5 410.5L566.5 415.5M564.5 412.5L566.5 412.5M565.5 410.5L565.5 415.5M564.5 415.5L566.5 415.5 M568.5 410.5L568.5 411.5L568.5 413.5L568.5 415.5 " stroke="#ffffff" fill="none"/>
<path d="M540.5 416.5L542.5 416.5M541.5 416.5L541.5 421.5 M543.5 416.5L543.5 421.5L545.5 421.5 M549.5 416.5L551.5 416.5L550.5 418.5L550.5 418.5L551.5 419.5L551.5 420.5L550.5 421.5L549.5 421.5L549.5 420.5 M553.5 420.5L553.5 420.5L553.5 421.5L553.5 421.5ZM555.5 416.5L557.5 416.5L556.5 418.5L557.5 418.5L557.5 419.5L557.5 420.5L557.5 421.5L556.5 421.5L555.5 420.5 M558.5 417.5L559.5 416.5L560.5 416.5L560.5 417.5L560.5 417.5L558.5 421.5L560.5 421.5 M562.5 416.5L562.5 417.5L562.5 419.5L562.5 421.5 M564.5 416.5L566.5 416.5M565.5 416.5L565.5 421.5M566.5 416.5L566.5 421.5M565.5 418.5L566.5 418.5M565.5 416.5L565.5 421.5M565.5 421.5L566.5 421.5 M568.5 416.5L569.5 417.5L569.5 419.5L568.5 421.5 " stroke="#ffffff" fill="none"/>
<polygon points="546,422.5 556,422.5 551,427" stroke="#00ff00" fill="none"/>
<line x1="546" y1="422.5" x2="570" y2="422.5" stroke="#00ff00"/>
<path d="M550.5 332.5L552.5 332.5M551.5 332.5L551.5 338.5 M553.5 332.5L553.5 338.5L556.5 338.5 M562.5 338.5L562.5 332.5L560.5 336.5L562.5 336.5 M564.5 337.5L565.5 337.5L565.5 338.5L564.5 338.5ZM568.5 338.5L568.5 332.5L567.5 336.5L569.5 336.5 M571.5 332.5L571.5 334.5L571.5 336.5L571.5 338.5 M573.5 333.5L576.5 333.5M574.5 333.5L574.5 338.5M575.5 333.5L575.5 338.5M574.5 335.5L575.5 335.5M575.5 332.5L575.5 338.5M574.5 338.5L575.5 338.5 M578.5 332.5L578.5 334.5L578.5 336.5L578.5 338.5 " stroke="#ffffff" fill="none"/>
<path d="M552.5 341.5L553.5 339.5L553.5 345.5 M557.5 345.5L557.5 339.5L555.5 343.5L557.5 343.5 M559.5 344.5L560.5 344.5L560.5 345.5L559.5 345.5ZM562.5 339.5L564.5 339.5L563.5 342.5L563.5 342.5L564.5 342.5L564.5 344.5L563.5 345.5L562.5 345.5L562.5 344.5 M567.5 339.5L565.5 339.5L565.5 342.5L567.5 342.5L567.5 342.5L567.5 344.5L567.5 345.5L565.5 345.5 M570.5 339.5L569.5 341.5L569.5 343.5L570.5 345.5 M572.5 340.5L574.5 340.5M572.5 340.5L572.5 345.5M574.5 340.5L574.5 345.5M572.5 342.5L574.5 342.5M573.5 339.5L573.5 345.5M572.5 345.5L574.5 345.5 M576.5 339.5L577.5 341.5L577.5 343.5L576.5 345.5 " stroke="#ffffff" fill="none"/>
<polygon points="553,346.6 564,346.6 558.5,352.8" stroke="#00ff00" fill="none"/>
<line x1="552" y1="346.6" x2="577" y2="346.6" stroke="#00ff00"/>
<rect x="300.5" y="386.5" width="14" height="6" stroke="#ff7f7f" fill="none"/>
<path d="M304.5 386.5L302.5 386.5L302.5 388.5L304.5 388.5L304.5 389.5L304.5 390.5L304.5 391.5L302.5 391.5 M306.5 388.5L307.5 386.5L307.5 391.5 M309.5 386.5L310.5 386.5L311.5 387.5L311.5 390.5L310.5 391.5L309.5 391.5L309.5 390.5L309.5 387.5Z" stroke="#ffffff" fill="none"/>
<rect x="954.5" y="386.5" width="14" height="6" stroke="#ff7f7f" fill="none"/>
<path d="M958.5 386.5L956.5 386.5L956.5 388.5L958.5 388.5L958.5 389.5L958.5 390.5L958.5 391.5L956.5 391.5 M960.5 388.5L961.5 386.5L961.5 391.5 M963.5 386.5L964.5 386.5L965.5 387.5L965.5 390.5L964.5 391.5L963.5 391.5L963.5 390.5L963.5 387.5Z" stroke="#ffffff" fill="none"/>
<line x1="241.5" y1="524" x2="241.5" y2="604.5" stroke="#00ff00"/>
<circle cx="241.5" cy="612.7" r="8" stroke="#00ff00" fill="none"/>
<path d="M240.5 611.5L241.5 609.5L241.5 616.5 " stroke="#ffffff" fill="none"/>
<line x1="313.5" y1="524" x2="313.5" y2="604.5" stroke="#00ff00"/>
<circle cx="313.5" cy="612.7" r="8" stroke="#00ff00" fill="none"/>
<path d="M311.5 609.5L315.5 609.5L313.5 612.5L314.5 612.5L315.5 613.5L315.5 615.5L314.5 616.5L312.5 616.5L311.5 615.5 " stroke="#ffffff" fill="none"/>
<line x1="386.5" y1="524" x2="386.5" y2="604.5" stroke="#00ff00"/>
<circle cx="386.5" cy="612.7" r="8" stroke="#00ff00" fill="none"/>
<path d="M387.5 616.5L387.5 609.5L384.5 613.5L388.5 613.5 " stroke="#ffffff" fill="none"/>
<line x1="459.5" y1="524" x2="459.5" y2="604.5" stroke="#00ff00"/>
<circle cx="459.5" cy="612.7" r="8" stroke="#00ff00" fill="none"/>
<path d="M461.5 609.5L457.5 609.5L457.5 612.5L460.5 612.5L461.5 613.5L461.5 615.5L460.5 616.5L457.5 616.5 " stroke="#ffffff" fill="none"/>
<line x1="531.5" y1="524" x2="531.5" y2="604.5" stroke="#00ff00"/>
<circle cx="531.5" cy="612.7" r="8" stroke="#00ff00" fill="none"/>
<path d="M532.5 609.5L530.5 609.5L529.5 610.5L529.5 615.5L530.5 616.5L532.5 616.5L533.5 615.5L533.5 613.5L532.5 612.5L529.5 612.5 " stroke="#ffffff" fill="none"/>
<line x1="604.5" y1="524" x2="604.5" y2="604.5" stroke="#00ff00"/>
<circle cx="604.5" cy="612.7" r="8" stroke="#00ff00" fill="none"/>
<path d="M602.5 609.5L606.5 609.5L606.5 610.5L604.5 616.5 " stroke="#ffffff" fill="none"/>
<line x1="677.5" y1="524" x2="677.5" y2="604.5" stroke="#00ff00"/>
<circle cx="677.5" cy="612.7" r="8" stroke="#00ff00" fill="none"/>
<path d="M676.5 609.5L678.5 609.5L679.5 610.5L679.5 611.5L678.5 612.5L676.5 612.5L675.5 611.5L675.5 610.5ZM676.5 612.5L675.5 613.5L675.5 615.5L676.5 616.5L678.5 616.5L679.5 615.5L679.5 613.5L678.5 612.5 " stroke="#ffffff" fill="none"/>
<line x1="749.5" y1="524" x2="749.5" y2="604.5" stroke="#00ff00"/>
<circle cx="749.5" cy="612.7" r="8" stroke="#00ff00" fill="none"/>
<path d="M746.5 611.5L747.5 609.5L747.5 616.5 M750.5 609.5L752.5 609.5L752.5 610.5L752.5 615.5L752.5 616.5L750.5 616.5L750.5 615.5L750.5 610.5Z" stroke="#ffffff" fill="none"/>
<line x1="822.5" y1="524" x2="822.5" y2="604.5" stroke="#00ff00"/>
<circle cx="822.5" cy="612.7" r="8" stroke="#00ff00" fill="none"/>
<path d="M819.5 611.5L820.5 609.5L820.5 616.5 M823.5 611.5L824.5 609.5L824.5 616.5 " stroke="#ffffff" fill="none"/>
<line x1="895.5" y1="524" x2="895.5" y2="604.5" stroke="#00ff00"/>
<circle cx="895.5" cy="612.7" r="8" stroke="#00ff00" fill="none"/>
<path d="M892.5 611.5L893.5 609.5L893.5 616.5 M896.5 610.5L896.5 609.5L898.5 609.5L898.5 610.5L898.5 611.5L896.5 616.5L898.5 616.5 " stroke="#ffffff" fill="none"/>
<line x1="967.5" y1="524" x2="967.5" y2="604.5" stroke="#00ff00"/>
<circle cx="967.5" cy="612.7" r="8" stroke="#00ff00" fill="none"/>
<path d="M964.5 611.5L965.5 609.5L965.5 616.5 M970.5 616.5L970.5 609.5L968.5 613.5L970.5 613.5 " stroke="#ffffff" fill="none"/>
<line x1="1040.5" y1="524" x2="1040.5" y2="604.5" stroke="#00ff00"/>
<circle cx="1040.5" cy="612.7" r="8" stroke="#00ff00" fill="none"/>
<path d="M1037.5 611.5L1038.5 609.5L1038.5 616.5 M1043.5 609.5L1041.5 609.5L1041.5 612.5L1043.5 612.5L1043.5 613.5L1043.5 615.5L1043.5 616.5L1041.5 616.5 " stroke="#ffffff" fill="none"/>
<line x1="1113.5" y1="524" x2="1113.5" y2="604.5" stroke="#00ff00"/>
<circle cx="1113.5" cy="612.7" r="8" stroke="#00ff00" fill="none"/>
<path d="M1110.5 611.5L1111.5 609.5L1111.5 616.5 M1116.5 609.5L1114.5 609.5L1114.5 610.5L1114.5 615.5L1114.5 616.5L1116.5 616.5L1116.5 615.5L1116.5 613.5L1116.5 612.5L1114.5 612.5 " stroke="#ffffff" fill="none"/>
<line x1="239.5" y1="522" x2="239.5" y2="596" stroke="#00ff00"/>
<line x1="1115.5" y1="522" x2="1115.5" y2="596" stroke="#00ff00"/>
<line x1="240" y1="557.5" x2="1113.5" y2="557.5" stroke="#ff7f7f"/>
<line x1="241.5" y1="553.5" x2="241.5" y2="563" stroke="#ff7f7f"/>
<line x1="257.5" y1="553.5" x2="257.5" y2="563" stroke="#ff7f7f"/>
<line x1="287.5" y1="553.5" x2="287.5" y2="563" stroke="#ff7f7f"/>
<line x1="313.5" y1="553.5" x2="313.5" y2="563" stroke="#ff7f7f"/>
<line x1="315.5" y1="553.5" x2="315.5" y2="563" stroke="#ff7f7f"/>
<line x1="359.9" y1="553.5" x2="359.9" y2="563" stroke="#ff7f7f"/>
<line x1="386.5" y1="553.5" x2="386.5" y2="563" stroke="#ff7f7f"/>
<line x1="388.5" y1="553.5" x2="388.5" y2="563" stroke="#ff7f7f"/>
<line x1="432.9" y1="553.5" x2="432.9" y2="563" stroke="#ff7f7f"/>
<line x1="459.5" y1="553.5" x2="459.5" y2="563" stroke="#ff7f7f"/>
<line x1="461.5" y1="553.5" x2="461.5" y2="563" stroke="#ff7f7f"/>
<line x1="505.9" y1="553.5" x2="505.9" y2="563" stroke="#ff7f7f"/>
<line x1="531.5" y1="553.5" x2="531.5" y2="563" stroke="#ff7f7f"/>
<line x1="533.5" y1="553.5" x2="533.5" y2="563" stroke="#ff7f7f"/>
<line x1="577.9" y1="553.5" x2="577.9" y2="563" stroke="#ff7f7f"/>
<line x1="604.5" y1="553.5" x2="604.5" y2="563" stroke="#ff7f7f"/>
<line x1="606.5" y1="553.5" x2="606.5" y2="563" stroke="#ff7f7f"/>
<line x1="650.9" y1="553.5" x2="650.9" y2="563" stroke="#ff7f7f"/>
<line x1="677.5" y1="553.5" x2="677.5" y2="563" stroke="#ff7f7f"/>
<line x1="679.5" y1="553.5" x2="679.5" y2="563" stroke="#ff7f7f"/>
<line x1="723.9" y1="553.5" x2="723.9" y2="563" stroke="#ff7f7f"/>
<line x1="749.5" y1="553.5" x2="749.5" y2="563" stroke="#ff7f7f"/>
<line x1="751.5" y1="553.5" x2="751.5" y2="563" stroke="#ff7f7f"/>
<line x1="795.9" y1="553.5" x2="795.9" y2="563" stroke="#ff7f7f"/>
<line x1="822.5" y1="553.5" x2="822.5" y2="563" stroke="#ff7f7f"/>
<line x1="824.5" y1="553.5" x2="824.5" y2="563" stroke="#ff7f7f"/>
<line x1="868.9" y1="553.5" x2="868.9" y2="563" stroke="#ff7f7f"/>
<line x1="895.5" y1="553.5" x2="895.5" y2="563" stroke="#ff7f7f"/>
<line x1="897.5" y1="553.5" x2="897.5" y2="563" stroke="#ff7f7f"/>
<line x1="941.9" y1="553.5" x2="941.9" y2="563" stroke="#ff7f7f"/>
<line x1="967.5" y1="553.5" x2="967.5" y2="563" stroke="#ff7f7f"/>
<line x1="969.5" y1="553.5" x2="969.5" y2="563" stroke="#ff7f7f"/>
<line x1="1013.9" y1="553.5" x2="1013.9" y2="563" stroke="#ff7f7f"/>
<line x1="1040.5" y1="553.5" x2="1040.5" y2="563" stroke="#ff7f7f"/>
<line x1="1042.5" y1="553.5" x2="1042.5" y2="563" stroke="#ff7f7f"/>
<line x1="1097" y1="553.5" x2="1097" y2="563" stroke="#ff7f7f"/>
<line x1="1113.5" y1="553.5" x2="1113.5" y2="563" stroke="#ff7f7f"/>
<path d="M245.5 550.5L246.5 550.5L247.5 551.5L247.5 552.5L246.5 552.5L245.5 552.5L245.5 552.5L245.5 551.5ZM245.5 552.5L245.5 553.5L245.5 554.5L245.5 555.5L246.5 555.5L247.5 554.5L247.5 553.5L246.5 552.5 M248.5 550.5L250.5 550.5L250.5 551.5L250.5 554.5L250.5 555.5L248.5 555.5L248.5 554.5L248.5 551.5ZM252.5 550.5L253.5 550.5L253.5 551.5L253.5 554.5L253.5 555.5L252.5 555.5L251.5 554.5L251.5 551.5Z" stroke="#ffffff" fill="none"/>
<path d="M266.5 551.5L267.5 550.5L267.5 555.5 M271.5 550.5L269.5 550.5L269.5 552.5L271.5 552.5L271.5 553.5L271.5 554.5L271.5 555.5L269.5 555.5 M273.5 550.5L274.5 550.5L275.5 551.5L275.5 554.5L274.5 555.5L273.5 555.5L273.5 554.5L273.5 551.5ZM276.5 550.5L278.5 550.5L278.5 551.5L278.5 554.5L278.5 555.5L276.5 555.5L276.5 554.5L276.5 551.5Z" stroke="#ffffff" fill="none"/>
<path d="M294.5 551.5L295.5 550.5L295.5 555.5 M297.5 550.5L299.5 550.5L298.5 552.5L299.5 552.5L299.5 553.5L299.5 554.5L299.5 555.5L298.5 555.5L297.5 554.5 M301.5 550.5L302.5 550.5L303.5 551.5L303.5 554.5L302.5 555.5L301.5 555.5L301.5 554.5L301.5 551.5ZM304.5 550.5L306.5 550.5L306.5 551.5L306.5 554.5L306.5 555.5L304.5 555.5L304.5 554.5L304.5 551.5Z" stroke="#ffffff" fill="none"/>
<path d="M311.5 552.5L311.5 550.5L311.5 555.5 M314.5 550.5L315.5 550.5L316.5 551.5L316.5 554.5L315.5 555.5L314.5 555.5L313.5 554.5L313.5 551.5ZM317.5 550.5L318.5 550.5L319.5 551.5L319.5 554.5L318.5 555.5L317.5 555.5L317.5 554.5L317.5 551.5Z" stroke="#ffffff" fill="none"/>
<path d="M332.5 551.5L332.5 550.5L334.5 550.5L334.5 551.5L334.5 552.5L332.5 555.5L334.5 555.5 M335.5 551.5L336.5 550.5L337.5 550.5L337.5 551.5L337.5 552.5L335.5 555.5L337.5 555.5 M339.5 550.5L340.5 550.5L341.5 551.5L341.5 554.5L340.5 555.5L339.5 555.5L339.5 554.5L339.5 551.5ZM342.5 550.5L344.5 550.5L344.5 551.5L344.5 554.5L344.5 555.5L342.5 555.5L342.5 554.5L342.5 551.5Z" stroke="#ffffff" fill="none"/>
<path d="M367.5 551.5L367.5 550.5L367.5 555.5 M370.5 550.5L372.5 550.5L371.5 552.5L371.5 552.5L372.5 553.5L372.5 554.5L371.5 555.5L370.5 555.5L370.5 554.5 M374.5 550.5L375.5 550.5L375.5 551.5L375.5 554.5L375.5 555.5L374.5 555.5L373.5 554.5L373.5 551.5ZM377.5 550.5L378.5 550.5L379.5 551.5L379.5 554.5L378.5 555.5L377.5 555.5L376.5 554.5L376.5 551.5Z" stroke="#ffffff" fill="none"/>
<path d="M384.5 552.5L384.5 550.5L384.5 555.5 M387.5 550.5L388.5 550.5L389.5 551.5L389.5 554.5L388.5 555.5L387.5 555.5L386.5 554.5L386.5 551.5ZM390.5 550.5L391.5 550.5L392.5 551.5L392.5 554.5L391.5 555.5L390.5 555.5L390.5 554.5L390.5 551.5Z" stroke="#ffffff" fill="none"/>
<path d="M405.5 551.5L405.5 550.5L407.5 550.5L407.5 551.5L407.5 552.5L405.5 555.5L407.5 555.5 M408.5 551.5L409.5 550.5L410.5 550.5L410.5 551.5L410.5 552.5L408.5 555.5L410.5 555.5 M412.5 550.5L413.5 550.5L414.5 551.5L414.5 554.5L413.5 555.5L412.5 555.5L412.5 554.5L412.5 551.5ZM415.5 550.5L417.5 550.5L417.5 551.5L417.5 554.5L417.5 555.5L415.5 555.5L415.5 554.5L415.5 551.5Z" stroke="#ffffff" fill="none"/>
<path d="M440.5 551.5L440.5 550.5L440.5 555.5 M443.5 550.5L445.5 550.5L444.5 552.5L444.5 552.5L445.5 553.5L445.5 554.5L444.5 555.5L443.5 555.5L443.5 554.5 M447.5 550.5L448.5 550.5L448.5 551.5L448.5 554.5L448.5 555.5L447.5 555.5L446.5 554.5L446.5 551.5ZM450.5 550.5L451.5 550.5L452.5 551.5L452.5 554.5L451.5 555.5L450.5 555.5L449.5 554.5L449.5 551.5Z" stroke="#ffffff" fill="none"/>
<path d="M457.5 552.5L457.5 550.5L457.5 555.5 M460.5 550.5L461.5 550.5L462.5 551.5L462.5 554.5L461.5 555.5L460.5 555.5L459.5 554.5L459.5 551.5ZM463.5 550.5L464.5 550.5L465.5 551.5L465.5 554.5L464.5 555.5L463.5 555.5L463.5 554.5L463.5 551.5Z" stroke="#ffffff" fill="none"/>
<path d="M478.5 551.5L478.5 550.5L480.5 550.5L480.5 551.5L480.5 552.5L478.5 555.5L480.5 555.5 M481.5 551.5L482.5 550.5L483.5 550.5L483.5 551.5L483.5 552.5L481.5 555.5L483.5 555.5 M485.5 550.5L486.5 550.5L487.5 551.5L487.5 554.5L486.5 555.5L485.5 555.5L485.5 554.5L485.5 551.5ZM488.5 550.5L490.5 550.5L490.5 551.5L490.5 554.5L490.5 555.5L488.5 555.5L488.5 554.5L488.5 551.5Z" stroke="#ffffff" fill="none"/>
<path d="M513.5 551.5L513.5 550.5L513.5 555.5 M516.5 550.5L518.5 550.5L517.5 552.5L517.5 552.5L518.5 553.5L518.5 554.5L517.5 555.5L516.5 555.5L516.5 554.5 M520.5 550.5L521.5 550.5L521.5 551.5L521.5 554.5L521.5 555.5L520.5 555.5L519.5 554.5L519.5 551.5ZM523.5 550.5L524.5 550.5L525.5 551.5L525.5 554.5L524.5 555.5L523.5 555.5L522.5 554.5L522.5 551.5Z" stroke="#ffffff" fill="none"/>
<path d="M529.5 552.5L529.5 550.5L529.5 555.5 M532.5 550.5L533.5 550.5L534.5 551.5L534.5 554.5L533.5 555.5L532.5 555.5L531.5 554.5L531.5 551.5ZM535.5 550.5L536.5 550.5L537.5 551.5L537.5 554.5L536.5 555.5L535.5 555.5L535.5 554.5L535.5 551.5Z" stroke="#ffffff" fill="none"/>
<path d="M550.5 551.5L550.5 550.5L552.5 550.5L552.5 551.5L552.5 552.5L550.5 555.5L552.5 555.5 M553.5 551.5L554.5 550.5L555.5 550.5L555.5 551.5L555.5 552.5L553.5 555.5L555.5 555.5 M557.5 550.5L558.5 550.5L559.5 551.5L559.5 554.5L558.5 555.5L557.5 555.5L557.5 554.5L557.5 551.5ZM560.5 550.5L562.5 550.5L562.5 551.5L562.5 554.5L562.5 555.5L560.5 555.5L560.5 554.5L560.5 551.5Z" stroke="#ffffff" fill="none"/>
<path d="M585.5 551.5L585.5 550.5L585.5 555.5 M588.5 550.5L590.5 550.5L589.5 552.5L589.5 552.5L590.5 553.5L590.5 554.5L589.5 555.5L588.5 555.5L588.5 554.5 M592.5 550.5L593.5 550.5L593.5 551.5L593.5 554.5L593.5 555.5L592.5 555.5L591.5 554.5L591.5 551.5ZM595.5 550.5L596.5 550.5L597.5 551.5L597.5 554.5L596.5 555.5L595.5 555.5L594.5 554.5L594.5 551.5Z" stroke="#ffffff" fill="none"/>
<path d="M602.5 552.5L602.5 550.5L602.5 555.5 M605.5 550.5L606.5 550.5L607.5 551.5L607.5 554.5L606.5 555.5L605.5 555.5L604.5 554.5L604.5 551.5ZM608.5 550.5L609.5 550.5L610.5 551.5L610.5 554.5L609.5 555.5L608.5 555.5L608.5 554.5L608.5 551.5Z" stroke="#ffffff" fill="none"/>
<path d="M623.5 551.5L623.5 550.5L625.5 550.5L625.5 551.5L625.5 552.5L623.5 555.5L625.5 555.5 M626.5 551.5L627.5 550.5L628.5 550.5L628.5 551.5L628.5 552.5L626.5 555.5L628.5 555.5 M630.5 550.5L631.5 550.5L632.5 551.5L632.5 554.5L631.5 555.5L630.5 555.5L630.5 554.5L630.5 551.5ZM633.5 550.5L635.5 550.5L635.5 551.5L635.5 554.5L635.5 555.5L633.5 555.5L633.5 554.5L633.5 551.5Z" stroke="#ffffff" fill="none"/>
<path d="M658.5 551.5L658.5 550.5L658.5 555.5 M661.5 550.5L663.5 550.5L662.5 552.5L662.5 552.5L663.5 553.5L663.5 554.5L662.5 555.5L661.5 555.5L661.5 554.5 M665.5 550.5L666.5 550.5L666.5 551.5L666.5 554.5L666.5 555.5L665.5 555.5L664.5 554.5L664.5 551.5ZM668.5 550.5L669.5 550.5L670.5 551.5L670.5 554.5L669.5 555.5L668.5 555.5L667.5 554.5L667.5 551.5Z" stroke="#ffffff" fill="none"/>
<path d="M675.5 552.5L675.5 550.5L675.5 555.5 M678.5 550.5L679.5 550.5L680.5 551.5L680.5 554.5L679.5 555.5L678.5 555.5L677.5 554.5L677.5 551.5ZM681.5 550.5L682.5 550.5L683.5 551.5L683.5 554.5L682.5 555.5L681.5 555.5L681.5 554.5L681.5 551.5Z" stroke="#ffffff" fill="none"/>
<path d="M696.5 551.5L696.5 550.5L698.5 550.5L698.5 551.5L698.5 552.5L696.5 555.5L698.5 555.5 M699.5 551.5L700.5 550.5L701.5 550.5L701.5 551.5L701.5 552.5L699.5 555.5L701.5 555.5 M703.5 550.5L704.5 550.5L705.5 551.5L705.5 554.5L704.5 555.5L703.5 555.5L703.5 554.5L703.5 551.5ZM706.5 550.5L708.5 550.5L708.5 551.5L708.5 554.5L708.5 555.5L706.5 555.5L706.5 554.5L706.5 551.5Z" stroke="#ffffff" fill="none"/>
<path d="M731.5 551.5L731.5 550.5L731.5 555.5 M734.5 550.5L736.5 550.5L735.5 552.5L735.5 552.5L736.5 553.5L736.5 554.5L735.5 555.5L734.5 555.5L734.5 554.5 M738.5 550.5L739.5 550.5L739.5 551.5L739.5 554.5L739.5 555.5L738.5 555.5L737.5 554.5L737.5 551.5ZM741.5 550.5L742.5 550.5L743.5 551.5L743.5 554.5L742.5 555.5L741.5 555.5L740.5 554.5L740.5 551.5Z" stroke="#ffffff" fill="none"/>
<path d="M747.5 552.5L747.5 550.5L747.5 555.5 M750.5 550.5L751.5 550.5L752.5 551.5L752.5 554.5L751.5 555.5L750.5 555.5L749.5 554.5L749.5 551.5ZM753.5 550.5L754.5 550.5L755.5 551.5L755.5 554.5L754.5 555.5L753.5 555.5L753.5 554.5L753.5 551.5Z" stroke="#ffffff" fill="none"/>
<path d="M768.5 551.5L768.5 550.5L770.5 550.5L770.5 551.5L770.5 552.5L768.5 555.5L770.5 555.5 M771.5 551.5L772.5 550.5L773.5 550.5L773.5 551.5L773.5 552.5L771.5 555.5L773.5 555.5 M775.5 550.5L776.5 550.5L777.5 551.5L777.5 554.5L776.5 555.5L775.5 555.5L775.5 554.5L775.5 551.5ZM778.5 550.5L780.5 550.5L780.5 551.5L780.5 554.5L780.5 555.5L778.5 555.5L778.5 554.5L778.5 551.5Z" stroke="#ffffff" fill="none"/>
<path d="M803.5 551.5L803.5 550.5L803.5 555.5 M806.5 550.5L808.5 550.5L807.5 552.5L807.5 552.5L808.5 553.5L808.5 554.5L807.5 555.5L806.5 555.5L806.5 554.5 M810.5 550.5L811.5 550.5L811.5 551.5L811.5 554.5L811.5 555.5L810.5 555.5L809.5 554.5L809.5 551.5ZM813.5 550.5L814.5 550.5L815.5 551.5L815.5 554.5L814.5 555.5L813.5 555.5L812.5 554.5L812.5 551.5Z" stroke="#ffffff" fill="none"/>
<path d="M820.5 552.5L820.5 550.5L820.5 555.5 M823.5 550.5L824.5 550.5L825.5 551.5L825.5 554.5L824.5 555.5L823.5 555.5L822.5 554.5L822.5 551.5ZM826.5 550.5L827.5 550.5L828.5 551.5L828.5 554.5L827.5 555.5L826.5 555.5L826.5 554.5L826.5 551.5Z" stroke="#ffffff" fill="none"/>
<path d="M841.5 551.5L841.5 550.5L843.5 550.5L843.5 551.5L843.5 552.5L841.5 555.5L843.5 555.5 M844.5 551.5L845.5 550.5L846.5 550.5L846.5 551.5L846.5 552.5L844.5 555.5L846.5 555.5 M848.5 550.5L849.5 550.5L850.5 551.5L850.5 554.5L849.5 555.5L848.5 555.5L848.5 554.5L848.5 551.5ZM851.5 550.5L853.5 550.5L853.5 551.5L853.5 554.5L853.5 555.5L851.5 555.5L851.5 554.5L851.5 551.5Z" stroke="#ffffff" fill="none"/>
<path d="M876.5 551.5L876.5 550.5L876.5 555.5 M879.5 550.5L881.5 550.5L880.5 552.5L880.5 552.5L881.5 553.5L881.5 554.5L880.5 555.5L879.5 555.5L879.5 554.5 M883.5 550.5L884.5 550.5L884.5 551.5L884.5 554.5L884.5 555.5L883.5 555.5L882.5 554.5L882.5 551.5ZM886.5 550.5L887.5 550.5L888.5 551.5L888.5 554.5L887.5 555.5L886.5 555.5L885.5 554.5L885.5 551.5Z" stroke="#ffffff" fill="none"/>
<path d="M893.5 552.5L893.5 550.5L893.5 555.5 M896.5 550.5L897.5 550.5L898.5 551.5L898.5 554.5L897.5 555.5L896.5 555.5L895.5 554.5L895.5 551.5ZM899.5 550.5L900.5 550.5L901.5 551.5L901.5 554.5L900.5 555.5L899.5 555.5L899.5 554.5L899.5 551.5Z" stroke="#ffffff" fill="none"/>
<path d="M914.5 551.5L914.5 550.5L916.5 550.5L916.5 551.5L916.5 552.5L914.5 555.5L916.5 555.5 M917.5 551.5L918.5 550.5L919.5 550.5L919.5 551.5L919.5 552.5L917.5 555.5L919.5 555.5 M921.5 550.5L922.5 550.5L923.5 551.5L923.5 554.5L922.5 555.5L921.5 555.5L921.5 554.5L921.5 551.5ZM924.5 550.5L926.5 550.5L926.5 551.5L926.5 554.5L926.5 555.5L924.5 555.5L924.5 554.5L924.5 551.5Z" stroke="#ffffff" fill="none"/>
<path d="M949.5 551.5L949.5 550.5L949.5 555.5 M952.5 550.5L954.5 550.5L953.5 552.5L953.5 552.5L954.5 553.5L954.5 554.5L953.5 555.5L952.5 555.5L952.5 554.5 M956.5 550.5L957.5 550.5L957.5 551.5L957.5 554.5L957.5 555.5L956.5 555.5L955.5 554.5L955.5 551.5ZM959.5 550.5L960.5 550.5L961.5 551.5L961.5 554.5L960.5 555.5L959.5 555.5L958.5 554.5L958.5 551.5Z" stroke="#ffffff" fill="none"/>
<path d="M965.5 552.5L965.5 550.5L965.5 555.5 M968.5 550.5L969.5 550.5L970.5 551.5L970.5 554.5L969.5 555.5L968.5 555.5L967.5 554.5L967.5 551.5ZM971.5 550.5L972.5 550.5L973.5 551.5L973.5 554.5L972.5 555.5L971.5 555.5L971.5 554.5L971.5 551.5Z" stroke="#ffffff" fill="none"/>
<path d="M986.5 551.5L986.5 550.5L988.5 550.5L988.5 551.5L988.5 552.5L986.5 555.5L988.5 555.5 M989.5 551.5L990.5 550.5L991.5 550.5L991.5 551.5L991.5 552.5L989.5 555.5L991.5 555.5 M993.5 550.5L994.5 550.5L995.5 551.5L995.5 554.5L994.5 555.5L993.5 555.5L993.5 554.5L993.5 551.5ZM996.5 550.5L998.5 550.5L998.5 551.5L998.5 554.5L998.5 555.5L996.5 555.5L996.5 554.5L996.5 551.5Z" stroke="#ffffff" fill="none"/>
<path d="M1021.5 551.5L1021.5 550.5L1021.5 555.5 M1024.5 550.5L1026.5 550.5L1025.5 552.5L1025.5 552.5L1026.5 553.5L1026.5 554.5L1025.5 555.5L1024.5 555.5L1024.5 554.5 M1028.5 550.5L1029.5 550.5L1029.5 551.5L1029.5 554.5L1029.5 555.5L1028.5 555.5L1027.5 554.5L1027.5 551.5ZM1031.5 550.5L1032.5 550.5L1033.5 551.5L1033.5 554.5L1032.5 555.5L1031.5 555.5L1030.5 554.5L1030.5 551.5Z" stroke="#ffffff" fill="none"/>
<path d="M1038.5 552.5L1038.5 550.5L1038.5 555.5 M1041.5 550.5L1042.5 550.5L1043.5 551.5L1043.5 554.5L1042.5 555.5L1041.5 555.5L1040.5 554.5L1040.5 551.5ZM1044.5 550.5L1045.5 550.5L1046.5 551.5L1046.5 554.5L1045.5 555.5L1044.5 555.5L1044.5 554.5L1044.5 551.5Z" stroke="#ffffff" fill="none"/>
<path d="M1063.5 551.5L1063.5 550.5L1065.5 550.5L1065.5 551.5L1065.5 552.5L1063.5 555.5L1065.5 555.5 M1066.5 550.5L1068.5 550.5L1068.5 551.5L1067.5 555.5 M1070.5 550.5L1071.5 550.5L1072.5 551.5L1072.5 554.5L1071.5 555.5L1070.5 555.5L1070.5 554.5L1070.5 551.5ZM1073.5 550.5L1075.5 550.5L1075.5 551.5L1075.5 554.5L1075.5 555.5L1073.5 555.5L1073.5 554.5L1073.5 551.5Z" stroke="#ffffff" fill="none"/>
<path d="M1101.5 550.5L1102.5 550.5L1103.5 551.5L1103.5 552.5L1102.5 552.5L1101.5 552.5L1101.5 552.5L1101.5 551.5ZM1101.5 552.5L1101.5 553.5L1101.5 554.5L1101.5 555.5L1102.5 555.5L1103.5 554.5L1103.5 553.5L1102.5 552.5 M1104.5 550.5L1106.5 550.5L1106.5 551.5L1106.5 554.5L1106.5 555.5L1104.5 555.5L1104.5 554.5L1104.5 551.5ZM1108.5 550.5L1109.5 550.5L1109.5 551.5L1109.5 554.5L1109.5 555.5L1108.5 555.5L1107.5 554.5L1107.5 551.5Z" stroke="#ffffff" fill="none"/>
<line x1="238" y1="574.7" x2="1116" y2="574.7" stroke="#00ff00"/>
<line x1="239.5" y1="576.5" x2="243.5" y2="572.5" stroke="#00ff00"/>
<line x1="311.5" y1="576.5" x2="315.5" y2="572.5" stroke="#00ff00"/>
<line x1="384.5" y1="576.5" x2="388.5" y2="572.5" stroke="#00ff00"/>
<line x1="457.5" y1="576.5" x2="461.5" y2="572.5" stroke="#00ff00"/>
<line x1="529.5" y1="576.5" x2="533.5" y2="572.5" stroke="#00ff00"/>
<line x1="602.5" y1="576.5" x2="606.5" y2="572.5" stroke="#00ff00"/>
<line x1="675.5" y1="576.5" x2="679.5" y2="572.5" stroke="#00ff00"/>
<line x1="747.5" y1="576.5" x2="751.5" y2="572.5" stroke="#00ff00"/>
<line x1="820.5" y1="576.5" x2="824.5" y2="572.5" stroke="#00ff00"/>
<line x1="893.5" y1="576.5" x2="897.5" y2="572.5" stroke="#00ff00"/>
<line x1="965.5" y1="576.5" x2="969.5" y2="572.5" stroke="#00ff00"/>
<line x1="1038.5" y1="576.5" x2="1042.5" y2="572.5" stroke="#00ff00"/>
<line x1="1111.5" y1="576.5" x2="1115.5" y2="572.5" stroke="#00ff00"/>
<path d="M271.5 566.5L274.5 566.5L272.5 568.5L273.5 568.5L274.5 569.5L274.5 570.5L273.5 571.5L272.5 571.5L271.5 570.5 M277.5 566.5L275.5 566.5L275.5 567.5L275.5 570.5L275.5 571.5L276.5 571.5L277.5 570.5L277.5 569.5L276.5 568.5L275.5 568.5 M279.5 566.5L280.5 566.5L280.5 567.5L280.5 570.5L280.5 571.5L279.5 571.5L278.5 570.5L278.5 567.5ZM282.5 566.5L283.5 566.5L284.5 567.5L284.5 570.5L283.5 571.5L282.5 571.5L281.5 570.5L281.5 567.5Z" stroke="#ffffff" fill="none"/>
<path d="M344.5 566.5L346.5 566.5L345.5 568.5L346.5 568.5L346.5 569.5L346.5 570.5L346.5 571.5L344.5 571.5L344.5 570.5 M349.5 566.5L348.5 566.5L347.5 567.5L347.5 570.5L348.5 571.5L349.5 571.5L349.5 570.5L349.5 569.5L349.5 568.5L347.5 568.5 M351.5 566.5L352.5 566.5L353.5 567.5L353.5 570.5L352.5 571.5L351.5 571.5L351.5 570.5L351.5 567.5ZM354.5 566.5L356.5 566.5L356.5 567.5L356.5 570.5L356.5 571.5L354.5 571.5L354.5 570.5L354.5 567.5Z" stroke="#ffffff" fill="none"/>
<path d="M417.5 566.5L419.5 566.5L418.5 568.5L419.5 568.5L419.5 569.5L419.5 570.5L419.5 571.5L417.5 571.5L417.5 570.5 M422.5 566.5L421.5 566.5L420.5 567.5L420.5 570.5L421.5 571.5L422.5 571.5L422.5 570.5L422.5 569.5L422.5 568.5L420.5 568.5 M424.5 566.5L425.5 566.5L426.5 567.5L426.5 570.5L425.5 571.5L424.5 571.5L424.5 570.5L424.5 567.5ZM427.5 566.5L429.5 566.5L429.5 567.5L429.5 570.5L429.5 571.5L427.5 571.5L427.5 570.5L427.5 567.5Z" stroke="#ffffff" fill="none"/>
<path d="M489.5 566.5L492.5 566.5L490.5 568.5L491.5 568.5L492.5 569.5L492.5 570.5L491.5 571.5L490.5 571.5L489.5 570.5 M495.5 566.5L493.5 566.5L493.5 567.5L493.5 570.5L493.5 571.5L494.5 571.5L495.5 570.5L495.5 569.5L494.5 568.5L493.5 568.5 M497.5 566.5L498.5 566.5L498.5 567.5L498.5 570.5L498.5 571.5L497.5 571.5L496.5 570.5L496.5 567.5ZM500.5 566.5L501.5 566.5L502.5 567.5L502.5 570.5L501.5 571.5L500.5 571.5L499.5 570.5L499.5 567.5Z" stroke="#ffffff" fill="none"/>
<path d="M562.5 566.5L564.5 566.5L563.5 568.5L564.5 568.5L564.5 569.5L564.5 570.5L564.5 571.5L562.5 571.5L562.5 570.5 M567.5 566.5L566.5 566.5L565.5 567.5L565.5 570.5L566.5 571.5L567.5 571.5L567.5 570.5L567.5 569.5L567.5 568.5L565.5 568.5 M569.5 566.5L570.5 566.5L571.5 567.5L571.5 570.5L570.5 571.5L569.5 571.5L569.5 570.5L569.5 567.5ZM572.5 566.5L574.5 566.5L574.5 567.5L574.5 570.5L574.5 571.5L572.5 571.5L572.5 570.5L572.5 567.5Z" stroke="#ffffff" fill="none"/>
<path d="M635.5 566.5L637.5 566.5L636.5 568.5L637.5 568.5L637.5 569.5L637.5 570.5L637.5 571.5L635.5 571.5L635.5 570.5 M640.5 566.5L639.5 566.5L638.5 567.5L638.5 570.5L639.5 571.5L640.5 571.5L640.5 570.5L640.5 569.5L640.5 568.5L638.5 568.5 M642.5 566.5L643.5 566.5L644.5 567.5L644.5 570.5L643.5 571.5L642.5 571.5L642.5 570.5L642.5 567.5ZM645.5 566.5L647.5 566.5L647.5 567.5L647.5 570.5L647.5 571.5L645.5 571.5L645.5 570.5L645.5 567.5Z" stroke="#ffffff" fill="none"/>
<path d="M707.5 566.5L710.5 566.5L708.5 568.5L709.5 568.5L710.5 569.5L710.5 570.5L709.5 571.5L708.5 571.5L707.5 570.5 M713.5 566.5L711.5 566.5L711.5 567.5L711.5 570.5L711.5 571.5L712.5 571.5L713.5 570.5L713.5 569.5L712.5 568.5L711.5 568.5 M715.5 566.5L716.5 566.5L716.5 567.5L716.5 570.5L716.5 571.5L715.5 571.5L714.5 570.5L714.5 567.5ZM718.5 566.5L719.5 566.5L720.5 567.5L720.5 570.5L719.5 571.5L718.5 571.5L717.5 570.5L717.5 567.5Z" stroke="#ffffff" fill="none"/>
<path d="M780.5 566.5L782.5 566.5L781.5 568.5L782.5 568.5L782.5 569.5L782.5 570.5L782.5 571.5L780.5 571.5L780.5 570.5 M785.5 566.5L784.5 566.5L783.5 567.5L783.5 570.5L784.5 571.5L785.5 571.5L785.5 570.5L785.5 569.5L785.5 568.5L783.5 568.5 M787.5 566.5L788.5 566.5L789.5 567.5L789.5 570.5L788.5 571.5L787.5 571.5L787.5 570.5L787.5 567.5ZM790.5 566.5L792.5 566.5L792.5 567.5L792.5 570.5L792.5 571.5L790.5 571.5L790.5 570.5L790.5 567.5Z" stroke="#ffffff" fill="none"/>
<path d="M853.5 566.5L855.5 566.5L854.5 568.5L855.5 568.5L855.5 569.5L855.5 570.5L855.5 571.5L853.5 571.5L853.5 570.5 M858.5 566.5L857.5 566.5L856.5 567.5L856.5 570.5L857.5 571.5L858.5 571.5L858.5 570.5L858.5 569.5L858.5 568.5L856.5 568.5 M860.5 566.5L861.5 566.5L862.5 567.5L862.5 570.5L861.5 571.5L860.5 571.5L860.5 570.5L860.5 567.5ZM863.5 566.5L865.5 566.5L865.5 567.5L865.5 570.5L865.5 571.5L863.5 571.5L863.5 570.5L863.5 567.5Z" stroke="#ffffff" fill="none"/>
<path d="M925.5 566.5L928.5 566.5L926.5 568.5L927.5 568.5L928.5 569.5L928.5 570.5L927.5 571.5L926.5 571.5L925.5 570.5 M931.5 566.5L929.5 566.5L929.5 567.5L929.5 570.5L929.5 571.5L930.5 571.5L931.5 570.5L931.5 569.5L930.5 568.5L929.5 568.5 M933.5 566.5L934.5 566.5L934.5 567.5L934.5 570.5L934.5 571.5L933.5 571.5L932.5 570.5L932.5 567.5ZM936.5 566.5L937.5 566.5L938.5 567.5L938.5 570.5L937.5 571.5L936.5 571.5L935.5 570.5L935.5 567.5Z" stroke="#ffffff" fill="none"/>
<path d="M998.5 566.5L1000.5 566.5L999.5 568.5L1000.5 568.5L1000.5 569.5L1000.5 570.5L1000.5 571.5L998.5 571.5L998.5 570.5 M1003.5 566.5L1002.5 566.5L1001.5 567.5L1001.5 570.5L1002.5 571.5L1003.5 571.5L1003.5 570.5L1003.5 569.5L1003.5 568.5L1001.5 568.5 M1005.5 566.5L1006.5 566.5L1007.5 567.5L1007.5 570.5L1006.5 571.5L1005.5 571.5L1005.5 570.5L1005.5 567.5ZM1008.5 566.5L1010.5 566.5L1010.5 567.5L1010.5 570.5L1010.5 571.5L1008.5 571.5L1008.5 570.5L1008.5 567.5Z" stroke="#ffffff" fill="none"/>
<path d="M1071.5 566.5L1073.5 566.5L1072.5 568.5L1073.5 568.5L1073.5 569.5L1073.5 570.5L1073.5 571.5L1071.5 571.5L1071.5 570.5 M1076.5 566.5L1075.5 566.5L1074.5 567.5L1074.5 570.5L1075.5 571.5L1076.5 571.5L1076.5 570.5L1076.5 569.5L1076.5 568.5L1074.5 568.5 M1078.5 566.5L1079.5 566.5L1080.5 567.5L1080.5 570.5L1079.5 571.5L1078.5 571.5L1078.5 570.5L1078.5 567.5ZM1081.5 566.5L1083.5 566.5L1083.5 567.5L1083.5 570.5L1083.5 571.5L1081.5 571.5L1081.5 570.5L1081.5 567.5Z" stroke="#ffffff" fill="none"/>
<path d="M227.5 566.5L227.5 565.5L227.5 570.5 M230.5 565.5L231.5 565.5L232.5 566.5L232.5 569.5L231.5 570.5L230.5 570.5L229.5 569.5L229.5 566.5ZM233.5 565.5L234.5 565.5L235.5 566.5L235.5 569.5L234.5 570.5L233.5 570.5L233.5 569.5L233.5 566.5Z" stroke="#ffffff" fill="none"/>
<path d="M1120.5 566.5L1120.5 565.5L1120.5 570.5 M1123.5 565.5L1124.5 565.5L1125.5 566.5L1125.5 569.5L1124.5 570.5L1123.5 570.5L1122.5 569.5L1122.5 566.5ZM1126.5 565.5L1127.5 565.5L1128.5 566.5L1128.5 569.5L1127.5 570.5L1126.5 570.5L1126.5 569.5L1126.5 566.5Z" stroke="#ffffff" fill="none"/>
<line x1="238" y1="590.6" x2="1116" y2="590.6" stroke="#00ff00"/>
<path d="M671.5 587.5L671.5 582.5L669.5 585.5L671.5 585.5 M673.5 582.5L675.5 582.5L674.5 584.5L674.5 584.5L675.5 585.5L675.5 586.5L674.5 587.5L673.5 587.5L673.5 586.5 M676.5 583.5L676.5 582.5L678.5 582.5L678.5 583.5L678.5 584.5L676.5 587.5L678.5 587.5 M680.5 582.5L681.5 582.5L681.5 583.5L681.5 586.5L681.5 587.5L680.5 587.5L679.5 586.5L679.5 583.5ZM683.5 582.5L684.5 582.5L685.5 583.5L685.5 586.5L684.5 587.5L683.5 587.5L683.5 586.5L683.5 583.5Z" stroke="#ffffff" fill="none"/>
<path d="M610 643h7v1h-7zM611 639h6v1h-6zM611 636h1v8h-1zM610 636h1v8h-1zM610 637h1v7h-1zM611 638h4v1h-4zM610 636h1v7h-1zM618 636h7v1h-7zM618 643h7v1h-7zM618 638h6v1h-6zM619 636h1v8h-1zM618 637h1v7h-1zM620 638h1v6h-1zM619 639h4v1h-4zM618 636h1v6h-1zM625 636h7v1h-7zM625 643h7v1h-7zM626 639h6v1h-6zM626 636h1v8h-1zM625 637h1v7h-1zM626 637h4v1h-4zM629 637h1v6h-1zM632 636h7v1h-7zM632 643h7v1h-7zM633 638h6v1h-6zM635 636h1v8h-1zM638 638h1v6h-1zM636 639h1v3h-1zM633 641h6v1h-6zM636 637h1v7h-1zM641 636h6v1h-6zM640 643h7v1h-7zM641 640h6v1h-6zM645 636h1v8h-1zM640 637h1v7h-1zM640 639h5v1h-5zM646 638h1v4h-1z" fill="#ffffff"/>
<path d="M652.5 640.5L653.5 639.5L653.5 645.5 M657.5 640.5L657.5 641.5M657.5 644.5L657.5 645.5 M660.5 640.5L662.5 639.5L662.5 645.5 M665.5 639.5L666.5 639.5L667.5 640.5L667.5 644.5L666.5 645.5L665.5 645.5L664.5 644.5L664.5 640.5ZM669.5 639.5L671.5 639.5L671.5 640.5L671.5 644.5L671.5 645.5L669.5 645.5L668.5 644.5L668.5 640.5Z" stroke="#ffffff" fill="none"/>
<line x1="610" y1="654.5" x2="645" y2="654.5" stroke="#00ff00" stroke-width="1.2"/>
<path d="M578 665h5v1h-5zM579 662h4v1h-4zM579 660h1v6h-1zM582 662h1v4h-1zM584 660h5v1h-5zM584 665h5v1h-5zM584 663h4v1h-4zM587 660h1v6h-1zM588 662h1v4h-1zM586 661h1v5h-1z" fill="#ffffff"/>
<path d="M594.5 662.5L595.5 661.5L595.5 666.5 " stroke="#ffffff" fill="none"/>
<path d="M600 660h5v1h-5zM600 665h5v1h-5zM600 663h4v1h-4zM603 660h1v6h-1zM600 662h1v4h-1zM601 663h1v2h-1zM606 660h5v1h-5zM606 665h5v1h-5zM606 662h4v1h-4zM608 660h1v6h-1zM610 662h1v4h-1zM610 661h1v5h-1zM611 665h5v1h-5zM612 662h3v1h-3zM612 660h1v6h-1zM615 662h1v4h-1zM617 660h4v1h-4zM616 665h5v1h-5zM616 663h4v1h-4zM619 660h1v6h-1zM620 662h1v4h-1zM620 662h1v3h-1zM622 660h5v1h-5zM622 665h5v1h-5zM622 662h4v1h-4zM625 660h1v6h-1zM622 660h1v6h-1zM628 660h5v1h-5zM628 665h5v1h-5zM628 663h4v1h-4zM630 660h1v6h-1zM628 661h1v5h-1zM632 663h1v2h-1zM633 665h5v1h-5zM633 662h5v1h-5zM635 660h1v6h-1zM633 660h1v6h-1zM634 661h1v4h-1zM638 660h5v1h-5zM638 665h5v1h-5zM638 662h5v1h-5zM640 660h1v6h-1zM638 660h1v6h-1zM641 662h1v3h-1z" fill="#ffffff"/>
<path d="M644.5 662.5L645.5 661.5L645.5 666.5 M649.5 666.5L649.5 661.5L647.5 664.5L649.5 664.5 M652.5 666.5L652.5 661.5L650.5 664.5L653.5 664.5 " stroke="#ffffff" fill="none"/>
<path d="M656 660h4v1h-4zM655 665h5v1h-5zM655 662h4v1h-4zM656 660h1v6h-1zM655 660h1v6h-1zM658 661h1v3h-1zM662 660h4v1h-4zM661 665h5v1h-5zM662 663h4v1h-4zM664 660h1v6h-1zM665 662h1v4h-1zM663 661h1v5h-1z" fill="#ffffff"/>
<path d="M597.5 678.5L597.5 677.5L598.5 677.5L599.5 678.5L599.5 679.5L597.5 683.5L599.5 683.5 M601.5 682.5L602.5 682.5L602.5 683.5L601.5 683.5Z" stroke="#ffffff" fill="none"/>
<path d="M605 676h5v1h-5zM605 681h5v1h-5zM605 678h4v1h-4zM606 676h1v6h-1zM609 678h1v4h-1zM610 681h5v1h-5zM611 678h4v1h-4zM613 676h1v6h-1zM610 678h1v4h-1zM613 679h1v3h-1zM617 676h4v1h-4zM616 681h5v1h-5zM616 678h5v1h-5zM618 676h1v6h-1zM620 678h1v4h-1zM620 679h1v1h-1zM622 681h5v1h-5zM622 679h5v1h-5zM625 676h1v6h-1zM626 678h1v4h-1zM627 676h5v1h-5zM627 681h5v1h-5zM627 679h5v1h-5zM628 676h1v6h-1zM631 677h1v5h-1zM633 676h4v1h-4zM632 681h5v1h-5zM632 678h5v1h-5zM633 676h1v6h-1zM636 677h1v5h-1z" fill="#ffffff"/>
<path d="M640.5 677.5L638.5 677.5L638.5 678.5L638.5 682.5L638.5 683.5L639.5 683.5L640.5 682.5L640.5 680.5L639.5 679.5L638.5 679.5 M644.5 677.5L641.5 677.5L641.5 679.5L643.5 679.5L644.5 680.5L644.5 682.5L643.5 683.5L641.5 683.5 M647.5 677.5L645.5 677.5L645.5 679.5L647.5 679.5L647.5 680.5L647.5 682.5L647.5 683.5L645.5 683.5 M649.5 682.5L650.5 682.5L650.5 683.5L649.5 683.5ZM654.5 680.5L653.5 680.5L652.5 679.5L652.5 678.5L653.5 677.5L654.5 677.5L654.5 678.5L654.5 682.5L654.5 683.5L652.5 683.5 M656.5 677.5L657.5 677.5L658.5 678.5L658.5 679.5L657.5 680.5L656.5 680.5L656.5 679.5L656.5 678.5ZM656.5 680.5L656.5 681.5L656.5 682.5L656.5 683.5L657.5 683.5L658.5 682.5L658.5 681.5L657.5 680.5 " stroke="#ffffff" fill="none"/>
<path d="M661 676h4v1h-4zM660 681h5v1h-5zM660 678h4v1h-4zM663 676h1v6h-1zM664 676h1v6h-1zM666 681h5v1h-5zM667 678h4v1h-4zM668 676h1v6h-1zM666 678h1v4h-1zM667 679h1v1h-1zM672 676h4v1h-4zM671 681h5v1h-5zM671 679h4v1h-4zM674 676h1v6h-1zM675 677h1v5h-1zM674 677h1v5h-1z" fill="#ffffff"/>
<circle cx="800.5" cy="632.3" r="6" stroke="#00ff00" fill="none"/>
<path d="M799.5 631.5L800.5 629.5L800.5 634.5 " stroke="#ffffff" fill="none"/>
<line x1="800.5" y1="638.3" x2="800.5" y2="753" stroke="#00ff00"/>
<circle cx="1018.8" cy="632.3" r="6" stroke="#00ff00" fill="none"/>
<path d="M1016.5 631.5L1017.5 629.5L1017.5 634.5 M1021.5 629.5L1019.5 629.5L1019.5 630.5L1019.5 633.5L1019.5 634.5L1020.5 634.5L1021.5 633.5L1021.5 632.5L1020.5 631.5L1019.5 631.5 " stroke="#ffffff" fill="none"/>
<line x1="1018.8" y1="638.3" x2="1018.8" y2="753" stroke="#00ff00"/>
<line x1="800.5" y1="644.4" x2="1018.8" y2="644.4" stroke="#00ff00"/>
<path d="M907.5 635.5L906.5 635.5L905.5 636.5L905.5 640.5L906.5 641.5L907.5 641.5L908.5 640.5L908.5 638.5L907.5 638.5L905.5 638.5 M909.5 635.5L911.5 635.5L910.5 638.5L910.5 638.5L911.5 638.5L911.5 640.5L910.5 641.5L909.5 641.5L909.5 640.5 M913.5 635.5L914.5 635.5L914.5 636.5L914.5 640.5L914.5 641.5L913.5 641.5L912.5 640.5L912.5 636.5ZM916.5 635.5L917.5 635.5L918.5 636.5L918.5 640.5L917.5 641.5L916.5 641.5L915.5 640.5L915.5 636.5Z" stroke="#ffffff" fill="none"/>
<line x1="800.5" y1="749.4" x2="1018.8" y2="749.4" stroke="#00ff00"/>
<path d="M907.5 740.5L906.5 740.5L905.5 741.5L905.5 745.5L906.5 746.5L907.5 746.5L908.5 745.5L908.5 743.5L907.5 743.5L905.5 743.5 M909.5 740.5L911.5 740.5L910.5 743.5L910.5 743.5L911.5 743.5L911.5 745.5L910.5 746.5L909.5 746.5L909.5 745.5 M913.5 740.5L914.5 740.5L914.5 741.5L914.5 745.5L914.5 746.5L913.5 746.5L912.5 745.5L912.5 741.5ZM916.5 740.5L917.5 740.5L918.5 741.5L918.5 745.5L917.5 746.5L916.5 746.5L915.5 745.5L915.5 741.5Z" stroke="#ffffff" fill="none"/>
<circle cx="770.8" cy="656.7" r="6" stroke="#00ff00" fill="none"/>
<path d="M771.5 654.5L769.5 654.5L769.5 659.5M769.5 656.5L771.5 656.5 " stroke="#ffffff" fill="none"/>
<circle cx="1047.5" cy="656.7" r="6" stroke="#00ff00" fill="none"/>
<path d="M1048.5 654.5L1046.5 654.5L1046.5 659.5M1046.5 656.5L1048.5 656.5 " stroke="#ffffff" fill="none"/>
<circle cx="770.8" cy="736.5" r="6" stroke="#00ff00" fill="none"/>
<path d="M769.5 739.5L770.5 734.5L771.5 739.5M770.5 737.5L771.5 737.5 " stroke="#ffffff" fill="none"/>
<circle cx="1047.5" cy="736.5" r="6" stroke="#00ff00" fill="none"/>
<path d="M1046.5 739.5L1047.5 734.5L1048.5 739.5M1046.5 737.5L1048.5 737.5 " stroke="#ffffff" fill="none"/>
<line x1="790" y1="652.8" x2="1030" y2="652.8" stroke="#800000" stroke-dasharray="30,2,1,2"/>
<line x1="790" y1="740.3" x2="1030" y2="740.3" stroke="#800000" stroke-dasharray="30,2,1,2"/>
<line x1="776.8" y1="652.5" x2="790" y2="652.5" stroke="#00ff00"/>
<line x1="1030" y1="652.5" x2="1041.5" y2="652.5" stroke="#00ff00"/>
<line x1="776.8" y1="741" x2="790" y2="741" stroke="#00ff00"/>
<line x1="1030" y1="741" x2="1041.5" y2="741" stroke="#00ff00"/>
<line x1="782.6" y1="652" x2="782.6" y2="741" stroke="#00ff00"/>
<line x1="1035.6" y1="652" x2="1035.6" y2="741" stroke="#00ff00"/>
<path d="M774.5 693.5L775.5 692.5L775.5 697.5 M777.5 692.5L778.5 692.5L779.5 693.5L779.5 693.5L778.5 694.5L777.5 694.5L777.5 693.5L777.5 693.5ZM777.5 694.5L777.5 695.5L777.5 696.5L777.5 697.5L778.5 697.5L779.5 696.5L779.5 695.5L778.5 694.5 M781.5 692.5L782.5 692.5L782.5 693.5L782.5 696.5L782.5 697.5L781.5 697.5L780.5 696.5L780.5 693.5ZM784.5 692.5L785.5 692.5L785.5 693.5L785.5 696.5L785.5 697.5L784.5 697.5L783.5 696.5L783.5 693.5Z" stroke="#ffffff" fill="none" transform="rotate(-90 780 697)"/>
<path d="M1026.5 693.5L1027.5 692.5L1027.5 697.5 M1029.5 692.5L1030.5 692.5L1031.5 693.5L1031.5 693.5L1030.5 694.5L1029.5 694.5L1029.5 693.5L1029.5 693.5ZM1029.5 694.5L1029.5 695.5L1029.5 696.5L1029.5 697.5L1030.5 697.5L1031.5 696.5L1031.5 695.5L1030.5 694.5 M1033.5 692.5L1034.5 692.5L1034.5 693.5L1034.5 696.5L1034.5 697.5L1033.5 697.5L1032.5 696.5L1032.5 693.5ZM1036.5 692.5L1037.5 692.5L1037.5 693.5L1037.5 696.5L1037.5 697.5L1036.5 697.5L1035.5 696.5L1035.5 693.5Z" stroke="#ffffff" fill="none" transform="rotate(-90 1032 697)"/>
<rect x="800.5" y="656.7" width="218.9" height="80.8" stroke="#ccff99" fill="none"/>
<line x1="800.5" y1="690" x2="1019.4" y2="690" stroke="#ccff99"/>
<line x1="800.5" y1="703.5" x2="1019.4" y2="703.5" stroke="#ccff99"/>
<rect x="800.5" y="656.7" width="16" height="33.3" stroke="#ccff99" fill="none"/>
<path d="M800.5 656.7L816.5 690M816.5 656.7L800.5 690" stroke="#ccff99" fill="none"/>
<path d="M803.5 681.5L804.5 681.5M803.5 681.5L803.5 685.5 M805.5 681.5L805.5 685.5L806.5 685.5 M807.5 685.5L807.5 681.5L808.5 683.5L809.5 681.5L809.5 685.5 M810.5 684.5L811.5 684.5L811.5 685.5L810.5 685.5ZM812.5 684.5L813.5 684.5L813.5 685.5L812.5 685.5Z" stroke="#ffffff" fill="none"/>
<rect x="964.2" y="656.7" width="15.3" height="33.3" stroke="#ccff99" fill="none"/>
<path d="M964.2 656.7L979.5 690M979.5 656.7L964.2 690" stroke="#ccff99" fill="none"/>
<path d="M966.5 681.5L967.5 681.5M967.5 681.5L967.5 685.5 M968.5 681.5L968.5 685.5L970.5 685.5 M971.5 685.5L971.5 681.5L971.5 683.5L972.5 681.5L972.5 685.5 M973.5 684.5L974.5 684.5L974.5 685.5L973.5 685.5ZM976.5 684.5L976.5 684.5L976.5 685.5L976.5 685.5Z" stroke="#ffffff" fill="none"/>
<line x1="816.5" y1="697" x2="964.2" y2="697" stroke="#ff7f7f"/>
<line x1="816.5" y1="694" x2="816.5" y2="699" stroke="#ff7f7f"/>
<line x1="964.2" y1="694" x2="964.2" y2="699" stroke="#ff7f7f"/>
<line x1="979.5" y1="698" x2="1018" y2="698" stroke="#ff7f7f"/>
<line x1="979.5" y1="695" x2="979.5" y2="700" stroke="#ff7f7f"/>
<line x1="1018" y1="695" x2="1018" y2="700" stroke="#ff7f7f"/>
<path d="M883.5 689.5L886.5 689.5L884.5 692.5L885.5 692.5L886.5 692.5L886.5 694.5L885.5 695.5L884.5 695.5L883.5 694.5 M887.5 689.5L888.5 689.5L889.5 690.5L889.5 694.5L888.5 695.5L887.5 695.5L887.5 694.5L887.5 690.5ZM892.5 695.5L892.5 689.5L890.5 693.5L892.5 693.5 M896.5 689.5L893.5 689.5L893.5 692.5L895.5 692.5L896.5 692.5L896.5 694.5L895.5 695.5L893.5 695.5 " stroke="#ffffff" fill="none"/>
<path d="M995.5 690.5L996.5 690.5L996.5 691.5L996.5 692.5L996.5 693.5L995.5 693.5L994.5 692.5L994.5 691.5ZM995.5 693.5L994.5 694.5L994.5 695.5L995.5 696.5L996.5 696.5L996.5 695.5L996.5 694.5L996.5 693.5 M997.5 690.5L1000.5 690.5L1000.5 691.5L998.5 696.5 M1003.5 690.5L1001.5 690.5L1001.5 693.5L1002.5 693.5L1003.5 693.5L1003.5 695.5L1002.5 696.5L1001.5 696.5 " stroke="#ffffff" fill="none"/>
<path d="M905.5 698.5L907.5 698.5M906.5 698.5L906.5 702.5M907.5 698.5L907.5 702.5M906.5 700.5L907.5 700.5M906.5 698.5L906.5 702.5M906.5 702.5L907.5 702.5 M908.5 698.5L910.5 698.5M908.5 698.5L908.5 702.5M909.5 698.5L909.5 702.5M908.5 700.5L909.5 700.5M909.5 698.5L909.5 702.5M908.5 702.5L909.5 702.5 " stroke="#ffffff" fill="none"/>
<path d="M881 708h3v1h-3zM880 712h4v1h-4zM881 710h2v1h-2zM882 708h1v5h-1zM883 708h1v5h-1zM883 710h1v2h-1zM884 708h4v1h-4zM884 712h4v1h-4zM884 710h3v1h-3zM885 708h1v5h-1zM884 709h1v4h-1zM886 710h1v3h-1zM888 708h4v1h-4zM888 712h4v1h-4zM888 710h4v1h-4zM889 708h1v5h-1zM888 710h1v3h-1zM893 708h3v1h-3zM892 712h4v1h-4zM892 710h3v1h-3zM894 708h1v5h-1zM895 709h1v4h-1zM897 708h3v1h-3zM896 712h4v1h-4zM896 710h3v1h-3zM897 708h1v5h-1zM896 708h1v5h-1zM898 710h1v1h-1zM900 712h4v1h-4zM901 710h2v1h-2zM902 708h1v5h-1zM900 708h1v5h-1zM904 708h4v1h-4zM904 712h4v1h-4zM904 710h3v1h-3zM906 708h1v5h-1zM907 709h1v4h-1zM905 710h1v3h-1zM908 708h4v1h-4zM908 712h4v1h-4zM909 710h3v1h-3zM909 708h1v5h-1zM911 708h1v5h-1zM908 709h1v3h-1zM912 708h4v1h-4zM912 712h4v1h-4zM913 710h2v1h-2zM913 708h1v5h-1zM912 710h1v3h-1zM912 711h1v1h-1z" fill="#ffffff"/>
<line x1="606.5" y1="108" x2="606.5" y2="212" stroke="#00ffff"/>
<line x1="664.5" y1="108" x2="664.5" y2="239" stroke="#00ffff"/>
<line x1="608.5" y1="108" x2="608.5" y2="212" stroke="#00ffff"/>
<line x1="608" y1="134.3" x2="624" y2="134.3" stroke="#ff00ff"/>
<line x1="608" y1="154.3" x2="624" y2="154.3" stroke="#ff00ff"/>
<line x1="608" y1="174.2" x2="624" y2="174.2" stroke="#ff00ff"/>
<line x1="608" y1="194.8" x2="624" y2="194.8" stroke="#ff00ff" stroke-width="1.8"/>
<line x1="646" y1="132.4" x2="664" y2="132.4" stroke="#ff00ff"/>
<line x1="646" y1="152.4" x2="664" y2="152.4" stroke="#ff00ff"/>
<line x1="646" y1="172.6" x2="664" y2="172.6" stroke="#ff00ff"/>
<line x1="646" y1="193" x2="664" y2="193" stroke="#ff00ff" stroke-width="1.8"/>
<circle cx="611.5" cy="124" r="1.5" stroke="#808080" fill="#808080"/>
<line x1="613" y1="121" x2="616" y2="121" stroke="#808080"/>
<circle cx="661.5" cy="126" r="1.5" stroke="#808080" fill="#808080"/>
<line x1="656" y1="122" x2="659" y2="122" stroke="#808080"/>
<circle cx="611.5" cy="147" r="1.5" stroke="#808080" fill="#808080"/>
<line x1="613" y1="144" x2="616" y2="144" stroke="#808080"/>
<circle cx="661.5" cy="149" r="1.5" stroke="#808080" fill="#808080"/>
<line x1="656" y1="145" x2="659" y2="145" stroke="#808080"/>
<circle cx="611.5" cy="167.5" r="1.5" stroke="#808080" fill="#808080"/>
<line x1="613" y1="164.5" x2="616" y2="164.5" stroke="#808080"/>
<circle cx="661.5" cy="169.5" r="1.5" stroke="#808080" fill="#808080"/>
<line x1="656" y1="165.5" x2="659" y2="165.5" stroke="#808080"/>
<circle cx="611.5" cy="187.8" r="1.5" stroke="#808080" fill="#808080"/>
<line x1="613" y1="184.8" x2="616" y2="184.8" stroke="#808080"/>
<circle cx="661.5" cy="189.8" r="1.5" stroke="#808080" fill="#808080"/>
<line x1="656" y1="185.8" x2="659" y2="185.8" stroke="#808080"/>
<path d="M614.5 161.5L616.5 161.5M615.5 161.5L615.5 166.5 M617.5 161.5L617.5 166.5L619.5 166.5 M623.5 161.5L625.5 161.5L624.5 163.5L624.5 163.5L625.5 164.5L625.5 165.5L624.5 166.5L623.5 166.5L623.5 165.5 M627.5 165.5L627.5 165.5L627.5 166.5L627.5 166.5ZM629.5 161.5L631.5 161.5L630.5 163.5L631.5 163.5L631.5 164.5L631.5 165.5L631.5 166.5L630.5 166.5L629.5 165.5 M633.5 161.5L634.5 161.5L634.5 162.5L634.5 162.5L634.5 163.5L633.5 163.5L632.5 162.5L632.5 162.5ZM633.5 163.5L632.5 164.5L632.5 165.5L633.5 166.5L634.5 166.5L634.5 165.5L634.5 164.5L634.5 163.5 M636.5 161.5L636.5 162.5L636.5 164.5L636.5 166.5 M638.5 161.5L640.5 161.5M639.5 161.5L639.5 166.5M640.5 161.5L640.5 166.5M639.5 163.5L640.5 163.5M639.5 161.5L639.5 166.5M639.5 166.5L640.5 166.5 M642.5 161.5L643.5 162.5L643.5 164.5L642.5 166.5 " stroke="#ffffff" fill="none"/>
<path d="M617.5 168.5L619.5 168.5M618.5 168.5L618.5 173.5 M620.5 168.5L620.5 173.5L622.5 173.5 M626.5 168.5L628.5 168.5L627.5 170.5L628.5 170.5L628.5 171.5L628.5 172.5L628.5 173.5L627.5 173.5L626.5 172.5 M630.5 172.5L631.5 172.5L631.5 173.5L630.5 173.5ZM633.5 168.5L635.5 168.5L634.5 170.5L634.5 170.5L635.5 171.5L635.5 172.5L634.5 173.5L633.5 173.5L633.5 172.5 M637.5 168.5L636.5 169.5L636.5 171.5L637.5 173.5 M639.5 168.5L641.5 168.5M639.5 168.5L639.5 173.5M641.5 168.5L641.5 173.5M639.5 170.5L641.5 170.5M640.5 168.5L640.5 173.5M639.5 173.5L641.5 173.5 M643.5 168.5L643.5 169.5L643.5 171.5L643.5 173.5 " stroke="#ffffff" fill="none"/>
<polygon points="620,176.5 630,176.5 625,182" stroke="#00ff00" fill="none"/>
<line x1="620" y1="176.5" x2="643" y2="176.5" stroke="#00ff00"/>
<path d="M628 191h4v1h-4zM629 189h2v1h-2zM629 187h1v5h-1zM631 188h1v4h-1zM634 187h4v1h-4zM634 191h4v1h-4zM634 189h3v1h-3zM635 187h1v5h-1zM637 189h1v3h-1z" fill="#ffffff"/>
<rect x="606.5" y="211.5" width="31" height="27" stroke="#00ffff" fill="none"/>
<rect x="609.5" y="215.5" width="25" height="20" stroke="#00ffff" fill="none"/>
<path d="M615.5 218.5L615.5 222.5L615.5 219.5L616.5 222.5L616.5 218.5 M619.5 218.5L619.5 221.5L618.5 222.5L618.5 222.5L617.5 221.5 " stroke="#ffffff" fill="none"/>
<line x1="612" y1="228" x2="630" y2="228" stroke="#7098f8"/>
<rect x="664.9" y="156.4" width="3.2" height="3.2" stroke="#ffffff" fill="#ff00ff"/>
<rect x="664.9" y="211.4" width="3.2" height="3.2" stroke="#ffffff" fill="#ff00ff"/>
<rect x="664.9" y="237.9" width="3.2" height="3.2" stroke="#ffffff" fill="#ff00ff"/>
<polygon points="669,108 736.5,108 736.5,199.5 724.5,199.5 724.5,120.5 680.5,120.5 680.5,199.5 669,199.5" stroke="#909090" fill="none" stroke-width="2"/>
<line x1="681" y1="125" x2="684" y2="125" stroke="#808080"/>
<line x1="721" y1="125" x2="724" y2="125" stroke="#808080"/>
<line x1="681" y1="134" x2="684" y2="134" stroke="#808080"/>
<line x1="721" y1="134" x2="724" y2="134" stroke="#808080"/>
<line x1="681" y1="143" x2="684" y2="143" stroke="#808080"/>
<line x1="721" y1="143" x2="724" y2="143" stroke="#808080"/>
<line x1="681" y1="152" x2="684" y2="152" stroke="#808080"/>
<line x1="721" y1="152" x2="724" y2="152" stroke="#808080"/>
<line x1="681" y1="161" x2="684" y2="161" stroke="#808080"/>
<line x1="721" y1="161" x2="724" y2="161" stroke="#808080"/>
<line x1="681" y1="170" x2="684" y2="170" stroke="#808080"/>
<line x1="721" y1="170" x2="724" y2="170" stroke="#808080"/>
<line x1="681" y1="179" x2="684" y2="179" stroke="#808080"/>
<line x1="721" y1="179" x2="724" y2="179" stroke="#808080"/>
<line x1="681" y1="188" x2="684" y2="188" stroke="#808080"/>
<line x1="721" y1="188" x2="724" y2="188" stroke="#808080"/>
<line x1="681" y1="197" x2="684" y2="197" stroke="#808080"/>
<line x1="721" y1="197" x2="724" y2="197" stroke="#808080"/>
<line x1="688" y1="120" x2="688" y2="123" stroke="#808080"/>
<line x1="697" y1="120" x2="697" y2="123" stroke="#808080"/>
<line x1="706" y1="120" x2="706" y2="123" stroke="#808080"/>
<line x1="715" y1="120" x2="715" y2="123" stroke="#808080"/>
<rect x="668.5" y="201.5" width="12" height="13" stroke="#808080" fill="none"/>
<path d="M668.5 201.5L680.5 214.5M680.5 201.5L668.5 214.5" stroke="#808080" fill="none"/>
<circle cx="674" cy="215" r="1.5" stroke="#808080" fill="#808080"/>
<rect x="731" y="105" width="12.5" height="12.5" stroke="#00ffff" fill="#808080"/>
<line x1="764.5" y1="108" x2="764.5" y2="200" stroke="#ff00ff"/>
<line x1="739" y1="127.4" x2="764.5" y2="127.4" stroke="#ff00ff"/>
<line x1="739" y1="145.5" x2="764.5" y2="145.5" stroke="#ff00ff"/>
<line x1="739" y1="163.5" x2="764.5" y2="163.5" stroke="#ff00ff"/>
<line x1="739" y1="181.6" x2="764.5" y2="181.6" stroke="#ff00ff"/>
<line x1="739" y1="199.6" x2="764.5" y2="199.6" stroke="#ff00ff"/>
<rect x="745" y="118" width="13" height="6" stroke="#808080" fill="none"/>
<line x1="748" y1="121" x2="753" y2="121" stroke="#808080"/>
<rect x="745" y="134" width="13" height="6" stroke="#808080" fill="none"/>
<line x1="748" y1="137" x2="753" y2="137" stroke="#808080"/>
<rect x="745" y="152" width="13" height="6" stroke="#808080" fill="none"/>
<line x1="748" y1="155" x2="753" y2="155" stroke="#808080"/>
<rect x="745" y="170" width="13" height="6" stroke="#808080" fill="none"/>
<line x1="748" y1="173" x2="753" y2="173" stroke="#808080"/>
<rect x="745" y="188" width="13" height="6" stroke="#808080" fill="none"/>
<line x1="748" y1="191" x2="753" y2="191" stroke="#808080"/>
<path d="M764.5 111Q777 117 764.5 124" stroke="#ff00ff" fill="none"/>
<path d="M764.5 130.4Q777 136.4 764.5 143.4" stroke="#ff00ff" fill="none"/>
<path d="M764.5 148.5Q777 154.5 764.5 161.5" stroke="#ff00ff" fill="none"/>
<path d="M764.5 166.5Q777 172.5 764.5 179.5" stroke="#ff00ff" fill="none"/>
<path d="M764.5 184.6Q777 190.6 764.5 197.6" stroke="#ff00ff" fill="none"/>
<line x1="791.6" y1="108" x2="791.6" y2="199" stroke="#ff00ff"/>
<line x1="841.3" y1="108" x2="841.3" y2="199" stroke="#ff00ff"/>
<line x1="816.5" y1="108" x2="816.5" y2="213" stroke="#00ffff"/>
<line x1="791.6" y1="126.3" x2="841.3" y2="126.3" stroke="#ff00ff"/>
<line x1="791.6" y1="144.3" x2="841.3" y2="144.3" stroke="#ff00ff"/>
<line x1="791.6" y1="162.4" x2="841.3" y2="162.4" stroke="#ff00ff"/>
<line x1="791.6" y1="180.5" x2="841.3" y2="180.5" stroke="#ff00ff"/>
<line x1="791.6" y1="198.5" x2="841.3" y2="198.5" stroke="#ff00ff"/>
<rect x="799" y="114" width="13" height="6" stroke="#808080" fill="none"/>
<line x1="802" y1="117" x2="807" y2="117" stroke="#808080"/>
<rect x="822" y="114" width="13" height="6" stroke="#808080" fill="none"/>
<line x1="825" y1="117" x2="830" y2="117" stroke="#808080"/>
<path d="M791.6 113Q779 119 791.6 126" stroke="#ff00ff" fill="none"/>
<path d="M841.3 113Q854 119 841.3 126" stroke="#ff00ff" fill="none"/>
<rect x="799" y="132" width="13" height="6" stroke="#808080" fill="none"/>
<line x1="802" y1="135" x2="807" y2="135" stroke="#808080"/>
<rect x="822" y="132" width="13" height="6" stroke="#808080" fill="none"/>
<line x1="825" y1="135" x2="830" y2="135" stroke="#808080"/>
<path d="M791.6 131Q779 137 791.6 144" stroke="#ff00ff" fill="none"/>
<path d="M841.3 131Q854 137 841.3 144" stroke="#ff00ff" fill="none"/>
<rect x="799" y="150" width="13" height="6" stroke="#808080" fill="none"/>
<line x1="802" y1="153" x2="807" y2="153" stroke="#808080"/>
<rect x="822" y="150" width="13" height="6" stroke="#808080" fill="none"/>
<line x1="825" y1="153" x2="830" y2="153" stroke="#808080"/>
<path d="M791.6 149Q779 155 791.6 162" stroke="#ff00ff" fill="none"/>
<path d="M841.3 149Q854 155 841.3 162" stroke="#ff00ff" fill="none"/>
<rect x="799" y="168" width="13" height="6" stroke="#808080" fill="none"/>
<line x1="802" y1="171" x2="807" y2="171" stroke="#808080"/>
<rect x="822" y="168" width="13" height="6" stroke="#808080" fill="none"/>
<line x1="825" y1="171" x2="830" y2="171" stroke="#808080"/>
<path d="M791.6 167Q779 173 791.6 180" stroke="#ff00ff" fill="none"/>
<path d="M841.3 167Q854 173 841.3 180" stroke="#ff00ff" fill="none"/>
<rect x="799" y="186" width="13" height="6" stroke="#808080" fill="none"/>
<line x1="802" y1="189" x2="807" y2="189" stroke="#808080"/>
<rect x="822" y="186" width="13" height="6" stroke="#808080" fill="none"/>
<line x1="825" y1="189" x2="830" y2="189" stroke="#808080"/>
<path d="M791.6 185Q779 191 791.6 198" stroke="#ff00ff" fill="none"/>
<path d="M841.3 185Q854 191 841.3 198" stroke="#ff00ff" fill="none"/>
<rect x="793" y="111" width="20" height="6" stroke="#7098f8" fill="none"/>
<path d="M796.5 112.5L796.5 116.5L796.5 113.5L797.5 116.5L797.5 112.5 M800.5 112.5L800.5 115.5L799.5 116.5L799.5 116.5L798.5 115.5 M801.5 115.5L802.5 115.5L802.5 116.5L801.5 116.5Z" stroke="#ffffff" fill="none"/>
<line x1="869.5" y1="108" x2="869.5" y2="236" stroke="#ff00ff"/>
<line x1="869.5" y1="128" x2="895" y2="128" stroke="#ff00ff"/>
<line x1="869.5" y1="146" x2="895" y2="146" stroke="#ff00ff"/>
<line x1="869.5" y1="164" x2="895" y2="164" stroke="#ff00ff"/>
<line x1="869.5" y1="182" x2="895" y2="182" stroke="#ff00ff"/>
<line x1="869.5" y1="200" x2="895" y2="200" stroke="#ff00ff"/>
<line x1="869.5" y1="218" x2="895" y2="218" stroke="#ff00ff"/>
<line x1="869.5" y1="236" x2="895" y2="236" stroke="#ff00ff"/>
<rect x="877" y="115" width="13" height="6" stroke="#808080" fill="none"/>
<line x1="880" y1="118" x2="885" y2="118" stroke="#808080"/>
<rect x="877" y="133" width="13" height="6" stroke="#808080" fill="none"/>
<line x1="880" y1="136" x2="885" y2="136" stroke="#808080"/>
<rect x="877" y="151" width="13" height="6" stroke="#808080" fill="none"/>
<line x1="880" y1="154" x2="885" y2="154" stroke="#808080"/>
<rect x="877" y="169" width="13" height="6" stroke="#808080" fill="none"/>
<line x1="880" y1="172" x2="885" y2="172" stroke="#808080"/>
<rect x="877" y="187" width="13" height="6" stroke="#808080" fill="none"/>
<line x1="880" y1="190" x2="885" y2="190" stroke="#808080"/>
<rect x="877" y="205" width="13" height="6" stroke="#808080" fill="none"/>
<line x1="880" y1="208" x2="885" y2="208" stroke="#808080"/>
<rect x="877" y="223" width="13" height="6" stroke="#808080" fill="none"/>
<line x1="880" y1="226" x2="885" y2="226" stroke="#808080"/>
<path d="M869.5 112Q857 118 869.5 125" stroke="#ff00ff" fill="none"/>
<path d="M869.5 130Q857 136 869.5 143" stroke="#ff00ff" fill="none"/>
<path d="M869.5 148Q857 154 869.5 161" stroke="#ff00ff" fill="none"/>
<path d="M869.5 166Q857 172 869.5 179" stroke="#ff00ff" fill="none"/>
<path d="M869.5 184Q857 190 869.5 197" stroke="#ff00ff" fill="none"/>
<path d="M869.5 202Q857 208 869.5 215" stroke="#ff00ff" fill="none"/>
<path d="M869.5 220Q857 226 869.5 233" stroke="#ff00ff" fill="none"/>
<rect x="872" y="111" width="20" height="6" stroke="#7098f8" fill="none"/>
<line x1="895.5" y1="108" x2="895.5" y2="239" stroke="#00ffff"/>
<line x1="893.5" y1="108" x2="893.5" y2="239" stroke="#00ffff"/>
<rect x="893.9" y="182.4" width="3.2" height="3.2" stroke="#ffffff" fill="#ff00ff"/>
<path d="M680.5 161.5L682.5 161.5M681.5 161.5L681.5 166.5 M683.5 161.5L683.5 166.5L685.5 166.5 M689.5 161.5L691.5 161.5L690.5 163.5L690.5 163.5L691.5 164.5L691.5 165.5L690.5 166.5L689.5 166.5L689.5 165.5 M693.5 165.5L693.5 165.5L693.5 166.5L693.5 166.5ZM695.5 161.5L697.5 161.5L696.5 163.5L697.5 163.5L697.5 164.5L697.5 165.5L697.5 166.5L696.5 166.5L695.5 165.5 M699.5 161.5L700.5 161.5L700.5 162.5L700.5 162.5L700.5 163.5L699.5 163.5L698.5 162.5L698.5 162.5ZM699.5 163.5L698.5 164.5L698.5 165.5L699.5 166.5L700.5 166.5L700.5 165.5L700.5 164.5L700.5 163.5 M702.5 161.5L702.5 162.5L702.5 164.5L702.5 166.5 M704.5 161.5L706.5 161.5M705.5 161.5L705.5 166.5M706.5 161.5L706.5 166.5M705.5 163.5L706.5 163.5M705.5 161.5L705.5 166.5M705.5 166.5L706.5 166.5 M708.5 161.5L709.5 162.5L709.5 164.5L708.5 166.5 " stroke="#ffffff" fill="none"/>
<path d="M683.5 168.5L685.5 168.5M684.5 168.5L684.5 173.5 M686.5 168.5L686.5 173.5L688.5 173.5 M692.5 168.5L694.5 168.5L693.5 170.5L694.5 170.5L694.5 171.5L694.5 172.5L694.5 173.5L693.5 173.5L692.5 172.5 M696.5 172.5L697.5 172.5L697.5 173.5L696.5 173.5ZM699.5 168.5L701.5 168.5L700.5 170.5L700.5 170.5L701.5 171.5L701.5 172.5L700.5 173.5L699.5 173.5L699.5 172.5 M703.5 168.5L702.5 169.5L702.5 171.5L703.5 173.5 M705.5 168.5L707.5 168.5M705.5 168.5L705.5 173.5M707.5 168.5L707.5 173.5M705.5 170.5L707.5 170.5M706.5 168.5L706.5 173.5M705.5 173.5L707.5 173.5 M709.5 168.5L709.5 169.5L709.5 171.5L709.5 173.5 " stroke="#ffffff" fill="none"/>
<polygon points="688,176.5 698,176.5 693,182" stroke="#00ff00" fill="none"/>
<line x1="688" y1="176.5" x2="708" y2="176.5" stroke="#00ff00"/>
<path d="M758.5 161.5L760.5 161.5M759.5 161.5L759.5 166.5 M761.5 161.5L761.5 166.5L763.5 166.5 M767.5 161.5L769.5 161.5L768.5 163.5L768.5 163.5L769.5 164.5L769.5 165.5L768.5 166.5L767.5 166.5L767.5 165.5 M771.5 165.5L771.5 165.5L771.5 166.5L771.5 166.5ZM773.5 161.5L775.5 161.5L774.5 163.5L775.5 163.5L775.5 164.5L775.5 165.5L775.5 166.5L774.5 166.5L773.5 165.5 M777.5 161.5L778.5 161.5L778.5 162.5L778.5 162.5L778.5 163.5L777.5 163.5L776.5 162.5L776.5 162.5ZM777.5 163.5L776.5 164.5L776.5 165.5L777.5 166.5L778.5 166.5L778.5 165.5L778.5 164.5L778.5 163.5 M780.5 161.5L780.5 162.5L780.5 164.5L780.5 166.5 M782.5 161.5L784.5 161.5M783.5 161.5L783.5 166.5M784.5 161.5L784.5 166.5M783.5 163.5L784.5 163.5M783.5 161.5L783.5 166.5M783.5 166.5L784.5 166.5 M786.5 161.5L787.5 162.5L787.5 164.5L786.5 166.5 " stroke="#ffffff" fill="none"/>
<path d="M761.5 168.5L763.5 168.5M762.5 168.5L762.5 173.5 M764.5 168.5L764.5 173.5L766.5 173.5 M770.5 168.5L772.5 168.5L771.5 170.5L772.5 170.5L772.5 171.5L772.5 172.5L772.5 173.5L771.5 173.5L770.5 172.5 M774.5 172.5L775.5 172.5L775.5 173.5L774.5 173.5ZM777.5 168.5L779.5 168.5L778.5 170.5L778.5 170.5L779.5 171.5L779.5 172.5L778.5 173.5L777.5 173.5L777.5 172.5 M781.5 168.5L780.5 169.5L780.5 171.5L781.5 173.5 M783.5 168.5L785.5 168.5M783.5 168.5L783.5 173.5M785.5 168.5L785.5 173.5M783.5 170.5L785.5 170.5M784.5 168.5L784.5 173.5M783.5 173.5L785.5 173.5 M787.5 168.5L787.5 169.5L787.5 171.5L787.5 173.5 " stroke="#ffffff" fill="none"/>
<polygon points="765,176.5 775,176.5 770,182" stroke="#00ff00" fill="none"/>
<line x1="765" y1="176.5" x2="788" y2="176.5" stroke="#00ff00"/>
<rect x="889" y="105" width="12.5" height="12.5" stroke="#00ffff" fill="#808080"/>
<path d="M715 187h3v1h-3zM714 191h4v1h-4zM714 189h3v1h-3zM716 187h1v5h-1zM714 187h1v5h-1zM716 190h1v0h-1zM720 191h4v1h-4zM721 189h3v1h-3zM721 187h1v5h-1zM723 187h1v5h-1zM723 188h1v2h-1z" fill="#ffffff"/>
<path d="M838.5 161.5L840.5 161.5M839.5 161.5L839.5 166.5 M841.5 161.5L841.5 166.5L843.5 166.5 M847.5 161.5L849.5 161.5L848.5 163.5L848.5 163.5L849.5 164.5L849.5 165.5L848.5 166.5L847.5 166.5L847.5 165.5 M851.5 165.5L851.5 165.5L851.5 166.5L851.5 166.5ZM853.5 161.5L855.5 161.5L854.5 163.5L855.5 163.5L855.5 164.5L855.5 165.5L855.5 166.5L854.5 166.5L853.5 165.5 M857.5 161.5L858.5 161.5L858.5 162.5L858.5 162.5L858.5 163.5L857.5 163.5L856.5 162.5L856.5 162.5ZM857.5 163.5L856.5 164.5L856.5 165.5L857.5 166.5L858.5 166.5L858.5 165.5L858.5 164.5L858.5 163.5 M860.5 161.5L860.5 162.5L860.5 164.5L860.5 166.5 M862.5 161.5L864.5 161.5M863.5 161.5L863.5 166.5M864.5 161.5L864.5 166.5M863.5 163.5L864.5 163.5M863.5 161.5L863.5 166.5M863.5 166.5L864.5 166.5 M866.5 161.5L867.5 162.5L867.5 164.5L866.5 166.5 " stroke="#ffffff" fill="none"/>
<path d="M839.5 168.5L841.5 168.5M840.5 168.5L840.5 173.5 M842.5 168.5L842.5 173.5L844.5 173.5 M848.5 168.5L850.5 168.5L849.5 170.5L850.5 170.5L850.5 171.5L850.5 172.5L850.5 173.5L849.5 173.5L848.5 172.5 M852.5 172.5L853.5 172.5L853.5 173.5L852.5 173.5ZM855.5 168.5L857.5 168.5L856.5 170.5L856.5 170.5L857.5 171.5L857.5 172.5L856.5 173.5L855.5 173.5L855.5 172.5 M859.5 168.5L858.5 169.5L858.5 171.5L859.5 173.5 M861.5 168.5L863.5 168.5M861.5 168.5L861.5 173.5M863.5 168.5L863.5 173.5M861.5 170.5L863.5 170.5M862.5 168.5L862.5 173.5M861.5 173.5L863.5 173.5 M865.5 168.5L865.5 169.5L865.5 171.5L865.5 173.5 " stroke="#ffffff" fill="none"/>
<polygon points="845,176.5 855,176.5 850,182" stroke="#00ff00" fill="none"/>
<line x1="845" y1="176.5" x2="868" y2="176.5" stroke="#00ff00"/>
<path d="M771 187h3v1h-3zM770 191h4v1h-4zM770 189h4v1h-4zM771 187h1v5h-1zM773 189h1v3h-1zM772 190h1v0h-1zM776 187h4v1h-4zM776 191h4v1h-4zM777 189h3v1h-3zM778 187h1v5h-1zM779 187h1v5h-1zM777 190h1v0h-1z" fill="#ffffff"/>
<rect x="735.5" y="223.5" width="39" height="15" stroke="#00ffff" fill="none"/>
<rect x="737" y="230" width="14" height="10" stroke="#00ffff" fill="#808080"/>
<rect x="752.5" y="225.5" width="19" height="11" stroke="#ffffff" fill="none"/>
<path d="M755.5 229.5L756.5 231.5L757.5 229.5M756.5 231.5L756.5 234.5 M758.5 229.5L758.5 234.5L760.5 234.5 M761.5 230.5L762.5 229.5L762.5 234.5 M766.5 229.5L764.5 229.5L764.5 231.5L765.5 231.5L766.5 232.5L766.5 233.5L765.5 234.5L764.5 234.5 " stroke="#ffffff" fill="none"/>
<rect x="640.5" y="237.5" width="14" height="3.5" stroke="#ffffff" fill="#000"/>
<rect x="773.5" y="237.5" width="14" height="3.5" stroke="#ffffff" fill="#000"/>
<path d="M643.5 231.5L644.5 231.5L644.5 232.5L644.5 233.5L644.5 234.5L643.5 234.5L643.5 233.5L643.5 232.5Z" stroke="#ff0000" fill="none"/>
<path d="M776.5 231.5L777.5 231.5L777.5 232.5L777.5 233.5L777.5 234.5L776.5 234.5L776.5 233.5L776.5 232.5Z" stroke="#ff0000" fill="none"/>
<line x1="691" y1="237.3" x2="727" y2="237.3" stroke="#ffff00"/>
<path d="M703.5 243.5L702.5 242.5L701.5 242.5L701.5 243.5L701.5 246.5L701.5 247.5L702.5 247.5L703.5 246.5 M704.5 242.5L705.5 242.5L705.5 243.5L705.5 246.5L705.5 247.5L704.5 247.5L704.5 246.5L704.5 243.5ZM708.5 245.5L707.5 245.5L706.5 244.5L706.5 243.5L707.5 242.5L708.5 242.5L708.5 243.5L708.5 246.5L708.5 247.5L707.5 247.5 M709.5 243.5L710.5 242.5L710.5 247.5 M712.5 242.5L713.5 242.5L713.5 243.5L713.5 244.5L713.5 244.5L712.5 244.5L712.5 244.5L712.5 243.5ZM712.5 244.5L712.5 245.5L712.5 246.5L712.5 247.5L713.5 247.5L713.5 246.5L713.5 245.5L713.5 244.5 M714.5 244.5L716.5 244.5L716.5 244.5L716.5 247.5M716.5 245.5L715.5 245.5L714.5 246.5L715.5 247.5L716.5 247.5 " stroke="#ff0000" fill="none"/>
<path d="M665.5 219.5L666.5 219.5L667.5 220.5L667.5 222.5L666.5 224.5L665.5 224.5ZM668.5 224.5L668.5 219.5L670.5 224.5L670.5 219.5 M671.5 220.5L672.5 219.5L672.5 224.5 M674.5 219.5L675.5 219.5L675.5 220.5L675.5 223.5L675.5 224.5L674.5 224.5L673.5 223.5L673.5 220.5ZM677.5 219.5L678.5 219.5L678.5 220.5L678.5 223.5L678.5 224.5L677.5 224.5L676.5 223.5L676.5 220.5Z" stroke="#ff0000" fill="none" transform="rotate(-90 672 224)"/>
<path d="M725.5 207.5L726.5 207.5L727.5 208.5L727.5 210.5L726.5 212.5L725.5 212.5ZM728.5 212.5L728.5 207.5L730.5 212.5L730.5 207.5 M731.5 208.5L732.5 207.5L732.5 212.5 M734.5 207.5L735.5 207.5L735.5 208.5L735.5 211.5L735.5 212.5L734.5 212.5L733.5 211.5L733.5 208.5ZM737.5 207.5L738.5 207.5L738.5 208.5L738.5 211.5L738.5 212.5L737.5 212.5L736.5 211.5L736.5 208.5Z" stroke="#ff0000" fill="none" transform="rotate(-90 732 212)"/>
<line x1="723.5" y1="200" x2="723.5" y2="238" stroke="#ff7f7f"/>
<line x1="717" y1="200.5" x2="741" y2="200.5" stroke="#ff7f7f"/>
<line x1="718" y1="223.5" x2="729" y2="223.5" stroke="#ff7f7f"/>
<line x1="718" y1="225.5" x2="729" y2="225.5" stroke="#ff7f7f"/>
<path d="M713.5 208.5L714.5 207.5L714.5 212.5 M716.5 208.5L716.5 207.5L717.5 207.5L718.5 208.5L718.5 208.5L716.5 212.5L718.5 212.5 M720.5 207.5L721.5 207.5L721.5 208.5L721.5 211.5L721.5 212.5L720.5 212.5L719.5 211.5L719.5 208.5ZM723.5 207.5L724.5 207.5L724.5 208.5L724.5 211.5L724.5 212.5L723.5 212.5L722.5 211.5L722.5 208.5Z" stroke="#ffffff" fill="none" transform="rotate(-90 719 212)"/>
<path d="M713.5 228.5L714.5 227.5L714.5 232.5 M716.5 228.5L717.5 227.5L717.5 232.5 M720.5 227.5L721.5 227.5L721.5 228.5L721.5 231.5L721.5 232.5L720.5 232.5L719.5 231.5L719.5 228.5ZM723.5 227.5L724.5 227.5L724.5 228.5L724.5 231.5L724.5 232.5L723.5 232.5L722.5 231.5L722.5 228.5Z" stroke="#ffffff" fill="none" transform="rotate(-90 719 232)"/>
<path d="M810.5 218.5L811.5 218.5L811.5 219.5L811.5 221.5L811.5 222.5L810.5 222.5ZM812.5 222.5L812.5 218.5L814.5 222.5L814.5 218.5 M815.5 219.5L816.5 218.5L816.5 222.5 M818.5 218.5L819.5 218.5L819.5 218.5L819.5 221.5L819.5 222.5L818.5 222.5L817.5 221.5L817.5 218.5ZM820.5 218.5L821.5 218.5L822.5 218.5L822.5 221.5L821.5 222.5L820.5 222.5L820.5 221.5L820.5 218.5Z" stroke="#ff0000" fill="none" transform="rotate(-90 810 222)"/>
<line x1="816.5" y1="213" x2="816.5" y2="239" stroke="#00ffff"/>
<rect x="814.9" y="211.4" width="3.2" height="3.2" stroke="#ffffff" fill="#ff00ff"/>
<rect x="589.5" y="108.5" width="12" height="20" stroke="#ffffff" fill="none"/>
<path d="M591.5 117.5L591.5 119.5L592.5 117.5M591.5 119.5L591.5 121.5 M593.5 117.5L594.5 117.5L594.5 117.5L595.5 117.5L595.5 118.5L593.5 121.5L595.5 121.5 " stroke="#ffffff" fill="none"/>
<path d="M315 53h4v1h-4zM314 58h5v1h-5zM315 56h3v1h-3zM316 53h1v6h-1zM314 55h1v4h-1zM320 58h5v1h-5zM321 55h4v1h-4zM322 53h1v6h-1zM320 53h1v6h-1zM325 53h5v1h-5zM325 58h5v1h-5zM326 55h4v1h-4zM326 53h1v6h-1zM329 54h1v5h-1zM327 56h1v3h-1zM331 53h5v1h-5zM331 58h5v1h-5zM332 55h4v1h-4zM334 53h1v6h-1zM331 53h1v6h-1zM335 55h1v3h-1z" fill="#ffffff"/>
<line x1="314" y1="60.5" x2="342.6" y2="60.5" stroke="#7098f8"/>
<line x1="342.6" y1="60.5" x2="342.6" y2="104" stroke="#7098f8"/>
<line x1="370" y1="77.5" x2="381.7" y2="77.5" stroke="#7098f8"/>
<line x1="381.7" y1="77.5" x2="381.7" y2="104" stroke="#7098f8"/>
<path d="M370.5 69.5L370.5 75.5L372.5 75.5 M373.5 75.5L373.5 69.5L376.5 75.5L376.5 69.5 " stroke="#ffffff" fill="none"/>
<line x1="391.8" y1="78.5" x2="401.9" y2="78.5" stroke="#7098f8"/>
<line x1="391.8" y1="78.5" x2="391.8" y2="104" stroke="#7098f8"/>
<path d="M392.5 70.5L392.5 76.5L394.5 76.5 M395.5 76.5L395.5 70.5L398.5 76.5L398.5 70.5 " stroke="#ffffff" fill="none"/>
<line x1="515" y1="72.5" x2="526.7" y2="72.5" stroke="#7098f8"/>
<line x1="526.7" y1="72.5" x2="526.7" y2="104" stroke="#7098f8"/>
<path d="M515.5 64.5L515.5 70.5L517.5 70.5 M518.5 70.5L518.5 64.5L521.5 70.5L521.5 64.5 " stroke="#ffffff" fill="none"/>
<line x1="536.7" y1="70.5" x2="549" y2="70.5" stroke="#7098f8"/>
<line x1="536.7" y1="70.5" x2="536.7" y2="104" stroke="#7098f8"/>
<path d="M539.5 62.5L539.5 68.5L542.5 68.5 M543.5 68.5L543.5 62.5L545.5 68.5L545.5 62.5 " stroke="#ffffff" fill="none"/>
<path d="M607 53h5v1h-5zM607 58h5v1h-5zM607 56h4v1h-4zM610 53h1v6h-1zM611 55h1v4h-1zM613 58h5v1h-5zM613 56h4v1h-4zM614 53h1v6h-1zM617 55h1v4h-1zM618 58h5v1h-5zM618 55h4v1h-4zM621 53h1v6h-1zM618 54h1v5h-1zM622 55h1v3h-1zM624 58h5v1h-5zM625 56h3v1h-3zM625 53h1v6h-1zM628 53h1v6h-1z" fill="#ffffff"/>
<line x1="607" y1="60.4" x2="636.5" y2="60.4" stroke="#7098f8"/>
<line x1="636.5" y1="60.4" x2="636.5" y2="104" stroke="#7098f8"/>
<path d="M658 69h5v1h-5zM658 74h5v1h-5zM659 72h3v1h-3zM659 69h1v6h-1zM662 70h1v5h-1zM664 69h4v1h-4zM663 74h5v1h-5zM663 71h4v1h-4zM666 69h1v6h-1zM667 70h1v5h-1zM669 69h5v1h-5zM669 74h5v1h-5zM669 72h4v1h-4zM672 69h1v6h-1zM669 70h1v5h-1zM672 72h1v2h-1z" fill="#ffffff"/>
<line x1="651" y1="76.2" x2="676.5" y2="76.2" stroke="#7098f8"/>
<line x1="651" y1="76.2" x2="651" y2="104" stroke="#7098f8"/>
<path d="M721 69h5v1h-5zM721 74h5v1h-5zM722 71h3v1h-3zM724 69h1v6h-1zM721 71h1v4h-1zM722 71h1v3h-1zM728 69h4v1h-4zM727 74h5v1h-5zM727 71h4v1h-4zM728 69h1v6h-1zM727 70h1v5h-1zM733 69h4v1h-4zM732 74h5v1h-5zM733 72h4v1h-4zM734 69h1v6h-1zM732 69h1v6h-1zM732 71h1v4h-1z" fill="#ffffff"/>
<line x1="712" y1="76.2" x2="738.5" y2="76.2" stroke="#7098f8"/>
<line x1="712" y1="76.2" x2="712" y2="104" stroke="#7098f8"/>
<path d="M794 71h5v1h-5zM794 76h5v1h-5zM795 74h3v1h-3zM795 71h1v6h-1zM794 72h1v5h-1zM796 72h1v3h-1zM800 71h5v1h-5zM800 76h5v1h-5zM800 73h4v1h-4zM803 71h1v6h-1zM804 73h1v4h-1zM806 71h5v1h-5zM806 76h5v1h-5zM807 74h4v1h-4zM809 71h1v6h-1zM810 73h1v4h-1z" fill="#ffffff"/>
<line x1="788.2" y1="78.2" x2="813.2" y2="78.2" stroke="#7098f8"/>
<line x1="788.2" y1="78.2" x2="788.2" y2="104" stroke="#7098f8"/>
<path d="M862 75h5v1h-5zM862 72h5v1h-5zM864 70h1v6h-1zM866 72h1v4h-1zM869 70h4v1h-4zM868 75h5v1h-5zM869 72h4v1h-4zM869 70h1v6h-1zM868 71h1v5h-1zM873 75h5v1h-5zM874 72h4v1h-4zM874 70h1v6h-1zM873 72h1v4h-1zM876 71h1v3h-1z" fill="#ffffff"/>
<line x1="855" y1="77" x2="881" y2="77" stroke="#7098f8"/>
<line x1="855" y1="77" x2="855" y2="104" stroke="#7098f8"/>
<path d="M959 53h4v1h-4zM958 58h5v1h-5zM958 55h4v1h-4zM960 53h1v6h-1zM958 53h1v6h-1zM962 56h1v3h-1zM964 53h5v1h-5zM964 58h5v1h-5zM965 56h3v1h-3zM965 53h1v6h-1zM968 53h1v6h-1zM964 55h1v2h-1zM971 53h4v1h-4zM970 58h5v1h-5zM971 55h3v1h-3zM973 53h1v6h-1zM974 54h1v5h-1zM972 54h1v3h-1zM976 53h4v1h-4zM975 58h5v1h-5zM975 55h5v1h-5zM976 53h1v6h-1zM979 54h1v5h-1z" fill="#ffffff"/>
<line x1="958.4" y1="60.4" x2="987.8" y2="60.4" stroke="#7098f8"/>
<line x1="987.8" y1="60.4" x2="987.8" y2="104" stroke="#7098f8"/>
<line x1="1018" y1="57.5" x2="1035.5" y2="57.5" stroke="#7098f8"/>
<line x1="1035.5" y1="57.5" x2="1035.5" y2="104" stroke="#7098f8"/>
<path d="M1018.5 49.5L1018.5 55.5L1020.5 55.5 M1021.5 55.5L1021.5 49.5L1024.5 55.5L1024.5 49.5 " stroke="#ffffff" fill="none"/>
<line x1="1045.3" y1="57.5" x2="1057" y2="57.5" stroke="#7098f8"/>
<line x1="1045.3" y1="57.5" x2="1045.3" y2="104" stroke="#7098f8"/>
<path d="M1049.5 49.5L1049.5 55.5L1051.5 55.5 M1052.5 55.5L1052.5 49.5L1055.5 55.5L1055.5 49.5 " stroke="#ffffff" fill="none"/>
<line x1="298" y1="462.4" x2="308.5" y2="462.4" stroke="#7098f8"/>
<line x1="308.5" y1="442" x2="308.5" y2="462.4" stroke="#7098f8"/>
<path d="M298.5 455.5L298.5 461.5L300.5 461.5 M301.5 461.5L301.5 455.5L304.5 461.5L304.5 455.5 " stroke="#ffffff" fill="none"/>
<line x1="370" y1="462.4" x2="381.9" y2="462.4" stroke="#7098f8"/>
<line x1="381.9" y1="442" x2="381.9" y2="462.4" stroke="#7098f8"/>
<path d="M370.5 455.5L370.5 461.5L372.5 461.5 M373.5 461.5L373.5 455.5L376.5 461.5L376.5 455.5 " stroke="#ffffff" fill="none"/>
<line x1="513.4" y1="462.4" x2="524.9" y2="462.4" stroke="#7098f8"/>
<line x1="524.9" y1="442" x2="524.9" y2="462.4" stroke="#7098f8"/>
<path d="M513.5 455.5L513.5 461.5L515.5 461.5 M517.5 461.5L517.5 455.5L519.5 461.5L519.5 455.5 " stroke="#ffffff" fill="none"/>
<line x1="536.4" y1="462.4" x2="546.7" y2="462.4" stroke="#7098f8"/>
<line x1="536.4" y1="442" x2="536.4" y2="462.4" stroke="#7098f8"/>
<path d="M538.5 455.5L538.5 461.5L541.5 461.5 M542.5 461.5L542.5 455.5L544.5 461.5L544.5 455.5 " stroke="#ffffff" fill="none"/>
<line x1="660.6" y1="462.4" x2="672.8" y2="462.4" stroke="#7098f8"/>
<line x1="672.8" y1="442" x2="672.8" y2="462.4" stroke="#7098f8"/>
<path d="M660.5 455.5L660.5 461.5L663.5 461.5 M664.5 461.5L664.5 455.5L666.5 461.5L666.5 455.5 " stroke="#ffffff" fill="none"/>
<line x1="682.4" y1="462.4" x2="693.8" y2="462.4" stroke="#7098f8"/>
<line x1="682.4" y1="442" x2="682.4" y2="462.4" stroke="#7098f8"/>
<path d="M684.5 455.5L684.5 461.5L686.5 461.5 M687.5 461.5L687.5 455.5L690.5 461.5L690.5 455.5 " stroke="#ffffff" fill="none"/>
<line x1="803.4" y1="462.4" x2="814.4" y2="462.4" stroke="#7098f8"/>
<line x1="814.4" y1="442" x2="814.4" y2="462.4" stroke="#7098f8"/>
<path d="M803.5 455.5L803.5 461.5L805.5 461.5 M807.5 461.5L807.5 455.5L809.5 461.5L809.5 455.5 " stroke="#ffffff" fill="none"/>
<line x1="827.2" y1="462.4" x2="837" y2="462.4" stroke="#7098f8"/>
<line x1="827.2" y1="442" x2="827.2" y2="462.4" stroke="#7098f8"/>
<path d="M828.5 455.5L828.5 461.5L831.5 461.5 M832.5 461.5L832.5 455.5L834.5 461.5L834.5 455.5 " stroke="#ffffff" fill="none"/>
<line x1="951.8" y1="462.4" x2="962.8" y2="462.4" stroke="#7098f8"/>
<line x1="962.8" y1="442" x2="962.8" y2="462.4" stroke="#7098f8"/>
<path d="M951.5 455.5L951.5 461.5L954.5 461.5 M955.5 461.5L955.5 455.5L957.5 461.5L957.5 455.5 " stroke="#ffffff" fill="none"/>
<line x1="1024.7" y1="462.4" x2="1035.7" y2="462.4" stroke="#7098f8"/>
<line x1="1035.7" y1="442" x2="1035.7" y2="462.4" stroke="#7098f8"/>
<path d="M1024.5 455.5L1024.5 461.5L1027.5 461.5 M1028.5 461.5L1028.5 455.5L1030.5 461.5L1030.5 455.5 " stroke="#ffffff" fill="none"/>
<line x1="1045.4" y1="462.4" x2="1055.2" y2="462.4" stroke="#7098f8"/>
<line x1="1045.4" y1="442" x2="1045.4" y2="462.4" stroke="#7098f8"/>
<path d="M1046.5 455.5L1046.5 461.5L1049.5 461.5 M1050.5 461.5L1050.5 455.5L1052.5 461.5L1052.5 455.5 " stroke="#ffffff" fill="none"/>
<path d="M317 471h5v1h-5zM318 468h4v1h-4zM319 466h1v6h-1zM321 466h1v6h-1zM319 467h1v3h-1zM324 466h4v1h-4zM323 471h5v1h-5zM324 468h4v1h-4zM324 466h1v6h-1zM327 467h1v5h-1zM329 466h4v1h-4zM328 471h5v1h-5zM329 468h4v1h-4zM329 466h1v6h-1zM328 466h1v6h-1zM332 467h1v4h-1zM335 466h4v1h-4zM334 471h5v1h-5zM334 468h4v1h-4zM335 466h1v6h-1zM334 467h1v5h-1zM334 469h1v2h-1z" fill="#ffffff"/>
<line x1="317" y1="475" x2="349.5" y2="475" stroke="#7098f8"/>
<line x1="349.5" y1="427" x2="349.5" y2="475" stroke="#7098f8"/>
<path d="M680 466h5v1h-5zM680 471h5v1h-5zM680 468h5v1h-5zM682 466h1v6h-1zM684 466h1v6h-1zM681 467h1v5h-1zM686 466h5v1h-5zM686 471h5v1h-5zM686 469h5v1h-5zM688 466h1v6h-1zM690 467h1v5h-1zM692 466h4v1h-4zM691 471h5v1h-5zM692 468h4v1h-4zM694 466h1v6h-1zM691 467h1v5h-1zM698 466h4v1h-4zM697 471h5v1h-5zM697 468h4v1h-4zM699 466h1v6h-1zM701 466h1v6h-1z" fill="#ffffff"/>
<line x1="680" y1="475" x2="712.8" y2="475" stroke="#7098f8"/>
<line x1="712.8" y1="427" x2="712.8" y2="475" stroke="#7098f8"/>
<path d="M1088 472h4v1h-4zM1087 477h5v1h-5zM1088 475h3v1h-3zM1090 472h1v6h-1zM1091 472h1v6h-1zM1091 474h1v4h-1zM1094 472h4v1h-4zM1093 477h5v1h-5zM1094 475h4v1h-4zM1096 472h1v6h-1zM1093 474h1v4h-1zM1098 472h5v1h-5zM1098 477h5v1h-5zM1099 475h4v1h-4zM1101 472h1v6h-1zM1098 474h1v4h-1zM1099 475h1v1h-1zM1104 477h5v1h-5zM1105 474h4v1h-4zM1105 472h1v6h-1zM1104 473h1v5h-1zM1107 475h1v3h-1z" fill="#ffffff"/>
<line x1="1080.4" y1="481" x2="1110" y2="481" stroke="#7098f8"/>
<line x1="1080.4" y1="427" x2="1080.4" y2="481" stroke="#7098f8"/>
<circle cx="446.7" cy="28.8" r="9.8" stroke="#ff00ff" fill="none"/>
<line x1="412.2" y1="28.8" x2="456.5" y2="28.8" stroke="#ff00ff"/>
<line x1="412.2" y1="28.8" x2="412.2" y2="106" stroke="#ff00ff"/>
<path d="M445.5 20.5L447.5 20.5L446.5 22.5L447.5 22.5L447.5 23.5L447.5 25.5L447.5 26.5L446.5 26.5L445.5 25.5 " stroke="#ffffff" fill="none"/>
<path d="M444.5 30.5L441.5 30.5L441.5 33.5L443.5 33.5L444.5 34.5L444.5 35.5L443.5 36.5L441.5 36.5 M446.5 30.5L447.5 30.5L447.5 31.5L447.5 35.5L447.5 36.5L446.5 36.5L445.5 35.5L445.5 31.5ZM449.5 32.5L450.5 30.5L450.5 36.5 " stroke="#ffffff" fill="none"/>
<path d="M426 20h5v1h-5zM425 26h6v1h-6zM426 23h4v1h-4zM429 20h1v7h-1zM430 20h1v7h-1zM430 22h1v4h-1z" fill="#ffffff"/>
<path d="M417 31h5v1h-5zM417 36h5v1h-5zM418 33h3v1h-3zM419 31h1v6h-1zM417 32h1v5h-1zM417 33h1v4h-1zM423 31h5v1h-5zM423 36h5v1h-5zM423 33h5v1h-5zM426 31h1v6h-1zM423 33h1v4h-1zM430 31h4v1h-4zM429 36h5v1h-5zM429 33h4v1h-4zM430 31h1v6h-1zM429 31h1v6h-1z" fill="#ffffff"/>
<circle cx="737.2" cy="28.8" r="9.8" stroke="#ff00ff" fill="none"/>
<line x1="703.5" y1="28.8" x2="747" y2="28.8" stroke="#ff00ff"/>
<line x1="703.5" y1="28.8" x2="703.5" y2="106" stroke="#ff00ff"/>
<path d="M738.5 20.5L735.5 20.5L735.5 22.5L737.5 22.5L738.5 23.5L738.5 25.5L737.5 26.5L735.5 26.5 " stroke="#ffffff" fill="none"/>
<path d="M734.5 30.5L732.5 30.5L732.5 33.5L733.5 33.5L734.5 34.5L734.5 35.5L733.5 36.5L732.5 36.5 M736.5 30.5L737.5 30.5L738.5 31.5L738.5 35.5L737.5 36.5L736.5 36.5L735.5 35.5L735.5 31.5ZM739.5 31.5L740.5 30.5L741.5 30.5L742.5 31.5L742.5 32.5L739.5 36.5L742.5 36.5 " stroke="#ffffff" fill="none"/>
<path d="M715 20h6v1h-6zM715 26h6v1h-6zM716 22h5v1h-5zM719 20h1v7h-1zM720 20h1v7h-1zM720 22h1v4h-1z" fill="#ffffff"/>
<path d="M707 31h5v1h-5zM707 36h5v1h-5zM707 34h4v1h-4zM708 31h1v6h-1zM707 32h1v5h-1zM709 32h1v5h-1zM714 31h4v1h-4zM713 36h5v1h-5zM713 33h4v1h-4zM715 31h1v6h-1zM713 33h1v4h-1zM717 32h1v5h-1zM719 36h5v1h-5zM720 33h4v1h-4zM722 31h1v6h-1zM723 32h1v5h-1zM720 32h1v4h-1z" fill="#ffffff"/>
<circle cx="1028.3" cy="28.8" r="9.8" stroke="#ff00ff" fill="none"/>
<line x1="993.5" y1="28.8" x2="1038.1" y2="28.8" stroke="#ff00ff"/>
<line x1="993.5" y1="28.8" x2="993.5" y2="106" stroke="#ff00ff"/>
<path d="M1029.5 20.5L1027.5 20.5L1027.5 21.5L1027.5 25.5L1027.5 26.5L1028.5 26.5L1029.5 25.5L1029.5 23.5L1028.5 22.5L1027.5 22.5 " stroke="#ffffff" fill="none"/>
<path d="M1025.5 30.5L1023.5 30.5L1023.5 33.5L1025.5 33.5L1025.5 34.5L1025.5 35.5L1025.5 36.5L1023.5 36.5 M1027.5 30.5L1028.5 30.5L1029.5 31.5L1029.5 35.5L1028.5 36.5L1027.5 36.5L1027.5 35.5L1027.5 31.5ZM1030.5 31.5L1031.5 30.5L1032.5 30.5L1033.5 31.5L1033.5 32.5L1030.5 36.5L1033.5 36.5 " stroke="#ffffff" fill="none"/>
<path d="M1006 20h6v1h-6zM1006 26h6v1h-6zM1007 23h5v1h-5zM1010 20h1v7h-1zM1006 22h1v5h-1z" fill="#ffffff"/>
<path d="M999 31h4v1h-4zM998 36h5v1h-5zM998 34h4v1h-4zM1001 31h1v6h-1zM1002 33h1v4h-1zM998 32h1v5h-1zM1005 31h4v1h-4zM1004 36h5v1h-5zM1004 33h5v1h-5zM1007 31h1v6h-1zM1004 33h1v4h-1zM1010 36h5v1h-5zM1010 34h5v1h-5zM1013 31h1v6h-1zM1014 33h1v4h-1zM1012 34h1v3h-1z" fill="#ffffff"/>
<circle cx="1166.5" cy="253.1" r="9.8" stroke="#ff00ff" fill="none"/>
<line x1="1102" y1="253.1" x2="1176.3" y2="253.1" stroke="#ff00ff"/>
<path d="M1165.5 245.5L1165.5 244.5L1167.5 244.5L1167.5 245.5L1167.5 246.5L1165.5 250.5L1167.5 250.5 " stroke="#ffffff" fill="none"/>
<path d="M1163.5 255.5L1161.5 255.5L1161.5 257.5L1163.5 257.5L1163.5 258.5L1163.5 260.5L1163.5 261.5L1161.5 261.5 M1165.5 255.5L1167.5 255.5L1167.5 256.5L1167.5 260.5L1167.5 261.5L1165.5 261.5L1165.5 260.5L1165.5 256.5ZM1169.5 256.5L1170.5 255.5L1170.5 261.5 " stroke="#ffffff" fill="none"/>
<path d="M1145 244h5v1h-5zM1144 250h6v1h-6zM1144 247h6v1h-6zM1147 244h1v7h-1zM1149 244h1v7h-1z" fill="#ffffff"/>
<path d="M1137 255h4v1h-4zM1136 260h5v1h-5zM1136 257h5v1h-5zM1137 255h1v6h-1zM1136 257h1v4h-1zM1139 257h1v2h-1zM1142 260h5v1h-5zM1142 257h5v1h-5zM1143 255h1v6h-1zM1142 255h1v6h-1zM1145 257h1v4h-1zM1148 255h5v1h-5zM1148 260h5v1h-5zM1149 257h4v1h-4zM1149 255h1v6h-1zM1148 257h1v4h-1zM1150 257h1v3h-1z" fill="#ffffff"/>
<circle cx="1166.5" cy="332.1" r="9.8" stroke="#ff00ff" fill="none"/>
<line x1="1103" y1="332.1" x2="1176.3" y2="332.1" stroke="#ff00ff"/>
<path d="M1167.5 329.5L1167.5 323.5L1165.5 327.5L1167.5 327.5 " stroke="#ffffff" fill="none"/>
<path d="M1163.5 334.5L1161.5 334.5L1161.5 336.5L1163.5 336.5L1163.5 337.5L1163.5 339.5L1163.5 340.5L1161.5 340.5 M1165.5 334.5L1167.5 334.5L1167.5 335.5L1167.5 339.5L1167.5 340.5L1165.5 340.5L1165.5 339.5L1165.5 335.5ZM1169.5 335.5L1169.5 334.5L1171.5 334.5L1171.5 335.5L1171.5 336.5L1169.5 340.5L1171.5 340.5 " stroke="#ffffff" fill="none"/>
<path d="M1145 323h5v1h-5zM1144 329h6v1h-6zM1144 326h6v1h-6zM1147 323h1v7h-1zM1149 323h1v7h-1z" fill="#ffffff"/>
<path d="M1137 334h4v1h-4zM1136 339h5v1h-5zM1136 336h5v1h-5zM1137 334h1v6h-1zM1136 336h1v4h-1zM1139 336h1v2h-1zM1142 339h5v1h-5zM1142 336h5v1h-5zM1143 334h1v6h-1zM1142 334h1v6h-1zM1145 336h1v4h-1zM1148 334h5v1h-5zM1148 339h5v1h-5zM1149 336h4v1h-4zM1149 334h1v6h-1zM1148 336h1v4h-1zM1150 336h1v3h-1z" fill="#ffffff"/>
<line x1="1103" y1="330.6" x2="1118" y2="330.6" stroke="#ff00ff"/>
<line x1="1102" y1="250" x2="1117" y2="250" stroke="#ff00ff"/>
<circle cx="1033.2" cy="477.2" r="9.8" stroke="#ff00ff" fill="none"/>
<line x1="1023.4" y1="477.2" x2="1073.5" y2="477.2" stroke="#ff00ff"/>
<line x1="1073.5" y1="477.2" x2="1073.5" y2="388" stroke="#ff00ff"/>
<line x1="1076.5" y1="388" x2="1076.5" y2="400" stroke="#ff00ff"/>
<path d="M1032.5 470.5L1033.5 468.5L1033.5 474.5 " stroke="#ffffff" fill="none"/>
<path d="M1030.5 479.5L1028.5 479.5L1028.5 481.5L1029.5 481.5L1030.5 482.5L1030.5 484.5L1029.5 485.5L1028.5 485.5 M1032.5 479.5L1033.5 479.5L1034.5 480.5L1034.5 484.5L1033.5 485.5L1032.5 485.5L1031.5 484.5L1031.5 480.5ZM1035.5 480.5L1037.5 479.5L1037.5 485.5 " stroke="#ffffff" fill="none"/>
<path d="M1047 474h6v1h-6zM1047 471h6v1h-6zM1050 468h1v7h-1zM1052 469h1v6h-1zM1048 471h1v3h-1z" fill="#ffffff"/>
<path d="M1048 479h4v1h-4zM1047 484h5v1h-5zM1047 481h4v1h-4zM1050 479h1v6h-1zM1051 480h1v5h-1zM1048 480h1v4h-1zM1053 479h5v1h-5zM1053 484h5v1h-5zM1053 481h4v1h-4zM1054 479h1v6h-1zM1057 480h1v5h-1zM1060 479h4v1h-4zM1059 484h5v1h-5zM1059 481h4v1h-4zM1061 479h1v6h-1zM1063 479h1v6h-1zM1060 482h1v3h-1z" fill="#ffffff"/>
<line x1="415.2" y1="92" x2="415.2" y2="106" stroke="#ff00ff"/>
<line x1="706.5" y1="92" x2="706.5" y2="106" stroke="#ff00ff"/>
<line x1="996.5" y1="92" x2="996.5" y2="106" stroke="#ff00ff"/>
</svg></body></html>
